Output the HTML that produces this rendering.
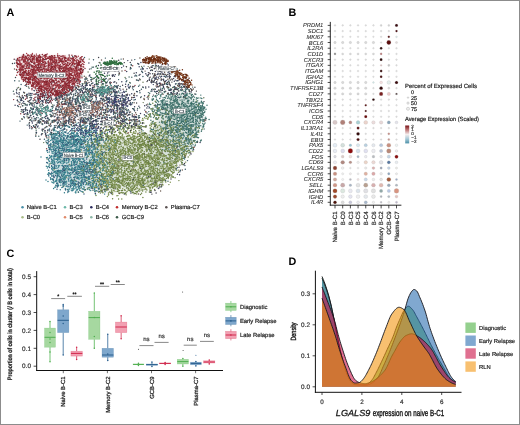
<!DOCTYPE html>
<html><head><meta charset="utf-8"><style>
html,body{margin:0;padding:0;background:#fff;}
#f{position:relative;width:520px;height:425px;overflow:hidden;background:#fff;}
svg{position:absolute;left:0;top:0;font-family:'Liberation Sans', sans-serif;will-change:transform;text-rendering:geometricPrecision;}
.bd{position:absolute;left:0;top:0;width:518px;height:423px;border:1px solid #8c8c8c;}
</style></head><body><div id="f">
<svg width="520" height="425" viewBox="0 0 520 425">
<text x="6.6" y="15.8" font-size="10.8" text-anchor="start" fill="#000" font-weight="bold">A</text>
<text x="288.6" y="16.2" font-size="10.8" text-anchor="start" fill="#000" font-weight="bold">B</text>
<text x="6.6" y="257" font-size="10.8" text-anchor="start" fill="#000" font-weight="bold">C</text>
<text x="288.6" y="265" font-size="10.8" text-anchor="start" fill="#000" font-weight="bold">D</text>
<defs><filter id="bl" x="-20%" y="-20%" width="140%" height="140%"><feGaussianBlur stdDeviation="3"/></filter><filter id="bl2" x="-20%" y="-20%" width="140%" height="140%"><feGaussianBlur stdDeviation="1.6"/></filter></defs>
<path d="M17.0 57.5L22.0 55.5L45.0 55.5L65.0 56.0L80.0 57.5L83.5 61.0L83.5 70.0L80.0 80.0L74.0 88.0L66.0 94.0L58.0 97.0L50.0 96.0L40.0 91.0L30.0 85.0L22.0 78.0L18.0 70.0L16.5 63.0Z" fill="#d8a8ae" fill-opacity="0.35" filter="url(#bl2)"/>
<defs><linearGradient id="lg" gradientUnits="userSpaceOnUse" x1="50" y1="150" x2="205" y2="130"><stop offset="0" stop-color="#a0bec4"/><stop offset="0.22" stop-color="#a2bec2"/><stop offset="0.36" stop-color="#b0c2ae"/><stop offset="0.55" stop-color="#b8c6ac"/><stop offset="0.75" stop-color="#adc2b4"/><stop offset="1" stop-color="#a4bebc"/></linearGradient></defs>
<path d="M52.0 140.0L70.0 134.0L95.0 140.0L120.0 138.0L148.0 137.0L160.0 116.0L166.0 99.0L177.0 93.0L192.0 97.0L199.0 106.0L201.0 120.0L196.0 136.0L188.0 149.0L178.0 162.0L169.0 174.0L159.0 184.0L140.0 190.0L110.0 190.0L90.0 187.0L72.0 188.0L60.0 185.0L53.0 176.0L51.0 158.0Z" fill="url(#lg)" fill-opacity="0.5" filter="url(#bl)"/>
<path d="M110.5 88.8h0M58.9 96.5h0M116.6 106.8h0M42.4 120.8h0M107.2 99.5h0M100.7 107.5h0M113.7 109.7h0M93.6 106.8h0M91.8 105.7h0M120.6 120.8h0M181.9 164.6h0M140.3 79.7h0M48.1 122.7h0M98.6 72.3h0M21.8 118.7h0M40.4 98.2h0M115.5 113.0h0M96.8 112.0h0M31.5 108.7h0M81.8 100.9h0M89.5 118.1h0M134.3 119.0h0M109.6 69.4h0M28.4 101.1h0M90.7 117.2h0M112.2 92.3h0M102.1 92.4h0M122.4 110.9h0M110.9 106.2h0M27.1 116.7h0M67.7 88.0h0M37.1 108.1h0M78.2 86.1h0M114.3 129.7h0M104.7 118.1h0M67.9 170.0h0M101.2 113.1h0M47.1 158.9h0M122.6 119.6h0M87.1 99.1h0M114.5 92.5h0M49.6 120.0h0M98.2 84.0h0M169.7 151.7h0M103.5 122.4h0M80.0 103.7h0M65.3 91.9h0M63.5 92.6h0M122.5 100.2h0M105.4 114.2h0M151.9 69.7h0M146.0 111.9h0M29.6 104.5h0M117.8 97.6h0M65.5 114.4h0M43.7 142.6h0M88.0 94.0h0M84.5 142.7h0M83.9 94.0h0M113.7 107.0h0M127.2 119.2h0M125.1 77.5h0M126.1 95.0h0M88.5 91.1h0M123.5 104.5h0M85.5 117.6h0M18.6 87.5h0M123.0 114.8h0M52.5 105.0h0M32.8 112.5h0M21.2 111.4h0M93.5 118.6h0M28.0 114.5h0M186.6 98.1h0M143.2 102.6h0M70.9 97.7h0M129.7 125.6h0M88.0 99.3h0M114.4 98.3h0M77.0 95.4h0M85.3 81.0h0M126.6 108.9h0M103.7 98.3h0M122.8 108.6h0M117.9 117.0h0M102.0 67.6h0M94.9 108.6h0M118.5 126.3h0M69.5 159.5h0M126.4 91.1h0M203.8 97.7h0M48.3 122.0h0M103.7 114.9h0M30.4 115.4h0M24.0 103.6h0M68.9 140.9h0M100.0 114.2h0M96.2 91.5h0M188.9 85.6h0M35.9 128.5h0M38.1 121.9h0M62.9 122.0h0M89.2 59.1h0M117.8 107.8h0M86.9 101.2h0M78.7 87.3h0M70.0 100.3h0M145.1 161.7h0M67.7 110.1h0M111.9 117.1h0M102.1 96.8h0M40.9 122.7h0M177.6 85.3h0M24.3 93.0h0M118.7 118.3h0M88.1 71.9h0M120.6 107.9h0M101.4 136.4h0M138.3 117.8h0M129.6 82.5h0M108.5 108.7h0M60.2 109.2h0M86.1 83.2h0M155.3 66.8h0M64.9 121.8h0M150.1 60.7h0M147.0 146.3h0M66.3 111.7h0M105.5 106.7h0M148.2 66.6h0M53.9 120.8h0M196.4 132.6h0M75.9 106.8h0M90.4 123.5h0M61.1 95.3h0M101.4 84.9h0M102.7 86.8h0M141.6 66.4h0M90.8 103.2h0M104.1 112.5h0M102.9 122.0h0M88.3 96.5h0M48.8 139.0h0M78.5 115.1h0M143.0 82.3h0M98.6 91.6h0M58.2 105.4h0M126.5 66.8h0M84.2 83.6h0M71.2 104.5h0" stroke="#6a7a5a" stroke-width="1.45" stroke-linecap="round" fill="none"/>
<path d="M128.1 99.0h0M96.4 129.1h0M118.3 100.0h0M122.4 104.1h0M113.6 90.7h0M78.9 126.2h0M110.0 129.8h0M104.8 92.9h0M115.3 100.2h0M107.3 106.7h0M88.7 131.8h0M95.6 128.9h0M119.2 95.6h0M123.5 104.7h0M94.9 132.2h0M100.5 98.8h0M123.4 106.0h0M87.9 132.2h0M119.0 101.5h0M89.8 132.3h0M96.3 122.0h0M113.5 91.7h0M86.5 133.9h0M120.8 109.9h0M93.0 124.4h0M83.0 132.8h0M102.9 135.7h0M87.1 130.7h0M118.6 101.9h0M119.4 101.2h0M100.0 128.9h0M105.9 130.8h0M79.7 126.0h0M112.0 103.1h0M121.9 101.1h0M125.2 98.1h0M85.8 129.5h0M118.3 105.7h0M93.8 127.6h0M119.1 102.0h0M92.3 124.2h0M119.4 103.5h0M125.3 100.4h0M86.7 132.8h0M113.3 101.3h0M102.8 94.7h0M77.1 125.8h0M106.2 96.2h0M127.4 112.1h0M129.0 100.6h0M114.6 108.4h0M84.7 130.4h0M123.5 98.6h0M117.9 101.3h0M126.9 105.5h0M125.1 100.4h0M90.2 122.2h0M112.1 96.5h0M100.2 124.6h0M86.5 127.8h0M115.3 102.2h0M111.3 101.2h0M93.1 127.2h0M86.0 126.3h0M114.2 100.2h0M98.0 135.6h0M120.5 100.0h0M101.5 130.5h0M107.2 99.3h0M102.9 132.3h0M114.4 104.9h0M89.4 129.4h0M85.3 121.5h0M96.7 103.3h0M80.6 130.9h0M114.7 93.0h0M123.0 96.6h0M117.7 107.1h0M101.0 133.0h0M111.3 102.1h0M96.5 136.4h0M93.1 121.6h0M111.4 106.9h0M78.4 130.6h0" stroke="#4a5278" stroke-width="1.45" stroke-linecap="round" fill="none"/>
<path d="M167.3 124.9h0M187.3 101.4h0M171.8 113.4h0M196.3 134.1h0M197.0 119.9h0M148.8 111.6h0M191.6 103.5h0M184.6 106.2h0M189.0 111.0h0M187.4 118.9h0M204.1 119.4h0M157.0 107.0h0M200.0 110.2h0M182.2 129.2h0M175.7 108.1h0M163.5 87.8h0M193.6 101.1h0M195.9 129.2h0M186.1 121.5h0M195.5 129.4h0M170.9 88.7h0M166.5 122.2h0M189.2 128.6h0M170.8 100.1h0M193.3 103.9h0M184.5 120.1h0M200.8 95.1h0M155.3 112.9h0M176.9 147.8h0M193.6 113.1h0M191.5 104.1h0M181.0 116.7h0M173.8 115.0h0M165.0 109.7h0M193.4 120.4h0M167.4 104.0h0M186.2 138.3h0M185.2 97.8h0M189.0 131.6h0M164.6 104.5h0M177.3 127.8h0M165.4 132.1h0M159.7 104.4h0M168.0 120.2h0M190.4 115.6h0M202.7 102.6h0M170.9 127.5h0M179.7 125.5h0M163.1 100.5h0M183.2 119.8h0M188.4 130.2h0M192.9 103.5h0M181.8 129.0h0M157.6 111.3h0M174.3 100.3h0M194.6 135.9h0M193.3 108.5h0M177.9 102.6h0M168.4 132.9h0M162.7 115.5h0M174.2 116.3h0M195.7 115.9h0M188.4 103.3h0M186.4 124.9h0M199.3 118.5h0M202.9 113.2h0M159.8 98.5h0M154.2 133.4h0M165.8 112.2h0M156.5 113.8h0M182.8 111.0h0M171.0 99.1h0M154.4 111.0h0M196.7 112.0h0M195.6 119.4h0M177.1 123.5h0M199.7 123.6h0M153.1 135.5h0M189.1 141.3h0M186.5 139.2h0M184.6 95.1h0M177.8 112.7h0M167.6 121.6h0M180.4 136.3h0M190.2 105.3h0M155.9 105.7h0M179.8 145.9h0M173.6 114.7h0M189.2 106.2h0M183.4 158.2h0M203.9 121.1h0M156.2 102.1h0M185.6 120.9h0M195.4 102.2h0M203.3 119.7h0M180.9 128.5h0M171.5 112.7h0M196.8 124.7h0M152.9 108.2h0M184.1 114.8h0M178.1 131.8h0M178.2 139.7h0M173.2 130.5h0M173.7 90.6h0M165.7 128.7h0M175.7 113.5h0M177.1 113.1h0M179.8 131.1h0M167.6 98.3h0M155.6 118.2h0M155.2 106.9h0M174.1 124.5h0M161.8 108.1h0M196.4 107.4h0M189.1 118.7h0M165.6 122.9h0M201.3 108.4h0M186.8 95.4h0M192.9 115.1h0M203.3 103.6h0M199.3 110.3h0M186.1 132.7h0M183.0 144.4h0M193.2 132.5h0M165.7 129.5h0M190.2 113.7h0M185.6 96.3h0M175.3 95.5h0M188.1 121.6h0M180.5 136.3h0M185.5 90.5h0M187.7 139.1h0M174.3 115.0h0M187.9 115.8h0M181.8 104.9h0M198.9 126.2h0M194.0 114.5h0M190.5 128.0h0M173.0 150.8h0M151.5 138.0h0M172.2 132.2h0M170.5 106.3h0M191.1 106.6h0M179.6 106.6h0M167.4 86.4h0M168.1 107.6h0M152.0 99.1h0M175.9 97.1h0M163.6 140.8h0M196.9 137.2h0M186.8 114.4h0M167.1 104.6h0M170.1 115.1h0M160.8 96.7h0M168.9 119.9h0M190.7 132.8h0M178.2 140.1h0M171.8 118.3h0M170.1 123.2h0M161.6 121.2h0M182.1 126.8h0M173.0 114.8h0M189.8 134.1h0M163.4 128.7h0M197.0 116.8h0M196.1 104.5h0M175.0 127.2h0M176.3 108.1h0M177.6 106.7h0M171.4 125.6h0M186.1 122.1h0M186.7 94.4h0M157.8 133.4h0M201.1 114.9h0M187.2 110.0h0M165.2 124.4h0M170.0 104.5h0M182.3 155.6h0M200.8 113.5h0M204.6 112.2h0M199.1 126.1h0M162.7 121.9h0M169.0 143.8h0M187.1 112.0h0M177.0 116.2h0M185.8 91.8h0M180.0 108.9h0M184.3 150.6h0M169.0 89.2h0M174.6 100.3h0M176.7 100.2h0M164.8 109.2h0M190.5 116.3h0M165.5 97.9h0M192.3 97.0h0M162.6 101.8h0M188.7 132.8h0M158.1 104.8h0M180.2 126.5h0M173.8 114.5h0M171.6 116.9h0M170.3 130.9h0M177.1 102.5h0M172.3 130.4h0M162.9 122.8h0M183.5 104.7h0M175.4 111.4h0M190.9 138.2h0M171.9 121.4h0M202.0 114.2h0M202.4 114.5h0M188.1 114.1h0M168.6 116.6h0M174.2 101.0h0M160.6 132.5h0M160.8 126.7h0M165.1 102.8h0M174.7 115.5h0M175.8 135.2h0M172.6 95.0h0M165.3 131.8h0M176.3 131.1h0M203.2 108.4h0M190.3 139.5h0M192.5 109.3h0M172.6 132.1h0M202.7 104.1h0M179.5 104.5h0M157.1 95.3h0M191.8 97.5h0M198.5 137.7h0M161.0 106.7h0M163.1 115.5h0M174.1 140.8h0M191.0 143.8h0M179.7 118.2h0M173.6 121.8h0M203.4 120.1h0M169.4 125.6h0M187.1 107.9h0M175.9 137.1h0M197.0 132.4h0M193.4 117.8h0M170.5 110.8h0M197.6 137.4h0M176.2 135.2h0M201.1 115.5h0M187.8 116.8h0M163.2 106.9h0M193.4 118.9h0M170.2 108.6h0M162.6 115.9h0M155.1 126.6h0M152.3 100.2h0M181.3 119.0h0M185.1 116.5h0M171.3 106.4h0M191.4 145.9h0M179.8 131.4h0M189.7 130.1h0M196.6 127.8h0M162.4 113.4h0M169.0 94.7h0M164.1 103.9h0M186.6 129.8h0M186.8 109.6h0M178.7 130.0h0M161.9 112.9h0M194.4 107.5h0M203.8 126.0h0M190.5 97.9h0M191.0 110.1h0M178.1 134.6h0M191.8 132.7h0M164.7 97.5h0M179.4 97.7h0M165.6 117.0h0M180.9 115.2h0M187.6 129.0h0M201.3 116.3h0M206.2 118.5h0M169.1 117.1h0M171.5 136.4h0M174.1 91.5h0M166.9 124.5h0M190.0 122.0h0M199.0 104.7h0M191.0 125.0h0M170.7 133.2h0M185.0 126.4h0M187.8 124.5h0M163.6 108.0h0M183.0 110.4h0M195.0 137.3h0M197.8 131.1h0M169.0 81.3h0M163.2 119.1h0M177.6 120.4h0M196.4 112.0h0M188.8 106.6h0M166.4 116.5h0M179.6 144.7h0M201.6 115.0h0M164.9 104.6h0M176.8 125.0h0M198.0 105.1h0M163.4 136.9h0M171.5 129.3h0M184.1 128.1h0M191.5 108.9h0M173.7 110.0h0M199.2 103.9h0M195.6 117.1h0M176.2 108.5h0M155.2 96.4h0M155.7 102.0h0M162.1 103.9h0M165.8 111.6h0M168.7 111.7h0M164.2 105.0h0M196.1 104.3h0M168.2 143.8h0M203.2 110.3h0M161.2 133.1h0M190.4 148.6h0M189.9 97.4h0M193.4 132.4h0M193.5 137.3h0M186.0 126.7h0M190.8 105.5h0M194.3 107.9h0M186.9 98.4h0M165.1 134.1h0M177.4 109.6h0M162.7 149.8h0M195.2 112.5h0M203.5 126.9h0M167.5 106.5h0M177.2 88.1h0M160.3 141.6h0M182.1 121.8h0M166.7 136.9h0M164.1 107.9h0M186.4 119.4h0M176.5 107.4h0M199.0 116.8h0M174.4 87.7h0M181.9 122.0h0M153.0 129.8h0M187.0 106.3h0M181.8 103.2h0M193.7 111.3h0M174.7 115.8h0M174.7 96.1h0M192.2 131.4h0M192.7 118.8h0M184.9 144.2h0M177.9 149.4h0M184.3 107.9h0M185.2 119.5h0M178.8 117.2h0M195.0 140.4h0M183.3 115.7h0M181.5 135.8h0M176.4 100.7h0M184.9 96.3h0M178.9 120.9h0M159.1 90.7h0M174.3 112.8h0M176.7 110.0h0M181.5 104.1h0M190.6 134.4h0M202.9 121.6h0M150.3 113.9h0M181.5 86.4h0M159.4 132.6h0M186.9 146.6h0M171.9 124.8h0M179.1 151.1h0M189.0 142.8h0M155.4 95.8h0M173.9 123.7h0M172.2 125.1h0M186.2 118.6h0M195.6 121.7h0M169.8 124.4h0M209.1 119.4h0M196.3 99.1h0M200.9 98.0h0M162.6 116.5h0M160.1 141.2h0M192.1 112.0h0M162.4 107.4h0M143.7 133.3h0M154.9 110.0h0M200.7 110.3h0M192.0 133.5h0M171.5 128.6h0M181.3 153.5h0M173.5 109.1h0M165.7 126.9h0M200.0 103.0h0M161.8 101.3h0M167.1 104.0h0M184.5 130.2h0M174.2 103.0h0M158.7 94.3h0M173.8 114.2h0M181.7 104.4h0M183.7 121.7h0M183.1 119.7h0M199.0 106.5h0M202.9 113.7h0M181.0 90.4h0M199.1 126.6h0M190.5 130.4h0M186.3 137.7h0M175.8 135.3h0M181.0 125.2h0M185.8 139.3h0M184.8 96.7h0M201.9 98.6h0M167.6 110.3h0M179.3 129.5h0M167.1 105.3h0M185.7 106.7h0M152.8 99.8h0M197.3 106.3h0M181.8 107.0h0M173.6 128.4h0M173.9 133.7h0M191.4 148.5h0M174.2 112.2h0M166.1 124.8h0M195.5 129.3h0M195.2 124.9h0M167.3 126.3h0M184.5 146.4h0M193.3 148.4h0M192.5 150.1h0M171.6 109.5h0M181.1 134.0h0M184.0 105.9h0M197.3 98.3h0M185.0 125.8h0M174.7 150.6h0M156.3 117.7h0M192.9 121.4h0M194.0 106.7h0M193.5 126.1h0M183.9 91.6h0M177.3 146.0h0M161.2 139.8h0M180.4 123.2h0M175.8 114.4h0M178.0 123.3h0M184.1 104.7h0M178.0 97.6h0M175.0 96.1h0M164.3 91.5h0M181.8 117.7h0M188.6 139.3h0M191.5 128.8h0M166.2 113.0h0M194.2 103.8h0M150.9 117.1h0M191.8 126.4h0M171.4 105.7h0M169.8 118.5h0M193.9 115.4h0M188.4 138.6h0M165.0 114.2h0M182.5 115.9h0M200.1 109.1h0M197.7 121.2h0M178.6 121.4h0M177.5 130.1h0M190.6 125.2h0M200.7 105.8h0M174.6 119.5h0M173.5 124.4h0M194.9 128.9h0M175.6 130.2h0M179.1 109.8h0M177.9 133.0h0M187.7 121.2h0M175.0 145.9h0M187.6 143.2h0M166.6 84.3h0M184.5 142.0h0M174.2 146.9h0M171.7 132.3h0M201.1 140.6h0M157.4 119.3h0M166.1 109.6h0M194.0 141.2h0M196.4 134.0h0M149.2 104.5h0M165.1 113.2h0M169.6 104.8h0M169.6 122.9h0M175.7 106.3h0M164.4 123.1h0M193.8 130.3h0M163.1 97.7h0M188.4 131.5h0M180.9 96.2h0M197.2 113.2h0M145.4 115.9h0M173.4 119.1h0M198.6 126.5h0M163.9 143.8h0M163.5 129.3h0M157.1 108.3h0M183.3 151.2h0M190.0 110.9h0M177.8 111.3h0M167.2 124.2h0M191.2 126.5h0M170.0 101.9h0M196.3 120.2h0M193.2 119.0h0M200.7 108.3h0M169.7 143.7h0M192.2 130.1h0M195.6 113.3h0M196.4 122.9h0M185.6 132.2h0M196.6 142.2h0M171.9 135.1h0M185.4 96.7h0M185.9 122.0h0M157.4 105.4h0M199.3 128.2h0M177.4 137.1h0M184.9 149.3h0M171.3 109.3h0M178.2 104.6h0M177.6 101.2h0M162.5 128.1h0M158.7 134.1h0M178.8 134.8h0M177.3 122.5h0M191.5 105.1h0M177.7 111.9h0M169.9 98.6h0M157.8 110.5h0M164.0 99.8h0M191.6 102.2h0M191.2 122.2h0M166.9 128.5h0M172.1 106.8h0M195.1 123.9h0M172.7 104.8h0M157.9 115.2h0M191.4 95.5h0M179.7 141.2h0M182.4 115.6h0M198.5 122.9h0M168.2 93.1h0M166.8 105.4h0M153.3 98.6h0M182.0 99.9h0M189.6 134.1h0M174.8 107.7h0M180.4 107.8h0M200.5 140.9h0M172.8 108.7h0M148.5 95.7h0M165.7 101.1h0M177.4 108.0h0M164.5 122.8h0M196.3 133.8h0M186.5 122.4h0M172.5 102.6h0M188.9 109.6h0M186.3 98.6h0M192.4 121.3h0M201.8 129.8h0M192.4 112.1h0M173.2 100.5h0M202.6 117.0h0M164.2 121.6h0M207.0 105.2h0M172.4 130.1h0M171.7 122.7h0M183.3 113.9h0M178.7 88.5h0M195.4 134.8h0M165.8 113.0h0M189.5 134.5h0M184.0 136.0h0M162.8 138.0h0M164.1 133.5h0M175.9 140.0h0M178.8 142.8h0M182.9 129.9h0M173.3 91.6h0M168.0 117.8h0M189.6 116.1h0M188.2 138.4h0M176.6 158.0h0M185.4 95.0h0M183.4 124.7h0M179.5 97.4h0M166.3 95.5h0M164.0 127.7h0M186.8 140.2h0M187.7 100.2h0M183.6 112.6h0M159.7 115.5h0M171.6 115.6h0M178.7 149.7h0M205.6 118.6h0M178.9 120.7h0M173.5 155.5h0M168.2 96.2h0M190.7 120.1h0M164.2 99.8h0M166.2 116.5h0M159.1 114.5h0M188.5 144.1h0M182.9 110.2h0M201.4 101.9h0M173.6 123.5h0M176.6 110.1h0M170.2 132.8h0M195.0 124.3h0M166.7 109.8h0M151.9 123.0h0M195.4 107.8h0M199.0 125.3h0M158.5 114.9h0M172.1 107.8h0M177.6 117.7h0M182.3 121.5h0M173.5 104.5h0M155.5 112.6h0M193.1 124.8h0M153.5 99.1h0M191.1 125.0h0M198.4 131.5h0M198.5 107.7h0M188.8 96.6h0M186.3 111.3h0M195.5 130.3h0M186.3 146.2h0M196.8 102.3h0M188.4 111.3h0M185.3 114.5h0M190.4 135.1h0M167.2 132.4h0M196.3 112.3h0M167.1 107.9h0M194.7 140.7h0M167.8 140.8h0M173.6 139.4h0M185.4 138.0h0M167.5 105.0h0M182.3 162.6h0M171.1 111.1h0M162.5 99.9h0M175.2 126.8h0M175.7 113.9h0M168.5 113.3h0M184.1 124.7h0M190.0 124.7h0M187.0 86.6h0M170.1 94.8h0M186.3 124.1h0M153.2 114.2h0M162.9 105.5h0M156.3 97.0h0M159.1 108.0h0M172.7 141.2h0M186.1 105.3h0M173.4 137.8h0M170.0 130.8h0M185.5 128.9h0M188.3 134.4h0M186.7 126.1h0M201.5 109.9h0M180.1 117.6h0M158.2 104.8h0M172.3 107.5h0M193.7 99.5h0M187.1 93.3h0M156.5 99.3h0M193.3 140.7h0M152.7 134.9h0M175.6 126.4h0M157.2 100.4h0M173.0 130.0h0M194.7 111.7h0M187.8 106.7h0M164.6 113.6h0M189.1 132.0h0M175.7 143.9h0M175.5 99.2h0M194.7 112.5h0M152.7 96.6h0M183.4 102.6h0M157.7 104.0h0M167.3 120.6h0M184.5 110.1h0M152.5 111.2h0M179.8 106.8h0M183.9 135.1h0M186.6 151.8h0M150.5 115.1h0M181.0 113.7h0M170.4 126.5h0M174.7 112.2h0M165.9 109.3h0M190.2 122.1h0M188.0 123.4h0M201.4 131.3h0M194.8 146.1h0M197.7 106.1h0M197.7 134.6h0M197.7 111.4h0M169.4 117.3h0M178.4 105.0h0M162.6 101.1h0M190.0 97.4h0M166.2 96.2h0M164.3 133.1h0M185.8 146.3h0M185.8 126.3h0M173.4 87.0h0M186.9 116.0h0M204.2 108.5h0M182.3 127.8h0M189.6 110.7h0M163.1 104.1h0M150.9 120.3h0M161.2 94.8h0M173.3 113.8h0M175.5 124.2h0M181.1 121.3h0M183.0 118.4h0M200.2 119.3h0M151.7 129.5h0M176.8 119.9h0M185.7 96.0h0M183.7 127.0h0M183.7 97.8h0M175.4 130.5h0M172.1 103.3h0M204.4 123.9h0M180.8 97.3h0M161.4 131.9h0M177.4 155.8h0M175.7 101.2h0M201.2 119.9h0M185.0 113.8h0M179.2 143.7h0M191.5 107.0h0M179.7 136.1h0M173.2 108.0h0M165.4 123.6h0M167.2 125.0h0M168.7 135.6h0M189.7 142.0h0M195.1 133.8h0M191.0 94.1h0M192.2 112.9h0M167.7 134.4h0M177.3 114.7h0M191.9 118.6h0M172.0 116.1h0M183.7 133.0h0M166.7 141.0h0M184.6 158.9h0M181.2 122.8h0M190.2 128.7h0M173.1 140.3h0M190.6 116.7h0M186.7 132.8h0M176.1 83.7h0M181.1 149.7h0M156.8 112.4h0M174.5 101.6h0M187.8 118.2h0M187.2 120.7h0M183.4 106.0h0M190.7 144.1h0M170.3 144.8h0M197.8 117.6h0M179.1 153.3h0M179.4 123.4h0M178.8 103.5h0M190.7 114.1h0M168.8 119.1h0M183.4 121.3h0M194.0 107.8h0M192.5 126.6h0M188.8 113.4h0M176.4 131.3h0M195.4 134.7h0M201.2 139.9h0M196.0 133.0h0M190.1 122.3h0M177.0 117.9h0M202.4 105.4h0M191.0 113.4h0M163.2 108.9h0M171.1 133.1h0M173.5 109.1h0M166.0 127.7h0M179.6 139.6h0M153.5 129.2h0M175.8 135.4h0M184.8 123.5h0M155.3 92.0h0M177.2 143.5h0M187.3 107.7h0M159.3 104.8h0M175.1 99.8h0M161.8 117.7h0M153.4 111.6h0M173.8 102.1h0M162.9 102.4h0M188.9 125.5h0M194.0 115.3h0M180.9 110.9h0M195.4 144.9h0M176.2 132.2h0M165.2 109.9h0M172.1 116.0h0M167.5 131.5h0M194.2 105.8h0M196.2 123.3h0M153.2 132.0h0M182.2 134.1h0M186.4 146.6h0M196.0 120.8h0M194.8 114.9h0M182.7 103.2h0M196.6 104.5h0M157.4 113.9h0M203.3 112.9h0M170.2 119.7h0M186.4 128.7h0M195.6 115.1h0M204.8 107.2h0M176.9 103.0h0M188.6 129.7h0M171.5 145.3h0M176.8 125.7h0M170.2 107.1h0M162.0 131.3h0M162.4 113.6h0M204.9 111.1h0M183.4 134.5h0M157.4 106.4h0M175.6 98.4h0M199.9 109.2h0M192.3 117.0h0M155.8 125.5h0M191.3 140.0h0M158.5 101.6h0M156.9 110.3h0M190.8 119.3h0M165.5 104.0h0M181.1 135.2h0M181.9 109.0h0M183.8 151.7h0M202.9 114.8h0M173.9 115.3h0M190.6 119.8h0M181.9 153.1h0M173.7 105.1h0M185.0 122.4h0M165.6 107.9h0M160.6 104.1h0M179.6 109.0h0M177.7 125.3h0M187.2 135.4h0M191.5 124.7h0M167.8 128.3h0M165.8 124.5h0M161.7 122.3h0M203.8 107.0h0M173.0 144.0h0M188.4 121.3h0M191.7 133.8h0M151.1 108.7h0M188.8 100.1h0M180.1 133.2h0M172.1 104.9h0M200.8 125.7h0M190.6 129.0h0M198.2 106.1h0M179.1 127.0h0M189.6 139.5h0M197.4 110.6h0M182.3 93.2h0M150.7 104.4h0M186.6 141.1h0M176.2 103.0h0M194.8 106.8h0M182.6 138.8h0M184.3 117.4h0M166.3 104.6h0M157.7 100.7h0M181.4 122.5h0M181.9 142.5h0M173.7 123.5h0M152.3 99.7h0M195.7 107.8h0M189.9 126.1h0M181.1 112.8h0M199.5 117.2h0M185.9 145.4h0M195.2 116.9h0M192.3 94.4h0M188.2 101.2h0M177.2 129.3h0M182.0 116.0h0M185.7 104.1h0M192.1 125.0h0M201.2 117.3h0M179.9 120.0h0M169.8 119.0h0M188.9 100.8h0M202.6 108.9h0M182.7 126.3h0M159.4 114.8h0M191.2 102.6h0M181.4 90.6h0M173.2 128.8h0M177.5 99.5h0M162.5 103.0h0M183.0 102.8h0M187.2 105.9h0M192.9 131.6h0M178.1 114.4h0M188.2 128.8h0M166.9 114.4h0M171.4 94.1h0M186.7 89.6h0M160.1 162.8h0M200.4 115.8h0M172.3 105.1h0M193.6 119.0h0M190.9 134.1h0M197.7 110.0h0M156.1 145.4h0M202.4 111.8h0M178.5 141.0h0M166.3 147.0h0M171.9 98.1h0M175.0 129.6h0M199.7 115.5h0M185.6 98.8h0M164.7 108.9h0M188.8 108.7h0M166.9 122.4h0M178.3 128.6h0M170.1 134.9h0M170.5 126.1h0M201.4 110.6h0M188.9 123.1h0M176.0 106.4h0M199.5 109.6h0M196.1 134.1h0M185.9 145.5h0M195.9 136.5h0M184.8 103.1h0M195.0 110.4h0M173.6 135.9h0M199.1 112.7h0M161.9 105.9h0M160.5 95.3h0M193.7 122.4h0M160.9 114.7h0M181.7 115.2h0M159.0 140.2h0M171.7 93.7h0M189.5 106.5h0M171.0 96.9h0M172.0 111.3h0M199.1 103.4h0M160.0 110.9h0M199.2 118.0h0M196.0 136.6h0M201.7 116.7h0M192.7 122.1h0M171.0 135.6h0M191.4 98.9h0M206.0 109.2h0M172.3 135.8h0M198.3 113.4h0M171.2 102.9h0M181.8 129.1h0M195.1 109.8h0M191.9 118.2h0M191.9 104.7h0M173.6 109.4h0M187.6 120.7h0M183.4 93.9h0M168.7 149.0h0M158.6 111.1h0M183.4 128.5h0M150.9 129.0h0M168.5 114.4h0M179.3 109.0h0M183.1 135.2h0M173.9 112.4h0M196.5 135.0h0M193.2 101.2h0M181.6 129.2h0M182.0 120.2h0M181.6 89.9h0M153.0 109.2h0M186.4 94.5h0M189.8 112.2h0M196.0 121.4h0M200.4 107.2h0M185.7 111.8h0M184.9 116.4h0M161.5 109.0h0M162.4 88.4h0M189.1 130.5h0M192.9 115.6h0M183.6 135.3h0M157.4 108.8h0M158.6 101.8h0M192.7 113.7h0M182.7 114.0h0M164.7 105.7h0M170.6 103.3h0M191.0 126.0h0M160.4 112.8h0M166.6 83.4h0M178.7 106.4h0M184.4 136.1h0M175.0 107.1h0M191.3 118.3h0M188.2 118.4h0M202.9 106.7h0M195.7 119.1h0M169.1 117.4h0M201.4 101.2h0M195.4 128.1h0M161.2 100.6h0M204.2 112.4h0M198.6 109.2h0M174.8 143.8h0M176.4 96.6h0M174.9 108.6h0M176.2 143.5h0M158.6 108.9h0M200.2 120.6h0M177.7 140.3h0M151.0 91.3h0M183.3 97.6h0M181.5 148.5h0M184.1 99.9h0M187.7 127.2h0M182.2 87.6h0M166.4 133.9h0M153.5 117.6h0M158.4 109.0h0M169.6 121.3h0M167.1 101.2h0M174.3 144.1h0M171.5 99.6h0M177.5 132.0h0M201.9 103.1h0M176.0 98.5h0M179.7 104.6h0M168.7 130.7h0M182.5 101.5h0M191.2 110.0h0M186.7 148.7h0M183.8 114.0h0M186.7 113.3h0M158.6 109.2h0M165.2 104.0h0M157.8 138.6h0M172.2 121.5h0M175.3 96.7h0M195.8 94.2h0M150.9 116.8h0M183.1 124.7h0M168.9 116.4h0M196.2 126.4h0M202.2 106.8h0M177.4 128.3h0M168.9 117.0h0M154.4 115.7h0M201.2 107.8h0M196.6 123.3h0M203.4 125.7h0M177.3 158.3h0M186.5 117.8h0M171.4 112.8h0M195.1 109.6h0M167.6 133.1h0M162.1 93.6h0M198.8 107.8h0M169.9 123.1h0M188.6 129.9h0M181.5 94.1h0M202.8 112.9h0M190.5 103.2h0M192.9 113.6h0M193.6 104.3h0M177.5 93.8h0M198.5 103.1h0M197.5 141.3h0M181.5 117.4h0M181.5 116.4h0" stroke="#3a6e68" stroke-width="1.45" stroke-linecap="round" fill="none"/>
<path d="M151.1 141.6h0M87.4 169.6h0M146.6 157.8h0M133.8 138.8h0M111.3 170.5h0M127.9 152.4h0M137.5 147.1h0M112.7 154.3h0M136.6 157.2h0M147.9 145.3h0M114.4 163.8h0M130.8 138.2h0M136.8 187.5h0M125.4 179.4h0M119.1 175.9h0M147.6 160.6h0M150.5 174.2h0M145.7 144.7h0M100.3 159.2h0M145.5 157.5h0M111.7 158.1h0M166.4 158.1h0M105.7 138.9h0M170.9 165.6h0M106.6 155.1h0M154.9 172.9h0M162.5 170.9h0M169.2 175.0h0M151.2 153.6h0M162.3 178.8h0M127.4 183.4h0M144.7 142.4h0M140.9 160.2h0M92.9 182.1h0M140.2 168.2h0M135.3 169.5h0M100.2 185.1h0M139.3 126.8h0M141.9 145.4h0M128.4 144.3h0M168.6 170.4h0M133.2 183.0h0M127.5 164.2h0M128.8 154.0h0M140.3 151.9h0M111.6 138.3h0M117.6 170.6h0M168.1 176.2h0M167.4 168.9h0M101.6 176.4h0M181.0 128.9h0M174.4 122.3h0M162.3 151.1h0M138.4 143.2h0M146.2 154.6h0M93.8 160.2h0M132.8 192.1h0M104.9 186.5h0M88.4 152.6h0M147.8 155.7h0M110.1 163.9h0M156.4 177.4h0M163.5 170.3h0M118.0 180.8h0M134.0 193.7h0M144.2 141.1h0M159.3 141.4h0M139.8 159.9h0M99.0 180.9h0M64.6 161.1h0M100.7 162.5h0M111.8 132.9h0M128.4 188.2h0M121.1 155.1h0M109.0 155.0h0M156.5 142.0h0M105.5 152.5h0M152.9 140.3h0M149.1 148.8h0M131.1 128.0h0M111.7 186.0h0M138.2 160.7h0M153.6 171.8h0M114.8 151.3h0M111.4 184.7h0M135.2 138.7h0M114.3 150.2h0M133.5 166.3h0M172.0 164.4h0M176.9 159.1h0M148.0 137.2h0M103.8 185.5h0M86.3 178.5h0M131.4 166.1h0M84.8 154.4h0M139.7 154.8h0M143.7 141.1h0M169.1 159.6h0M118.4 155.5h0M133.6 152.4h0M132.0 153.5h0M165.5 121.0h0M115.3 158.4h0M112.3 168.6h0M102.9 181.1h0M167.6 177.2h0M125.7 193.6h0M87.7 189.1h0M173.8 142.0h0M100.8 180.4h0M131.1 143.4h0M164.1 173.3h0M140.1 144.5h0M115.5 148.7h0M109.0 176.7h0M93.0 160.5h0M142.2 150.5h0M170.5 144.7h0M126.2 194.8h0M116.5 168.2h0M112.2 166.6h0M144.1 142.9h0M114.2 132.3h0M145.5 145.6h0M149.7 155.0h0M129.2 124.9h0M134.7 193.1h0M112.1 178.8h0M107.3 147.2h0M102.1 186.0h0M155.3 180.7h0M116.6 160.1h0M133.9 171.0h0M150.1 181.3h0M106.1 179.7h0M137.8 173.0h0M104.3 133.5h0M182.3 152.8h0M118.8 126.6h0M122.6 164.9h0M139.5 146.2h0M142.5 168.5h0M155.2 182.7h0M119.7 169.2h0M114.4 173.7h0M104.3 189.3h0M136.5 173.7h0M169.0 145.2h0M166.1 170.3h0M106.0 134.3h0M133.2 163.2h0M103.8 182.0h0M181.0 148.3h0M150.3 153.4h0M160.4 157.2h0M154.5 126.6h0M139.8 135.0h0M126.4 185.6h0M126.0 133.7h0M107.4 133.7h0M99.5 177.2h0M161.2 154.0h0M139.1 130.8h0M187.6 151.0h0M108.2 180.2h0M147.9 180.3h0M117.7 137.3h0M166.2 155.6h0M150.4 130.7h0M134.1 159.7h0M105.9 171.6h0M169.9 169.2h0M141.6 173.2h0M155.4 149.6h0M149.9 147.6h0M149.0 145.3h0M150.2 163.8h0M134.9 169.6h0M172.9 169.8h0M150.7 184.5h0M133.0 187.9h0M168.8 169.7h0M137.2 128.4h0M115.2 143.8h0M103.5 183.4h0M175.6 154.6h0M139.6 158.8h0M140.3 156.0h0M159.3 152.3h0M143.2 167.0h0M163.0 139.5h0M105.5 182.8h0M151.1 144.5h0M109.5 175.7h0M108.8 184.6h0M92.0 142.2h0M153.9 114.4h0M100.3 150.2h0M188.7 150.4h0M184.5 155.2h0M120.6 133.2h0M116.9 139.1h0M117.4 188.7h0M102.4 187.3h0M88.0 187.9h0M168.3 136.2h0M113.8 159.4h0M178.4 150.7h0M82.1 169.6h0M145.6 156.9h0M127.5 148.3h0M132.7 188.3h0M170.5 154.2h0M142.2 120.2h0M117.8 180.7h0M163.2 144.4h0M84.2 156.3h0M96.2 136.5h0M102.7 154.7h0M151.0 171.2h0M108.7 135.8h0M83.6 166.8h0M109.5 161.9h0M101.9 158.8h0M83.4 165.4h0M179.2 143.9h0M96.0 171.3h0M164.9 145.8h0M139.2 182.6h0M113.8 188.5h0M118.3 156.1h0M149.2 149.5h0M125.3 165.1h0M149.1 145.5h0M152.2 184.3h0M154.9 145.7h0M110.0 148.8h0M154.2 148.0h0M144.4 153.7h0M118.8 190.5h0M167.0 137.8h0M119.7 134.1h0M189.4 152.4h0M100.8 190.6h0M151.9 183.6h0M123.1 165.2h0M178.5 154.3h0M116.8 143.0h0M145.3 166.8h0M108.1 162.7h0M111.9 138.1h0M161.0 182.6h0M153.4 142.0h0M117.7 140.9h0M150.0 141.5h0M116.0 147.1h0M171.6 130.6h0M128.6 167.4h0M170.6 167.4h0M98.5 143.4h0M121.8 173.1h0M147.7 141.7h0M142.1 172.9h0M117.8 137.1h0M94.3 165.5h0M128.2 164.7h0M162.2 146.8h0M147.5 174.6h0M148.9 97.1h0M75.2 180.4h0M152.9 136.8h0M178.9 180.6h0M99.5 145.6h0M135.0 136.3h0M106.0 143.4h0M100.1 153.7h0M106.9 167.3h0M140.1 182.4h0M128.7 164.7h0M157.5 115.0h0M137.0 161.4h0M95.5 172.0h0M110.7 129.1h0M98.9 182.0h0M119.0 144.1h0M144.4 133.8h0M161.6 144.6h0M159.1 179.6h0M104.4 176.6h0M118.5 136.1h0M111.8 186.7h0M136.0 123.2h0M163.9 155.2h0M171.4 157.6h0M115.8 142.7h0M96.4 172.4h0M148.4 147.3h0M106.3 129.5h0M100.4 193.1h0M138.2 174.0h0M164.0 160.5h0M182.3 149.0h0M146.0 133.6h0M133.5 142.2h0M115.5 155.3h0M93.7 182.0h0M161.1 182.0h0M151.3 167.4h0M116.5 155.4h0M147.9 173.2h0M156.2 115.2h0M141.2 130.9h0M133.8 165.6h0M142.5 164.4h0M114.4 145.7h0M91.2 142.6h0M141.8 157.3h0M104.8 146.2h0M161.8 159.9h0M180.2 155.1h0M125.0 193.5h0M168.5 162.9h0M166.5 174.1h0M158.6 144.9h0M157.3 171.9h0M103.9 158.6h0M93.8 181.9h0M94.1 147.2h0M135.8 144.3h0M138.4 182.1h0M140.3 128.7h0M152.2 147.5h0M158.6 141.0h0M151.0 167.4h0M121.2 171.6h0M155.1 138.4h0M107.1 161.9h0M143.6 144.1h0M155.9 140.1h0M125.6 131.0h0M137.5 155.5h0M156.0 160.2h0M162.6 158.5h0M153.3 169.7h0M117.6 168.6h0M107.8 171.7h0M102.4 176.0h0M164.5 156.5h0M118.2 137.6h0M185.8 146.4h0M138.6 149.4h0M138.6 140.3h0M117.5 150.9h0M161.1 109.5h0M145.8 175.0h0M123.3 152.6h0M113.5 128.2h0M154.5 123.5h0M130.3 176.4h0M141.1 145.9h0M173.3 142.2h0M123.8 175.9h0M156.1 145.5h0M189.5 150.8h0M153.0 123.8h0M154.4 173.7h0M126.9 160.3h0M105.1 164.7h0M150.5 138.5h0M112.2 140.3h0M155.8 139.0h0M109.5 158.7h0M105.4 124.3h0M76.5 184.5h0M147.4 142.0h0M182.9 149.0h0M151.9 179.1h0M117.5 151.3h0M190.8 128.7h0M132.2 150.3h0M133.3 179.5h0M154.7 160.9h0M150.3 146.6h0M172.3 152.1h0M163.9 164.0h0M160.2 179.9h0M157.4 181.2h0M156.6 136.5h0M98.1 146.9h0M129.7 158.0h0M170.5 151.7h0M149.2 135.0h0M111.7 190.0h0M105.1 164.2h0M93.4 163.3h0M151.7 143.9h0M172.2 161.0h0M144.4 180.6h0M102.5 170.7h0M97.1 179.4h0M118.7 122.8h0M163.1 177.4h0M133.9 148.9h0M142.7 118.5h0M100.1 158.4h0M133.8 177.8h0M160.0 177.6h0M135.0 174.2h0M129.6 190.4h0M151.6 158.8h0M118.6 198.9h0M137.3 191.7h0M131.2 160.5h0M125.8 152.3h0M145.4 145.5h0M109.1 149.3h0M102.4 176.2h0M108.2 163.5h0M122.8 163.2h0M176.2 168.2h0M160.9 140.4h0M149.9 150.7h0M150.0 146.3h0M99.9 183.5h0M153.1 157.9h0M124.3 171.0h0M141.1 188.0h0M135.9 145.7h0M106.0 169.0h0M119.8 132.5h0M170.1 152.5h0M111.0 143.6h0M92.6 183.7h0M148.5 171.8h0M83.7 172.7h0M175.1 151.0h0M163.0 171.9h0M160.7 146.8h0M144.7 156.4h0M143.5 120.1h0M103.6 174.3h0M128.8 128.4h0M124.8 166.5h0M120.3 125.7h0M125.9 127.3h0M118.1 191.2h0M175.5 154.5h0M97.4 133.8h0M104.4 179.8h0M141.0 166.2h0M130.2 174.1h0M167.3 158.2h0M137.6 176.1h0M124.7 178.4h0M142.6 154.2h0M135.4 193.5h0M119.6 181.9h0M99.6 165.1h0M114.3 141.1h0M168.3 154.4h0M139.5 136.2h0M107.2 147.5h0M168.7 145.5h0M153.1 143.3h0M184.2 152.0h0M125.0 171.7h0M132.9 126.6h0M163.1 154.0h0M172.3 176.9h0M155.5 166.0h0M112.9 163.7h0M119.0 192.9h0M111.8 175.2h0M110.3 179.6h0M168.8 128.2h0M122.9 165.9h0M144.3 141.1h0M166.9 166.0h0M170.9 155.5h0M162.1 140.4h0M86.4 184.6h0M116.5 179.6h0M124.8 166.0h0M109.4 148.2h0M170.9 127.6h0M135.2 163.3h0M128.9 148.7h0M141.5 137.5h0M101.6 173.4h0M148.7 139.1h0M154.4 162.1h0M132.0 170.4h0M120.5 183.0h0M128.4 190.0h0M130.4 131.7h0M160.4 153.6h0M101.4 146.6h0M148.3 155.3h0M134.0 150.2h0M184.5 147.3h0M192.5 135.5h0M148.4 142.5h0M140.2 125.9h0M88.3 156.3h0M92.4 153.3h0M116.8 168.7h0M118.2 174.1h0M152.2 131.1h0M105.0 190.2h0M151.3 181.3h0M148.9 177.0h0M156.3 162.4h0M106.9 188.6h0M103.7 145.7h0M113.7 135.6h0M121.2 133.6h0M113.6 161.1h0M173.5 127.0h0M103.7 181.6h0M155.5 155.6h0M155.8 134.5h0M155.6 131.9h0M137.5 139.7h0M188.2 157.0h0M129.0 189.1h0M159.7 155.1h0M153.6 168.9h0M163.7 180.0h0M133.2 169.6h0M128.3 151.4h0M157.8 158.2h0M127.0 159.2h0M172.7 166.7h0M88.0 141.9h0M166.6 139.4h0M153.8 167.9h0M137.3 177.7h0M132.7 127.7h0M106.9 181.4h0M120.0 161.6h0M157.4 148.5h0M107.8 141.6h0M135.4 170.5h0M144.4 171.1h0M157.6 172.3h0M142.8 147.8h0M141.6 184.5h0M142.5 134.1h0M133.6 158.2h0M115.4 170.4h0M178.5 172.3h0M173.8 166.5h0M113.7 167.6h0M101.2 189.9h0M139.0 154.2h0M167.3 150.6h0M135.1 177.8h0M117.9 163.6h0M64.9 170.0h0M100.8 139.3h0M63.7 186.6h0M101.4 154.8h0M127.5 174.5h0M134.0 184.0h0M116.8 153.9h0M119.1 143.7h0M127.8 133.4h0M125.7 140.5h0M158.2 173.9h0M145.9 145.3h0M142.8 164.6h0M94.5 168.6h0M164.3 169.0h0M155.1 179.1h0M105.0 167.2h0M109.5 143.4h0M93.9 166.7h0M153.2 166.6h0M165.6 172.7h0M149.9 185.0h0M160.1 133.1h0M171.3 168.0h0M102.8 173.9h0M137.4 181.4h0M128.4 183.6h0M95.1 144.8h0M104.9 142.0h0M97.8 154.0h0M169.7 165.4h0M185.4 157.2h0M154.4 116.6h0M121.6 160.3h0M93.0 178.1h0M168.9 184.6h0M162.7 182.0h0M142.7 183.2h0M141.7 179.7h0M166.3 178.4h0M114.8 147.7h0M167.3 148.8h0M106.7 187.1h0M148.3 173.3h0M83.5 137.2h0M142.0 179.9h0M146.3 163.7h0M181.5 125.6h0M176.9 142.7h0M155.8 122.6h0M123.4 179.6h0M142.0 156.8h0M83.1 192.2h0M128.2 172.5h0M159.1 177.5h0M181.3 145.5h0M62.6 176.4h0M112.8 184.2h0M106.8 185.8h0M54.1 169.8h0M151.6 124.4h0M124.1 186.6h0M122.5 128.8h0M117.9 189.2h0M113.1 187.9h0M128.7 150.3h0M125.1 126.1h0M136.7 158.5h0M116.9 166.2h0M122.7 165.3h0M150.0 163.4h0M137.4 161.5h0M125.1 190.4h0M161.4 144.8h0M121.2 129.8h0M190.4 143.6h0M173.8 153.7h0M111.3 137.8h0M114.3 159.9h0M143.1 165.5h0M156.0 141.3h0M114.6 134.7h0M125.6 155.0h0M115.3 161.0h0M126.0 192.7h0M125.6 157.6h0M111.9 157.4h0M103.3 129.2h0M133.8 164.6h0M147.7 170.8h0M146.7 166.3h0M162.3 160.1h0M110.8 174.3h0M106.1 160.4h0M139.2 148.0h0M176.5 151.7h0M162.7 165.1h0M140.3 174.4h0M95.9 187.4h0M138.7 139.2h0M82.9 167.0h0M134.4 162.1h0M119.2 185.1h0M155.8 114.0h0M97.2 162.4h0M143.8 187.5h0M119.1 156.4h0M110.9 148.4h0M157.7 186.6h0M103.0 192.8h0M154.2 162.3h0M117.3 141.7h0M97.3 148.5h0M144.8 144.2h0M104.4 164.0h0M127.5 168.5h0M169.1 143.3h0M137.6 158.0h0M154.6 144.2h0M188.0 137.3h0M131.3 130.3h0M155.3 168.3h0M104.9 170.8h0M103.9 162.9h0M125.0 171.5h0M154.3 105.5h0M167.9 140.3h0M128.9 140.6h0M126.7 168.8h0M156.2 176.2h0M143.5 183.3h0M141.3 133.9h0M161.6 150.2h0M116.2 158.5h0M173.2 145.1h0M119.8 182.7h0M126.5 164.8h0M98.6 145.9h0M191.9 136.8h0M176.2 138.3h0M155.6 164.8h0M93.7 169.8h0M136.5 161.6h0M101.5 175.0h0M89.5 167.4h0M118.3 166.9h0M154.2 182.1h0M159.4 153.7h0M112.5 152.3h0M145.2 140.2h0M139.5 140.3h0M156.6 140.8h0M110.9 147.6h0M97.9 144.8h0M102.2 164.7h0M169.9 174.1h0M150.9 171.8h0M123.6 179.6h0M143.0 180.7h0M132.5 172.1h0M113.9 148.0h0M182.5 160.2h0M129.9 142.0h0M118.8 178.9h0M100.1 168.0h0M152.7 181.0h0M132.8 189.2h0M113.7 134.8h0M143.8 126.8h0M159.3 185.4h0M113.0 185.7h0M173.0 151.1h0M110.8 157.1h0M176.6 154.8h0M166.5 176.1h0M135.4 158.2h0M120.1 154.7h0M152.5 113.3h0M92.6 187.3h0M127.8 177.6h0M88.7 179.5h0M158.2 130.7h0M106.0 186.5h0M125.6 132.6h0M160.1 146.3h0M154.2 147.9h0M110.3 160.2h0M150.1 128.1h0M166.7 158.1h0M96.6 176.3h0M143.9 123.1h0M100.6 170.1h0M72.8 180.2h0M101.1 138.1h0M166.6 149.1h0M122.1 135.6h0M155.2 125.2h0M85.3 189.8h0M154.7 185.6h0M182.4 147.8h0M136.2 155.2h0M173.8 151.2h0M112.4 192.6h0M108.8 170.9h0M103.6 137.6h0M166.2 157.7h0M150.8 180.1h0M167.3 126.3h0M166.7 144.3h0M160.8 166.6h0M96.3 167.2h0M115.5 162.7h0M115.3 180.9h0M185.5 146.2h0M111.0 172.6h0M119.8 147.0h0M107.6 137.3h0M107.0 122.5h0M97.0 181.4h0M156.8 155.5h0M151.0 136.0h0M140.7 170.7h0M139.0 144.4h0M135.8 174.6h0M93.3 176.7h0M121.6 123.3h0M128.7 184.6h0M149.9 188.0h0M78.7 141.2h0M57.6 157.8h0M111.6 186.4h0M124.8 184.6h0M160.1 142.3h0M119.6 187.4h0M130.9 187.7h0M135.4 163.6h0M105.8 189.4h0M176.4 127.4h0M174.9 167.9h0M168.0 177.4h0M128.5 159.0h0M114.9 163.7h0M122.3 181.6h0M121.3 183.5h0M122.6 134.3h0M138.2 151.9h0M173.0 155.0h0M88.2 165.7h0M122.4 185.3h0M104.9 143.5h0M69.7 164.4h0M161.8 155.8h0M109.2 143.3h0M154.9 139.1h0M160.0 139.4h0M124.1 193.1h0M142.7 144.6h0M157.0 172.9h0M129.4 165.0h0M175.3 150.2h0M144.8 132.8h0M114.9 148.4h0M130.7 165.7h0M102.9 180.6h0M94.6 167.0h0M170.8 165.4h0M141.4 186.4h0M151.1 167.7h0M171.0 140.7h0M85.1 152.2h0M161.1 128.3h0M113.8 147.2h0M155.6 183.3h0M173.7 172.6h0M161.1 139.6h0M120.0 172.8h0M131.7 169.7h0M139.0 176.8h0M90.3 168.2h0M112.2 178.8h0M142.1 166.2h0M105.9 165.2h0M157.3 152.3h0M174.8 132.8h0M117.0 161.0h0M175.1 156.5h0M94.5 139.3h0M95.6 141.0h0M156.0 180.7h0M159.8 125.3h0M128.2 184.9h0M170.4 158.7h0M147.4 162.7h0M128.6 166.8h0M107.6 188.6h0M168.8 168.4h0M105.9 154.3h0M140.3 184.8h0M93.9 188.1h0M120.1 126.0h0M146.8 145.8h0M166.4 158.2h0M131.6 174.0h0M132.1 145.9h0M155.0 142.0h0M105.3 176.7h0M153.5 167.7h0M185.6 139.9h0M148.2 137.7h0M132.5 166.4h0M138.2 159.1h0M128.0 155.6h0M115.0 145.6h0M91.1 187.0h0M145.6 171.1h0M95.1 165.3h0M124.6 132.3h0M137.3 152.5h0M106.0 178.6h0M133.1 142.3h0M99.0 137.3h0M111.8 191.4h0M108.8 137.4h0M158.9 159.4h0M180.6 138.2h0M159.4 134.5h0M138.2 156.9h0M116.7 164.7h0M158.3 149.7h0M161.3 130.7h0M144.5 160.3h0M142.6 126.5h0M132.5 179.6h0M113.5 166.2h0M156.4 152.6h0M150.1 151.5h0M94.7 187.2h0M137.8 163.2h0M156.0 157.9h0M129.0 158.5h0M101.6 161.1h0M104.8 180.8h0M162.0 145.0h0M167.2 140.2h0M109.9 151.3h0M95.3 139.4h0M106.9 172.5h0M176.6 147.6h0M162.4 140.2h0M162.5 184.6h0M94.8 172.9h0M123.3 174.3h0M119.1 161.8h0M132.2 192.7h0M163.6 144.9h0M95.0 171.8h0M106.8 145.5h0M106.3 189.1h0M143.8 182.7h0M140.0 173.1h0M176.1 135.2h0M108.8 129.8h0M133.6 157.2h0M105.9 188.8h0M142.6 153.8h0M92.6 142.6h0M134.0 165.3h0M121.2 153.9h0M111.1 124.1h0M120.0 150.8h0M151.8 158.0h0M196.6 101.2h0M99.7 143.2h0M120.2 126.4h0M123.5 172.8h0M138.7 184.0h0M94.1 136.7h0M161.8 146.3h0M139.4 144.6h0M153.7 174.4h0M159.1 164.1h0M147.3 177.8h0M173.8 172.4h0M151.2 181.1h0M112.6 153.5h0M121.5 190.4h0M98.3 163.0h0M152.0 166.5h0M123.7 185.2h0M112.7 175.0h0M198.8 132.2h0M158.1 176.1h0M117.2 168.3h0M139.8 156.0h0M149.9 177.1h0M121.6 182.3h0M101.6 138.5h0M143.5 181.8h0M148.7 166.3h0M150.1 150.8h0M159.5 172.6h0M115.2 131.9h0M172.8 148.2h0M110.2 156.0h0M167.8 125.3h0M162.4 166.7h0M160.0 144.2h0M156.1 178.4h0M135.0 150.9h0M188.4 135.6h0M187.6 146.3h0M93.5 159.5h0M173.7 150.3h0M144.6 173.5h0M106.2 130.2h0M107.8 163.6h0M191.3 142.0h0M138.7 161.4h0M161.2 172.2h0M170.0 156.3h0M114.3 147.0h0M136.8 193.9h0M156.9 176.6h0M138.9 153.9h0M121.5 164.5h0M158.1 163.0h0M156.3 119.2h0M123.8 161.1h0M176.7 130.1h0M124.0 182.6h0M99.2 184.2h0M134.9 157.7h0M138.9 172.1h0M158.2 138.3h0M138.3 190.8h0M159.1 152.3h0M172.1 127.1h0M119.7 144.4h0M169.7 169.0h0M116.2 148.7h0M108.8 162.4h0M108.0 158.1h0M156.7 146.5h0M160.4 154.6h0M113.0 141.2h0M92.0 143.8h0M150.4 177.1h0M145.8 159.8h0M136.9 165.7h0M143.0 143.2h0M92.6 157.4h0M177.3 151.9h0M178.3 151.0h0M123.2 150.5h0M156.5 158.3h0M112.0 132.3h0M125.6 179.7h0M137.9 159.6h0M142.6 191.0h0M99.0 191.4h0M133.6 126.6h0M157.6 156.0h0M131.8 177.8h0M130.7 157.6h0M146.7 139.2h0M83.6 141.2h0M173.5 155.0h0M122.1 137.8h0M152.1 161.3h0M151.9 179.0h0M144.5 138.1h0M121.8 151.0h0M101.3 154.3h0M142.5 144.4h0M149.7 165.3h0M172.9 152.3h0M110.2 138.9h0M117.6 153.8h0M102.7 178.1h0M106.0 180.9h0M104.0 160.3h0M100.4 162.9h0M117.1 189.1h0M128.9 150.9h0M130.9 150.1h0M170.1 129.9h0M124.7 142.2h0M170.9 159.9h0M148.3 162.4h0M193.5 147.7h0M111.9 154.0h0M113.9 142.4h0M138.9 164.3h0M157.7 159.4h0M122.1 183.2h0M146.8 151.5h0M157.4 168.7h0M130.0 143.1h0M176.3 165.9h0M157.3 143.9h0M142.7 187.0h0M154.9 147.7h0M117.9 178.0h0M129.8 149.4h0M71.8 169.0h0M124.7 153.9h0M134.4 145.7h0M172.5 154.5h0M113.6 170.5h0M134.1 122.1h0M156.8 155.9h0M114.6 180.4h0M111.7 133.8h0M152.8 173.3h0M112.9 172.6h0M149.6 139.8h0M92.7 133.5h0M181.8 158.5h0M111.1 132.7h0M120.1 132.1h0M140.2 180.9h0M123.4 147.3h0M125.7 153.2h0M152.3 163.2h0M121.0 139.0h0M156.8 143.0h0M134.5 144.4h0M181.5 141.1h0M142.6 157.2h0M153.9 184.2h0M88.4 149.2h0M132.8 165.8h0M155.6 159.2h0M109.7 192.0h0M164.7 151.1h0M160.8 152.6h0M109.9 162.1h0M154.7 155.2h0M146.3 174.8h0M169.3 111.3h0M161.0 180.4h0M136.6 181.3h0M120.2 137.2h0M136.9 155.8h0M132.4 180.9h0M124.2 160.4h0M139.8 180.7h0M97.1 166.4h0M72.0 152.8h0M152.6 184.3h0M128.0 158.7h0M115.1 161.6h0M149.4 191.9h0M94.6 141.1h0M146.9 189.9h0M128.8 171.6h0M87.1 183.0h0M156.9 168.5h0M142.4 138.9h0M146.7 138.5h0M149.8 149.6h0M101.1 191.7h0M111.5 181.7h0M161.6 121.1h0M155.4 170.7h0M117.3 178.8h0M151.1 109.0h0M173.9 162.6h0M184.5 149.5h0M120.4 177.0h0M198.3 104.9h0M137.1 155.9h0M144.1 158.0h0M128.2 184.1h0M154.4 143.0h0M148.2 146.3h0M154.1 138.7h0M118.7 181.3h0M128.7 120.3h0M154.3 141.2h0M102.4 131.1h0M160.0 172.0h0M148.5 164.5h0M120.2 155.3h0M129.1 135.5h0M132.1 152.4h0M180.0 136.8h0M163.2 173.1h0M100.7 145.8h0M96.9 187.5h0M90.3 163.6h0M195.3 127.7h0M165.0 132.4h0M191.8 147.4h0M158.8 158.8h0M178.6 156.9h0M145.8 172.3h0M105.3 145.1h0M159.5 170.4h0M121.8 199.0h0M166.3 131.2h0M162.4 184.2h0M111.4 137.2h0M174.7 159.2h0M86.3 164.1h0M139.2 138.6h0M159.8 134.6h0M165.8 109.5h0M125.0 151.3h0M113.0 169.7h0M155.5 124.2h0M118.8 166.9h0M182.6 158.2h0M112.4 158.9h0M120.1 163.4h0M161.9 141.7h0M130.5 184.1h0M151.8 174.3h0M146.7 116.4h0M135.1 153.1h0M150.5 127.9h0M101.8 190.8h0M146.7 156.2h0M110.8 192.5h0M147.9 141.1h0M111.6 167.4h0M139.0 145.1h0M181.0 159.5h0M104.4 159.0h0M137.5 148.6h0M150.9 165.1h0M117.1 191.4h0M142.4 159.0h0M157.2 143.7h0M143.3 159.1h0M155.8 130.4h0M127.0 180.4h0M133.5 138.2h0M94.9 141.4h0M141.3 125.8h0M124.8 144.5h0M90.8 175.7h0M116.6 142.3h0M145.0 189.6h0M116.8 173.2h0M129.4 166.0h0M93.8 139.3h0M167.8 159.1h0M153.6 151.7h0M118.9 171.8h0M162.9 147.1h0M155.4 141.0h0M152.8 178.1h0M131.9 137.5h0M178.2 137.8h0M113.8 147.2h0M148.5 156.2h0M123.1 153.5h0M144.5 133.1h0M120.0 159.9h0M159.6 145.2h0M147.1 178.4h0M119.3 128.7h0M150.8 169.8h0M99.4 136.4h0M144.2 168.0h0M96.2 174.3h0M150.4 173.2h0M109.0 139.2h0M129.9 176.9h0M145.3 146.5h0M119.2 179.6h0M145.1 133.8h0M142.9 135.6h0M165.4 123.3h0M156.5 182.8h0M141.8 169.7h0M135.7 165.7h0M124.7 181.5h0M138.5 149.8h0M167.7 163.0h0M146.4 133.6h0M108.7 174.1h0M95.5 180.2h0M163.4 179.1h0M108.5 137.9h0M111.5 177.4h0M182.1 150.5h0M124.8 132.5h0M128.2 176.6h0M141.6 171.2h0M102.3 181.1h0M132.8 166.5h0M147.0 162.3h0M85.5 144.6h0M182.6 128.5h0M99.6 179.5h0M198.5 130.3h0M185.0 153.9h0M117.0 127.6h0M140.6 194.4h0M140.1 136.4h0M164.9 172.6h0M105.3 134.6h0M154.4 176.1h0M131.9 159.9h0M97.8 172.8h0M121.5 153.2h0M165.0 163.0h0M110.1 154.9h0M165.6 174.8h0M171.4 166.4h0M154.6 156.1h0M148.0 174.7h0M195.9 136.0h0M114.4 141.3h0M117.7 179.0h0M105.2 153.0h0M159.1 179.3h0M152.2 170.2h0M156.1 161.1h0M160.6 149.2h0M95.2 171.7h0M120.7 132.7h0M160.3 155.5h0M121.6 180.6h0M152.0 150.9h0M163.3 172.5h0M109.8 166.2h0M113.8 149.0h0M107.1 176.2h0M179.1 154.2h0M108.5 140.2h0M145.4 162.6h0M141.3 152.1h0M157.2 177.1h0M91.8 186.1h0M126.3 123.0h0M136.8 171.2h0M172.4 152.8h0M113.3 173.5h0M114.9 160.4h0M96.5 161.5h0M132.2 156.8h0M147.1 150.8h0M138.1 159.5h0M110.4 152.8h0M143.3 160.8h0M145.0 180.7h0M177.4 156.8h0M176.3 146.2h0M93.6 156.7h0M112.6 198.8h0M126.2 186.5h0M136.7 162.6h0M168.9 150.7h0M106.4 187.6h0M188.2 146.6h0M117.9 195.6h0M170.0 175.6h0M126.5 144.1h0M171.2 168.6h0M131.6 150.3h0M123.4 138.3h0M141.2 187.5h0M125.4 149.0h0M179.7 154.4h0M99.2 178.9h0M119.6 152.6h0M138.0 136.7h0M100.3 187.0h0M117.2 180.8h0M174.8 155.3h0M93.1 143.2h0M130.1 138.4h0M142.9 189.8h0M129.2 169.1h0M166.5 160.5h0M133.3 188.3h0M127.7 180.1h0M124.2 166.2h0M139.5 128.5h0M118.0 156.2h0M153.9 172.2h0M156.5 149.9h0M133.1 157.7h0M109.8 152.8h0M165.1 142.0h0M134.4 148.9h0M139.4 134.5h0M169.2 169.8h0M123.1 180.8h0M115.3 145.3h0M134.9 142.3h0M165.5 146.4h0M162.2 140.7h0M185.5 120.9h0M119.9 180.6h0M128.4 150.6h0M151.4 131.5h0M148.3 186.1h0M166.6 110.6h0M150.5 163.5h0M180.6 148.8h0M115.1 139.3h0M100.6 139.1h0M102.5 165.2h0M158.0 140.1h0M112.0 134.9h0M128.8 126.4h0M138.2 161.5h0M129.3 185.2h0M173.7 155.5h0M134.3 156.7h0M105.8 143.2h0M127.3 168.7h0M162.1 142.4h0M118.4 128.5h0M136.0 155.7h0M154.4 186.2h0M105.4 153.6h0M174.5 146.9h0M108.0 182.6h0M121.8 160.7h0M167.1 160.7h0M123.1 192.6h0M146.0 170.9h0M147.8 119.2h0M181.7 158.9h0M99.7 188.6h0M94.1 134.5h0M118.2 187.1h0M107.9 141.4h0M173.5 167.4h0M154.4 172.3h0M139.8 182.7h0M188.0 148.5h0M98.1 165.9h0M161.5 150.8h0M122.1 179.6h0M165.5 143.5h0M124.6 123.9h0M132.8 152.8h0M99.1 161.6h0M129.0 178.2h0M107.5 187.1h0M101.0 147.6h0M89.8 138.1h0M142.2 159.2h0M124.1 172.7h0M190.2 133.3h0M127.6 160.5h0M153.3 160.1h0M133.2 140.5h0M130.5 180.2h0M112.3 169.2h0M108.8 136.1h0M152.7 170.5h0M165.8 149.9h0M156.3 142.4h0M106.5 138.5h0M143.2 176.3h0M103.4 183.0h0M155.9 147.4h0M110.6 168.5h0M125.5 154.9h0M111.7 144.3h0M114.5 135.2h0M138.1 182.4h0M93.9 135.4h0M116.1 177.2h0M179.3 137.7h0M117.6 179.4h0M135.3 157.0h0M98.5 151.4h0M124.7 141.7h0M126.4 164.6h0M107.2 187.2h0M132.1 137.2h0M139.6 174.5h0M112.0 141.6h0M152.1 148.5h0M157.8 175.3h0M155.6 161.8h0M143.5 164.7h0M133.2 179.2h0M141.9 169.1h0M108.2 152.6h0M138.6 162.1h0M118.6 177.6h0M149.8 189.9h0M136.2 162.8h0M179.3 157.3h0M160.0 145.2h0M128.4 182.4h0M103.9 162.4h0M119.8 141.3h0M105.1 152.7h0M137.3 185.8h0M103.0 164.1h0M104.4 157.5h0M133.6 177.2h0M114.8 177.6h0M148.9 186.7h0M156.5 165.5h0M95.6 190.9h0M149.8 116.4h0M143.6 174.5h0M123.4 175.4h0M117.5 125.7h0M106.2 138.5h0M164.7 160.5h0M142.0 180.7h0M111.2 138.4h0M163.5 161.4h0M121.7 192.5h0M106.0 183.3h0M132.1 166.6h0M102.8 178.4h0M165.6 155.7h0M121.6 165.7h0M172.2 146.6h0M97.8 177.6h0M128.0 151.1h0M135.9 189.0h0M110.4 182.5h0M186.3 153.5h0M129.4 164.0h0M171.4 145.2h0M175.7 141.5h0M126.2 131.7h0M125.9 174.6h0M96.8 153.9h0M146.2 149.9h0M106.6 154.4h0M120.9 149.3h0M106.2 129.4h0M123.7 138.8h0M147.0 170.7h0M109.9 178.3h0M115.1 173.0h0M157.6 159.1h0M195.8 114.8h0M181.0 138.2h0M137.5 140.2h0M144.6 136.8h0M151.5 136.6h0M167.3 164.0h0M135.7 155.9h0M157.6 178.5h0M162.5 171.9h0M176.0 162.5h0M162.8 170.9h0M138.4 172.9h0M104.6 178.4h0M171.3 171.5h0M72.8 137.5h0M119.4 158.6h0M107.3 135.0h0M155.4 163.6h0M100.7 133.1h0M114.9 165.9h0M115.6 131.5h0M173.2 168.1h0M99.3 178.4h0M174.2 140.6h0M96.9 147.3h0M160.8 152.3h0M127.1 147.3h0M157.5 127.6h0M159.6 184.5h0M157.1 168.3h0M123.4 161.1h0M132.9 143.3h0M134.8 120.0h0M89.6 165.4h0M144.2 134.3h0M171.2 147.1h0M112.5 153.7h0M145.9 161.2h0M183.7 142.3h0M80.6 168.9h0M151.1 166.8h0M143.4 183.4h0M144.3 151.7h0M136.6 182.9h0M158.3 173.5h0M166.4 146.3h0M173.1 146.2h0M137.8 159.2h0M133.5 170.3h0M118.3 141.4h0M159.6 164.1h0M132.2 179.4h0M157.0 152.1h0M126.5 136.4h0M116.4 184.2h0M126.1 144.5h0M148.4 117.2h0M109.5 164.5h0M125.4 160.4h0M140.9 144.1h0M151.3 140.8h0M133.3 192.3h0M185.7 150.7h0M152.4 159.2h0M163.1 134.5h0M113.1 145.5h0M175.1 161.2h0M112.9 174.7h0M117.2 161.1h0M91.4 187.5h0M99.9 175.1h0M177.8 160.5h0M177.4 161.6h0M132.3 134.4h0M130.6 187.4h0M121.3 146.2h0M150.4 141.0h0M88.7 148.8h0M160.7 132.6h0M137.8 179.8h0M110.1 126.2h0M81.8 177.4h0M119.5 181.1h0M117.4 174.4h0M114.6 184.8h0M126.4 169.0h0M131.1 159.7h0M126.0 165.2h0M101.7 188.3h0M120.5 142.4h0M96.7 139.3h0M165.3 147.6h0M113.1 141.3h0M108.1 146.5h0M129.1 150.7h0M151.9 168.3h0M102.8 124.6h0M147.5 135.9h0M133.2 132.9h0M112.3 145.6h0M102.5 187.0h0M152.5 108.9h0M159.8 129.5h0M151.2 190.6h0M132.4 165.9h0M146.7 163.6h0M174.7 155.8h0M116.5 177.6h0M107.1 181.6h0M190.5 133.0h0M154.8 134.4h0M175.9 162.4h0M131.2 171.6h0M144.7 157.0h0M152.0 183.2h0M149.9 141.7h0M99.2 162.9h0M145.6 164.6h0M129.0 127.1h0M140.4 183.9h0M132.1 146.3h0M128.2 164.3h0M141.6 147.5h0M98.3 181.9h0M90.9 182.9h0M131.1 186.2h0M126.4 182.7h0M146.9 157.9h0M122.2 193.0h0M159.1 165.8h0M186.0 146.5h0M177.3 151.6h0M157.6 108.2h0M184.0 151.7h0M155.4 185.8h0M145.2 164.6h0M80.4 152.3h0M127.4 178.5h0M163.1 171.4h0M161.0 178.3h0M86.6 180.4h0M108.7 154.8h0M130.5 160.6h0M134.1 185.8h0M144.6 156.6h0M117.1 168.0h0M177.2 151.9h0M132.0 173.8h0M147.9 163.5h0M161.2 140.7h0M145.6 137.0h0M145.3 161.6h0M123.1 159.5h0M136.0 174.2h0M124.9 150.6h0M120.8 142.4h0M134.8 124.3h0M142.6 139.2h0M123.4 175.4h0M179.2 142.8h0M135.6 125.6h0M104.8 131.8h0M144.8 169.7h0M176.1 156.9h0M139.4 156.9h0M106.7 188.4h0M113.7 129.7h0M110.1 136.2h0M170.8 161.9h0M138.5 181.1h0M106.4 170.3h0M122.3 180.3h0M128.8 138.9h0M150.4 190.7h0M91.3 131.8h0M175.5 158.7h0M115.5 186.1h0M102.7 181.5h0M115.0 145.0h0M165.1 163.9h0M159.6 179.4h0M126.4 170.3h0M96.5 154.4h0M107.3 137.6h0M117.9 172.9h0M172.8 139.1h0M171.0 131.6h0M117.4 164.7h0M143.5 145.3h0M107.4 124.8h0M101.6 180.7h0M166.1 114.6h0M118.5 148.0h0M178.8 152.5h0M158.2 130.3h0M78.5 157.9h0M158.0 118.8h0M154.4 181.0h0M116.8 145.6h0M141.9 144.3h0M128.4 138.6h0M96.9 142.2h0M83.7 155.6h0M111.8 172.5h0M137.0 125.7h0M174.1 161.2h0M121.1 169.0h0M112.2 175.9h0M112.6 151.0h0M169.6 151.1h0M131.9 149.5h0M129.9 135.9h0M127.7 138.4h0M93.3 171.5h0M163.2 146.5h0M110.0 184.3h0M111.2 186.2h0M140.5 166.9h0M182.2 133.1h0M113.3 187.1h0M131.6 191.0h0M124.1 136.9h0M95.9 170.6h0M137.1 156.3h0M112.2 139.8h0M166.1 144.8h0M143.8 133.2h0M129.2 146.3h0M133.8 178.5h0M138.3 177.6h0M165.3 130.1h0M130.6 122.6h0M90.7 126.4h0M112.9 180.7h0M104.0 167.7h0M143.7 183.8h0M147.6 173.5h0M190.7 127.8h0M134.7 175.6h0M110.9 187.7h0M165.8 139.4h0M147.5 144.2h0M87.0 144.6h0M107.9 171.4h0M157.7 149.9h0M127.8 161.4h0M128.1 136.1h0M118.3 161.6h0M116.9 141.1h0M152.0 174.0h0M100.5 175.7h0M167.4 150.9h0M135.7 157.8h0M169.3 168.1h0M164.6 139.2h0M100.9 139.8h0M158.7 117.5h0M149.9 125.5h0M148.1 181.4h0M129.7 176.6h0M168.0 151.5h0M136.7 152.4h0M156.8 187.0h0M158.7 150.7h0M154.1 160.5h0M149.0 162.0h0M171.9 176.2h0M149.7 158.4h0M80.0 182.6h0M150.4 176.5h0M128.8 188.8h0M83.1 170.8h0M145.1 173.4h0M172.0 144.6h0M166.5 163.7h0M94.4 170.3h0M108.6 158.8h0M128.5 151.9h0M156.3 178.7h0M106.0 157.9h0M131.3 152.8h0M156.7 146.6h0M168.2 173.7h0M110.3 142.9h0M98.5 185.4h0M164.9 176.6h0M112.9 168.5h0M135.9 153.3h0M146.2 171.3h0M135.1 138.6h0M164.1 174.2h0M83.2 141.3h0M130.9 189.7h0M138.7 128.6h0M157.9 143.1h0M172.8 132.2h0M165.1 137.1h0M130.6 170.8h0M113.9 139.3h0M139.9 168.1h0M103.8 147.4h0M117.9 157.2h0M162.6 180.5h0M165.5 113.7h0M181.7 137.4h0M126.9 141.9h0M185.3 145.7h0M148.6 177.2h0M140.3 138.7h0M105.2 165.1h0M142.3 177.7h0M112.2 137.8h0M143.0 186.2h0M133.8 187.3h0M148.4 146.8h0M141.1 189.9h0M112.2 129.8h0M149.2 163.5h0M127.6 156.6h0M155.2 101.3h0M103.6 166.5h0M172.7 152.2h0M90.4 171.7h0M160.2 153.8h0M153.5 164.1h0M120.4 157.1h0M145.0 186.9h0M101.3 131.9h0M139.1 158.5h0M176.6 164.0h0M149.6 173.4h0M110.0 172.2h0M101.6 161.4h0M127.4 139.3h0M96.2 139.4h0M102.2 158.1h0M112.4 171.3h0M174.3 145.7h0M180.1 129.9h0M92.6 172.0h0M156.1 184.9h0M118.1 182.3h0M146.3 162.7h0M141.3 164.3h0M139.4 166.1h0M65.2 145.6h0M150.5 144.9h0M162.0 164.9h0M121.0 159.9h0M139.3 189.6h0M147.3 170.3h0M177.8 153.9h0M164.8 122.3h0M142.6 140.5h0M137.6 144.7h0M100.3 130.5h0M137.0 172.4h0M130.8 173.9h0M164.4 175.1h0M150.1 168.1h0M111.3 182.7h0M117.7 169.9h0M167.9 158.0h0M130.0 147.5h0M135.8 155.7h0M148.1 137.7h0M96.0 140.6h0M179.4 159.2h0M151.5 178.5h0M152.3 121.6h0M106.8 161.8h0M131.6 161.2h0M149.4 156.6h0M117.9 152.6h0M128.9 160.3h0M148.4 114.5h0M142.5 143.4h0M129.2 154.3h0M175.4 162.7h0M114.0 165.0h0M113.0 180.5h0M125.3 193.3h0M163.8 164.2h0M132.1 190.4h0M151.6 149.3h0M165.8 140.4h0M158.0 143.2h0M111.3 159.2h0M140.7 142.1h0M129.5 138.8h0M102.3 184.3h0M154.4 137.0h0M160.9 172.9h0M96.2 136.0h0M128.2 179.3h0M185.1 155.5h0M133.9 148.9h0M89.6 150.2h0M114.5 154.3h0M97.0 157.6h0M124.9 165.0h0M108.7 169.8h0M159.4 154.4h0M99.7 187.1h0M193.8 135.3h0M132.6 161.1h0M164.2 179.0h0M122.6 149.4h0M185.1 143.6h0M124.3 160.6h0M150.2 150.3h0M148.3 141.5h0M141.1 186.4h0M167.0 170.9h0M100.9 190.0h0M137.0 146.3h0M124.8 165.7h0M142.3 173.2h0M169.0 120.5h0M169.5 143.7h0M187.7 136.8h0M112.3 141.0h0M89.4 187.7h0M158.0 174.1h0M87.1 157.1h0M124.3 141.0h0M133.3 139.8h0M75.7 151.2h0M113.4 152.5h0M173.2 130.0h0M115.8 167.5h0M81.0 144.8h0M93.5 177.6h0M159.3 151.1h0M169.4 155.6h0M123.0 123.4h0M176.7 162.1h0M146.9 160.7h0M134.1 137.4h0M166.5 145.2h0M111.0 187.5h0M158.0 144.0h0M123.3 155.5h0M170.7 118.7h0M155.2 145.7h0M135.4 165.1h0M98.2 128.3h0M155.6 163.2h0M111.1 173.2h0M134.0 137.9h0M106.8 190.6h0M139.7 164.1h0M150.4 157.2h0M130.0 158.4h0M126.5 163.0h0M139.8 127.9h0M152.0 148.4h0M169.2 174.3h0M155.9 128.0h0M109.7 129.8h0M125.9 178.7h0M157.9 169.5h0M110.7 157.3h0M174.2 172.0h0M141.7 185.9h0M166.5 133.3h0M129.4 163.8h0M168.9 158.8h0M164.4 172.0h0M164.3 150.2h0M158.5 175.7h0M141.4 169.6h0M113.0 145.3h0M122.1 124.4h0M175.8 168.4h0M130.4 152.0h0M101.4 179.4h0M114.9 171.0h0M120.1 127.9h0M148.6 144.1h0M165.5 151.6h0M139.2 157.4h0M139.8 145.7h0M154.6 182.7h0M118.2 185.0h0M118.3 153.7h0M107.4 166.6h0M142.0 180.5h0M135.0 166.2h0M142.2 144.1h0M181.3 157.1h0M161.2 186.5h0M147.1 137.8h0M130.4 132.2h0M114.8 173.7h0M122.3 184.6h0M123.4 148.7h0M127.4 185.1h0M93.7 177.9h0M133.7 129.4h0M142.4 133.3h0M106.0 135.2h0M162.4 159.1h0M103.1 169.9h0M143.0 168.3h0M98.4 171.6h0M173.0 146.9h0M121.6 164.1h0M101.4 127.4h0M140.7 137.6h0M110.3 125.1h0M131.3 126.8h0M152.9 178.2h0M153.0 144.1h0M105.0 148.8h0M143.3 173.1h0M140.5 146.9h0M134.1 177.4h0M123.3 131.1h0M98.5 144.8h0M158.9 180.8h0M124.3 129.0h0M159.1 137.3h0M175.1 149.2h0M134.9 141.0h0M144.0 135.2h0M149.0 147.2h0M173.2 151.3h0M95.8 185.4h0M110.3 171.5h0M133.9 154.2h0M102.1 135.0h0M139.2 189.0h0M142.6 141.5h0M124.7 150.5h0M145.9 191.9h0M142.6 123.0h0M147.1 162.4h0M139.1 126.4h0M120.9 124.6h0M168.4 177.5h0M190.4 144.3h0M91.4 142.6h0M122.1 170.2h0M148.6 155.9h0M176.6 156.9h0M172.6 173.0h0M104.8 191.6h0M124.5 168.2h0M133.3 157.5h0M184.7 156.5h0M104.0 189.4h0M103.1 146.3h0M125.4 173.5h0M132.0 188.9h0M118.9 139.8h0M159.8 91.6h0M174.0 170.3h0M175.1 149.4h0M115.0 181.9h0M169.1 168.0h0M120.4 137.7h0M178.7 124.9h0M135.0 185.7h0M165.0 168.6h0M128.1 149.7h0M58.8 158.1h0M130.0 142.5h0M131.7 139.7h0M159.3 172.6h0M188.3 125.9h0M149.3 163.4h0M187.3 151.5h0M138.4 179.1h0M120.3 157.2h0M106.1 175.9h0M165.8 181.9h0M121.7 167.5h0M154.6 177.5h0M132.8 167.5h0M139.7 158.0h0M171.6 153.6h0M111.8 161.3h0M123.7 151.9h0M106.6 139.8h0M110.6 179.5h0M124.8 170.1h0M132.0 119.7h0M175.5 112.6h0M166.6 174.3h0M132.1 144.1h0M109.1 144.8h0M106.4 126.9h0M157.9 163.6h0M167.9 167.0h0M151.7 157.1h0M114.4 147.9h0M103.2 174.3h0M141.0 162.2h0M143.1 182.1h0M135.5 180.0h0M189.5 142.4h0M166.5 164.8h0M122.8 175.9h0M189.8 140.0h0M142.9 179.6h0M169.7 161.7h0M107.4 175.2h0M162.8 159.5h0M145.1 189.3h0M133.5 147.4h0M142.4 150.7h0M126.6 178.6h0M106.6 125.7h0M106.0 149.9h0M112.6 183.8h0M118.9 132.5h0M103.4 156.6h0M136.9 185.0h0M164.7 143.1h0M120.9 136.7h0M114.9 167.5h0M179.7 144.9h0M154.7 155.3h0M81.9 170.3h0M114.9 167.9h0M134.8 186.5h0M123.3 181.1h0M165.4 140.6h0M115.8 140.2h0M121.9 174.8h0M143.5 153.5h0M139.7 191.1h0M162.2 116.1h0M151.9 146.3h0M118.9 170.9h0M115.9 185.9h0M158.3 162.5h0M134.5 186.9h0M169.4 147.4h0M134.4 162.1h0M144.6 175.0h0M182.3 155.3h0M185.0 140.7h0M143.3 174.5h0M179.3 154.0h0M169.3 159.5h0M97.6 152.3h0M148.6 153.3h0M136.3 137.2h0M132.4 188.4h0M167.7 171.6h0M153.7 128.0h0M115.5 143.6h0M147.1 174.9h0M138.6 126.0h0M138.1 136.6h0M163.3 169.1h0M149.3 167.9h0M151.1 190.1h0M164.4 133.2h0M159.9 174.3h0M147.0 186.2h0M140.7 183.2h0M113.5 156.4h0M143.1 179.5h0M112.2 194.6h0M103.2 182.1h0M138.6 175.8h0M141.9 137.5h0M116.9 154.0h0M149.1 175.8h0M120.2 176.4h0M157.7 161.2h0M111.2 172.9h0M154.8 137.3h0M132.7 139.8h0M84.4 136.6h0M120.1 187.8h0M148.6 148.6h0M87.2 164.4h0M111.5 165.9h0M127.8 177.0h0M144.9 170.3h0M93.2 161.1h0M136.4 171.1h0M152.6 121.7h0M153.7 169.4h0M121.1 151.0h0M169.9 157.4h0M120.5 158.7h0M122.3 161.2h0M132.5 186.0h0M111.8 174.0h0M124.0 142.2h0M96.3 155.9h0M129.1 186.4h0M127.4 128.3h0M88.4 176.1h0M108.5 192.9h0M132.9 136.1h0M101.7 184.3h0M115.5 180.1h0M138.6 180.1h0M197.5 127.8h0M164.7 127.9h0M115.2 120.4h0M155.2 163.7h0M155.1 165.3h0M95.3 151.3h0M96.0 195.4h0M159.4 169.9h0M167.8 173.7h0M128.5 149.1h0M113.1 128.7h0M133.9 136.0h0M161.5 135.4h0M146.2 149.6h0M94.5 173.5h0M135.0 128.0h0M146.1 177.7h0M183.4 154.3h0M115.6 167.7h0M93.0 169.9h0M181.6 162.4h0M121.9 153.2h0M107.8 143.1h0M119.7 190.6h0M133.8 129.3h0M121.8 126.2h0M167.4 166.8h0M139.8 176.1h0M136.0 191.4h0M174.4 154.6h0M119.1 186.6h0M134.2 141.0h0M127.2 187.7h0M158.8 143.5h0M101.1 149.0h0M122.4 135.9h0M154.6 177.9h0M138.8 179.2h0M156.2 146.0h0M148.3 147.5h0M117.4 165.3h0M114.4 186.1h0M125.2 164.9h0M126.1 153.2h0M109.1 159.4h0M142.4 135.6h0M129.0 159.5h0M89.6 160.2h0M101.6 159.5h0M113.6 154.8h0M109.7 174.7h0M131.3 125.7h0M152.8 103.2h0M116.9 135.8h0M114.1 167.8h0M142.9 197.4h0M107.8 166.8h0M148.5 161.0h0M127.0 191.4h0M96.5 165.1h0M156.5 130.7h0M173.9 160.9h0M138.0 174.1h0M138.6 160.8h0M118.3 129.0h0M180.1 145.6h0M118.0 157.3h0M130.7 139.0h0M98.6 185.2h0M111.6 154.2h0M134.1 175.6h0M169.2 154.3h0M157.5 162.4h0M117.1 140.6h0M194.4 137.5h0M90.5 168.1h0M119.8 185.7h0M175.1 156.1h0M155.9 182.5h0M124.7 189.8h0M145.8 157.5h0M169.2 175.9h0M86.1 128.8h0M166.8 146.9h0M175.3 141.8h0M135.2 148.4h0M124.7 157.8h0M138.1 143.8h0M166.8 163.5h0M109.1 160.2h0M144.3 126.7h0M93.3 184.4h0M128.0 175.8h0M106.5 189.3h0M127.8 171.3h0M129.9 183.3h0M147.2 170.6h0M126.0 151.7h0M133.2 147.6h0M128.1 155.7h0M199.0 127.6h0M154.3 158.1h0M166.3 146.6h0M171.0 128.7h0M124.1 139.3h0M106.4 152.6h0M182.9 164.5h0M138.3 177.5h0M112.1 160.8h0M154.3 156.5h0M131.6 166.1h0M96.7 169.1h0M116.5 126.3h0M175.4 160.0h0M100.2 179.4h0M156.2 183.7h0M108.6 185.9h0M103.0 152.7h0M170.4 124.7h0M146.4 115.6h0M147.1 155.9h0M175.1 177.7h0M168.4 147.2h0M157.5 180.9h0M120.8 144.0h0M127.8 136.1h0M132.8 182.2h0M154.6 189.4h0M167.4 175.8h0M135.6 149.6h0M120.1 154.1h0M115.2 168.4h0M95.8 164.9h0M130.7 147.9h0M142.4 155.2h0M150.3 151.2h0M179.7 131.5h0M141.7 141.5h0M85.8 140.9h0M146.3 149.5h0M174.0 150.9h0M144.4 153.8h0M117.6 140.3h0M153.7 139.6h0M133.5 156.1h0M117.0 143.5h0M174.0 163.1h0M180.4 142.1h0M126.3 162.4h0M167.1 140.5h0M130.2 151.6h0M139.4 141.6h0M128.7 140.5h0M102.8 167.8h0M138.1 133.1h0M121.4 169.1h0M138.0 150.8h0M176.9 140.5h0M113.5 157.7h0M152.7 135.6h0M153.8 133.2h0M124.8 175.3h0M108.5 181.9h0M142.3 182.4h0M136.1 164.7h0M142.3 178.5h0M121.9 176.8h0M111.2 180.2h0M95.2 171.0h0M112.7 187.6h0M116.6 181.3h0M137.2 136.9h0M103.1 166.3h0M125.2 131.3h0M95.1 149.2h0M112.1 168.9h0M161.3 168.1h0M150.9 155.8h0M158.4 138.1h0M117.3 184.9h0M100.5 179.5h0M153.7 160.3h0M166.6 175.2h0M114.2 154.0h0M100.5 156.2h0M172.1 167.3h0M163.7 168.2h0M129.5 154.7h0M95.6 149.0h0M183.8 147.3h0M110.7 140.2h0M148.2 171.2h0M173.3 162.7h0M133.7 183.9h0M153.4 132.4h0M126.5 188.1h0M101.8 151.7h0M114.3 143.9h0M119.0 165.1h0M121.9 170.4h0M111.5 142.0h0M87.0 171.8h0M165.4 180.6h0M138.6 161.5h0M117.6 150.4h0M152.5 187.4h0M157.7 151.6h0M134.6 139.1h0M122.5 137.9h0M150.1 113.6h0M114.0 137.1h0M100.9 151.9h0M156.2 139.7h0M109.1 150.6h0M112.5 185.2h0M151.8 142.9h0M145.0 144.2h0M156.8 180.9h0M111.2 132.7h0M181.1 161.2h0M136.3 182.8h0M152.3 142.6h0M170.4 149.6h0M108.5 194.9h0M118.5 168.6h0M163.8 136.1h0M154.2 155.0h0M130.1 178.5h0M162.0 153.2h0M169.0 159.2h0M92.2 135.5h0M138.2 182.2h0M132.0 139.3h0M89.6 181.4h0M152.1 145.3h0M181.9 163.2h0M162.0 174.3h0M89.0 183.0h0M176.5 161.5h0M83.7 188.1h0M118.4 137.9h0M149.5 187.1h0M120.8 137.6h0M127.2 184.1h0M157.8 144.2h0M93.3 180.6h0M127.8 179.9h0M136.2 179.1h0M165.0 179.6h0M154.2 161.2h0M146.3 171.7h0M80.0 188.5h0M118.0 153.6h0M161.8 129.6h0M152.4 188.1h0M164.7 176.2h0M116.1 172.5h0M177.1 151.0h0M171.8 175.0h0M160.0 175.4h0M154.3 124.4h0M122.6 158.9h0M133.9 131.7h0M99.3 189.0h0M107.8 183.8h0M148.8 176.1h0M141.2 141.3h0M166.1 171.9h0M162.9 156.1h0M92.3 178.4h0M171.4 145.3h0M111.5 173.8h0M101.5 149.5h0M145.9 171.1h0M98.3 164.4h0M98.9 144.3h0M126.0 176.9h0M163.3 145.4h0M129.5 180.4h0M156.7 164.8h0M172.6 158.5h0M148.5 156.5h0M144.7 183.9h0M167.2 171.1h0M138.0 147.5h0M117.3 138.4h0M123.6 178.6h0M130.4 145.6h0M172.6 153.6h0M155.1 180.2h0M123.7 130.0h0M108.3 173.6h0M113.3 188.6h0M133.0 183.8h0M104.5 155.3h0M164.4 175.8h0M124.8 172.2h0M141.0 174.5h0M96.3 155.1h0M134.6 189.7h0M170.5 142.0h0M90.3 169.0h0M147.9 162.8h0M96.9 162.0h0M174.8 163.2h0M120.5 151.9h0M149.5 114.9h0M119.0 193.0h0M79.2 140.1h0M64.3 167.3h0M154.2 178.2h0M137.1 162.8h0M152.2 153.4h0M140.7 144.7h0M79.2 171.9h0M132.9 190.0h0M77.0 154.9h0M71.2 140.0h0M152.0 184.4h0M123.1 177.8h0M136.5 145.9h0M135.8 188.6h0M93.0 183.5h0M110.5 162.1h0M99.6 181.7h0M130.8 171.8h0M155.2 173.9h0M110.7 149.8h0M96.9 140.0h0M135.6 130.5h0M154.6 141.7h0M137.8 181.5h0M159.0 163.2h0M156.8 144.2h0M170.0 164.0h0M179.0 152.7h0M137.8 158.6h0M122.4 190.5h0M105.4 185.4h0M50.1 163.7h0M138.7 176.0h0M139.1 155.8h0M149.4 174.3h0M159.7 147.2h0M139.7 165.5h0M115.8 145.0h0M168.2 178.5h0M108.0 175.0h0M113.1 167.6h0M91.5 178.4h0M124.3 126.7h0M168.2 142.5h0M116.9 150.0h0M107.6 179.9h0M84.9 142.0h0M149.1 158.0h0M125.1 148.7h0M137.0 185.6h0M114.4 134.4h0M81.9 152.5h0M149.1 95.0h0M161.2 168.5h0M136.0 159.6h0M125.3 162.8h0M100.5 169.8h0M166.3 148.4h0M134.3 161.7h0M154.2 140.8h0M139.1 148.5h0M116.2 146.3h0M168.6 113.7h0M142.6 187.4h0M102.9 139.8h0M144.9 144.2h0M148.1 178.0h0M123.1 160.4h0M145.3 173.7h0M185.7 162.1h0M112.0 126.1h0M157.8 148.3h0M138.0 154.6h0M139.5 180.4h0M143.2 153.8h0M127.8 127.6h0M169.8 164.5h0M175.4 165.6h0M107.7 130.5h0M159.1 137.0h0M172.5 172.0h0M140.1 148.5h0M162.6 179.7h0M146.6 176.1h0M136.1 131.8h0M134.9 185.6h0M118.1 189.7h0M146.5 160.5h0M141.0 180.8h0M142.9 172.8h0M155.7 118.8h0M159.5 158.6h0M184.2 154.1h0M125.3 183.7h0M159.3 161.3h0M106.4 171.2h0M194.0 141.0h0M116.3 179.2h0M193.4 147.7h0M127.6 124.9h0M141.6 193.3h0M145.9 127.2h0" stroke="#6c8244" stroke-width="1.45" stroke-linecap="round" fill="none"/>
<path d="M93.9 115.7h0M46.9 115.5h0M117.1 108.6h0M85.0 103.1h0M139.6 79.0h0M37.1 123.0h0M76.4 87.6h0M160.2 73.5h0M44.8 123.2h0M115.9 101.1h0M47.0 115.7h0M81.3 109.2h0M190.7 88.8h0M119.4 72.9h0M79.6 124.6h0M18.1 101.8h0M136.0 123.3h0M161.7 79.1h0M52.7 116.1h0M65.8 109.6h0M64.2 117.6h0M108.1 105.4h0M77.9 94.3h0M114.2 91.4h0M167.6 140.8h0M63.7 118.6h0M159.7 187.0h0M130.1 120.3h0M146.4 104.9h0M164.5 83.9h0M65.6 125.4h0M194.9 94.0h0M124.6 96.0h0M96.8 79.0h0M149.3 140.9h0M94.2 124.8h0M64.7 116.4h0M110.9 106.6h0M134.9 126.0h0M120.6 101.2h0M86.5 162.9h0M55.2 116.1h0M119.8 88.8h0M64.9 110.7h0M170.4 90.2h0M96.5 97.7h0M114.1 120.2h0M17.5 100.3h0M140.0 74.4h0M50.3 134.3h0M91.8 122.1h0M125.9 105.0h0M73.8 90.4h0M32.7 114.0h0M97.4 86.1h0M120.4 122.7h0M169.1 83.9h0M62.4 98.7h0M102.3 100.3h0M155.9 82.8h0M83.6 100.3h0M27.2 98.0h0M171.9 82.1h0M16.6 89.9h0M73.8 94.8h0M149.4 80.2h0M136.6 102.9h0M151.0 144.9h0M95.3 120.2h0M154.2 68.7h0M70.8 115.7h0M46.7 126.5h0M72.4 112.8h0M67.0 113.1h0M27.7 60.3h0M92.4 133.6h0M68.6 112.9h0M67.5 98.1h0M54.1 113.5h0M152.3 65.8h0M102.2 103.3h0M129.7 87.3h0M71.4 124.7h0M84.2 95.1h0M80.2 120.8h0M150.9 67.1h0M80.3 116.3h0M84.9 122.8h0M110.2 122.8h0M180.8 84.1h0M95.5 90.7h0M81.6 117.6h0M162.7 84.3h0M96.1 121.2h0M59.6 124.2h0M82.0 134.3h0M91.9 114.2h0M82.9 59.8h0M141.8 71.5h0M34.4 127.3h0M165.8 77.3h0M118.6 91.0h0M119.4 73.8h0M138.5 126.9h0M205.0 119.9h0M164.8 74.3h0M105.5 130.8h0M130.5 67.5h0M83.0 104.8h0M160.6 84.6h0M131.7 60.1h0M105.7 85.1h0M64.2 95.3h0M69.0 99.4h0M153.5 89.6h0M126.4 66.6h0M98.6 57.4h0M115.2 188.8h0M59.7 91.4h0M120.4 116.6h0M124.1 102.3h0M93.6 121.2h0M188.0 87.1h0M83.3 121.9h0M110.1 82.0h0M80.6 106.8h0M196.4 91.1h0M50.8 97.8h0M111.3 109.9h0M142.8 122.8h0M184.1 80.4h0M71.0 93.8h0M171.0 178.9h0M23.6 111.7h0M44.9 131.0h0M90.2 94.3h0M145.8 88.1h0M108.5 123.3h0M123.7 116.6h0M72.6 123.1h0M41.9 93.7h0M69.2 173.6h0M59.0 133.5h0M94.8 112.6h0M97.5 124.1h0M57.3 127.9h0M30.5 119.6h0M45.5 134.8h0M77.1 116.1h0M117.2 92.0h0M177.7 89.4h0M56.0 125.5h0M61.7 111.2h0M92.9 114.4h0M66.6 112.2h0M87.3 93.8h0M100.0 107.3h0M163.2 84.8h0M82.8 84.0h0M158.8 92.8h0M110.0 83.0h0M167.2 82.8h0M75.6 95.5h0M65.1 93.4h0M59.1 120.5h0M151.7 80.5h0M151.9 194.1h0M71.8 111.5h0M20.4 89.2h0M167.7 145.7h0M72.2 101.8h0M110.3 78.8h0M30.1 110.2h0M130.3 104.2h0M72.8 180.7h0M187.1 87.8h0M101.4 187.0h0M95.6 90.5h0M38.4 120.5h0M144.2 99.6h0M129.2 104.0h0M80.9 108.5h0M126.3 97.3h0M58.3 126.0h0M156.7 60.6h0M173.2 115.1h0M111.6 93.3h0M167.6 82.6h0M99.5 95.3h0M108.2 89.4h0M170.3 80.0h0M104.9 81.2h0M36.1 107.2h0M71.5 92.1h0M118.7 60.2h0M163.3 74.4h0M194.9 87.2h0M109.2 122.3h0M154.0 82.2h0M144.5 154.2h0M26.6 83.1h0M55.3 127.2h0M82.0 118.8h0M24.6 95.6h0M83.3 92.6h0M72.5 110.9h0M22.2 119.2h0M126.3 94.9h0M80.6 97.4h0M161.0 184.4h0M28.4 117.4h0M139.8 127.9h0M37.8 98.5h0M63.8 87.8h0M80.3 112.3h0M93.8 106.9h0M101.9 117.3h0M169.0 71.2h0M47.0 123.1h0M148.0 75.2h0M159.9 83.2h0M103.3 96.1h0M112.3 123.4h0M116.1 91.4h0M70.4 124.4h0M29.0 66.4h0M68.1 107.1h0M62.1 86.4h0M49.5 130.0h0M125.8 114.2h0M177.4 75.6h0M29.9 120.6h0M89.2 114.8h0M179.5 94.2h0M177.3 92.6h0M179.6 85.2h0M55.9 120.2h0M120.4 115.0h0M81.3 95.9h0M83.4 99.2h0M114.3 108.0h0M137.6 150.6h0M106.1 85.6h0M74.2 98.9h0M152.4 70.5h0M95.2 93.6h0M89.7 115.1h0M103.3 67.8h0M112.5 76.2h0M55.8 108.2h0M102.5 87.2h0M42.9 93.8h0M164.4 89.0h0M86.1 115.4h0M51.2 134.4h0M123.2 127.3h0M64.8 103.3h0M121.8 114.0h0M17.3 88.1h0M44.7 97.7h0M54.1 121.5h0M134.1 73.2h0M33.2 100.7h0M57.9 103.8h0M134.7 120.7h0M82.2 128.3h0M123.9 109.2h0M159.2 71.2h0M114.7 112.9h0M40.6 121.8h0M98.3 92.5h0M126.7 89.3h0M184.5 163.4h0M63.6 124.1h0M40.7 110.7h0M88.2 114.9h0M131.9 126.5h0M80.4 106.1h0M156.1 192.9h0M84.7 100.8h0M81.1 89.5h0M114.8 81.8h0M80.4 108.4h0M126.8 103.3h0M61.8 94.5h0M100.4 109.3h0M25.8 104.6h0M162.2 90.2h0M66.5 111.0h0M54.9 120.5h0M154.3 80.5h0M66.7 108.8h0M120.9 120.1h0M156.2 65.4h0M29.9 102.4h0M169.2 76.5h0M175.8 89.0h0M85.0 189.7h0M73.6 120.2h0M119.4 112.1h0M139.7 90.8h0M73.6 119.6h0M113.7 110.8h0M74.1 126.3h0M111.3 128.4h0M55.6 120.7h0M29.6 125.5h0M70.4 93.0h0M109.5 89.4h0M42.2 113.4h0M53.6 138.2h0M119.1 105.8h0M109.5 101.9h0M130.1 100.5h0M59.5 92.5h0M120.1 96.1h0M51.4 134.9h0M93.8 105.2h0M88.4 100.3h0M65.1 122.0h0M34.0 120.7h0M187.5 88.8h0M156.5 79.0h0M188.0 79.6h0M173.1 69.4h0M75.4 101.9h0M133.3 97.4h0M172.3 79.7h0M96.2 83.9h0M100.8 75.9h0M81.0 90.0h0M169.4 75.3h0M45.1 108.3h0M147.6 80.6h0M171.7 92.9h0M175.3 76.8h0M128.7 114.6h0M92.2 109.2h0M86.8 79.0h0M66.8 130.0h0M76.5 80.3h0M53.6 133.4h0M197.5 142.3h0M72.5 121.9h0M66.2 115.4h0M22.7 110.0h0M64.3 124.9h0M123.7 100.1h0M96.6 92.7h0M96.8 125.0h0M24.2 103.5h0M173.8 90.8h0M119.5 117.9h0M177.6 77.1h0M130.4 130.5h0M124.6 102.8h0M137.8 63.4h0M42.1 123.6h0M58.9 119.4h0M92.5 125.2h0M84.4 116.4h0M70.7 103.3h0M83.6 108.6h0M149.4 78.0h0M105.4 112.5h0M33.1 106.6h0M189.8 82.3h0M88.2 90.1h0M35.7 118.8h0M163.6 80.3h0M71.8 122.1h0M155.2 68.1h0M122.0 95.8h0M91.2 164.4h0M167.2 87.1h0M96.1 95.1h0M97.3 92.7h0M80.6 91.7h0M90.5 85.5h0M66.2 104.1h0M51.2 92.8h0M51.7 132.4h0M115.8 118.3h0M109.3 93.1h0M117.0 93.0h0M117.3 104.8h0M124.3 62.6h0M88.5 109.3h0M179.0 167.2h0M87.1 98.1h0M183.9 93.7h0M62.4 95.8h0M83.7 88.9h0M37.6 107.8h0M69.9 106.6h0M72.9 112.8h0M125.3 99.1h0M106.9 111.9h0M113.5 87.9h0M15.5 77.5h0M117.9 181.6h0M160.5 71.6h0M176.4 94.2h0M58.9 117.2h0M151.1 81.9h0M12.5 63.4h0M42.2 130.2h0M25.1 109.5h0M173.6 93.0h0M124.4 111.1h0M135.9 125.1h0M57.1 105.0h0M107.6 136.2h0M135.0 119.6h0M102.1 121.0h0M155.8 181.9h0M152.5 82.0h0M85.6 89.2h0M78.2 128.1h0M129.5 117.6h0M25.7 107.8h0M49.2 125.5h0M27.5 113.7h0M71.0 105.1h0M94.9 127.3h0M142.8 87.0h0M54.0 128.8h0M155.0 190.5h0M98.4 123.6h0M26.1 109.8h0M171.0 74.0h0M114.1 120.0h0M135.8 116.6h0M84.9 127.4h0M47.9 118.2h0M156.7 93.5h0M114.1 108.0h0M135.0 127.6h0M75.1 124.9h0M22.4 105.8h0M71.8 89.4h0M107.5 119.2h0M96.1 107.1h0M165.7 91.3h0M151.4 192.1h0M152.7 73.7h0M51.4 103.0h0M174.2 89.4h0M133.7 95.3h0M75.1 109.8h0M121.6 104.8h0M85.8 107.2h0M78.0 89.3h0M178.5 90.9h0M74.6 118.7h0M65.8 99.3h0M19.2 92.8h0M133.8 109.3h0M79.1 110.9h0M153.4 95.1h0M48.9 136.9h0M85.8 90.9h0M143.2 68.6h0M80.5 115.2h0M124.2 113.8h0M51.3 122.1h0M85.1 122.7h0M122.0 111.1h0M34.5 112.4h0M111.4 111.7h0M49.6 95.9h0M37.1 97.0h0M80.2 124.2h0M70.7 134.0h0M170.3 120.0h0M81.0 106.8h0M132.3 115.3h0M56.0 108.1h0M77.8 127.7h0M101.4 113.7h0M161.1 180.1h0M52.4 106.7h0M80.8 98.2h0M66.0 125.1h0M145.5 133.1h0M131.4 126.4h0M31.4 126.8h0M79.5 105.2h0M88.2 119.0h0M171.2 71.7h0M92.1 124.9h0M112.8 102.9h0M66.9 121.2h0M108.8 101.7h0M133.3 119.6h0M79.2 115.0h0M116.3 105.8h0M63.9 94.2h0M65.7 116.4h0M76.0 88.3h0M92.1 93.6h0M113.0 101.8h0M105.3 118.4h0M116.9 102.3h0M94.3 86.1h0M80.5 103.6h0M116.8 119.3h0M86.8 123.0h0M86.3 92.2h0M23.0 97.3h0M129.1 111.1h0M89.5 69.1h0M183.7 86.6h0M116.5 82.9h0M80.5 121.2h0M77.5 89.2h0M40.0 139.3h0M158.0 74.3h0M109.0 125.5h0M85.6 112.5h0M155.8 63.3h0M148.3 99.0h0M153.2 77.2h0M156.8 83.2h0M85.9 122.4h0M78.4 86.6h0M112.2 100.3h0M117.9 95.4h0M128.9 128.3h0M132.6 108.6h0M125.3 126.0h0M41.8 119.1h0M87.2 115.1h0M97.7 112.6h0M105.1 76.4h0M108.1 87.4h0M83.2 93.4h0M105.6 97.8h0M29.4 122.8h0M114.5 105.1h0M66.6 120.7h0M82.8 114.4h0M172.7 72.6h0M65.3 101.5h0M100.8 102.2h0M109.8 82.4h0M86.6 89.4h0M67.1 95.3h0M91.0 115.7h0M129.8 122.4h0M110.2 123.9h0M167.8 74.4h0M108.9 91.3h0M80.2 92.5h0M115.3 86.2h0M125.8 119.6h0M121.8 124.7h0M45.1 121.7h0M108.0 111.7h0M164.7 81.4h0M31.8 117.9h0M90.5 88.6h0M114.7 100.6h0M75.0 101.2h0M43.7 72.5h0M131.6 127.1h0M82.7 111.7h0M108.3 101.6h0M131.7 120.6h0M178.9 90.9h0M76.3 115.6h0M121.7 106.1h0M53.9 120.8h0M92.3 89.7h0M90.3 113.0h0M65.2 116.9h0M104.2 94.0h0M61.3 102.8h0M122.6 95.6h0M136.9 124.5h0M175.3 80.1h0M46.4 97.3h0M119.6 118.3h0M98.8 82.4h0M48.5 100.2h0M101.4 121.8h0M64.9 103.0h0M155.0 78.9h0M91.2 116.6h0M109.0 106.1h0M103.5 109.9h0M98.3 109.1h0M117.5 116.4h0M140.6 97.6h0M118.2 85.5h0M51.8 130.3h0M159.6 83.6h0M63.8 114.0h0M166.2 171.1h0M90.5 113.1h0M109.3 90.7h0M117.5 171.4h0M115.4 95.6h0M91.0 123.8h0M78.2 106.2h0M95.7 96.5h0M85.3 85.8h0M65.9 104.3h0M117.9 127.0h0M82.9 101.8h0M189.3 91.4h0M39.1 64.1h0M102.2 88.5h0M119.7 113.1h0M164.3 92.1h0M146.7 75.1h0M77.5 99.7h0M70.2 97.3h0M117.5 88.0h0M66.3 122.8h0M177.0 89.5h0M14.1 94.0h0M71.6 94.6h0M106.3 82.7h0M101.3 81.0h0M73.5 122.2h0M157.5 67.6h0M35.3 102.6h0M134.8 121.9h0M64.8 128.8h0M58.9 98.8h0M72.1 100.3h0M126.8 113.4h0M48.6 102.9h0M122.6 85.2h0M179.3 83.3h0M60.0 125.3h0M169.9 84.5h0M152.7 62.4h0M50.3 124.2h0M66.0 125.4h0M83.5 112.4h0M183.6 96.4h0M75.3 93.1h0M93.7 101.5h0M87.8 80.6h0M79.7 116.5h0M125.6 86.7h0M69.7 102.3h0M98.2 115.6h0M130.5 171.1h0M60.8 112.3h0M72.7 122.8h0M82.9 97.6h0M157.1 84.3h0M90.2 118.9h0M59.3 90.3h0M84.5 95.7h0M78.0 101.2h0M96.0 92.8h0M107.3 104.7h0M136.3 125.5h0M29.8 100.5h0M118.5 122.9h0M160.1 85.3h0M66.3 120.3h0M159.4 67.1h0M29.7 117.6h0M113.1 74.8h0M89.0 82.4h0M162.0 79.5h0M75.6 99.2h0M172.4 93.9h0M186.2 86.9h0M155.6 75.6h0M46.5 137.0h0M91.8 104.5h0M21.6 98.7h0M147.0 81.6h0M73.7 125.5h0M204.0 101.6h0M99.3 106.9h0M136.5 80.0h0M63.9 121.7h0M130.3 62.5h0M151.3 67.3h0M91.0 110.2h0M78.4 110.6h0M27.0 114.8h0M75.5 102.4h0M70.8 104.4h0M98.9 103.7h0" stroke="#404048" stroke-width="1.45" stroke-linecap="round" fill="none"/>
<path d="M38.6 67.1h0M38.0 70.2h0M61.9 59.7h0M25.7 72.4h0M26.4 78.4h0M37.5 67.5h0M38.7 59.7h0M25.2 68.7h0M67.7 78.6h0M69.1 54.9h0M74.4 84.0h0M23.0 56.4h0M34.2 64.0h0M72.2 81.7h0M20.9 68.9h0M53.1 85.4h0M28.7 62.1h0M57.8 56.1h0M33.1 75.1h0M40.7 56.8h0M54.3 82.3h0M46.9 83.8h0M61.0 72.2h0M76.1 63.2h0M71.9 58.4h0M33.9 76.0h0M67.4 83.2h0M45.4 69.1h0M37.1 58.1h0M66.4 85.4h0M43.5 86.0h0M61.2 68.5h0M37.2 88.6h0M36.4 78.2h0M38.0 61.1h0M45.3 72.6h0M44.9 92.1h0M38.6 56.6h0M24.8 75.0h0M65.5 82.7h0M24.7 60.4h0M22.6 72.4h0M51.6 83.2h0M39.0 56.2h0M35.4 81.7h0M47.3 86.6h0M43.8 59.4h0M53.6 81.1h0M75.0 55.6h0M73.2 65.9h0M27.8 64.1h0M39.3 68.1h0M69.7 85.9h0M78.8 69.3h0M48.7 63.2h0M78.4 65.4h0M70.6 78.3h0M56.4 91.5h0M31.7 62.2h0M29.4 72.9h0M46.3 54.8h0M74.4 78.6h0M50.7 79.3h0M55.7 74.5h0M48.3 66.5h0M66.9 78.1h0M45.3 59.3h0M27.3 74.9h0M60.1 85.7h0M62.7 79.9h0M38.5 56.7h0M14.2 59.2h0M71.7 65.6h0M39.2 68.2h0M55.0 63.5h0M29.0 59.2h0M38.2 65.0h0M26.4 57.4h0M46.6 90.6h0M67.3 78.5h0M52.6 62.2h0M51.9 81.3h0M50.7 88.0h0M56.1 91.9h0M37.2 68.7h0M41.8 63.6h0M50.6 92.3h0M55.8 79.9h0M48.2 69.3h0M55.8 98.4h0M54.7 73.3h0M43.8 90.2h0M43.1 81.5h0M33.9 76.5h0M75.3 79.1h0M33.2 73.7h0M52.2 77.2h0M19.2 64.3h0M36.3 58.7h0M31.3 66.7h0M33.1 76.7h0M32.5 79.2h0M32.5 85.5h0M79.1 62.1h0M46.4 58.7h0M39.7 69.6h0M41.5 69.3h0M44.6 76.4h0M61.4 96.9h0M75.4 68.2h0M42.2 74.6h0M77.0 81.3h0M44.9 59.8h0M50.9 57.2h0M61.3 60.9h0M55.0 59.8h0M72.7 61.0h0M45.5 89.0h0M52.2 82.1h0M29.4 81.5h0M40.9 80.1h0M68.2 86.7h0M55.2 69.4h0M24.1 60.5h0M51.5 71.0h0M51.2 68.5h0M41.6 76.5h0M25.4 79.8h0M58.8 96.8h0M23.9 55.1h0M60.7 66.5h0M33.8 78.6h0M56.1 97.0h0M17.0 62.1h0M52.8 66.7h0M57.6 64.1h0M45.7 63.2h0M29.1 68.2h0M83.3 69.7h0M46.8 92.8h0M74.1 79.6h0M66.1 60.7h0M68.8 70.3h0M62.0 93.3h0M34.2 68.1h0M53.2 69.2h0M55.0 69.5h0M46.2 63.3h0M28.8 70.9h0M37.1 59.9h0M54.7 78.5h0M21.1 73.1h0M29.5 64.8h0" stroke="#5a3040" stroke-width="1.45" stroke-linecap="round" fill="none"/>
<path d="M71.4 157.7h0M79.9 159.5h0M57.7 142.3h0M65.2 151.0h0M75.0 183.3h0M95.3 138.4h0M86.8 150.0h0M90.9 136.4h0M54.6 129.6h0M63.1 176.0h0M95.0 159.5h0M82.7 137.6h0M78.6 157.7h0M74.4 155.5h0M85.5 127.1h0M68.5 180.9h0M90.8 182.5h0M50.2 148.5h0M51.6 166.5h0M73.2 139.6h0M50.7 140.4h0M74.2 163.0h0M68.9 191.2h0M88.6 181.8h0M58.7 165.8h0M58.6 167.0h0M54.1 155.4h0M50.3 177.6h0M63.7 157.0h0M78.6 150.4h0M63.6 138.8h0M52.6 146.4h0M98.6 172.5h0M74.1 142.9h0M63.2 140.2h0M78.2 141.9h0M79.0 152.4h0M74.8 140.8h0M89.2 146.4h0M58.0 184.4h0M93.2 162.2h0M94.7 153.8h0M102.0 145.4h0M71.2 186.1h0M47.7 152.3h0M92.3 151.2h0M98.6 156.0h0M74.2 185.0h0M76.0 166.7h0M87.5 132.6h0M60.6 140.5h0M92.9 163.9h0M54.2 147.8h0M84.1 155.3h0M86.2 152.4h0M62.8 166.1h0M81.6 162.8h0M48.7 147.5h0M75.4 161.6h0M74.7 135.9h0M86.6 172.7h0M74.7 174.5h0M65.6 172.5h0M69.0 139.4h0M52.8 142.5h0M70.9 144.4h0M59.2 135.5h0M103.0 180.8h0M61.3 130.3h0M89.5 161.4h0M52.4 140.0h0M88.1 130.3h0M78.7 130.9h0M56.9 147.4h0M60.5 155.3h0M47.6 162.9h0M85.1 153.4h0M89.8 129.0h0M67.8 135.5h0M60.2 139.2h0M66.2 158.5h0M89.8 179.3h0M60.4 141.1h0M91.6 150.4h0M55.7 133.5h0M84.4 141.2h0M64.6 185.0h0M76.6 189.1h0M89.7 133.0h0M78.9 177.7h0M56.5 137.7h0M99.7 164.2h0M48.4 139.6h0M63.2 181.8h0M86.0 145.9h0M85.1 169.5h0M90.5 162.8h0M54.4 139.7h0M50.1 134.8h0M58.1 185.8h0M95.8 130.8h0M78.6 171.8h0M50.6 179.6h0M71.7 179.3h0M80.9 164.6h0M55.6 156.3h0M65.7 123.0h0M59.5 157.8h0M68.2 153.3h0M65.0 147.6h0M95.6 132.0h0M58.4 140.1h0M89.7 126.7h0M71.1 170.2h0M85.7 155.2h0M73.0 153.7h0M81.3 156.3h0M57.1 154.4h0M64.2 173.7h0M64.2 132.0h0M77.2 163.0h0M112.0 173.5h0M68.5 179.5h0M95.9 161.2h0M85.7 140.3h0M100.3 153.6h0M58.9 154.5h0M102.4 132.9h0M64.7 178.3h0M68.1 162.4h0M74.0 141.4h0M66.2 176.2h0M57.0 147.9h0M77.4 138.7h0M81.4 181.8h0M98.8 157.4h0M79.0 169.2h0M89.4 189.5h0M61.3 170.6h0M74.9 143.1h0M66.7 153.3h0M91.7 138.2h0M82.9 141.8h0M86.4 128.4h0M71.6 180.4h0M46.4 166.2h0M97.5 156.2h0M96.4 135.1h0M65.2 131.9h0M77.7 158.2h0M89.4 149.5h0M81.2 173.4h0M98.9 141.9h0M96.5 190.7h0M95.4 172.4h0M76.0 175.1h0M95.3 177.2h0M82.8 171.7h0M55.3 150.2h0M54.9 172.3h0M98.5 189.6h0M76.8 181.5h0M52.0 149.3h0M55.2 156.5h0M103.2 152.5h0M61.3 150.8h0M63.5 139.1h0M83.5 170.1h0M81.0 168.6h0M94.3 159.8h0M89.4 144.9h0M81.5 126.2h0M62.7 144.8h0M77.7 143.6h0M56.1 150.2h0M48.7 172.8h0M77.3 149.1h0M56.2 159.3h0M92.9 154.1h0M71.8 165.7h0M103.1 168.8h0M107.4 178.7h0M66.2 140.3h0M87.6 150.9h0M63.6 152.8h0M77.1 146.1h0M96.5 152.3h0M85.8 153.9h0M54.1 167.0h0M64.4 128.0h0M101.1 130.6h0M58.3 151.7h0M48.8 175.9h0M56.8 173.5h0M87.5 177.4h0M53.8 172.2h0M86.7 183.6h0M71.0 183.7h0M50.3 145.9h0M89.9 163.2h0M68.3 167.8h0M76.1 140.8h0M80.8 145.0h0M73.6 160.5h0M64.0 169.8h0M60.0 178.1h0M100.7 172.5h0M95.6 174.1h0M69.0 147.6h0M63.8 140.5h0M59.5 181.9h0M77.8 144.1h0M63.0 133.8h0M61.2 179.5h0M87.5 125.7h0M56.0 173.1h0M92.7 178.1h0M69.0 127.3h0M56.9 146.6h0M101.5 134.6h0M75.1 169.6h0M62.2 146.5h0M52.2 169.6h0M64.3 137.9h0M53.4 146.0h0M85.2 162.6h0M101.6 176.8h0M76.8 133.5h0M78.5 187.5h0M70.0 149.3h0M75.8 144.8h0M107.4 168.3h0M74.3 170.3h0M78.3 135.7h0M55.9 145.2h0M77.0 147.3h0M94.7 175.2h0M83.3 189.2h0M75.0 183.6h0M68.9 160.6h0M92.8 184.1h0M77.2 157.7h0M62.8 165.1h0M83.3 125.2h0M89.5 150.1h0M99.9 171.8h0M75.0 162.8h0M69.5 126.9h0M92.4 186.2h0M80.3 138.8h0M73.6 143.7h0M63.8 150.8h0M85.7 137.4h0M79.9 151.2h0M70.8 180.3h0M109.6 139.4h0M61.5 142.1h0M52.5 146.9h0M53.2 151.6h0M92.8 154.9h0M103.6 181.9h0M48.0 181.5h0M55.7 171.5h0M81.6 143.1h0M74.2 150.7h0M79.9 146.1h0M67.6 139.1h0M80.7 177.9h0M82.4 181.8h0M79.9 148.9h0M63.6 183.3h0M83.3 177.2h0M57.5 158.5h0M53.6 188.4h0M87.9 144.2h0M69.7 168.6h0M53.3 138.5h0M90.5 169.6h0M101.5 140.3h0M77.0 139.8h0M78.5 192.2h0M72.2 190.7h0M61.0 139.3h0M49.3 161.4h0M73.4 150.7h0M106.2 147.7h0M102.3 155.3h0M97.5 174.1h0M86.2 169.0h0M85.9 153.9h0M94.8 177.8h0M80.9 184.3h0M81.6 161.7h0M52.2 153.2h0M82.2 130.2h0M84.0 181.9h0M96.8 137.4h0M84.2 176.5h0M61.0 160.1h0M65.6 172.7h0M54.0 139.7h0M62.4 142.6h0M81.7 142.7h0M58.2 141.4h0M60.4 140.8h0M77.7 152.8h0M94.8 191.5h0M70.9 151.0h0M90.5 134.6h0M58.7 166.7h0M94.9 156.7h0M94.5 175.2h0M59.6 170.7h0M54.2 171.6h0M74.1 159.3h0M71.7 157.3h0M76.6 143.9h0M85.6 137.5h0M80.2 147.2h0M71.9 146.7h0M92.3 156.5h0M99.0 188.6h0M59.4 153.7h0M66.5 181.4h0M67.0 166.2h0M62.0 152.9h0M99.2 174.6h0M79.0 159.7h0M82.2 188.8h0M72.0 139.1h0M70.5 186.3h0M102.6 177.4h0M50.2 145.0h0M56.9 180.2h0M67.7 172.7h0M96.4 184.0h0M89.8 131.0h0M74.3 170.2h0M75.5 160.6h0M94.2 170.0h0M91.4 152.3h0M76.6 173.4h0M101.5 139.2h0M72.5 172.2h0M87.7 138.9h0M99.8 143.1h0M58.9 127.2h0M61.3 138.6h0M67.1 149.5h0M58.1 155.9h0M51.5 156.7h0M82.3 154.7h0M68.9 159.9h0M86.0 177.5h0M65.7 182.2h0M107.0 188.1h0M81.3 161.9h0M60.0 176.8h0M82.4 125.2h0M73.2 142.7h0M60.3 177.1h0M72.2 158.6h0M76.5 141.3h0M91.5 159.7h0M75.3 158.8h0M92.1 180.8h0M62.3 150.3h0M74.9 135.5h0M61.3 145.9h0M63.0 172.8h0M51.4 174.0h0M71.7 162.2h0M56.8 134.9h0M72.0 133.1h0M108.1 176.4h0M54.0 143.1h0M83.6 161.3h0M56.2 166.6h0M92.3 141.2h0M75.7 167.1h0M77.3 161.7h0M61.3 139.7h0M67.7 153.9h0M67.6 136.9h0M59.0 174.7h0M74.3 184.1h0M57.7 175.1h0M53.4 180.3h0M74.7 167.4h0M41.0 156.9h0M63.7 174.5h0M49.6 155.5h0M80.0 161.1h0M57.9 144.1h0M86.1 133.9h0M93.0 180.4h0M76.1 144.5h0M80.9 139.5h0M47.3 157.4h0M70.0 175.4h0M47.9 143.5h0M71.7 169.0h0M69.5 151.4h0M64.3 174.8h0M92.1 164.8h0M99.8 157.9h0M57.8 152.2h0M64.5 172.5h0M57.4 159.8h0M75.5 139.7h0M75.9 192.7h0M85.8 141.0h0M64.1 153.3h0M79.5 147.9h0M69.0 142.4h0M79.1 150.7h0M66.1 186.2h0M60.8 185.2h0M97.1 164.8h0M69.0 169.7h0M78.9 169.2h0M77.4 189.4h0M65.1 157.0h0M62.5 136.8h0M105.9 167.1h0M89.8 135.1h0M83.1 127.9h0M83.4 158.2h0M90.9 157.6h0M88.6 136.8h0M71.6 135.6h0M58.7 131.8h0M57.3 171.4h0M86.9 136.2h0M107.4 186.4h0M62.9 161.5h0M66.1 144.3h0M58.3 171.8h0M76.4 135.4h0M64.9 158.9h0M63.6 146.4h0M74.9 167.9h0M51.5 136.2h0M65.8 168.7h0M55.2 156.2h0M63.4 170.5h0M58.4 170.2h0M78.1 139.0h0M82.4 141.2h0M54.1 162.3h0M66.2 170.1h0M61.7 132.5h0M56.6 150.6h0M65.9 135.6h0M72.0 132.0h0M81.2 143.9h0M57.8 183.2h0M54.8 163.3h0M62.2 140.7h0M62.8 169.6h0M71.0 139.4h0M52.5 146.9h0M62.3 155.2h0M71.7 163.7h0M59.5 136.2h0M94.1 142.3h0M103.9 142.0h0M51.1 162.9h0M47.2 143.8h0M71.1 165.8h0M65.9 175.5h0M60.4 162.5h0M61.9 145.3h0M49.4 173.6h0M78.7 185.8h0M54.1 158.4h0M58.7 162.2h0M66.6 159.8h0M88.0 163.0h0M88.6 132.2h0M71.9 128.5h0M86.3 177.4h0M56.0 130.9h0M68.7 149.6h0M65.1 125.4h0M60.1 179.3h0M63.6 179.5h0M54.6 165.9h0M68.4 143.2h0M93.3 175.3h0M68.9 161.0h0M59.8 181.7h0M66.8 183.1h0M60.2 135.5h0M50.3 149.6h0M79.8 163.4h0M81.6 140.0h0M51.8 139.6h0M95.8 162.4h0M53.4 142.3h0M99.0 134.4h0M73.7 171.2h0M51.6 168.6h0M65.0 169.6h0M79.6 143.8h0M88.8 187.6h0M61.5 179.4h0M52.6 182.6h0M108.4 146.3h0M70.0 141.9h0M73.4 132.9h0M59.7 140.6h0M106.6 184.6h0M93.2 143.6h0M58.0 147.8h0M65.2 177.8h0M112.4 164.3h0M70.1 175.3h0M119.9 128.8h0M79.1 139.7h0M61.2 157.4h0M83.8 143.5h0M52.2 178.6h0M90.6 182.1h0M83.8 148.2h0M52.2 138.0h0M58.6 170.8h0M65.2 183.9h0M78.5 165.8h0M74.2 165.4h0M57.2 186.2h0M60.6 153.2h0M72.4 185.2h0M60.2 170.8h0M64.0 134.5h0M78.8 187.4h0M76.2 181.3h0M93.8 175.4h0M68.0 166.4h0M78.2 136.8h0M64.7 170.6h0M67.0 137.4h0M62.0 165.5h0M80.4 153.6h0M58.4 142.9h0M53.6 130.7h0M73.9 161.8h0M75.2 146.2h0M51.4 156.0h0M100.9 184.4h0M85.1 130.0h0M66.7 146.9h0M97.0 148.9h0M89.7 146.4h0M93.4 171.9h0M50.8 143.5h0M65.0 126.3h0M89.6 128.5h0M59.0 179.8h0M55.5 151.8h0M54.7 171.7h0M48.4 159.2h0M95.2 161.5h0M87.0 133.5h0M56.9 183.4h0M89.2 162.8h0M79.7 183.1h0M75.7 154.4h0M63.4 151.9h0M58.6 185.5h0M83.0 173.0h0M57.3 170.6h0M75.9 177.0h0M76.7 136.3h0M57.6 173.4h0M82.2 161.9h0M87.1 150.0h0M87.7 143.2h0M91.8 139.4h0M55.0 150.3h0M63.3 178.7h0M106.0 180.5h0M91.8 166.9h0M74.4 151.3h0M66.6 140.8h0M76.4 149.4h0M69.4 150.9h0M59.1 148.6h0M72.9 133.5h0M56.3 153.4h0M74.3 179.7h0M86.7 146.6h0M78.2 160.3h0M78.1 140.1h0M96.3 142.4h0M54.9 137.5h0M76.0 150.2h0M96.7 184.3h0M56.5 141.0h0M81.2 130.5h0M80.3 169.5h0M78.1 131.1h0M71.4 149.1h0M77.9 133.8h0M81.9 177.8h0M76.4 145.1h0M49.4 149.6h0M55.5 181.4h0M70.2 140.7h0M87.6 167.1h0M67.1 152.4h0M101.9 157.5h0M66.8 150.7h0M89.1 170.2h0M96.4 175.2h0M104.4 165.4h0M77.7 176.9h0M88.4 136.5h0M77.0 132.4h0M77.2 176.9h0M76.9 190.4h0M80.4 171.1h0M54.6 171.5h0M57.6 171.1h0M92.8 157.3h0M71.8 170.5h0M70.9 174.3h0M69.5 150.2h0M75.1 145.1h0M78.5 149.2h0M97.8 162.3h0M54.5 130.6h0M72.5 167.9h0M75.7 155.8h0M70.0 166.0h0M75.1 144.9h0M96.9 139.8h0M68.9 186.5h0M106.2 136.2h0M72.0 188.4h0M60.2 137.4h0M78.3 152.1h0M52.5 179.2h0M66.7 150.5h0M61.6 128.1h0M51.8 175.7h0M83.5 168.9h0M76.6 171.9h0M79.9 124.9h0M89.5 154.6h0M87.5 167.6h0M81.2 191.5h0M70.2 187.6h0M57.6 162.9h0M84.9 154.2h0M69.7 188.9h0M108.5 150.2h0M67.3 165.6h0M78.2 150.1h0M60.0 156.0h0M55.9 180.5h0M63.0 154.9h0M78.0 177.4h0M83.1 173.3h0M53.8 160.9h0M72.4 136.2h0M74.0 164.9h0M68.8 143.4h0M71.4 184.0h0M67.9 149.9h0M59.1 165.5h0M97.0 159.9h0M51.9 133.9h0M64.9 149.3h0M65.5 188.5h0M50.7 157.2h0M84.3 176.1h0M56.2 150.6h0M52.1 163.7h0M104.6 181.8h0M88.5 178.9h0M74.3 131.3h0M63.0 168.4h0M71.2 170.0h0M51.4 137.7h0M79.6 137.0h0M77.6 174.7h0M73.3 190.1h0M88.7 140.6h0M74.8 185.6h0M54.2 159.7h0M104.6 194.1h0M61.1 153.6h0M82.2 167.6h0M86.7 166.1h0M58.4 159.1h0M83.4 146.3h0M99.8 158.9h0M77.3 177.7h0M98.7 166.1h0M94.5 148.9h0M49.6 173.1h0M71.5 151.4h0M88.0 147.0h0M57.3 159.6h0M88.5 165.8h0M97.6 138.5h0M60.5 141.2h0M88.1 184.9h0M53.8 149.2h0M82.7 191.7h0M46.0 180.0h0M79.6 190.1h0M78.6 166.7h0M79.0 158.5h0M64.3 162.5h0M76.8 139.4h0M92.7 165.5h0M95.6 152.4h0M51.4 173.4h0M98.9 136.9h0M88.5 150.4h0M75.9 140.4h0M94.5 189.3h0M77.4 177.8h0M85.3 165.8h0M80.3 152.9h0M81.7 168.9h0M54.8 153.0h0M63.8 148.9h0M67.6 158.3h0M88.7 153.8h0M94.8 188.6h0M95.5 194.0h0M78.1 178.7h0M79.5 140.0h0M86.7 148.6h0M83.0 164.4h0M70.4 181.3h0M84.7 181.1h0M52.1 179.2h0M84.8 170.3h0M79.0 169.1h0M75.6 154.7h0M61.1 148.6h0M64.0 160.2h0M104.9 178.2h0M62.5 154.3h0M65.3 153.3h0M84.9 179.7h0M52.0 169.6h0M76.7 155.5h0M68.8 149.7h0M79.7 150.3h0M79.8 152.3h0M58.9 181.0h0M104.1 158.9h0M52.2 160.4h0M71.8 151.4h0M77.6 166.1h0M75.6 167.9h0M88.9 166.0h0M81.4 166.8h0M68.0 168.8h0M77.3 168.0h0M66.8 157.7h0M58.5 146.2h0M81.7 175.4h0M81.9 164.9h0M69.8 149.3h0M54.9 134.5h0M89.2 183.1h0M93.3 172.4h0M71.3 124.5h0M74.1 144.2h0M88.8 177.3h0M75.1 148.7h0M84.1 171.4h0M106.3 136.5h0M67.2 143.5h0M57.4 154.9h0M55.4 133.7h0M71.9 132.5h0M48.5 170.2h0M93.6 146.2h0M74.7 144.6h0M59.2 161.5h0M72.8 135.7h0M66.8 137.1h0M96.4 184.4h0M54.8 168.2h0M71.4 161.6h0M97.1 152.0h0M91.1 132.5h0M66.2 141.5h0M62.6 131.1h0M58.6 145.2h0M99.4 140.2h0M73.7 183.4h0M65.3 144.2h0M92.8 152.7h0M55.2 137.0h0M94.3 155.4h0M66.0 151.2h0M81.1 184.7h0M59.8 150.6h0M46.9 162.6h0M65.2 176.3h0M86.9 154.2h0M80.4 185.5h0M100.5 135.9h0M90.1 130.5h0M53.6 149.6h0M96.8 141.4h0M64.0 135.4h0M56.7 148.3h0M102.6 165.3h0M48.9 160.5h0M78.2 142.2h0M114.5 166.1h0M68.0 175.5h0M69.8 140.9h0M65.0 181.5h0M80.9 185.0h0M71.7 143.1h0M48.8 166.4h0M87.3 168.7h0M66.9 185.9h0M85.3 154.6h0M71.2 134.0h0M58.0 184.6h0M87.7 167.2h0M107.4 163.9h0M73.3 187.9h0M76.5 151.3h0M81.7 129.4h0M90.0 149.0h0M64.0 160.8h0M52.7 134.7h0M53.4 163.9h0M70.1 154.7h0M80.6 138.7h0M94.7 189.9h0M94.5 138.6h0M74.0 134.2h0M70.8 177.1h0M53.6 156.7h0M62.7 142.2h0M97.8 160.6h0M82.0 183.1h0M91.3 172.0h0M70.4 142.6h0M86.0 149.8h0M100.7 161.7h0M105.6 182.1h0M61.5 174.6h0M75.0 176.7h0M76.0 141.9h0M50.1 145.3h0M74.6 146.1h0M75.6 192.8h0M75.9 135.6h0M55.7 185.3h0M52.5 160.8h0M84.0 150.6h0M62.6 187.3h0M71.9 143.4h0M72.9 135.8h0M67.9 142.4h0M60.2 170.4h0M73.6 141.7h0M60.3 180.2h0M59.0 171.8h0M57.3 174.3h0M92.5 132.1h0M89.2 167.7h0M62.6 173.1h0M92.7 183.5h0M60.7 138.1h0M81.4 180.5h0M90.6 164.6h0M72.5 150.2h0M89.7 171.5h0M56.1 140.4h0M53.7 137.9h0M84.8 167.4h0M80.3 143.7h0M73.8 161.8h0M53.9 158.4h0M86.8 136.0h0M54.4 167.3h0M47.6 166.9h0M71.2 146.7h0M72.4 151.2h0M92.6 176.3h0M66.7 168.1h0M73.9 186.1h0M77.3 136.3h0M81.3 171.2h0M85.3 132.7h0M73.7 186.7h0M65.0 155.3h0M61.4 142.4h0M78.6 173.5h0M82.2 182.6h0M79.4 167.8h0M49.4 148.4h0M83.6 173.2h0M54.9 187.3h0M87.2 150.4h0M69.8 154.1h0M77.0 153.1h0M82.3 174.2h0M64.3 171.9h0M87.3 145.6h0M51.9 151.8h0M58.3 156.1h0M86.3 182.7h0M98.4 178.4h0M67.8 156.9h0M96.9 164.7h0M98.0 149.7h0M95.8 132.9h0M93.4 164.2h0M54.3 154.8h0M81.4 147.5h0M69.0 127.1h0M89.3 149.7h0M99.8 168.5h0M60.6 141.7h0M91.6 187.7h0M97.2 173.6h0M62.3 148.7h0M94.3 182.6h0M74.6 177.7h0M62.1 178.8h0M107.9 166.5h0M64.4 192.7h0M54.7 161.9h0M90.9 145.9h0M94.5 154.2h0M77.8 169.4h0M79.6 166.6h0M52.5 162.3h0M66.3 145.0h0M80.9 147.0h0M72.1 144.1h0M86.2 173.9h0M82.6 158.8h0M85.5 131.3h0M61.1 170.5h0M89.5 151.1h0M52.7 167.1h0M93.5 157.4h0M54.3 145.7h0M58.2 151.7h0M89.4 152.9h0M72.7 160.5h0M85.4 177.0h0M93.0 183.8h0M63.0 133.3h0M73.8 181.2h0M103.7 183.8h0M89.1 178.2h0M70.6 143.2h0M67.2 175.1h0M94.2 158.7h0M91.1 126.9h0M87.6 155.9h0M97.7 180.4h0M70.8 177.3h0M104.7 165.3h0M84.7 189.9h0M94.9 128.8h0M101.2 182.0h0M63.6 145.5h0M62.4 176.6h0M106.2 173.0h0M54.1 181.9h0M74.2 169.4h0M54.9 156.5h0M101.5 154.2h0M80.8 183.9h0M74.3 171.2h0M109.3 182.1h0M62.6 183.9h0M97.9 140.2h0M77.3 142.6h0M67.5 147.3h0M67.6 142.0h0M83.7 175.2h0M56.7 179.3h0M86.3 162.7h0M55.8 152.2h0M94.9 162.7h0M88.0 178.4h0M103.7 178.7h0M52.4 167.9h0M76.5 187.1h0M94.4 145.2h0M54.6 127.4h0M89.3 173.3h0M85.9 133.7h0M91.0 188.1h0M65.7 169.2h0M66.1 131.9h0M73.5 184.6h0M52.6 173.6h0M64.9 153.7h0M84.1 175.3h0M53.8 168.4h0M59.2 176.3h0M64.3 177.2h0M58.8 143.4h0M77.6 168.0h0M60.0 159.3h0M98.0 186.6h0M68.8 145.9h0M63.8 141.0h0M96.9 172.4h0M89.9 146.3h0M99.8 136.4h0M95.3 180.9h0M53.0 170.5h0M53.4 179.5h0M69.9 137.4h0M77.3 144.1h0M57.7 175.2h0M86.8 157.4h0M75.0 161.4h0M96.6 186.0h0M58.1 133.4h0M75.4 137.0h0M79.1 189.0h0M75.1 127.3h0M56.2 135.3h0M63.9 175.0h0M57.2 177.7h0M89.5 163.1h0M61.0 161.5h0M73.7 181.5h0M57.7 160.3h0M49.3 147.8h0M85.4 166.8h0M54.5 142.7h0M88.0 135.9h0M80.1 151.8h0M92.9 155.2h0M85.9 176.8h0M70.8 169.7h0M83.9 186.6h0M53.5 134.7h0M90.9 184.8h0M73.4 141.3h0M85.0 153.8h0M70.1 181.0h0M100.3 168.1h0M71.6 183.1h0M82.4 179.1h0M57.4 141.1h0M86.1 131.0h0M74.9 142.4h0M74.0 136.7h0M56.8 172.8h0M82.6 163.0h0M50.7 178.3h0M77.3 140.2h0M65.4 179.0h0M60.9 148.8h0M67.4 189.5h0M74.4 170.5h0M59.4 147.9h0M84.4 175.2h0M53.7 182.9h0M59.0 157.3h0M63.2 163.2h0M55.5 142.7h0M74.7 136.1h0M94.8 146.7h0M115.2 151.6h0M99.3 167.7h0M77.6 171.1h0M107.3 169.1h0M65.7 125.9h0M69.8 169.7h0M79.3 158.6h0M60.1 180.2h0M76.0 172.6h0M67.4 189.8h0M71.4 164.9h0M76.2 149.0h0M63.3 159.0h0M64.3 182.9h0M81.2 141.0h0M84.5 169.0h0M92.4 163.0h0M76.4 145.5h0M82.2 137.3h0M91.3 137.0h0M74.6 177.3h0M65.4 140.2h0M68.9 156.5h0M74.0 137.8h0M72.9 158.8h0M63.7 142.3h0M82.2 144.1h0M56.6 178.9h0M62.7 147.8h0M59.3 156.5h0M59.8 172.7h0M64.4 145.7h0M68.2 169.2h0M73.1 133.5h0M75.8 183.6h0M64.7 129.2h0M76.2 124.3h0M53.5 149.0h0M98.4 154.3h0M75.7 141.4h0M59.7 148.3h0M67.7 145.0h0M74.4 140.1h0M57.0 147.3h0M91.3 174.0h0M71.6 133.0h0M75.6 185.9h0M64.5 179.0h0M80.4 143.0h0M77.9 165.1h0M87.2 188.9h0M79.7 175.5h0M81.1 173.6h0M103.0 170.4h0M61.2 155.4h0M80.5 185.7h0M93.9 185.9h0M72.0 130.1h0M74.9 171.1h0M64.8 168.2h0M48.9 144.9h0M64.2 177.5h0M63.7 152.1h0M92.1 144.8h0M57.0 134.0h0M89.0 163.5h0M70.5 172.6h0M61.6 179.1h0M71.9 137.3h0M93.8 130.4h0M60.9 182.1h0M86.3 131.8h0M72.3 181.9h0M93.7 162.5h0M110.4 177.3h0M82.2 168.2h0M67.8 154.2h0M84.1 139.2h0M103.5 146.9h0M93.3 149.0h0M93.7 179.8h0M82.4 179.5h0M84.7 160.2h0M95.4 162.4h0M83.7 132.0h0M90.9 165.3h0M84.2 173.8h0M63.6 137.6h0M68.9 176.3h0M65.3 188.6h0M55.6 141.8h0M77.7 157.0h0M84.5 174.6h0M66.4 141.2h0M66.1 160.8h0M88.2 171.8h0M55.9 139.2h0M68.6 136.0h0M70.3 184.1h0M91.8 169.4h0M77.2 140.1h0M74.1 163.6h0M81.2 187.5h0M63.8 182.6h0M63.9 144.2h0M72.2 182.9h0M52.6 142.2h0M51.3 150.0h0M70.6 157.5h0M60.3 189.8h0M81.8 185.3h0M79.2 146.0h0M75.5 151.2h0M83.3 170.6h0M53.3 176.0h0M56.9 172.2h0M84.8 177.7h0M59.2 147.8h0M48.3 135.3h0M81.7 177.2h0M57.9 186.6h0M59.8 153.6h0M80.7 140.0h0M46.5 157.7h0M62.8 169.8h0M96.7 166.4h0M71.1 150.6h0M65.2 136.0h0M56.8 142.1h0M83.4 184.4h0M89.3 134.7h0" stroke="#307a88" stroke-width="1.45" stroke-linecap="round" fill="none"/>
<path d="M83.4 105.2h0M54.8 121.5h0M101.4 93.0h0M68.4 102.9h0M86.2 85.6h0M168.0 181.3h0M73.7 95.9h0M26.6 86.2h0M105.5 111.1h0M90.0 96.9h0M101.6 118.6h0M53.6 129.7h0M34.6 102.8h0M104.3 87.7h0M97.6 116.7h0M130.7 122.7h0M75.6 122.0h0M27.1 104.5h0M160.2 74.6h0M69.0 87.6h0M120.0 109.7h0M20.2 98.9h0M115.9 101.2h0M72.7 106.5h0M42.6 131.0h0M30.2 120.0h0M93.4 124.6h0M22.9 105.8h0M185.7 88.0h0M114.9 111.9h0M147.7 76.3h0M90.4 120.9h0M64.8 114.8h0M105.1 68.3h0M93.0 126.3h0M50.7 126.6h0M90.2 100.8h0M136.4 117.3h0M50.8 114.5h0M107.3 124.0h0M70.7 111.1h0M111.9 88.2h0M102.4 87.6h0M93.4 89.9h0M86.7 108.0h0M37.0 113.2h0M131.8 77.2h0M152.1 78.8h0M121.5 115.1h0M86.5 92.7h0M64.5 112.2h0M71.3 122.3h0M26.8 95.6h0M118.7 74.9h0M72.9 130.5h0M115.1 115.7h0M71.6 108.1h0M87.3 110.9h0M126.3 110.1h0M110.7 106.3h0M62.3 97.1h0M132.1 121.1h0M136.7 76.0h0M132.2 113.8h0M117.9 118.5h0M96.2 102.0h0M100.9 98.1h0M192.6 87.1h0M105.9 121.6h0M96.0 97.6h0M42.1 100.4h0M177.7 80.8h0M34.9 118.3h0M51.5 116.5h0M85.6 105.9h0M109.3 99.6h0M36.2 130.3h0M30.9 115.2h0M92.4 98.3h0M66.7 94.5h0M81.7 95.5h0M85.9 77.9h0M40.8 112.1h0M93.0 106.3h0M44.5 117.6h0M98.8 105.9h0M80.8 89.0h0M114.6 116.5h0M161.1 187.1h0M126.5 123.4h0M99.7 118.6h0M54.6 90.8h0M80.8 127.7h0M123.6 102.6h0M110.7 102.1h0M51.6 133.4h0M102.2 75.1h0M84.7 104.8h0M109.4 121.5h0M56.1 109.9h0M124.2 108.6h0M100.1 102.4h0M93.5 89.4h0M69.4 101.6h0M37.5 115.5h0M124.8 113.7h0M103.4 93.8h0M62.8 123.6h0M97.5 118.8h0M78.2 192.0h0M72.3 90.3h0M137.6 108.4h0M129.1 77.0h0M81.7 88.1h0M127.1 128.0h0M33.4 125.6h0M64.7 113.0h0M25.3 103.9h0M97.5 70.9h0M81.4 119.0h0M57.0 122.1h0M115.4 113.8h0M113.1 100.2h0M46.4 142.5h0M97.4 89.1h0M141.2 96.8h0M55.9 133.5h0M24.4 117.7h0M109.6 103.6h0M153.1 81.6h0M101.1 82.5h0M19.3 96.9h0M93.6 101.7h0M109.7 88.8h0M16.8 70.3h0M19.1 81.0h0M112.5 127.3h0M147.2 97.6h0M166.0 76.4h0M38.3 110.4h0M111.8 117.2h0M96.3 90.5h0M114.2 124.9h0M77.5 97.7h0M38.8 108.8h0M114.6 121.1h0M20.5 88.4h0M84.8 108.4h0M13.4 91.3h0M69.4 119.1h0M101.1 123.9h0M107.2 92.3h0M55.7 114.0h0M122.8 109.0h0M114.4 104.0h0M55.4 100.6h0M105.4 121.2h0M173.1 105.3h0M114.0 104.3h0M71.6 125.1h0M126.9 110.7h0M75.4 103.1h0M102.8 89.5h0M101.4 114.3h0M99.8 93.0h0M46.9 126.8h0M64.5 98.9h0M124.9 116.3h0M119.0 113.3h0M122.7 111.3h0M69.7 98.0h0M92.0 105.8h0M76.4 103.8h0M156.9 154.4h0M116.9 113.3h0M95.6 77.3h0M29.1 88.2h0M99.7 95.5h0M107.9 120.8h0M62.4 101.5h0M73.7 113.7h0M115.7 100.4h0M107.8 112.0h0M153.5 65.6h0M66.0 100.0h0M37.1 114.6h0M39.9 121.4h0M135.7 121.0h0M43.3 105.3h0M76.7 98.8h0M25.2 105.1h0M93.4 125.3h0M52.8 120.7h0M86.1 121.8h0M192.8 147.1h0M82.4 84.2h0M134.6 126.1h0M50.0 114.4h0M36.1 132.3h0M58.3 122.7h0M96.0 126.9h0M150.1 61.1h0M97.7 124.6h0M184.9 165.4h0M106.8 108.0h0M149.0 149.5h0M85.3 116.1h0M80.4 118.9h0M100.6 87.5h0M175.4 74.0h0M85.5 111.9h0M105.1 103.3h0M125.9 78.7h0M87.1 106.7h0M52.0 115.8h0M100.6 94.6h0M122.1 95.6h0M108.0 94.4h0M173.4 176.9h0M80.8 106.5h0M58.8 173.1h0M130.5 191.2h0M140.2 123.0h0M91.1 68.8h0M113.1 89.9h0M89.4 123.2h0M40.5 66.5h0M83.5 107.1h0M56.3 100.1h0M93.0 190.3h0M139.7 85.1h0M126.8 120.1h0M57.4 109.7h0M48.5 123.8h0M103.5 83.7h0M63.3 126.0h0M148.4 92.6h0M101.5 109.0h0M115.9 96.1h0M158.2 165.5h0M139.7 107.7h0M118.3 118.5h0M204.1 128.9h0M130.7 104.9h0M85.0 88.6h0M38.8 136.2h0M94.9 109.8h0M100.5 131.4h0M38.1 121.3h0M98.7 103.0h0M75.9 172.8h0M96.7 84.1h0M115.5 96.8h0M93.1 67.3h0M117.8 115.2h0M59.6 98.3h0M112.5 105.6h0M101.1 65.1h0M49.5 119.4h0M89.4 133.0h0M23.4 98.6h0M105.6 82.9h0M131.3 65.2h0M16.5 89.6h0M65.9 102.1h0M27.4 96.7h0M91.5 117.2h0M48.0 129.8h0M130.4 82.9h0M52.4 121.8h0M107.3 81.8h0M90.8 109.1h0M190.0 81.7h0M58.5 109.1h0M136.3 75.7h0M166.6 128.1h0M64.1 98.9h0M93.5 67.1h0M139.3 115.7h0M80.8 122.2h0M26.5 95.5h0M89.4 91.4h0M52.1 120.4h0M124.4 118.0h0M138.6 118.0h0M199.6 118.5h0M133.7 123.5h0M134.2 117.0h0M47.0 137.9h0M102.0 99.1h0M65.7 92.0h0M106.0 124.6h0M86.0 119.3h0M90.2 95.2h0M77.2 97.3h0M82.2 83.7h0M75.4 85.9h0M87.1 88.5h0M39.0 128.1h0M64.5 124.2h0M91.9 89.6h0M44.1 120.8h0M57.5 122.9h0M42.2 124.4h0M112.8 103.3h0M159.4 85.7h0M92.0 67.1h0M31.0 108.0h0M86.9 78.7h0M151.1 70.1h0M107.7 111.9h0M62.3 126.9h0M106.3 116.9h0M42.0 117.7h0M18.5 106.5h0M79.5 103.6h0M43.5 111.7h0M103.4 112.4h0M100.6 90.7h0M84.2 116.9h0M81.9 76.1h0M76.1 91.0h0M124.4 121.7h0M84.1 121.5h0M39.9 121.1h0M61.0 122.3h0M125.2 107.2h0M64.1 123.4h0M36.2 133.2h0M109.3 110.0h0M39.1 108.7h0M116.3 87.7h0M188.7 87.6h0M69.0 103.2h0M154.4 75.1h0M96.2 105.1h0M59.9 110.8h0" stroke="#4a6a66" stroke-width="1.45" stroke-linecap="round" fill="none"/>
<path d="M101.7 81.8h0M32.3 127.8h0M19.3 104.3h0M90.9 95.4h0M111.5 98.9h0M120.2 123.9h0M108.2 122.6h0M75.4 89.2h0M157.3 85.0h0M41.6 78.2h0M38.1 99.1h0M124.7 120.0h0M132.7 65.7h0M105.8 118.9h0M118.3 99.7h0M90.3 94.1h0M80.3 65.6h0M147.9 96.4h0M60.9 119.1h0M118.9 122.7h0M129.7 120.8h0M134.2 115.0h0M106.9 114.5h0M58.2 100.9h0M68.7 121.3h0M79.2 86.6h0M113.1 105.6h0M71.3 86.6h0M71.1 121.0h0M46.6 148.7h0M82.5 122.5h0M93.0 85.7h0M78.1 105.6h0M111.1 105.1h0M82.4 92.2h0M105.1 97.2h0M138.0 133.6h0M137.4 119.8h0M135.0 85.5h0M74.1 116.7h0M73.7 107.7h0M107.2 95.3h0M95.8 96.2h0M112.4 88.3h0M112.0 88.5h0M20.7 113.7h0M109.7 126.1h0M128.2 132.7h0M102.7 103.9h0M122.5 104.6h0M45.8 136.1h0M75.1 131.5h0M111.3 82.6h0M56.5 118.9h0M116.6 97.3h0M95.8 171.7h0M41.1 112.9h0M89.3 92.6h0M145.7 111.7h0M117.4 111.3h0M85.0 68.4h0M116.5 125.8h0M109.9 86.9h0M194.1 147.2h0M80.6 111.6h0M138.7 80.5h0M43.1 121.3h0M48.5 96.9h0M86.3 85.0h0M160.8 83.4h0M107.6 88.2h0M23.7 114.1h0M123.2 111.9h0M59.5 112.5h0M86.2 82.0h0M95.9 127.1h0M37.3 102.3h0M51.8 110.7h0M102.7 75.3h0M131.7 97.4h0M110.4 68.2h0M119.6 116.3h0M81.3 95.1h0M64.9 122.2h0M116.5 125.3h0M62.5 125.5h0M104.2 120.7h0M114.4 112.6h0M125.1 70.5h0M85.6 97.5h0M66.4 92.5h0M119.3 114.9h0M113.4 69.2h0M62.7 113.7h0" stroke="#8a4448" stroke-width="1.45" stroke-linecap="round" fill="none"/>
<path d="M127.2 174.5h0M132.4 175.2h0M162.5 178.3h0M174.1 161.9h0M131.1 150.9h0M120.6 168.6h0M184.1 152.6h0M140.6 146.1h0M159.0 180.4h0M105.9 186.1h0M109.2 174.3h0M173.6 151.5h0M120.5 159.6h0M104.5 155.6h0M158.9 156.9h0M97.1 162.4h0M159.0 149.6h0M129.6 173.1h0M115.8 163.9h0M125.3 160.1h0M147.6 164.1h0M143.1 139.8h0M94.9 183.2h0M157.9 157.5h0M148.7 170.0h0M114.7 147.0h0M109.6 187.5h0M156.4 162.8h0M108.6 194.3h0M103.8 145.7h0M132.8 160.1h0M140.8 156.5h0M163.8 142.0h0M179.9 159.8h0M93.8 144.9h0M127.4 179.5h0M130.9 150.7h0M111.0 163.2h0M159.8 170.4h0M113.1 125.2h0M152.1 140.4h0M155.5 179.6h0M101.2 137.9h0M108.2 126.9h0M158.8 157.7h0M161.0 159.7h0M146.8 156.7h0M112.7 166.0h0M163.0 168.2h0M87.1 147.3h0M113.2 190.7h0M156.9 182.9h0M95.3 142.3h0M112.2 163.0h0M125.7 166.3h0M113.3 184.5h0M105.8 177.8h0M173.2 151.6h0M132.2 189.3h0M171.1 174.7h0M108.8 139.2h0M99.5 160.2h0M109.9 179.9h0M137.7 188.5h0M108.3 173.8h0M131.5 153.0h0M115.7 162.4h0M107.9 190.0h0M127.3 154.5h0M137.3 149.6h0M150.5 187.5h0M151.9 184.4h0M173.0 165.1h0M163.2 167.7h0M155.5 184.8h0M133.0 173.0h0M155.3 133.7h0M95.5 170.3h0M119.2 175.9h0M171.6 166.2h0M171.7 135.1h0M170.2 152.4h0M116.6 134.8h0M103.9 180.2h0M147.7 145.5h0M178.8 160.3h0M147.6 118.8h0M131.7 155.8h0M150.6 148.7h0M137.7 134.7h0M150.1 157.9h0M120.0 188.3h0M114.7 183.6h0M112.5 130.0h0M172.5 172.6h0M176.8 170.5h0M166.8 158.2h0M156.3 153.0h0M143.2 144.3h0M165.9 167.8h0M115.0 191.6h0M158.2 179.7h0M142.4 185.2h0M151.4 162.6h0M129.3 167.8h0M123.4 131.5h0M160.7 162.9h0M166.5 166.8h0M86.4 128.6h0M168.8 175.1h0M125.0 180.1h0M163.5 164.0h0M153.3 186.2h0M53.1 145.5h0M188.3 152.9h0M134.0 162.0h0M112.4 131.6h0M162.8 171.7h0M101.1 168.5h0M123.8 163.1h0M175.6 148.7h0M135.3 138.5h0M124.7 157.8h0M112.0 152.9h0M130.0 169.0h0M104.6 173.4h0M121.9 154.2h0M147.0 163.9h0M119.0 136.2h0M66.5 177.4h0M101.2 145.0h0M120.9 181.1h0M155.0 156.9h0M118.6 173.6h0M107.3 124.9h0M187.5 146.0h0M152.5 161.3h0M127.6 151.0h0M146.4 144.1h0M176.7 150.2h0M113.4 141.7h0M190.8 151.8h0M171.5 150.7h0M141.8 132.1h0M99.9 158.0h0M151.4 126.3h0M124.8 164.3h0M202.4 128.9h0M177.0 145.8h0M110.8 149.7h0M115.4 187.7h0M178.9 146.3h0M99.9 138.4h0M114.7 137.5h0M174.7 153.5h0M129.6 178.0h0M168.6 141.8h0M127.7 129.8h0M104.3 145.7h0M113.2 157.7h0M105.0 170.9h0M118.0 139.0h0M128.2 143.1h0M109.8 146.0h0M119.1 122.6h0M128.1 141.4h0M88.9 133.5h0M158.0 137.2h0M100.7 159.7h0M172.4 149.1h0M117.3 153.8h0M168.2 140.2h0M101.8 149.8h0M101.6 132.8h0M142.5 185.4h0M141.1 152.0h0M102.5 137.3h0M115.7 179.9h0M135.1 140.6h0M117.8 162.1h0M120.4 152.7h0M154.4 149.9h0M149.0 138.8h0M120.2 150.0h0M107.4 196.4h0M118.7 184.9h0M134.9 185.2h0M129.5 184.8h0M158.6 157.9h0M115.1 182.6h0M148.9 185.3h0M133.9 132.4h0M134.0 133.3h0M115.2 152.9h0M118.8 125.9h0M111.3 149.6h0M145.7 188.4h0M128.1 190.0h0M161.3 142.8h0M125.5 159.9h0M164.5 155.7h0M127.1 145.5h0M118.9 186.7h0M146.8 134.1h0M157.5 147.5h0M157.2 176.0h0M100.3 150.2h0M118.2 187.7h0M152.0 183.9h0M176.6 159.7h0M177.9 155.6h0M99.8 134.0h0M112.3 180.5h0M155.6 179.0h0M178.7 170.1h0M70.5 155.3h0M165.4 149.2h0M138.2 181.5h0M160.2 135.7h0M182.5 160.5h0M139.5 185.0h0M111.4 146.7h0M174.3 148.8h0M95.8 152.6h0M96.0 161.6h0M135.4 177.0h0M99.6 153.2h0M144.5 155.3h0M166.9 133.9h0M93.8 168.3h0M122.2 143.1h0M168.5 132.5h0M111.4 190.1h0M130.3 174.2h0M176.9 151.3h0M142.2 167.8h0M114.1 144.8h0M138.2 169.4h0M99.6 170.9h0M93.2 178.0h0M140.8 135.3h0M140.7 135.1h0M154.9 169.6h0M147.3 150.3h0M178.6 136.3h0M100.9 145.8h0M175.2 163.0h0M106.2 147.3h0M99.9 138.1h0M155.7 163.4h0M137.3 183.7h0M186.5 153.6h0M191.4 143.2h0M131.0 160.7h0M94.9 173.5h0M116.2 178.1h0M178.2 152.9h0M98.0 172.0h0M105.9 180.3h0M122.5 178.8h0M144.2 163.2h0M128.0 149.0h0M158.7 155.0h0M100.3 161.6h0M102.3 192.5h0M123.2 151.9h0M140.5 178.5h0M149.6 166.0h0M156.8 158.0h0M152.4 166.5h0M159.7 177.8h0M180.6 159.2h0M125.4 160.2h0M141.9 155.8h0M142.8 135.6h0M130.3 174.1h0M172.9 166.6h0M100.6 155.9h0M102.7 162.8h0M113.7 146.0h0M143.5 164.6h0M108.2 153.8h0M133.2 160.6h0M59.0 150.3h0M161.1 128.3h0M140.6 186.1h0M186.1 154.7h0M166.7 145.4h0M135.7 172.2h0M106.1 136.5h0M114.9 144.0h0M151.1 181.5h0M102.0 179.4h0M156.4 110.8h0M181.0 140.1h0M96.4 156.7h0M167.0 176.3h0M117.2 181.4h0M159.6 178.5h0M112.7 182.1h0M98.7 192.3h0M88.1 143.1h0M107.0 129.6h0M121.5 124.8h0M114.7 139.7h0M134.6 127.1h0M135.7 133.2h0M169.6 155.4h0M136.5 141.9h0M128.8 142.3h0M79.4 163.1h0M156.3 154.8h0M90.4 168.5h0M136.9 192.5h0M100.0 131.9h0M165.8 168.7h0M116.2 125.7h0M127.8 156.3h0M137.4 184.2h0M134.3 170.9h0M118.2 190.3h0M154.8 154.9h0M193.0 151.5h0M102.7 189.9h0M110.6 180.6h0M183.7 148.9h0M142.9 145.0h0M124.6 165.4h0M153.5 111.9h0M116.9 195.8h0M122.4 184.5h0M147.4 172.7h0M96.0 138.0h0M172.8 173.3h0M172.1 163.2h0M151.0 123.3h0M98.2 155.3h0M119.3 157.8h0M116.0 149.5h0M177.2 154.6h0M103.7 176.1h0M175.5 169.8h0M132.9 180.4h0M107.0 162.5h0M121.7 172.4h0M159.1 185.2h0M110.1 169.9h0M131.4 129.1h0M145.4 183.5h0M129.6 151.1h0M112.8 149.7h0M106.6 174.3h0M162.7 136.5h0M141.0 137.2h0M114.4 185.9h0M120.5 192.8h0M170.9 140.6h0M126.7 141.1h0M152.0 173.6h0M140.1 156.0h0M97.0 154.8h0M123.5 128.7h0M106.6 180.7h0M110.5 177.1h0M141.6 185.3h0M170.6 170.6h0M139.4 168.1h0M152.9 179.3h0M160.2 145.7h0M153.0 139.8h0M137.8 126.7h0M116.4 162.9h0M105.1 158.3h0M153.8 170.3h0M106.1 143.2h0M162.1 156.7h0M126.2 163.1h0M135.2 133.5h0M135.3 172.4h0M141.2 150.5h0M143.6 142.1h0M122.2 159.7h0M200.2 122.3h0M160.0 168.2h0M91.7 163.4h0M112.4 153.8h0M146.7 172.0h0M151.4 152.4h0M162.6 131.2h0M111.9 140.8h0M95.4 152.8h0M167.1 138.6h0M132.3 152.1h0M112.7 192.9h0M141.8 155.2h0M103.2 156.9h0M117.2 142.9h0M130.3 156.3h0M108.6 162.6h0M163.0 184.9h0M157.5 161.6h0M83.6 171.1h0M157.1 175.4h0M151.1 159.6h0M109.2 139.4h0M157.2 185.4h0M138.4 178.3h0M94.9 180.2h0M151.7 136.3h0M101.4 160.0h0M181.0 149.9h0M101.7 147.5h0M130.0 166.9h0M117.7 165.3h0M99.3 139.2h0M178.1 150.5h0M99.9 153.7h0M166.2 156.1h0M101.9 130.7h0M167.4 166.0h0M124.6 181.7h0M150.5 147.0h0M173.4 177.2h0M145.5 173.9h0M125.7 174.1h0M184.5 140.7h0M138.5 174.2h0M101.4 163.0h0M123.2 183.6h0M122.7 188.7h0M113.4 157.0h0M180.1 145.6h0M135.1 179.7h0M114.3 151.4h0M157.6 170.8h0M163.7 156.8h0M150.3 131.8h0M105.6 158.3h0M110.1 167.2h0M104.8 183.2h0M95.8 179.1h0M108.7 173.4h0M107.8 141.7h0M90.3 167.7h0M137.9 140.1h0M141.3 128.1h0M148.1 117.9h0M178.4 161.6h0M143.5 133.8h0M123.8 166.1h0M167.5 176.5h0M171.0 177.2h0M125.0 145.1h0M113.8 169.0h0M164.7 158.8h0M90.5 175.2h0M146.3 189.2h0M131.8 169.0h0M106.2 144.8h0M164.4 155.0h0M129.1 171.5h0M140.0 155.9h0M164.3 162.2h0M126.5 162.1h0M185.2 122.3h0M135.8 142.3h0M115.1 162.1h0M83.7 128.2h0M93.0 176.4h0M103.3 177.5h0M152.4 171.5h0M127.5 163.6h0M139.0 174.4h0M127.3 174.5h0M112.2 148.7h0M151.6 174.9h0M169.4 167.6h0M111.9 147.5h0M158.7 149.7h0M109.2 156.7h0M142.9 187.2h0M146.8 182.7h0M117.6 185.9h0M183.1 146.0h0M128.7 139.5h0M127.0 166.1h0M142.3 139.8h0M146.1 136.1h0M96.5 159.6h0M154.3 158.2h0M138.5 171.1h0M110.1 123.0h0M151.2 156.4h0M119.5 132.0h0M103.3 175.8h0M159.4 176.2h0M177.2 158.6h0M119.0 130.2h0M156.8 171.5h0M130.7 156.4h0M108.0 188.5h0M133.9 135.5h0M128.0 168.8h0M162.7 146.4h0M181.6 149.1h0M124.4 143.4h0M138.4 141.4h0M131.1 132.4h0M110.3 150.8h0M130.5 137.2h0M124.3 190.0h0M110.7 141.7h0M122.5 134.9h0M126.5 158.9h0M138.3 136.5h0M169.3 157.1h0M109.9 170.0h0M119.9 179.9h0M125.9 143.2h0M169.5 169.4h0M154.6 130.7h0M106.5 180.5h0M114.3 186.6h0M171.4 164.8h0M118.8 165.5h0M141.9 149.3h0M153.0 187.0h0M137.4 121.6h0M130.4 179.4h0M152.5 138.5h0M171.1 163.5h0M174.0 148.7h0M160.7 166.1h0M106.9 182.7h0M108.1 146.8h0M144.6 186.7h0M150.2 187.3h0M145.6 136.2h0M155.6 155.3h0M145.9 147.4h0M134.2 166.6h0M156.3 124.7h0M154.2 165.3h0M108.1 183.5h0M140.2 185.1h0M93.2 135.1h0M104.3 156.3h0M87.5 169.0h0M112.2 155.5h0M114.9 128.2h0M133.7 164.4h0M171.4 148.0h0M137.8 150.1h0M91.3 154.8h0M165.1 146.8h0M154.4 184.6h0M118.9 193.0h0M127.9 176.3h0M170.3 129.1h0M146.5 125.9h0M129.9 174.5h0M150.3 157.0h0M151.2 150.8h0M131.0 183.2h0M126.7 144.2h0M176.7 154.7h0M136.8 138.0h0M122.4 157.6h0M125.6 142.3h0M108.7 153.7h0M103.7 179.0h0M139.6 142.4h0M152.1 143.2h0M140.1 181.3h0M131.5 182.8h0M150.5 143.4h0M128.8 154.0h0M147.4 181.8h0M99.0 139.6h0M113.2 181.2h0M144.0 171.7h0M107.0 133.8h0M164.2 179.6h0M140.2 170.1h0M176.9 165.7h0M128.9 135.0h0M119.1 167.1h0M114.3 167.5h0M131.7 153.1h0M130.6 158.3h0M106.5 155.7h0M116.5 164.6h0M161.2 154.6h0M100.6 163.5h0M159.0 125.4h0M149.1 169.3h0M194.7 134.5h0M148.8 182.8h0M172.3 156.9h0M114.0 141.8h0M170.3 182.3h0M149.4 155.7h0M122.5 147.4h0M141.6 154.5h0M141.2 136.5h0M144.6 146.5h0M121.0 176.4h0M102.6 168.5h0M140.3 158.0h0M158.6 136.1h0M160.8 143.0h0M143.6 154.3h0M144.2 158.8h0M119.6 133.5h0M152.2 168.0h0M112.2 139.6h0M132.5 150.9h0M178.1 140.7h0M114.2 190.2h0M146.0 163.9h0M117.9 157.3h0M135.4 188.9h0M170.4 163.2h0M129.1 154.6h0M158.7 162.1h0M141.7 178.7h0M169.0 167.1h0M122.5 176.0h0M95.6 186.9h0M154.1 166.0h0M108.4 148.5h0M112.8 179.7h0M131.1 188.2h0M149.6 115.6h0M140.8 139.0h0M148.4 154.1h0M120.0 137.5h0M181.9 156.4h0M162.8 118.3h0M133.7 152.3h0M109.6 171.6h0M149.3 159.3h0M139.4 153.5h0M133.5 182.1h0M167.9 140.1h0M146.6 162.9h0M150.1 124.9h0M108.1 182.2h0M146.9 155.1h0M135.6 165.2h0M162.1 179.7h0M108.5 159.1h0M166.2 141.4h0M178.9 150.3h0M120.9 157.7h0M104.3 168.0h0M116.3 144.8h0M115.5 184.5h0M174.7 133.9h0M116.9 167.0h0M146.1 137.2h0M112.5 136.9h0M131.2 190.1h0M140.6 181.0h0M140.7 122.7h0M118.8 162.7h0M139.5 167.0h0M144.5 117.7h0M147.7 154.8h0M145.1 179.2h0M189.7 155.1h0M139.5 157.5h0M163.1 130.3h0M164.1 159.9h0M113.1 152.5h0M103.4 164.7h0M155.3 160.5h0M144.7 179.3h0M154.8 122.6h0M136.6 162.1h0M99.8 171.5h0M158.1 153.3h0M106.8 149.4h0M111.2 131.2h0M162.3 136.4h0M103.0 149.1h0M179.9 136.2h0M159.4 139.2h0M126.2 174.1h0M151.3 185.7h0M109.5 163.9h0M128.9 138.5h0M87.6 149.7h0M153.5 147.0h0M144.4 160.6h0M106.6 144.4h0M168.9 113.1h0M111.3 127.7h0M97.3 163.2h0M152.9 178.6h0M154.8 162.9h0M123.0 184.2h0M118.8 146.8h0M122.8 140.0h0M116.9 175.3h0M124.6 171.6h0M141.5 174.3h0M167.2 174.6h0M116.7 134.9h0M112.7 194.3h0M136.7 170.9h0M163.8 166.3h0M144.6 162.2h0M140.6 186.3h0M165.1 180.7h0M155.7 135.4h0M118.6 173.2h0M183.3 154.2h0M120.1 161.8h0M176.0 168.5h0M145.3 165.7h0M146.3 147.9h0M114.5 187.2h0M114.9 161.7h0M150.2 159.9h0M150.2 188.3h0M157.6 142.2h0M144.4 184.6h0M101.4 136.8h0M111.6 131.8h0M156.2 125.2h0M165.6 134.5h0M142.0 183.1h0M120.0 166.1h0M100.2 140.2h0M108.1 146.4h0M156.9 183.9h0M150.2 169.8h0M183.4 149.2h0M116.4 140.9h0M192.1 143.4h0M159.2 141.8h0M157.5 161.7h0M139.2 181.4h0M146.0 118.5h0M121.9 164.1h0M117.4 136.9h0M134.5 180.9h0M106.5 185.8h0M167.6 164.8h0M114.6 182.0h0M152.6 171.8h0M101.8 134.9h0M155.4 179.6h0M170.6 170.6h0M156.9 184.5h0M136.2 157.5h0M178.5 142.1h0M123.8 162.3h0M120.3 186.2h0M163.6 179.4h0M181.4 143.6h0M195.2 142.8h0M167.9 171.6h0M147.4 149.1h0M139.3 178.2h0M164.7 133.4h0M138.8 143.1h0M133.2 170.3h0M140.5 162.6h0M93.9 155.9h0M97.8 154.0h0M134.2 167.4h0M135.1 161.0h0M107.2 168.0h0M115.3 137.4h0M161.4 185.8h0M151.3 177.7h0M148.0 139.2h0M100.4 131.2h0M109.5 151.2h0M97.1 142.5h0M123.4 152.7h0M105.6 130.2h0M115.5 180.5h0M161.7 173.6h0M114.6 137.4h0M123.6 159.5h0M118.4 172.7h0M147.3 184.0h0M106.1 149.6h0M134.5 146.1h0M156.6 174.6h0M145.3 126.7h0M89.1 145.0h0M168.9 174.5h0M97.0 172.1h0M140.1 148.8h0M138.4 153.9h0M117.3 171.2h0M112.3 184.0h0M156.0 118.5h0M105.7 161.3h0M114.7 163.0h0M179.0 158.7h0M127.7 136.4h0M171.8 150.8h0M130.9 137.6h0M154.0 140.1h0M124.4 165.2h0M119.3 139.6h0M148.0 139.3h0M174.2 134.0h0M116.0 134.9h0M121.5 151.1h0M127.5 135.7h0M107.2 166.7h0M158.2 107.8h0M179.7 151.8h0M120.7 165.1h0M158.4 115.4h0M139.7 167.9h0M122.0 182.5h0M144.0 158.2h0M126.8 144.8h0M110.6 136.1h0M140.2 167.0h0M137.7 134.2h0M130.1 182.1h0M123.9 118.7h0M170.5 169.7h0M116.3 121.9h0M142.0 186.4h0M151.3 151.1h0M109.3 138.5h0M157.5 126.3h0M135.9 184.3h0M106.4 158.3h0M153.3 157.0h0M132.8 144.9h0M155.9 175.7h0M146.5 157.8h0M139.9 176.7h0M134.4 187.5h0M132.8 153.5h0M106.7 187.9h0M142.4 156.6h0M146.0 171.7h0M156.9 174.7h0M159.4 135.5h0M156.7 136.8h0M116.0 187.7h0M144.2 179.0h0M81.3 150.0h0" stroke="#869858" stroke-width="1.45" stroke-linecap="round" fill="none"/>
<path d="M158.3 77.3h0M92.2 188.5h0M185.5 83.7h0M131.9 104.1h0M72.6 100.1h0M107.7 105.6h0M42.5 101.8h0M72.4 86.2h0M134.6 106.8h0M71.3 112.4h0M74.0 144.4h0M120.0 107.7h0M81.1 86.2h0M83.2 88.7h0M121.6 118.3h0M85.8 96.7h0M72.7 98.4h0M179.0 84.5h0M100.8 158.6h0M43.4 95.7h0M191.7 90.6h0M77.2 65.5h0M82.8 92.5h0M114.8 117.4h0M107.9 101.6h0M44.6 91.8h0M23.5 109.7h0M120.0 92.9h0M68.7 122.3h0M92.4 88.3h0M96.5 102.8h0M107.3 99.7h0M59.4 97.2h0M66.0 104.6h0M51.0 125.7h0M182.9 85.0h0M139.1 75.2h0M174.2 76.4h0M122.8 119.2h0M139.7 121.3h0M89.6 85.0h0M116.0 92.3h0M91.0 97.2h0M159.1 83.4h0M87.6 112.4h0M68.6 120.3h0M69.9 110.3h0M72.6 91.5h0M116.7 95.1h0M174.9 93.6h0M75.6 100.7h0M160.0 74.1h0M122.4 112.1h0M131.6 99.2h0M21.2 99.5h0M111.3 110.0h0M147.9 106.3h0M38.1 100.8h0M57.5 123.8h0M106.6 115.0h0M143.0 69.2h0M63.8 98.9h0M102.2 107.3h0M121.1 112.7h0M108.1 88.4h0M59.2 106.7h0M87.2 85.2h0M35.5 112.1h0M23.3 112.3h0M63.1 109.0h0M29.3 126.0h0M92.6 87.4h0M101.1 121.2h0M111.0 121.8h0M66.3 104.5h0M105.6 110.4h0M25.9 113.6h0M109.8 162.2h0M120.6 98.5h0M151.7 89.4h0M146.9 108.0h0M38.7 120.6h0M45.1 130.7h0M158.9 78.6h0M156.7 81.7h0M69.7 116.1h0M92.8 82.9h0M93.3 87.6h0M158.2 188.1h0M47.8 130.5h0M166.2 80.5h0M85.5 107.8h0M48.9 141.5h0M32.9 113.4h0M21.4 109.7h0M118.8 95.4h0M60.2 94.0h0M101.7 90.1h0M185.8 93.0h0M46.8 123.2h0M99.2 115.5h0M100.4 68.1h0M99.5 96.1h0M36.6 124.8h0M45.3 116.8h0M155.4 78.9h0M56.9 120.0h0M41.9 95.1h0M62.2 96.6h0M161.8 186.1h0M167.1 63.8h0M64.4 128.9h0M110.1 88.8h0M52.9 138.1h0M122.4 120.8h0M62.5 104.2h0M181.7 87.9h0M78.8 96.1h0M122.5 98.1h0M183.8 86.8h0M85.8 85.7h0M52.7 94.0h0M117.5 130.2h0M92.3 125.9h0M123.2 112.2h0M83.6 118.7h0M44.6 122.1h0M148.5 74.5h0M86.2 114.2h0M110.7 118.0h0M51.2 111.8h0M28.7 101.7h0M71.6 119.7h0M79.3 90.8h0M87.7 99.7h0M89.2 76.0h0M84.2 122.0h0M55.8 90.8h0M114.5 76.3h0M173.6 78.4h0M52.6 110.5h0M104.1 121.3h0M99.7 91.5h0M57.0 106.8h0M105.2 100.4h0M62.2 106.3h0M110.4 68.5h0M64.4 125.8h0M200.1 142.5h0M57.2 117.4h0M75.6 117.2h0M162.8 109.5h0M147.0 112.9h0M83.6 86.8h0M155.3 71.4h0M76.5 125.3h0M116.2 99.3h0M69.4 119.3h0M104.2 100.3h0M110.9 112.4h0M132.2 116.8h0M138.9 106.3h0M72.9 97.0h0M170.3 76.7h0M179.9 171.7h0M94.6 84.7h0M16.5 92.3h0M39.2 91.5h0M191.2 92.0h0M134.6 110.8h0M141.7 129.5h0M30.6 115.8h0M60.8 97.0h0M85.1 91.8h0M136.3 72.7h0M159.9 83.1h0M112.9 111.1h0M167.6 84.5h0M68.1 120.5h0M152.0 90.9h0M117.1 106.8h0M123.9 125.8h0M90.3 85.3h0M125.4 119.7h0M31.6 97.8h0M105.1 116.9h0M157.4 91.3h0M113.3 172.0h0M29.7 127.9h0M68.8 70.7h0M93.1 102.9h0M34.2 105.0h0M100.4 114.1h0M136.3 117.3h0M96.8 83.2h0M81.7 107.1h0M92.0 91.1h0M68.7 123.6h0M96.0 95.0h0M74.6 120.2h0M80.2 123.1h0M161.0 92.1h0M58.0 109.9h0M177.1 93.2h0M106.5 119.7h0M161.7 76.3h0M84.3 114.5h0M46.9 120.5h0M79.1 95.3h0M45.7 133.4h0M24.6 114.3h0M85.2 115.3h0M175.5 89.2h0M163.6 87.2h0M151.5 82.8h0M169.4 73.8h0M49.8 90.1h0M105.7 125.9h0M71.4 102.9h0M90.8 123.4h0M76.0 110.3h0M82.5 91.3h0M86.7 97.1h0M89.2 120.9h0M48.4 108.1h0M158.1 73.2h0M72.0 108.2h0M186.0 89.0h0M74.4 107.5h0M27.5 110.2h0M83.9 121.9h0M27.1 94.3h0M91.2 116.2h0M174.3 81.2h0M111.0 111.6h0M87.6 99.2h0M63.0 114.9h0M42.7 97.4h0M121.8 107.5h0M36.5 132.5h0M30.0 112.9h0M104.8 189.8h0M27.5 112.4h0M83.1 88.5h0M107.6 72.9h0M109.2 121.2h0M75.1 120.3h0M19.5 96.2h0M102.5 191.1h0M31.3 98.1h0M128.7 87.7h0M58.2 121.9h0M44.3 99.3h0M183.9 164.8h0M54.0 99.2h0M113.5 112.9h0M36.6 110.1h0M31.8 95.1h0M54.3 116.8h0M96.0 66.7h0M88.5 119.4h0M75.0 125.3h0M30.9 99.5h0M193.4 96.1h0M107.4 117.6h0M158.8 188.6h0M109.9 126.8h0M92.4 123.5h0M66.8 125.5h0M36.5 114.8h0M85.1 87.4h0M82.3 116.4h0M38.1 94.6h0M113.1 75.4h0M29.7 100.6h0M65.0 93.1h0M95.9 116.9h0M85.8 122.5h0M37.9 95.0h0M23.7 92.2h0M156.6 87.1h0M84.8 82.1h0M86.3 83.3h0M65.5 116.4h0M17.0 93.5h0M125.7 103.6h0M134.6 117.0h0M150.6 70.5h0M123.5 108.1h0M56.1 97.7h0M140.9 62.5h0M170.7 89.7h0M90.4 152.4h0M76.6 110.6h0M101.8 118.7h0M55.4 75.7h0M57.2 119.6h0M127.1 94.5h0M98.8 78.2h0M78.8 122.8h0M38.9 95.9h0M124.3 194.1h0M38.3 94.5h0M178.1 80.6h0M105.2 123.9h0M112.2 75.2h0M60.0 131.0h0M165.4 81.4h0M45.5 93.9h0M45.9 95.5h0M22.2 97.0h0M113.1 117.6h0M23.7 101.5h0M145.9 126.0h0M104.2 122.7h0M117.5 110.1h0M15.1 105.3h0M150.1 73.7h0M39.2 100.0h0M91.4 147.0h0M148.4 72.6h0M46.0 110.3h0M65.1 120.9h0M170.9 92.5h0M188.1 85.6h0M112.7 122.4h0M80.6 105.9h0M184.0 81.5h0M111.4 96.6h0M100.1 100.8h0M56.5 99.5h0M140.5 113.4h0M60.3 121.7h0M92.9 109.4h0M90.3 90.8h0M32.2 105.3h0M91.1 94.5h0M163.4 86.3h0M47.3 105.4h0M48.6 146.0h0M108.9 71.8h0M73.8 87.1h0M73.4 86.9h0M117.2 109.1h0M77.5 73.1h0M100.5 134.4h0M29.7 111.7h0M110.5 109.1h0M188.3 80.3h0M133.3 179.7h0M96.3 98.1h0M86.7 84.2h0M144.6 95.8h0M164.8 83.9h0M89.6 100.2h0M152.2 67.2h0M75.9 152.2h0M191.0 153.9h0M182.8 84.2h0M138.8 64.1h0M96.3 80.2h0M39.6 114.1h0M59.2 112.5h0M69.3 100.4h0M113.9 82.2h0M60.8 95.7h0M94.3 126.2h0M121.5 103.6h0M34.0 90.4h0M122.6 121.9h0M97.5 113.3h0M56.7 97.8h0M176.8 80.7h0M39.3 112.1h0M175.5 110.9h0M59.3 104.4h0M124.9 114.5h0M97.6 121.1h0M122.1 92.7h0M37.7 103.5h0M45.9 107.0h0M168.9 90.2h0M123.5 99.9h0M77.7 109.8h0M41.8 100.8h0M55.3 95.3h0M170.3 85.8h0M119.2 109.0h0M97.5 111.6h0M165.3 67.2h0M78.4 108.3h0M66.3 113.5h0M107.5 105.3h0M148.8 87.0h0M83.0 121.1h0M32.0 93.4h0M174.6 89.0h0M20.8 100.5h0M178.2 97.3h0M42.5 104.0h0M53.5 88.4h0M34.3 90.8h0M91.2 125.8h0M130.3 86.3h0M47.9 102.5h0M65.9 115.3h0M120.7 112.1h0M90.2 85.5h0M193.6 149.8h0M96.8 103.1h0M166.5 75.4h0M111.2 91.6h0M103.0 118.1h0M77.8 96.4h0M65.2 94.7h0M126.7 71.5h0M71.2 102.8h0M63.3 117.3h0M129.6 123.4h0M179.0 84.2h0M46.3 116.0h0M171.6 89.8h0M72.6 104.9h0M92.4 128.9h0M86.2 115.2h0M101.5 98.5h0M108.9 102.5h0M100.7 128.0h0M94.5 102.6h0M62.0 117.9h0M140.9 168.2h0M37.3 126.9h0M96.8 132.6h0M112.9 129.1h0M93.4 114.3h0M67.2 100.7h0M117.1 112.3h0M155.0 74.8h0M38.1 125.9h0M98.8 108.6h0M120.2 104.1h0M179.6 174.7h0M115.3 74.6h0M157.2 74.5h0M111.1 127.4h0M79.9 84.4h0M123.5 121.5h0M102.7 121.5h0M114.9 125.2h0M109.3 99.2h0M126.0 99.3h0M88.1 94.6h0M46.4 103.1h0M136.3 119.5h0M77.7 116.3h0M100.8 121.4h0M19.0 94.2h0M85.1 79.0h0M38.5 122.2h0M169.8 90.3h0M80.5 119.3h0M41.3 88.8h0M55.7 109.8h0M46.8 107.0h0M72.1 112.9h0M168.1 72.4h0M177.4 174.3h0M181.8 83.8h0M82.3 90.8h0M145.7 86.9h0M92.4 118.6h0M151.2 82.0h0M157.6 86.7h0M153.3 84.6h0M78.0 108.3h0M159.3 135.2h0M169.5 73.1h0M61.8 109.8h0M51.3 115.7h0M102.7 107.8h0M156.5 91.5h0M41.1 119.5h0M77.1 98.5h0M110.4 83.3h0M117.1 87.5h0M135.9 117.4h0M117.2 105.5h0M180.8 89.7h0M42.9 95.3h0M94.9 106.5h0M96.5 90.4h0M161.2 71.1h0M180.1 87.6h0M25.8 81.4h0M147.1 68.6h0M131.7 93.7h0M63.5 129.2h0M111.7 119.6h0M57.2 115.0h0M48.0 97.1h0M29.4 117.6h0M68.7 104.8h0M71.3 117.8h0M89.9 110.8h0M32.1 103.3h0M99.7 88.1h0M139.2 66.8h0M64.1 170.4h0M38.2 111.8h0M69.7 90.6h0M69.6 99.8h0M161.2 80.3h0M123.1 107.4h0M160.7 88.1h0M33.6 116.4h0M72.9 112.9h0M124.6 120.2h0M144.7 105.7h0M96.8 104.6h0M136.2 121.1h0M162.5 85.0h0M174.8 75.8h0M107.1 117.0h0M85.1 104.1h0M136.6 91.4h0M88.1 119.6h0M94.1 91.8h0M122.1 114.7h0M53.9 145.0h0M82.8 105.0h0M102.5 153.7h0M167.8 76.7h0M151.4 80.0h0M67.2 102.2h0M23.8 116.8h0M159.8 70.6h0M133.9 119.8h0M125.6 125.2h0M89.5 123.9h0M92.2 121.2h0M101.4 113.0h0M129.7 94.9h0M41.4 134.8h0M115.5 117.0h0M35.4 93.9h0M64.2 111.7h0M103.4 80.8h0M61.4 92.1h0M59.2 132.7h0M43.6 94.9h0M134.9 75.9h0M56.9 112.6h0M151.9 80.6h0M84.3 122.9h0M127.8 60.6h0M96.3 84.8h0M45.8 101.8h0M36.5 108.6h0M80.7 121.8h0M151.8 144.9h0M122.8 111.0h0M50.0 111.4h0M130.9 192.9h0M119.9 114.4h0M77.9 115.8h0M83.0 105.9h0M90.6 101.5h0M93.7 120.5h0M178.3 83.6h0M89.9 75.0h0M142.3 68.8h0M150.4 192.3h0M104.9 62.1h0M38.9 98.4h0M103.5 79.0h0M128.3 114.9h0M137.4 110.1h0M79.4 106.1h0M50.7 64.5h0M47.2 121.5h0M43.1 100.6h0M87.0 116.2h0M123.8 91.2h0M82.0 102.5h0M102.4 83.8h0M56.4 91.5h0M153.7 81.7h0M96.2 120.4h0M27.0 105.5h0M127.0 102.3h0M125.6 109.3h0M135.9 124.6h0M26.7 94.7h0M111.9 118.9h0M88.9 63.0h0M17.6 105.8h0M87.3 99.6h0M120.0 111.3h0M38.1 99.4h0M69.6 119.8h0M83.1 87.0h0M58.0 117.1h0M42.9 129.1h0M83.3 119.4h0M116.4 86.1h0M96.3 119.6h0M162.0 90.2h0M67.4 109.6h0M154.5 91.3h0M83.8 166.5h0M95.2 108.7h0M42.5 95.9h0M36.7 117.8h0M63.9 89.8h0M173.9 112.1h0M155.7 78.0h0M118.8 160.0h0M169.8 90.2h0M97.7 101.9h0M30.0 110.8h0M64.1 92.2h0M30.5 93.4h0M43.3 120.8h0M134.0 86.4h0M118.5 71.6h0M47.5 117.9h0M164.1 76.4h0M33.8 126.2h0M191.6 89.8h0M23.2 97.6h0M94.8 120.6h0M82.4 117.0h0M104.6 91.4h0M106.7 82.8h0M124.4 92.2h0M54.6 127.5h0M180.0 74.7h0M161.2 66.3h0M78.9 105.1h0M77.1 92.4h0M91.7 110.1h0M46.7 99.5h0M88.0 100.9h0M103.8 99.4h0M97.0 90.7h0M162.2 64.5h0M113.7 91.0h0M100.5 94.6h0M108.0 189.2h0M29.0 93.3h0M103.1 95.8h0M95.3 193.2h0M22.0 100.4h0M133.4 116.8h0M183.2 74.6h0M160.7 77.0h0M54.1 120.0h0M78.9 89.7h0M102.6 117.1h0M175.5 83.9h0M45.6 118.6h0M93.7 104.1h0M44.2 95.8h0M42.2 129.2h0M70.1 98.8h0M93.9 116.0h0M91.7 79.4h0M102.9 118.0h0M96.3 111.6h0M142.3 123.6h0M73.4 107.2h0M125.6 104.0h0M184.5 86.5h0M130.4 102.8h0M91.4 100.1h0M126.4 119.1h0M78.9 93.2h0M46.4 122.2h0M157.6 104.5h0M129.8 100.8h0M155.3 104.9h0M59.2 111.4h0M48.5 120.0h0M86.1 105.6h0M55.3 120.4h0M156.5 76.9h0M149.3 79.8h0M124.9 119.9h0M76.6 128.8h0M115.9 96.3h0M82.1 120.9h0M161.9 72.8h0M96.7 75.7h0M56.8 98.8h0M63.2 120.0h0M121.3 123.7h0M87.6 118.5h0M160.5 89.7h0M107.1 93.1h0M69.6 89.6h0M111.2 61.5h0M97.9 105.3h0M47.2 100.4h0M108.7 87.0h0M105.1 67.1h0M118.3 105.6h0M121.5 121.0h0M168.2 81.3h0M39.3 122.6h0M124.6 99.6h0M25.2 85.5h0M68.6 114.4h0M169.6 77.8h0M176.3 87.9h0M135.6 116.4h0M118.7 63.5h0M125.6 84.2h0M69.4 116.9h0M102.5 99.1h0M107.1 97.8h0M47.4 118.4h0M58.8 120.1h0M61.5 125.1h0M61.4 95.9h0M82.0 99.6h0M168.3 64.9h0M47.4 94.4h0M121.2 115.1h0M95.0 93.3h0M32.3 109.2h0M107.1 75.1h0M29.4 117.3h0M166.5 104.0h0M160.0 86.1h0M154.3 77.9h0M116.5 122.9h0M35.3 127.4h0M111.0 99.0h0M155.0 126.0h0M145.8 73.7h0M101.7 92.3h0M81.3 144.5h0M148.3 176.6h0M150.8 176.0h0M82.4 85.5h0M50.8 132.2h0M64.0 103.7h0M104.9 109.6h0M104.4 113.3h0M80.1 114.7h0M123.5 65.9h0M174.7 86.5h0M129.4 112.8h0M92.9 90.0h0M43.3 102.1h0M23.8 111.4h0M144.8 110.1h0M31.9 121.5h0M85.6 107.1h0M37.6 109.8h0M92.6 96.2h0M103.1 140.3h0M157.3 84.3h0M70.6 87.4h0M126.1 104.0h0M108.4 123.4h0M33.3 108.2h0M99.8 116.8h0M144.4 114.7h0M38.5 111.9h0M179.6 85.7h0M128.1 98.3h0M104.5 73.3h0M92.7 94.4h0M107.8 98.7h0M136.9 95.8h0M86.0 110.5h0M65.6 123.2h0M76.5 87.9h0M185.0 91.8h0M111.0 99.6h0M153.3 183.1h0M103.3 109.5h0M39.7 111.0h0M139.7 117.5h0M42.3 95.3h0M22.9 102.9h0M157.9 71.1h0M117.7 114.7h0M92.9 108.6h0M98.4 65.5h0M73.2 106.4h0M89.1 96.8h0M32.4 122.9h0M113.6 113.0h0M101.4 92.8h0M171.4 92.4h0M63.4 123.1h0M182.9 81.1h0M92.2 111.1h0M121.8 81.7h0M70.8 100.9h0M168.2 93.2h0M86.0 85.3h0M105.3 78.9h0M51.0 96.2h0M73.7 123.5h0M41.9 96.6h0M57.1 92.9h0M38.0 111.5h0M115.0 71.2h0M69.0 95.0h0M75.5 108.6h0M109.1 97.7h0M163.0 73.6h0M131.9 125.4h0M88.1 120.1h0M163.6 79.2h0M98.6 126.5h0M58.9 107.5h0M36.6 103.4h0M91.6 107.4h0M68.9 105.3h0M133.5 124.5h0M154.1 75.5h0M17.3 100.2h0M151.7 67.1h0M33.4 109.3h0M121.7 67.6h0M49.1 92.7h0M101.4 111.1h0M75.9 87.5h0M111.3 193.3h0M87.3 163.0h0M133.8 86.7h0M149.1 108.1h0M158.3 65.7h0M76.5 111.7h0M127.6 123.5h0M36.6 93.9h0M62.4 99.2h0" stroke="#3a3f5a" stroke-width="1.45" stroke-linecap="round" fill="none"/>
<path d="M90.1 97.8h0M114.6 61.4h0M91.6 127.8h0M59.1 126.7h0M146.0 59.2h0M80.8 126.0h0M116.7 104.0h0M205.8 120.0h0M182.3 169.9h0M92.0 112.8h0M123.1 89.2h0M162.2 153.0h0M107.2 110.4h0M72.2 113.2h0M118.3 121.1h0M69.4 103.8h0M123.1 116.3h0M155.2 141.7h0M20.0 89.7h0M81.2 116.9h0M144.4 99.5h0M160.6 190.9h0M35.4 126.8h0M93.8 87.1h0M111.4 92.1h0M94.5 95.2h0M102.4 122.1h0M61.1 123.5h0M17.1 96.5h0M44.1 107.5h0M113.9 116.8h0M102.9 91.2h0M134.3 119.9h0M191.9 142.7h0M85.9 111.1h0M102.7 91.9h0M66.3 97.9h0M99.8 101.2h0M147.5 104.1h0M103.3 79.2h0M180.0 165.1h0M120.7 62.8h0M22.3 95.4h0M113.2 86.6h0M127.4 115.8h0M101.0 124.4h0M57.4 102.4h0M57.7 118.3h0M100.2 87.2h0M91.7 92.7h0M119.2 73.7h0M178.6 86.3h0M84.8 112.8h0M204.6 121.0h0M109.6 115.2h0M120.2 113.8h0M84.3 120.1h0M35.5 120.5h0M24.6 92.7h0M84.9 117.0h0M89.7 98.1h0M28.5 86.9h0M29.8 97.6h0M53.3 89.2h0M20.5 107.0h0M59.1 104.6h0M78.2 119.4h0M176.9 147.8h0M100.0 108.0h0M109.9 95.5h0M138.6 194.0h0M74.6 114.6h0M97.4 104.9h0M35.4 124.8h0M109.8 92.5h0M91.2 122.1h0M92.8 78.9h0M64.2 124.3h0M122.1 107.9h0M77.0 85.8h0M118.2 165.9h0M133.2 169.0h0M91.9 99.5h0M66.8 95.4h0M28.9 94.9h0M76.6 104.7h0M21.3 103.9h0M50.7 123.8h0M110.3 83.9h0M68.9 117.5h0M53.3 114.9h0M138.2 121.4h0M149.2 73.0h0M65.6 100.5h0M134.6 95.3h0M51.1 116.8h0M47.1 121.8h0M78.2 93.7h0M106.8 99.0h0M79.2 111.2h0M99.2 62.4h0M115.5 124.9h0M40.8 116.0h0M190.5 152.9h0M134.1 102.7h0M38.8 120.6h0M42.5 133.7h0M84.9 122.3h0M185.5 156.0h0M107.8 90.0h0M98.0 104.5h0M105.0 126.7h0M59.7 125.2h0M66.6 107.6h0M86.0 77.3h0M45.6 127.2h0M89.3 91.3h0M124.2 113.1h0M127.8 101.6h0M90.3 91.1h0M134.5 123.6h0M83.3 102.7h0M102.5 122.5h0M83.0 100.1h0M132.0 97.4h0M69.9 98.2h0M79.0 96.3h0M99.3 114.3h0M70.2 122.1h0M120.8 117.6h0M96.7 126.1h0M46.4 112.7h0M91.6 83.7h0M88.4 114.6h0M57.6 99.9h0M100.5 185.7h0M97.9 109.9h0M114.4 95.3h0M48.1 67.9h0M58.9 103.2h0M70.0 118.5h0M139.9 58.0h0M134.5 93.4h0M117.7 110.3h0M43.6 129.3h0M64.2 101.3h0M126.4 113.7h0M189.4 90.2h0M136.4 114.4h0M27.9 101.2h0M120.0 108.7h0M73.6 106.1h0M85.4 123.7h0M168.3 132.4h0M65.9 112.0h0M127.6 94.3h0M132.6 86.4h0M101.5 59.9h0M91.4 81.3h0M105.3 106.3h0M119.5 193.5h0M90.9 173.0h0M55.8 113.4h0M87.5 83.2h0M85.6 123.3h0M85.0 81.9h0M117.5 121.2h0M66.5 113.8h0M102.3 102.2h0M35.8 135.0h0M109.2 78.9h0M61.6 103.7h0M104.0 124.1h0M77.2 79.7h0M98.1 88.1h0M56.4 106.5h0M78.9 102.7h0M75.4 113.0h0M63.3 104.3h0M25.9 84.6h0M97.6 84.5h0M14.5 68.9h0M58.9 101.5h0M145.1 71.1h0M123.7 123.1h0M121.7 102.1h0M65.2 120.2h0M31.4 103.9h0M129.6 114.6h0M83.9 114.0h0M31.7 103.1h0M169.5 78.5h0M104.5 100.7h0M99.2 91.9h0M109.7 120.9h0M42.0 103.2h0M33.2 103.3h0M135.6 112.7h0M45.6 100.7h0M116.7 108.2h0M154.4 134.4h0M83.6 102.5h0M46.2 106.7h0M123.4 59.0h0M84.3 76.2h0M79.6 114.2h0M98.7 102.0h0M76.4 109.3h0M144.0 98.4h0M109.9 91.5h0M95.1 115.1h0M113.8 111.7h0M64.0 104.4h0M124.2 117.9h0M75.5 113.9h0M68.7 88.4h0M67.7 105.9h0M58.4 101.6h0M121.4 111.1h0M109.3 121.0h0M85.1 107.0h0M80.4 125.4h0M107.2 85.5h0M87.9 90.9h0M39.9 106.0h0M185.1 97.7h0M70.7 119.7h0M107.2 108.8h0M111.1 66.6h0M83.7 123.1h0M51.7 98.6h0M165.7 74.5h0M96.9 89.4h0M93.4 95.3h0M113.1 102.8h0M76.0 114.2h0M85.8 96.9h0M20.6 97.4h0M73.9 89.3h0M49.3 125.7h0M28.2 118.2h0M35.1 94.4h0M94.6 86.9h0M40.8 118.6h0M117.3 117.5h0M122.0 70.9h0M47.3 132.3h0M137.0 123.1h0M130.6 112.0h0M83.6 120.4h0M101.9 118.6h0M31.6 112.3h0M103.5 87.2h0" stroke="#6a5a50" stroke-width="1.45" stroke-linecap="round" fill="none"/>
<path d="M65.7 123.3h0M144.0 66.1h0M86.8 119.3h0M113.5 114.3h0M29.0 124.0h0M117.3 107.7h0M48.0 118.2h0M88.7 92.4h0M109.8 124.7h0M63.1 124.4h0M137.3 80.1h0M107.4 99.4h0M91.3 119.3h0M42.0 106.3h0M82.5 100.5h0M91.8 109.5h0M121.0 113.3h0M89.3 89.5h0M38.8 98.1h0M91.9 83.4h0M106.2 97.5h0M123.3 106.9h0M138.4 116.0h0M47.8 102.4h0M120.4 126.5h0M82.0 94.4h0M138.4 80.5h0M53.4 61.6h0M34.2 118.9h0M61.0 112.6h0M164.7 76.2h0M65.0 103.7h0M82.1 114.2h0M101.4 87.3h0M128.5 84.5h0M75.2 104.6h0M51.4 99.4h0M52.8 129.1h0M140.9 69.3h0M81.9 128.4h0M57.5 95.6h0M98.1 121.1h0M72.6 98.2h0M104.9 122.7h0M60.5 109.0h0M85.3 87.5h0M109.5 100.4h0M112.7 109.4h0M59.0 95.3h0M31.9 120.3h0M26.7 96.0h0M116.5 86.5h0M133.3 89.8h0M130.2 69.0h0M89.5 105.9h0M39.4 121.1h0M90.7 118.2h0M174.5 71.0h0M139.9 132.8h0M30.7 97.2h0M167.6 113.6h0M126.7 118.4h0M81.6 114.0h0M93.5 59.7h0M106.5 97.3h0M125.1 101.2h0M176.5 169.0h0M177.5 167.6h0M74.9 117.0h0M57.8 118.2h0M31.0 103.3h0M114.1 89.4h0M87.3 120.9h0M46.3 101.0h0M87.9 110.5h0M92.9 101.6h0M73.2 99.1h0M57.2 102.6h0M27.2 125.1h0M187.0 84.7h0M96.3 99.7h0M102.7 81.6h0M109.5 117.7h0M114.7 94.7h0M115.1 96.0h0M80.6 120.2h0M64.6 88.8h0M58.7 96.4h0M79.6 102.1h0M40.2 101.5h0M60.5 86.0h0M120.5 100.5h0M84.6 92.2h0M41.8 133.6h0M123.3 111.6h0M100.5 136.4h0M69.9 93.9h0M184.2 84.8h0M29.4 95.1h0M106.6 100.1h0M56.3 97.2h0M134.8 59.6h0M81.6 132.4h0M123.3 127.7h0M90.8 79.8h0M90.1 90.0h0M162.3 138.8h0M66.0 103.1h0M95.3 101.2h0M42.4 104.6h0M81.3 90.5h0M78.3 96.9h0M95.8 119.8h0M106.9 98.4h0M64.8 97.3h0M128.3 109.8h0M58.7 125.9h0M69.8 121.1h0M125.9 91.4h0M98.5 103.6h0M86.8 104.3h0M125.3 122.2h0M143.2 87.5h0M52.7 113.0h0M116.0 67.8h0M62.4 113.3h0M75.6 104.2h0M36.4 90.1h0M91.4 79.7h0M134.4 110.4h0M141.4 89.3h0M32.5 112.4h0M168.1 114.5h0M56.3 109.0h0M67.9 93.9h0M96.4 90.1h0M123.7 120.0h0M36.0 101.7h0M60.5 92.2h0M155.5 64.9h0M84.7 99.7h0M103.2 104.6h0M97.5 88.1h0M99.7 103.9h0M88.3 109.4h0M185.3 169.2h0M125.1 116.9h0M68.5 103.5h0M69.7 102.9h0M125.6 97.0h0M115.5 92.6h0M180.3 170.4h0M14.6 63.2h0M57.5 127.0h0M27.0 94.4h0M42.8 117.7h0M30.7 95.2h0M89.4 110.8h0M103.7 105.3h0M90.9 100.3h0M107.7 107.0h0M56.5 97.7h0M67.8 98.6h0M31.8 128.8h0M30.7 108.0h0M121.1 59.1h0M75.5 93.8h0M143.3 185.3h0M86.5 82.4h0M71.4 104.9h0M111.4 87.1h0M51.5 64.9h0M80.1 94.7h0M52.7 122.2h0M106.3 109.1h0M108.1 80.1h0M87.4 94.4h0M129.4 87.9h0M128.0 110.3h0M50.7 116.2h0M59.6 115.2h0M70.9 89.1h0M186.6 78.1h0M68.1 126.1h0M25.4 108.7h0M46.9 135.1h0M82.8 99.9h0M135.3 99.5h0M177.2 68.9h0M118.6 79.6h0M100.4 113.1h0M100.7 93.7h0M139.1 120.5h0M121.7 112.6h0M51.5 106.6h0M90.4 96.1h0M29.6 104.7h0M107.8 93.3h0M131.2 64.4h0M80.8 109.8h0M83.1 112.3h0M115.4 98.4h0M126.6 131.3h0M66.4 149.0h0M68.9 118.5h0M106.7 97.1h0M49.9 101.8h0M91.3 118.7h0M105.8 109.5h0M91.2 117.4h0M62.0 108.1h0M88.8 117.3h0M64.1 124.9h0M14.7 80.8h0M99.7 90.5h0M54.4 125.8h0M89.2 105.6h0M69.9 124.6h0M67.3 96.0h0M54.0 105.3h0M57.2 102.2h0M115.3 89.9h0M96.2 81.7h0M78.2 101.7h0M68.6 121.9h0M33.6 125.9h0M129.5 118.9h0M86.3 98.5h0M134.0 99.9h0M130.0 114.8h0M74.2 130.5h0M189.2 90.0h0M40.2 104.3h0M124.2 99.2h0M35.8 136.2h0M20.0 121.1h0M67.9 136.7h0M77.9 83.3h0M59.4 127.2h0M35.8 100.2h0M115.3 93.9h0M120.2 86.5h0M25.7 110.7h0M44.4 139.2h0M106.2 78.5h0M36.3 124.9h0M87.5 90.9h0M30.4 103.5h0M132.5 87.9h0M168.2 132.0h0M67.0 96.2h0M132.9 108.6h0M149.7 93.2h0M155.3 89.2h0M101.5 124.4h0M117.0 119.5h0M19.9 102.3h0M73.2 119.2h0M72.4 90.1h0M105.4 125.1h0M133.4 161.9h0M99.1 90.6h0M103.6 115.6h0M68.3 105.9h0M38.3 65.6h0M42.8 124.1h0M142.4 67.6h0M105.3 90.8h0M92.0 122.1h0M59.7 134.4h0M73.5 94.1h0M180.4 170.1h0M108.0 88.3h0M89.7 88.6h0M77.0 100.8h0M117.4 97.5h0M99.2 74.6h0M68.8 114.7h0M84.2 119.1h0M72.7 56.4h0M117.4 86.2h0M16.2 59.9h0M85.1 79.2h0M195.0 113.4h0M105.4 58.1h0M76.9 115.3h0M94.3 77.9h0M22.3 112.1h0M130.8 103.6h0M114.4 106.2h0M81.3 128.3h0M79.9 89.4h0M96.0 121.6h0M53.1 106.9h0M102.3 108.9h0M32.5 111.2h0M32.0 104.8h0M95.5 115.9h0M140.0 92.7h0M116.5 95.8h0M36.0 119.7h0M110.8 175.5h0M141.0 127.3h0M76.6 102.2h0M80.1 120.1h0M126.1 81.7h0M149.6 137.5h0M44.8 127.9h0M115.6 104.1h0M92.2 128.7h0M114.8 100.3h0M169.3 83.0h0M149.1 63.3h0M91.6 96.7h0M44.1 107.6h0M142.9 76.4h0M123.1 98.7h0M184.6 157.8h0M80.2 80.4h0M149.4 107.3h0M46.4 135.4h0M91.9 91.7h0M49.4 98.7h0M45.0 132.6h0M139.1 124.2h0M21.1 84.5h0M113.7 112.4h0M130.9 119.6h0M123.5 115.3h0M98.5 86.6h0M87.5 115.6h0M57.4 84.3h0M85.8 118.5h0M131.0 68.5h0M36.0 114.0h0M44.8 95.8h0M100.8 109.6h0M90.6 77.3h0M62.4 107.1h0M40.0 119.2h0M96.9 109.1h0M34.7 107.1h0M108.6 89.2h0M127.0 112.4h0M107.0 102.8h0M45.4 113.0h0M125.5 117.0h0M101.3 124.5h0M50.0 101.3h0M141.8 71.1h0M137.4 91.7h0M84.4 114.6h0M84.1 124.6h0M115.4 105.4h0M104.3 117.2h0M177.7 146.3h0M103.0 96.6h0M114.6 85.8h0M157.1 66.7h0M127.8 106.0h0M134.0 109.0h0M187.5 160.6h0M126.8 80.7h0M39.2 123.2h0M135.7 75.1h0M79.7 106.4h0M81.1 120.1h0M77.0 103.0h0M82.9 108.0h0M69.6 127.2h0M104.1 189.2h0M115.0 118.6h0M61.4 96.3h0M69.4 112.1h0M67.2 112.5h0M157.6 61.2h0M63.1 185.9h0M84.9 126.1h0M104.4 91.8h0M83.9 116.6h0M138.5 64.0h0M68.8 95.1h0M87.4 88.7h0M89.7 124.7h0M76.2 90.9h0M103.0 99.7h0M55.5 98.7h0M108.1 115.3h0M138.6 86.3h0M142.6 72.4h0M75.5 99.3h0M94.8 91.2h0M104.2 121.1h0M84.5 57.4h0M86.0 84.0h0M112.5 88.5h0M175.5 150.7h0M117.5 109.0h0M61.6 102.1h0M102.7 122.6h0M118.7 121.5h0M118.5 100.9h0M104.0 101.5h0M165.6 180.5h0M132.4 102.8h0M101.4 90.0h0M91.6 108.5h0M121.1 109.2h0M84.8 120.8h0M84.5 108.9h0M78.4 100.2h0M122.2 103.1h0" stroke="#3a5a66" stroke-width="1.45" stroke-linecap="round" fill="none"/>
<path d="M177.4 100.8h0M202.3 111.0h0M176.6 111.5h0M194.0 108.8h0M197.8 111.4h0M161.0 140.7h0M188.7 109.9h0M191.1 133.3h0M174.2 122.3h0M164.0 101.0h0M179.4 94.4h0M184.1 122.6h0M179.8 130.2h0M186.7 112.8h0M187.1 143.1h0M179.6 118.1h0M203.4 124.4h0M174.9 114.8h0M166.0 146.4h0M197.0 111.4h0M174.7 136.4h0M165.8 109.2h0M190.0 146.2h0M180.8 141.1h0M193.0 130.3h0M170.5 100.1h0M149.5 103.2h0M205.7 117.1h0M196.6 97.7h0M189.2 142.1h0M203.1 102.1h0M159.8 110.4h0M193.0 144.8h0M196.2 133.3h0M192.7 126.2h0M192.7 112.2h0M175.3 127.5h0M194.5 97.2h0M182.6 128.9h0M180.6 136.1h0M176.6 124.2h0M171.2 97.1h0M189.4 116.8h0M188.5 89.8h0M171.2 121.7h0M169.3 105.5h0M200.8 113.2h0M174.7 145.1h0M176.4 123.9h0M157.4 110.2h0M189.1 120.0h0M194.7 135.5h0M191.3 97.5h0M188.9 139.5h0M182.0 149.4h0M195.1 136.3h0M186.4 148.9h0M179.8 120.2h0M168.9 97.4h0M202.4 127.0h0M178.2 126.9h0M189.6 140.6h0M152.9 88.9h0M157.3 105.3h0M182.0 101.8h0M166.3 125.7h0M198.8 98.0h0M173.0 136.8h0M169.8 111.1h0M187.5 95.0h0M165.3 113.2h0M188.8 140.4h0M169.2 98.6h0M168.4 94.3h0M185.3 89.4h0M200.7 117.6h0M187.1 148.2h0M164.7 92.4h0M181.4 116.3h0M178.1 104.3h0M156.6 118.9h0M197.5 118.5h0M203.6 115.3h0M180.0 117.0h0M160.3 90.1h0M193.3 96.3h0M163.9 162.5h0M179.8 106.2h0M171.8 97.0h0M189.3 93.7h0M179.3 117.5h0M156.5 102.6h0M187.1 103.0h0M177.0 101.8h0M178.3 112.5h0M197.2 116.2h0M175.3 112.9h0M183.3 137.8h0M185.5 122.3h0M170.3 106.7h0M159.3 107.6h0M191.4 126.9h0M176.3 129.5h0M181.2 108.6h0M192.4 111.8h0M173.7 155.3h0M162.4 123.1h0M161.7 106.9h0M163.6 113.5h0M156.3 107.0h0M174.8 106.6h0M184.8 128.5h0M159.5 122.3h0M174.6 104.9h0M176.2 107.6h0M199.7 111.8h0M168.0 88.6h0M160.3 105.1h0M192.0 97.2h0M187.6 120.5h0M166.1 142.2h0M162.3 122.3h0M170.4 116.8h0M176.6 122.0h0M190.1 125.9h0M165.1 105.3h0M198.6 130.6h0M182.8 156.4h0M163.2 118.5h0M165.7 149.4h0M168.1 137.7h0M170.5 130.4h0M166.8 116.8h0M175.7 135.4h0M171.7 108.0h0M185.5 139.2h0M182.4 123.4h0M191.4 129.7h0M205.1 118.0h0M185.9 109.2h0M171.6 107.0h0M170.7 93.7h0M187.1 105.9h0M190.7 128.9h0M196.5 102.3h0M186.5 127.4h0M172.3 150.3h0M190.3 105.2h0M178.2 140.7h0M201.3 106.2h0M195.4 102.3h0M202.7 123.4h0M192.0 142.4h0M174.8 112.7h0M192.4 112.0h0M198.3 115.9h0M198.5 131.0h0M159.1 109.3h0M166.1 109.3h0M195.6 106.2h0M194.2 106.8h0M200.0 121.3h0M186.0 125.7h0M181.8 108.9h0M203.0 107.7h0M180.1 100.2h0M179.8 147.0h0M191.3 97.4h0M196.5 142.0h0M174.2 122.4h0M203.7 109.8h0M177.6 115.5h0M189.7 152.4h0M169.8 111.8h0M188.6 103.6h0M175.6 98.1h0M202.4 120.6h0M193.2 119.6h0M179.6 146.1h0M163.3 136.6h0M170.9 110.9h0M202.7 119.2h0M196.3 108.9h0M199.1 107.0h0M192.0 147.7h0M183.5 129.2h0M169.5 117.1h0M174.6 113.7h0M188.2 102.9h0M153.3 121.3h0M175.6 118.9h0M188.1 140.9h0M201.5 109.3h0M190.6 131.5h0M168.7 104.7h0M173.1 146.9h0M200.9 111.6h0M205.1 123.0h0M190.0 93.3h0M170.8 124.5h0M155.7 124.6h0M143.0 130.8h0M172.7 150.0h0M196.9 110.0h0M183.3 108.6h0M158.6 101.7h0M177.7 95.4h0M160.9 101.0h0M168.0 118.4h0M184.9 141.3h0M187.0 133.3h0M170.0 139.5h0M196.2 131.3h0M175.8 117.1h0M196.3 127.3h0M193.4 103.7h0M178.3 112.9h0M162.0 113.1h0M189.0 152.6h0M179.3 115.0h0M197.7 100.7h0M193.2 118.6h0M188.8 123.6h0M184.4 142.7h0M171.0 94.8h0M198.0 117.1h0M183.4 135.0h0M178.2 135.5h0M168.8 97.8h0M153.1 138.2h0M170.3 104.4h0M162.6 93.1h0M192.5 105.9h0M168.0 126.1h0M201.1 114.7h0M193.4 125.3h0M187.6 106.9h0M177.3 103.3h0M161.4 102.3h0M202.8 103.1h0M170.4 99.7h0M178.3 136.6h0M152.9 123.0h0M189.0 149.6h0M155.4 96.0h0M187.1 106.0h0M188.1 97.1h0M187.5 120.5h0M201.4 115.5h0M173.5 98.9h0M176.9 118.1h0M173.0 104.9h0M188.1 106.6h0M175.3 152.4h0M189.9 120.2h0M175.9 118.8h0M192.4 142.3h0M170.5 141.8h0M177.3 129.0h0M182.5 154.2h0M175.6 107.5h0M182.9 90.6h0M172.8 96.2h0M197.8 125.1h0M174.0 97.4h0M170.0 110.3h0M171.7 131.5h0M187.9 98.3h0M201.9 113.3h0M164.1 135.3h0M170.1 126.7h0M179.8 137.4h0M175.9 126.4h0M152.1 110.4h0M177.3 101.3h0M157.5 130.1h0M174.2 116.9h0M188.2 107.1h0M167.6 142.3h0M186.0 114.4h0M170.4 108.3h0M171.0 117.5h0" stroke="#58847e" stroke-width="1.45" stroke-linecap="round" fill="none"/>
<path d="M175.7 87.6h0M163.0 94.3h0M158.7 89.9h0M164.7 83.5h0M161.1 79.0h0M154.6 89.1h0M167.0 86.8h0M171.9 78.9h0M162.1 74.3h0M151.7 81.0h0M158.6 86.8h0M154.8 73.7h0M175.0 89.1h0M173.9 94.8h0M186.0 80.1h0M164.2 81.8h0M180.9 83.7h0M179.9 86.9h0M164.6 72.3h0M168.7 87.5h0M157.7 79.8h0M177.8 85.8h0M150.4 77.1h0M164.7 67.1h0M167.9 79.2h0M167.5 93.7h0M184.3 87.5h0M192.0 90.3h0M167.8 93.9h0M149.6 68.0h0M150.9 61.3h0M172.7 87.6h0M159.4 76.1h0M168.4 87.5h0M191.6 89.4h0M154.7 75.2h0M162.7 70.7h0M156.1 86.0h0M154.0 76.4h0M179.1 78.8h0M164.8 83.0h0M161.5 84.9h0M193.3 88.9h0M189.8 91.5h0M169.2 82.8h0M182.6 89.8h0" stroke="#5a4a40" stroke-width="1.45" stroke-linecap="round" fill="none"/>
<path d="M79.3 179.0h0M61.1 140.6h0M54.7 139.5h0M55.4 187.0h0M83.9 179.7h0M80.2 165.9h0M74.0 174.2h0M89.6 139.6h0M81.1 133.6h0M63.1 129.9h0M80.4 175.1h0M56.3 172.6h0M114.8 140.3h0M52.7 151.5h0M80.1 157.7h0M67.5 171.3h0M85.8 180.6h0M75.2 160.5h0M75.2 158.2h0M62.0 144.1h0M58.4 167.1h0M79.7 147.2h0M71.2 153.2h0M94.3 148.0h0M63.3 163.3h0M84.7 157.5h0M73.5 164.2h0M76.8 144.5h0M54.5 133.5h0M51.8 155.6h0M56.8 161.7h0M56.3 155.5h0M62.1 178.1h0M65.5 189.7h0M70.7 177.8h0M69.0 141.0h0M90.3 186.3h0M77.8 156.4h0M57.3 152.8h0M90.9 161.0h0M75.3 192.2h0M86.5 161.9h0M79.9 152.5h0M80.3 163.4h0M80.7 134.7h0M99.3 155.2h0M88.5 151.6h0M58.1 135.8h0M65.6 176.8h0M76.7 151.0h0M90.0 148.2h0M95.7 171.1h0M101.8 133.3h0M87.0 168.9h0M86.6 151.1h0M85.2 135.0h0M85.2 141.3h0M74.3 128.8h0M62.8 149.3h0M80.8 137.1h0M76.3 172.0h0M94.0 139.1h0M84.1 161.7h0M76.0 144.7h0M65.7 177.8h0M55.4 152.1h0M58.3 175.1h0M77.9 186.4h0M55.1 168.3h0M96.0 185.2h0M48.7 141.1h0M76.2 162.2h0M69.7 131.4h0M92.9 149.9h0M56.8 165.5h0M68.3 172.8h0M80.9 161.5h0M65.6 153.7h0M83.4 177.7h0M74.3 138.1h0M90.2 160.1h0M56.4 143.0h0M66.1 166.0h0M108.1 140.6h0M62.6 175.0h0M71.3 141.1h0M96.1 185.5h0M93.4 183.8h0M53.7 181.0h0M82.7 156.6h0M75.9 181.5h0M62.0 182.3h0M52.9 135.9h0M64.1 161.4h0M49.2 163.9h0M85.1 147.3h0M61.6 187.6h0M67.6 147.4h0M60.0 181.3h0M58.9 151.4h0M62.6 141.7h0M73.9 156.3h0M63.6 156.6h0M92.5 176.3h0M84.8 169.9h0M100.0 138.2h0M69.6 144.8h0M73.5 157.2h0M90.6 138.7h0M88.9 147.1h0M66.1 181.3h0M57.1 182.1h0M54.4 156.7h0M75.8 187.8h0M54.1 145.4h0M53.4 142.1h0M70.6 147.4h0M73.3 168.6h0M82.3 162.7h0M63.8 178.6h0M96.3 152.7h0M79.8 188.1h0M106.7 162.4h0M96.2 134.2h0M91.0 152.9h0M56.9 156.0h0M77.2 158.8h0M79.8 143.3h0M87.7 177.5h0M53.5 148.1h0M66.1 184.3h0M109.0 146.4h0M71.2 153.7h0M86.4 154.0h0M87.5 180.3h0M72.6 135.9h0M57.2 158.4h0M65.8 171.8h0M57.2 176.5h0M57.3 131.8h0M63.2 157.2h0M97.8 145.3h0M83.6 156.6h0M96.7 163.4h0M86.9 167.1h0M79.3 147.8h0M74.6 153.5h0M102.8 138.6h0M81.3 154.2h0M49.6 148.1h0M79.5 153.6h0M82.5 147.7h0M72.3 138.7h0M87.7 145.5h0M66.3 167.8h0M68.1 178.3h0M58.1 158.2h0M49.2 165.1h0M88.8 184.3h0M72.2 189.3h0M50.5 148.0h0M57.6 131.8h0M81.8 166.2h0M64.9 140.4h0M81.3 158.0h0M63.9 154.4h0M58.3 151.3h0M103.1 176.9h0M74.3 179.4h0M72.8 135.8h0M92.1 167.2h0M94.0 171.4h0M74.8 188.8h0M86.0 132.3h0M64.5 147.9h0M48.1 140.2h0M83.3 135.6h0M61.0 173.5h0M96.3 131.0h0M87.3 171.3h0M55.8 148.7h0M83.2 146.8h0M88.5 142.6h0M93.9 131.5h0M102.1 180.3h0M56.1 138.9h0M84.3 137.7h0M81.6 182.8h0M90.9 165.6h0M107.5 159.1h0M76.7 151.6h0M84.0 174.0h0M50.9 174.0h0M49.2 165.2h0M71.6 129.0h0M92.2 174.8h0M78.5 157.3h0M80.2 155.5h0M62.4 136.3h0M65.6 176.5h0M76.7 178.1h0M57.6 168.1h0M70.9 181.7h0M64.5 165.7h0M91.7 153.4h0M48.7 173.8h0M72.9 155.3h0M87.0 174.1h0M51.9 159.3h0M79.0 179.6h0M82.1 179.5h0M70.1 150.7h0M70.2 157.1h0M66.0 168.6h0M68.3 156.8h0M74.7 155.6h0M70.5 182.3h0M57.5 144.2h0M73.5 189.2h0M96.3 159.8h0M115.3 142.4h0M91.0 134.7h0M73.8 143.9h0M93.8 149.2h0M50.2 133.4h0M75.7 135.0h0M107.6 132.4h0M49.2 131.1h0M89.2 133.1h0M61.0 133.2h0M82.5 158.7h0M77.6 149.7h0M56.5 143.0h0M70.2 175.7h0M87.2 169.4h0M55.7 173.7h0M60.1 172.3h0M105.3 191.8h0M62.2 147.2h0M51.0 146.0h0M77.4 129.2h0M87.7 141.5h0M81.0 172.9h0M57.6 139.0h0M73.4 154.8h0M88.5 176.9h0M57.1 176.9h0M55.3 142.9h0M84.1 171.3h0M74.9 140.2h0M45.8 141.1h0M67.8 192.4h0M74.5 164.7h0M56.0 135.1h0M75.0 141.9h0M55.3 159.3h0M54.0 145.2h0M47.3 168.1h0M67.3 165.4h0M103.4 168.5h0M89.9 150.0h0M71.4 190.4h0M75.7 170.3h0M67.3 143.6h0M73.7 145.7h0M56.2 181.2h0M105.5 140.5h0M64.1 180.5h0M70.0 146.3h0M84.8 169.0h0M94.1 161.5h0M76.4 164.0h0M79.9 175.9h0M65.8 166.2h0M95.9 136.1h0M83.3 159.5h0M60.0 171.2h0M78.5 175.6h0M92.5 165.1h0M83.2 176.4h0M83.7 164.4h0M69.4 134.5h0M97.9 159.2h0M84.5 187.8h0M63.2 171.0h0M49.9 157.3h0M55.3 141.8h0M92.8 177.4h0M57.7 176.4h0M75.4 156.5h0M63.2 169.1h0M69.1 158.3h0M70.1 142.7h0M97.9 164.5h0M71.0 143.3h0M46.8 150.7h0M68.3 126.7h0M73.9 164.2h0M68.8 159.4h0M53.2 153.3h0M74.4 132.5h0M85.0 137.5h0M63.3 185.5h0M58.2 136.2h0M103.1 169.5h0M53.1 136.8h0M63.4 135.4h0M74.4 152.8h0M77.1 152.9h0M54.2 150.5h0M80.5 141.7h0M47.6 174.2h0M53.0 156.7h0M102.1 159.3h0M61.1 171.2h0M64.3 178.3h0M73.2 149.6h0M82.2 136.3h0M94.4 125.7h0M54.0 127.9h0M92.8 146.9h0M57.7 132.7h0M59.7 161.4h0M66.9 156.9h0M66.8 163.6h0M51.9 144.4h0M59.3 158.9h0M103.4 161.8h0M76.6 159.4h0M54.8 164.7h0M55.4 141.1h0M56.3 168.3h0M97.3 143.9h0M88.0 184.3h0M89.5 189.7h0M78.3 155.1h0M85.0 181.8h0M89.7 183.2h0M49.4 151.9h0M102.6 139.3h0M80.5 146.9h0M51.2 158.8h0M72.3 126.4h0M91.0 135.9h0M74.0 141.4h0M62.4 160.8h0M98.4 165.6h0M55.9 143.5h0M75.9 135.4h0M81.7 186.1h0M55.3 146.3h0M77.9 184.2h0M80.3 159.2h0M77.2 123.1h0M63.6 178.0h0M93.7 156.9h0M92.8 186.7h0M68.9 136.7h0M66.5 144.3h0M89.6 147.2h0M64.2 167.9h0M79.8 165.0h0M59.6 165.6h0M74.7 184.3h0M96.3 132.5h0M84.0 173.2h0M64.4 143.1h0M85.4 184.7h0M51.8 182.0h0M76.7 154.6h0M80.8 132.1h0M89.9 148.4h0M68.0 186.9h0M68.7 161.9h0M66.4 140.7h0M91.0 175.5h0M68.6 189.2h0M101.0 183.8h0M72.1 173.5h0M71.9 167.2h0M59.5 127.1h0M75.8 191.3h0M63.0 139.1h0M84.0 164.3h0M65.6 145.8h0M72.9 154.7h0M73.2 159.5h0M64.2 155.3h0M92.6 185.2h0M58.9 141.7h0M83.3 132.5h0M52.3 146.8h0M87.7 165.7h0M86.1 151.0h0M54.3 136.9h0M74.0 151.3h0M86.1 126.1h0M59.0 173.0h0M60.9 171.5h0M68.4 190.6h0M70.6 181.4h0M82.5 180.8h0M91.6 129.9h0M92.2 147.0h0M78.9 142.3h0M79.6 165.3h0M87.3 167.4h0M91.6 140.3h0M72.4 181.3h0M99.8 162.7h0M60.6 144.0h0M78.5 185.8h0M66.0 168.7h0M71.7 129.5h0M72.2 172.5h0M67.9 173.7h0M112.6 171.8h0M92.8 153.5h0M90.6 164.9h0M62.5 149.8h0M78.8 188.3h0M90.6 174.1h0M92.8 174.1h0M76.6 169.8h0M53.8 174.1h0M51.4 161.4h0M82.8 134.6h0M67.6 126.1h0M84.3 138.7h0M65.7 142.5h0M97.5 143.1h0M82.0 143.1h0M89.2 145.3h0M67.9 172.9h0M58.0 156.2h0M55.3 135.4h0M73.4 188.5h0M57.7 137.5h0M82.9 156.5h0M63.2 178.1h0M57.2 184.9h0M66.1 162.6h0M61.1 163.2h0M92.6 158.6h0M56.1 170.6h0M51.9 176.3h0M84.6 153.0h0M58.3 141.5h0M67.3 133.5h0M58.7 145.6h0M56.9 140.5h0M80.5 183.7h0M63.0 139.3h0M50.5 156.8h0M69.3 175.1h0M85.2 164.9h0M71.2 135.6h0M99.8 175.4h0M90.7 190.5h0M89.0 147.3h0M94.4 188.4h0M68.5 159.0h0M74.4 182.1h0M82.7 173.2h0M76.5 147.8h0M55.3 146.8h0M58.4 149.9h0M53.3 160.2h0M64.4 155.1h0M81.6 146.8h0M56.1 175.8h0M62.3 181.4h0M60.6 182.8h0M85.3 141.2h0M80.3 151.4h0" stroke="#4a8e98" stroke-width="1.45" stroke-linecap="round" fill="none"/>
<path d="M26.7 98.1h0M48.8 97.5h0M50.3 100.4h0M49.4 102.3h0M51.7 91.4h0M64.6 103.9h0M41.2 94.3h0M47.5 97.8h0M44.2 90.1h0M38.6 101.7h0M44.2 92.8h0M35.2 97.2h0M25.4 99.3h0M41.7 86.4h0M32.0 89.7h0M57.6 105.4h0M40.4 93.5h0M40.5 95.1h0M44.8 99.4h0M50.5 94.8h0M40.4 98.5h0M39.4 98.2h0M39.8 96.4h0M49.3 96.4h0M38.5 87.1h0M34.7 99.9h0M26.0 96.0h0M40.2 97.1h0M40.4 99.2h0M36.8 92.5h0M39.1 96.8h0M32.0 88.4h0M39.6 91.1h0M38.8 92.6h0M47.6 98.4h0M42.2 96.6h0M41.8 90.9h0M48.1 95.6h0M36.9 90.8h0M34.0 94.3h0M51.5 97.9h0M51.7 92.8h0M50.8 101.8h0M48.2 96.1h0M33.9 98.7h0M50.8 95.6h0M57.1 98.9h0M37.5 92.5h0M38.6 100.8h0M43.7 95.8h0M38.0 95.6h0M40.5 99.2h0M40.1 94.6h0M43.2 94.4h0M66.0 95.1h0M55.9 94.0h0M35.0 97.4h0M51.2 90.8h0M42.4 92.8h0M40.8 93.8h0M42.6 95.7h0M55.5 94.4h0M41.1 96.4h0M57.4 90.0h0M51.3 92.8h0M13.6 99.6h0M52.3 100.2h0M54.0 94.4h0M63.5 94.3h0M37.9 97.9h0M45.5 102.8h0M62.3 104.4h0M47.2 88.4h0M39.4 102.7h0" stroke="#7e2c3a" stroke-width="1.45" stroke-linecap="round" fill="none"/>
<path d="M74.6 179.1h0M55.6 153.4h0M54.6 136.1h0M61.3 136.7h0M89.9 176.7h0M84.8 136.8h0M90.1 169.8h0M62.4 171.3h0M72.8 170.0h0M60.8 155.3h0M65.5 189.8h0M89.1 169.2h0M89.2 129.7h0M91.2 140.2h0M59.8 148.1h0M91.2 142.1h0M50.3 174.0h0M88.9 176.7h0M84.9 153.9h0M53.4 141.1h0M87.1 139.2h0M79.2 128.3h0M78.3 184.7h0M72.2 165.1h0M77.8 173.9h0M54.4 177.0h0M71.8 150.7h0M66.8 160.2h0M67.9 186.1h0M106.6 138.9h0M88.8 183.8h0M53.7 144.0h0M48.0 142.5h0M86.6 159.0h0M68.9 184.4h0M75.8 164.8h0M85.4 142.1h0M76.2 140.6h0M60.6 156.8h0M104.1 127.6h0M85.9 133.8h0M53.2 180.1h0M97.6 138.0h0M85.2 177.1h0M95.2 168.7h0M47.1 140.6h0M95.8 169.4h0M63.9 150.4h0M79.8 154.7h0M83.7 182.8h0M53.5 141.4h0M79.7 161.1h0M61.0 172.8h0M79.8 129.5h0M72.6 146.1h0M82.8 144.0h0M91.6 139.3h0M62.6 143.2h0M88.3 172.8h0M61.5 175.7h0M97.0 144.2h0M84.0 175.1h0M83.7 161.6h0M83.1 183.5h0M72.4 145.1h0M70.5 185.8h0M75.8 170.2h0M73.1 172.0h0M59.0 153.0h0M73.1 182.2h0M73.3 157.7h0M77.0 152.2h0M92.9 164.0h0M84.4 148.0h0M96.5 136.5h0M56.1 143.6h0M90.9 162.4h0M85.5 171.4h0M73.4 138.0h0M63.6 170.5h0M76.2 153.6h0M66.5 138.2h0M69.1 178.0h0M54.7 138.1h0M98.4 188.3h0M57.0 189.3h0M75.5 184.3h0M55.0 165.6h0M101.8 174.8h0M81.6 166.6h0M87.6 170.9h0M65.4 132.5h0M97.8 191.1h0M78.1 183.4h0M96.4 183.3h0M61.9 180.6h0M104.8 151.9h0M76.1 158.5h0M100.6 180.5h0M58.5 149.8h0M80.1 167.3h0M78.8 182.2h0M86.3 165.1h0M91.3 138.7h0M57.8 175.7h0M62.8 169.1h0M63.8 138.8h0M84.0 193.9h0M51.8 172.3h0M77.0 178.6h0M77.1 134.3h0M51.8 159.6h0M110.0 148.2h0M87.3 163.9h0M73.0 172.6h0M57.6 144.1h0M80.9 149.7h0M64.9 140.0h0M83.8 140.5h0M102.6 162.1h0M58.9 152.2h0M59.9 147.0h0M57.8 170.9h0M75.7 184.6h0M79.4 152.6h0M93.0 164.2h0M79.1 155.9h0M77.3 156.0h0M92.7 170.4h0M60.7 177.7h0M54.2 150.4h0M83.6 183.1h0M67.7 157.8h0M68.7 142.7h0M59.3 141.6h0M60.0 152.1h0M97.0 175.2h0M64.6 182.0h0M108.4 129.6h0M53.8 177.8h0M63.6 182.6h0M61.6 135.0h0M113.4 179.0h0M83.5 173.1h0M47.4 150.5h0M59.5 126.6h0M49.5 129.0h0M56.4 153.5h0M86.4 171.4h0M49.2 158.3h0M76.1 173.7h0M84.9 179.1h0M63.5 167.7h0M74.0 162.2h0M67.5 136.0h0M94.5 160.2h0M85.0 149.9h0M70.5 136.7h0M62.1 181.1h0M98.2 188.3h0M71.1 138.0h0M68.5 151.6h0M49.6 167.5h0M54.0 164.5h0M84.5 162.8h0M94.5 181.6h0M92.6 152.2h0M78.3 181.9h0M58.0 138.5h0M81.1 181.4h0M77.4 143.7h0M46.8 162.4h0M60.3 128.5h0M62.9 148.6h0M85.4 181.0h0M77.0 172.4h0M48.6 174.9h0M67.2 153.9h0M63.4 183.9h0M109.2 149.6h0M50.1 144.8h0M68.4 133.0h0M81.5 175.4h0M91.6 145.3h0M82.3 131.8h0M66.8 144.9h0M57.0 185.4h0M56.7 183.2h0M69.5 173.1h0M81.8 130.4h0M74.5 169.1h0M80.9 134.0h0M51.0 146.9h0M79.8 172.9h0M94.6 145.1h0M79.4 186.5h0M73.9 139.3h0M69.3 154.1h0M55.4 175.4h0M62.3 154.3h0M65.3 165.7h0M54.6 167.9h0M99.0 140.7h0M92.1 135.2h0M65.6 154.6h0M94.1 139.4h0M101.5 184.8h0M63.5 166.4h0M64.4 158.5h0M78.3 157.5h0M54.6 156.1h0M59.7 180.0h0M93.0 144.3h0M102.9 160.4h0M49.4 149.5h0M75.6 154.8h0M93.2 126.3h0M80.1 190.6h0M51.6 165.7h0M63.0 130.0h0M68.3 158.4h0M89.6 135.6h0M78.3 135.4h0M81.9 139.6h0M101.9 151.6h0M76.5 164.6h0M99.9 140.5h0M99.7 191.4h0M57.1 185.7h0M68.6 165.1h0M84.1 140.3h0M97.5 144.9h0M59.1 157.1h0M68.0 191.6h0M92.2 171.9h0M65.6 144.5h0M59.7 134.3h0M85.1 135.3h0M91.3 171.7h0M64.5 149.1h0M95.4 148.0h0M86.0 153.8h0M86.9 168.3h0M53.4 175.9h0M57.3 187.1h0M63.9 155.1h0M97.1 177.5h0M59.5 182.0h0M55.4 154.8h0M73.7 139.5h0M97.6 141.1h0M55.5 148.9h0M67.4 145.0h0M64.6 160.2h0M72.7 183.2h0M90.2 185.2h0M73.8 177.4h0" stroke="#385c7c" stroke-width="1.45" stroke-linecap="round" fill="none"/>
<path d="M67.3 114.4h0M90.4 113.1h0M57.4 114.4h0M96.1 108.0h0M72.1 117.0h0M77.6 108.2h0M76.3 106.6h0M64.2 114.3h0M67.3 111.3h0M77.8 108.9h0M94.9 103.5h0M65.9 121.4h0M99.6 115.7h0M80.5 116.7h0M61.5 113.0h0M97.6 108.6h0M92.2 109.3h0M96.1 107.1h0M95.6 111.3h0M96.2 109.3h0M59.3 114.9h0M66.0 109.3h0M64.1 108.8h0M62.7 114.9h0M90.1 112.1h0M65.0 118.7h0M93.5 108.4h0M95.6 117.3h0M91.8 106.4h0M102.9 106.0h0M98.9 103.0h0M96.9 114.8h0M65.6 110.4h0M59.9 115.1h0M69.6 101.2h0M92.0 101.6h0M106.6 114.9h0M77.6 114.7h0M65.4 110.2h0M70.0 112.7h0M71.1 115.0h0M64.7 116.8h0M95.7 115.4h0M74.3 108.3h0M92.8 107.6h0M103.1 105.2h0M74.1 106.7h0M69.2 109.2h0M72.4 117.3h0M98.8 107.2h0M98.2 105.0h0M95.3 110.2h0M60.2 99.2h0M70.1 108.1h0M104.5 103.7h0M91.6 105.1h0M89.8 109.7h0M59.9 118.0h0M58.1 106.5h0M72.2 110.2h0M95.4 106.8h0M91.4 112.9h0" stroke="#8a6058" stroke-width="1.45" stroke-linecap="round" fill="none"/>
<path d="M34.6 106.4h0M47.9 110.7h0M98.9 88.2h0M45.8 109.2h0M84.9 96.0h0M107.7 90.6h0M102.5 91.2h0M39.8 105.7h0M35.4 111.3h0M94.2 89.3h0M84.4 99.7h0M33.6 113.5h0M38.3 117.8h0M40.9 106.8h0M102.3 90.0h0M90.3 97.4h0M82.5 100.4h0M105.5 90.3h0M87.2 101.5h0M82.4 94.6h0M46.5 106.9h0M102.5 89.9h0M48.2 111.1h0M41.5 110.5h0M106.3 95.3h0M106.8 90.3h0M41.5 110.6h0M47.7 105.9h0M99.9 90.5h0M103.5 91.7h0M28.4 114.1h0M82.2 99.5h0M51.0 110.0h0M107.0 90.7h0M84.0 95.8h0" stroke="#6a9a94" stroke-width="1.45" stroke-linecap="round" fill="none"/>
<path d="M111.1 63.0h0M110.1 61.4h0M107.1 61.8h0M107.2 63.0h0M112.4 61.5h0M115.0 62.3h0M112.2 63.2h0M110.5 62.3h0M107.6 63.3h0M107.8 61.9h0M106.1 64.2h0M107.7 64.0h0M116.9 63.6h0M121.3 63.0h0M110.8 64.8h0M113.1 63.2h0M113.4 63.1h0M110.0 60.8h0" stroke="#3a8050" stroke-width="1.45" stroke-linecap="round" fill="none"/>
<path d="M104.9 89.9h0M87.5 94.0h0M80.7 99.6h0M45.5 109.5h0M43.4 108.9h0M33.0 113.9h0M100.7 93.6h0M104.8 87.3h0M87.4 98.7h0M101.7 93.5h0M104.4 91.0h0M45.4 107.2h0M103.8 91.6h0M114.4 86.9h0M47.4 109.2h0M46.0 114.8h0M98.8 89.3h0M99.7 91.2h0M106.6 91.9h0M83.2 96.8h0M34.4 112.7h0M84.8 94.2h0M109.5 90.7h0M104.7 87.3h0M101.4 90.2h0M49.5 111.2h0M105.2 92.2h0M50.5 109.4h0M97.2 92.9h0M47.1 111.3h0M84.2 98.4h0M102.9 90.9h0M87.9 95.4h0M45.0 111.0h0M52.4 108.5h0M105.6 91.1h0M109.4 98.9h0M109.2 89.9h0M111.2 94.0h0M104.5 87.2h0M83.2 98.3h0M38.6 110.6h0M108.8 86.5h0M112.7 89.0h0M39.0 111.7h0M107.9 87.7h0M36.7 106.1h0M86.4 97.2h0M85.1 98.1h0M95.3 93.6h0M40.1 114.7h0M102.4 93.2h0M88.7 101.4h0M82.5 99.0h0M46.5 114.8h0M31.6 109.5h0M100.5 89.1h0M38.9 110.3h0M98.0 91.2h0M51.3 111.0h0M103.0 93.5h0M107.6 90.7h0M99.1 92.2h0M41.6 109.0h0M106.6 92.8h0M118.7 92.0h0M98.9 93.1h0M102.9 87.6h0M80.7 96.8h0M103.9 88.7h0M43.0 109.0h0M84.0 99.9h0M78.6 98.7h0M111.4 85.6h0M88.7 93.8h0M107.1 88.5h0M46.5 113.9h0M45.7 113.1h0M87.9 98.2h0M105.9 92.7h0M111.4 89.8h0M103.3 89.7h0M44.7 112.0h0M35.8 109.8h0M86.7 98.2h0M45.8 108.1h0M47.6 108.1h0M48.8 110.4h0M81.3 99.7h0M48.3 107.3h0M47.2 107.0h0M42.3 110.7h0M83.4 98.6h0M105.3 89.3h0M39.2 109.7h0M106.7 89.3h0M82.5 97.0h0M100.8 90.9h0M101.1 88.0h0M41.2 111.3h0M37.1 108.0h0M108.8 92.4h0M101.1 86.9h0M41.2 114.9h0M110.6 85.0h0M100.6 92.0h0M100.9 94.3h0M42.7 108.8h0M104.8 89.8h0M110.7 91.1h0M101.7 95.1h0M97.5 90.2h0M98.2 84.5h0M38.4 110.5h0M45.1 109.0h0M105.8 86.1h0M103.1 91.3h0M103.1 86.5h0M42.9 111.7h0M48.8 110.1h0M103.1 94.5h0M85.6 101.8h0M106.6 92.2h0M106.8 89.6h0M40.4 114.0h0M38.7 113.4h0M41.0 108.0h0M109.6 89.3h0M50.4 110.1h0M108.7 88.1h0M97.1 86.6h0M96.4 90.0h0M101.7 95.2h0M100.0 89.5h0M94.7 89.8h0" stroke="#4a9088" stroke-width="1.45" stroke-linecap="round" fill="none"/>
<path d="M122.7 105.5h0M108.8 111.1h0M80.1 132.6h0M98.1 127.8h0M120.7 90.1h0M104.9 133.2h0M98.7 127.1h0M93.0 121.7h0M80.7 133.7h0M112.1 133.3h0M80.7 129.7h0M73.0 136.2h0M131.0 104.4h0M112.3 104.6h0M127.1 106.4h0M100.7 131.0h0M112.8 131.0h0M123.8 92.1h0M121.9 97.0h0M94.5 130.6h0M83.7 135.2h0M124.8 105.0h0M82.5 120.7h0M128.1 86.0h0M124.2 112.7h0M95.7 124.6h0M127.2 95.4h0M70.9 136.7h0M116.3 97.3h0M114.4 99.7h0M119.6 108.6h0M115.2 101.8h0M97.2 128.4h0M109.6 131.8h0M113.9 96.6h0M120.1 98.4h0M127.1 101.7h0M113.3 110.8h0M95.9 132.9h0M92.0 128.4h0M114.5 102.7h0M101.4 130.6h0M123.9 95.7h0M101.7 137.5h0M86.7 130.9h0M96.9 130.4h0M122.4 94.5h0M124.3 100.6h0M110.2 109.7h0M114.5 98.5h0M100.8 131.1h0M110.3 94.4h0M85.3 133.4h0M128.4 97.8h0M107.8 102.7h0M79.2 130.1h0M80.2 126.6h0M98.7 118.4h0M89.2 134.5h0M97.3 113.0h0M89.6 130.3h0M72.2 128.6h0M123.1 102.0h0M123.8 101.7h0M116.2 110.4h0M93.5 128.5h0M90.6 125.7h0M134.5 97.3h0M122.9 104.1h0M114.2 101.0h0M110.9 128.2h0M113.4 110.1h0M116.3 101.7h0M89.9 128.1h0M70.8 130.4h0M109.0 97.9h0M114.1 103.2h0M108.8 101.4h0M96.0 135.6h0M93.6 132.6h0M128.4 100.3h0M76.1 130.3h0M109.1 111.0h0M113.0 103.3h0M76.1 139.5h0M74.0 128.3h0M96.4 124.0h0M83.4 132.9h0M115.0 97.7h0M116.0 104.5h0M97.1 130.3h0M77.8 130.3h0M97.9 101.1h0M125.6 102.9h0M78.9 141.7h0M106.2 103.5h0M91.4 135.2h0M123.1 104.4h0M94.6 124.2h0M115.9 92.3h0M95.7 133.0h0M115.5 99.6h0M118.0 97.6h0M85.5 131.2h0M103.1 128.6h0M108.7 99.3h0" stroke="#34366a" stroke-width="1.45" stroke-linecap="round" fill="none"/>
<path d="M99.2 107.1h0M99.4 110.7h0M70.7 108.6h0M73.6 104.3h0M60.9 114.7h0M71.7 110.7h0M61.5 110.4h0M97.7 107.0h0M70.5 110.6h0M98.3 107.8h0M74.1 112.5h0M70.4 108.5h0M73.7 119.0h0M102.4 115.5h0M106.2 108.8h0M98.7 108.1h0M102.1 110.1h0M62.8 108.8h0M71.7 109.9h0M95.4 109.5h0M69.2 111.1h0M97.5 110.6h0M70.2 124.4h0M88.7 108.1h0M92.5 104.6h0M67.4 100.5h0M73.2 107.9h0M93.8 106.5h0M98.9 107.3h0M59.2 100.3h0M67.4 108.4h0M103.0 109.4h0M96.3 109.0h0M92.4 115.6h0M53.8 122.2h0M70.2 111.7h0M72.9 105.4h0M75.6 113.2h0M73.2 120.0h0M72.2 103.0h0M91.8 102.2h0M67.4 115.8h0M100.2 104.9h0M92.9 110.7h0M70.4 114.5h0M98.2 104.5h0M61.6 119.1h0M73.2 115.5h0M92.7 110.9h0M68.1 99.0h0M95.8 107.1h0M69.7 107.7h0M70.2 110.6h0M92.8 112.2h0M101.3 103.8h0M95.1 104.1h0M106.8 102.2h0M65.8 109.8h0M58.7 119.7h0M93.3 104.9h0M63.3 115.9h0M91.8 105.8h0M68.4 107.8h0M70.9 112.6h0M86.6 98.6h0M98.9 107.0h0M69.9 115.3h0M100.3 102.7h0M68.8 115.7h0M112.2 108.9h0M71.3 106.7h0M63.8 109.6h0M97.3 113.0h0M64.0 113.7h0M72.0 113.7h0M84.4 112.3h0M61.0 105.0h0M63.8 108.2h0M73.6 118.8h0M73.6 110.5h0M54.1 110.7h0M87.7 106.8h0M68.2 109.7h0M72.7 121.9h0M57.6 111.8h0M65.7 110.9h0M64.9 107.6h0M68.7 113.7h0M58.6 102.1h0M80.3 118.5h0M69.3 107.9h0M58.1 104.8h0M56.2 119.9h0M75.0 122.3h0M71.1 113.4h0M66.6 99.9h0M78.9 107.8h0M61.1 106.7h0M67.1 104.2h0M71.9 108.6h0M95.9 102.2h0M91.5 110.0h0M93.4 112.1h0M101.2 113.0h0M97.2 112.6h0M60.6 114.7h0M65.6 111.7h0M59.3 103.5h0" stroke="#a07060" stroke-width="1.45" stroke-linecap="round" fill="none"/>
<path d="M63.5 61.5h0M65.5 83.2h0M73.4 59.4h0M20.3 63.8h0M34.6 76.8h0M76.8 57.2h0M46.3 77.5h0M32.6 60.2h0M62.5 61.8h0M73.2 60.5h0M69.9 78.8h0M80.6 71.7h0M47.3 84.3h0M57.8 85.2h0M33.6 71.7h0M47.3 75.2h0M52.4 89.0h0M58.4 76.0h0M47.7 88.2h0M44.0 78.8h0M41.7 65.0h0M63.5 75.5h0M57.1 64.1h0M77.1 70.4h0M26.7 73.6h0M44.0 75.2h0M34.3 82.4h0M53.2 94.5h0M67.5 62.4h0M23.4 54.4h0M52.6 71.8h0M44.5 65.7h0M55.1 83.3h0M68.6 87.6h0M73.3 80.9h0M51.7 63.6h0M23.7 73.3h0M66.5 66.8h0M41.7 91.1h0M17.3 63.3h0M63.8 87.6h0M80.7 69.5h0M32.1 54.6h0M43.4 73.0h0M34.3 78.4h0M79.6 73.8h0M34.9 84.0h0M42.9 62.6h0M62.3 72.4h0M25.5 58.5h0M50.3 71.5h0M54.7 84.0h0M68.8 69.7h0M25.1 60.1h0M61.7 76.4h0M80.8 61.7h0M37.4 61.0h0M48.8 78.3h0M35.8 86.7h0M59.1 69.5h0M58.5 72.1h0M72.3 88.7h0M63.1 65.0h0M56.6 71.8h0M36.8 61.7h0M77.0 72.6h0M34.0 71.9h0M35.5 83.6h0M32.9 62.0h0M37.4 73.9h0M75.5 76.3h0M80.0 64.7h0M57.0 95.8h0M71.7 71.2h0M38.7 89.0h0M71.7 79.8h0M74.4 63.8h0M36.2 81.7h0M44.3 81.4h0M24.4 57.5h0M76.2 71.4h0M58.6 65.1h0M40.0 76.3h0M48.7 61.0h0M50.0 57.8h0M68.6 82.0h0M74.5 59.7h0M65.0 75.9h0M19.8 74.8h0M26.4 57.0h0M67.5 62.5h0M67.6 85.5h0M41.1 78.2h0M81.1 68.6h0M78.8 69.9h0M49.3 89.4h0M64.3 78.8h0M54.8 77.2h0M43.0 76.9h0M19.8 61.9h0M72.9 75.5h0M31.9 75.9h0M45.1 82.5h0M46.8 90.0h0M24.3 66.1h0M63.1 65.0h0M65.2 63.5h0M41.2 86.6h0M63.2 64.3h0M79.2 81.9h0M61.5 92.5h0M35.5 77.5h0M58.4 62.8h0M18.2 60.3h0M69.1 59.8h0M24.1 77.7h0M62.8 63.6h0M56.7 63.0h0M43.5 68.5h0M64.5 86.1h0M81.5 57.0h0M52.5 94.7h0M80.2 65.6h0M50.6 88.6h0M52.4 58.6h0M44.9 56.8h0M51.5 67.1h0M80.5 72.5h0M81.3 66.6h0M77.0 72.5h0M38.1 82.6h0M72.1 87.4h0M49.5 80.6h0M33.0 69.2h0M73.3 57.9h0M66.8 66.0h0M30.6 71.4h0M38.3 64.4h0M39.0 73.1h0M54.5 59.2h0M40.6 69.9h0M61.3 80.4h0M64.4 89.6h0M27.6 81.8h0M52.9 94.7h0M34.9 62.4h0M43.2 56.1h0M20.2 69.1h0M21.2 64.2h0M56.3 83.0h0M36.8 67.5h0M21.4 70.0h0M52.0 89.6h0M41.8 87.4h0M32.4 80.2h0M39.2 67.4h0M76.6 73.8h0M54.2 67.1h0M27.2 65.9h0M81.4 68.4h0M37.0 56.1h0M33.4 59.2h0M73.5 62.2h0M36.5 66.3h0M69.6 75.0h0M71.9 69.3h0M62.4 85.4h0M53.7 69.0h0M64.8 87.0h0M59.9 91.4h0M43.2 61.6h0M20.4 71.9h0M60.3 70.1h0M64.9 70.3h0M59.7 71.0h0M42.8 81.4h0M40.0 72.1h0M33.0 66.9h0M63.1 91.3h0M22.7 77.6h0M59.4 72.8h0M23.4 62.0h0M32.9 74.2h0M52.3 80.2h0M66.7 67.4h0M62.5 88.4h0M63.4 79.0h0M56.2 83.1h0M23.1 65.2h0M45.5 73.3h0M82.2 56.6h0M60.1 71.0h0M41.7 61.2h0M65.1 87.0h0M80.6 69.4h0M31.9 59.0h0M28.8 55.1h0M58.8 81.0h0M59.6 87.0h0M70.8 67.8h0M36.4 82.5h0M62.9 86.5h0M48.3 95.2h0M45.0 87.3h0M42.1 91.3h0M22.7 66.8h0M27.9 77.9h0M34.8 78.6h0M70.5 60.8h0M54.2 84.5h0M36.9 70.8h0M55.2 91.0h0M43.0 86.9h0M70.6 80.4h0M51.4 92.4h0M62.8 96.7h0M75.8 68.3h0M73.3 69.6h0M40.2 63.9h0M77.0 78.6h0M70.5 66.1h0M21.1 60.1h0M69.1 57.9h0M24.3 60.2h0M62.5 73.9h0M52.1 56.2h0M44.8 78.5h0M55.9 76.8h0M57.6 55.7h0M45.1 78.8h0M49.0 62.9h0M54.7 95.6h0M68.9 63.1h0M28.5 79.3h0M61.4 61.8h0M70.4 74.9h0M76.0 69.6h0M45.8 87.2h0M38.9 79.8h0M50.1 59.5h0M26.5 58.5h0M51.9 84.7h0M40.3 62.0h0M63.6 69.3h0M59.0 65.6h0M62.8 85.2h0M38.1 79.3h0M81.1 65.4h0M79.2 75.8h0M46.6 84.5h0M60.3 64.6h0M70.1 73.4h0M58.6 87.6h0M64.5 76.9h0M47.4 78.7h0M79.2 77.0h0M25.5 63.8h0M48.3 77.3h0M45.2 61.9h0M48.4 65.0h0M32.3 73.6h0M74.7 64.6h0M49.4 90.6h0M51.4 70.3h0M44.7 84.0h0M59.9 77.1h0M69.8 87.5h0M69.3 74.0h0M76.6 68.8h0M48.0 72.4h0M29.6 74.5h0M63.7 72.0h0M52.4 77.6h0M46.3 69.0h0M27.8 55.0h0M50.9 64.2h0M54.0 70.7h0M24.6 71.4h0M36.5 80.9h0M16.8 65.8h0M38.3 57.8h0M68.8 79.1h0M46.4 76.8h0M40.9 90.8h0M48.0 82.3h0M74.5 56.1h0M40.9 89.1h0M74.4 83.2h0M35.6 71.7h0M77.4 77.1h0M42.9 75.3h0M72.3 78.2h0M34.1 70.3h0M53.4 80.5h0M64.3 64.4h0M48.0 58.3h0M72.8 62.7h0M53.0 60.2h0M39.2 67.3h0M57.5 91.9h0M32.7 83.5h0M77.5 79.8h0M51.5 67.6h0M40.4 67.2h0M64.4 90.2h0M63.2 88.8h0M34.1 83.9h0M76.2 76.9h0M27.2 61.9h0M48.9 65.3h0M27.8 78.8h0M50.9 59.6h0M70.1 75.1h0M32.0 79.7h0M69.4 86.4h0M39.7 63.8h0M38.6 60.9h0M46.7 81.0h0M32.7 71.7h0M39.2 83.6h0M19.2 57.6h0M40.1 86.7h0M80.2 62.2h0M27.3 62.0h0M67.0 58.3h0M30.9 55.0h0M35.9 69.9h0M74.8 70.5h0M66.3 88.0h0M56.7 83.1h0M80.0 77.1h0M57.8 81.7h0M59.4 84.7h0M76.9 64.1h0M59.1 94.1h0M46.4 88.3h0M59.3 70.8h0M71.1 69.6h0M44.8 70.3h0M55.1 66.4h0M51.4 78.9h0M47.6 75.9h0M70.2 81.9h0M44.3 55.2h0M70.8 88.0h0M38.0 74.3h0M50.2 76.0h0M79.1 80.8h0M64.9 67.9h0M28.0 65.3h0M67.7 79.7h0M34.5 77.8h0M41.6 64.6h0M80.9 66.5h0M42.6 71.5h0M76.7 81.6h0M40.0 71.1h0M51.6 55.6h0M21.0 65.6h0M37.9 61.1h0M48.1 62.8h0M44.6 96.0h0M61.0 61.1h0M24.6 60.9h0M64.3 68.1h0M55.9 78.5h0M42.3 54.5h0M54.1 71.9h0M34.4 57.5h0M49.9 84.6h0M45.6 54.7h0M39.7 88.5h0M65.8 70.5h0M29.6 82.5h0M42.7 60.6h0M51.4 90.8h0M39.7 55.0h0M58.3 76.7h0M27.3 65.6h0M39.8 60.4h0M38.6 63.5h0M38.1 88.7h0M60.0 60.1h0M25.7 80.9h0M59.3 66.6h0M62.7 70.4h0M28.2 63.8h0M33.6 57.6h0M56.8 91.7h0M35.4 67.6h0M59.0 85.3h0M73.5 77.6h0M80.3 71.4h0M65.9 69.5h0M28.7 80.5h0M68.4 87.8h0M35.6 65.9h0M76.5 66.3h0M51.3 62.9h0M54.5 57.5h0M82.6 72.2h0M66.0 81.2h0M71.1 74.1h0M47.2 69.5h0M28.8 73.4h0M51.5 66.1h0M68.0 83.2h0M45.6 85.0h0M41.8 67.5h0M68.7 68.7h0M36.3 59.2h0M66.0 66.7h0M27.8 63.6h0M39.4 72.9h0M58.1 93.0h0M29.3 74.9h0M64.1 71.6h0M48.1 70.5h0M79.8 74.1h0M68.7 76.7h0M69.2 76.2h0M49.4 77.4h0M53.1 81.8h0M53.2 75.7h0M57.1 72.2h0M39.5 77.4h0M69.1 57.7h0M61.5 89.7h0M29.2 79.6h0M59.7 70.5h0M82.6 60.6h0M70.2 73.6h0M71.7 75.4h0M31.8 70.1h0M30.3 74.0h0M58.2 86.7h0M65.7 61.4h0M59.0 59.9h0M47.9 93.3h0M23.5 54.9h0M44.0 82.0h0M56.0 57.8h0M51.7 57.9h0M64.0 57.4h0M52.4 59.5h0M16.5 62.4h0M83.7 67.1h0M77.6 65.5h0M40.1 88.8h0M43.5 87.0h0M28.5 84.3h0M76.9 63.2h0M25.3 56.3h0M73.0 72.1h0M36.4 86.1h0M50.7 67.0h0M82.0 72.3h0M60.8 61.0h0M32.5 56.5h0M21.7 59.3h0M66.7 68.1h0M29.3 59.0h0M41.3 91.8h0M50.8 82.2h0M46.2 89.8h0M68.7 65.1h0M75.4 75.2h0M59.9 75.3h0M43.5 62.4h0M78.4 70.1h0M17.2 63.9h0M65.8 76.2h0M81.1 73.5h0M42.0 89.5h0M58.9 85.3h0M23.2 69.2h0M20.0 74.2h0M72.5 84.3h0M37.1 81.1h0M40.3 85.0h0M69.8 85.7h0M33.5 85.6h0M60.7 83.4h0M20.6 75.6h0M50.5 69.9h0M26.9 65.5h0M52.1 87.2h0M78.1 73.2h0M56.0 74.9h0M74.8 66.5h0M64.7 84.3h0M79.5 64.8h0M52.7 57.8h0M39.1 57.8h0M32.0 65.6h0M65.5 86.7h0M43.8 74.9h0M66.7 71.4h0M72.8 78.9h0M51.6 84.3h0M54.0 58.1h0M46.9 73.8h0M25.0 68.7h0M33.5 69.5h0M76.3 70.8h0M63.5 81.5h0M64.0 62.3h0M36.4 57.8h0M37.9 82.6h0M65.3 79.0h0M58.8 58.8h0M51.5 73.3h0M33.2 79.3h0M19.2 64.7h0M72.2 68.1h0M48.0 91.2h0M62.5 90.1h0M21.4 77.1h0M31.9 74.5h0M52.7 64.2h0M23.2 66.5h0M28.4 59.9h0M29.1 62.8h0M58.3 86.9h0M54.0 81.7h0M76.2 56.2h0M61.0 78.7h0M30.4 70.6h0M31.7 61.8h0M62.9 91.0h0M34.0 79.8h0M64.8 58.1h0M42.8 73.4h0M36.3 77.3h0M38.9 57.1h0M44.3 68.3h0M77.9 85.2h0M24.6 61.2h0M59.0 68.1h0M55.0 65.8h0M81.8 68.7h0M48.4 84.2h0M21.5 78.1h0M51.7 77.7h0M52.3 56.0h0M43.8 86.0h0M64.8 87.1h0M79.0 69.3h0M31.2 65.2h0M67.0 89.4h0M49.8 69.7h0M59.5 69.5h0M50.3 86.9h0M54.3 91.6h0M52.2 67.4h0M23.3 74.6h0M83.6 59.0h0M30.2 78.8h0M64.6 72.5h0M36.8 84.2h0M60.5 71.3h0M59.9 61.6h0M63.4 55.9h0M44.7 84.6h0M70.1 67.8h0M32.8 77.5h0M50.9 58.4h0M51.5 90.3h0M55.9 94.0h0M71.2 74.5h0M23.2 60.5h0M38.8 60.8h0M38.3 84.8h0M22.3 58.5h0M47.2 58.3h0M55.8 68.5h0M80.3 68.2h0M57.2 71.1h0M78.1 79.0h0M69.0 70.5h0M63.9 67.1h0M32.4 86.0h0M62.1 62.9h0M69.3 80.7h0M51.7 68.1h0M79.4 63.8h0M35.0 81.2h0M39.8 64.2h0M23.2 57.3h0M45.2 57.3h0M68.7 82.7h0M58.3 81.2h0M55.2 76.3h0M48.3 63.9h0M77.3 64.9h0M51.3 60.1h0M43.4 68.1h0M20.3 64.6h0M42.8 62.4h0M29.4 77.0h0M34.7 69.0h0M72.0 90.7h0M45.7 58.6h0M65.5 68.6h0M56.0 87.2h0M28.9 79.0h0M26.1 68.5h0M33.9 72.5h0M55.1 74.1h0M35.4 81.6h0M40.3 56.8h0M42.4 69.2h0M62.6 81.9h0M40.6 60.4h0M63.6 85.6h0M33.6 84.2h0M59.4 81.9h0M74.2 81.1h0M58.2 93.8h0M66.5 81.0h0M29.1 74.4h0M72.9 84.5h0M70.5 82.4h0M64.0 69.7h0M34.0 71.4h0M22.3 67.7h0M53.1 66.9h0M31.7 56.2h0M48.2 91.9h0M48.9 57.1h0M55.5 92.1h0M16.9 63.5h0M71.6 84.1h0M58.3 67.9h0M34.1 66.9h0M50.1 64.1h0M26.7 84.5h0M77.8 66.0h0M55.0 63.1h0M54.6 61.1h0M76.9 68.9h0M77.3 72.1h0M42.5 59.5h0M59.4 73.3h0M67.2 90.4h0M48.9 90.1h0M42.0 86.0h0M69.5 71.1h0M69.4 68.0h0M49.7 65.2h0M56.5 95.0h0M79.3 73.1h0M30.1 83.7h0M25.5 77.8h0M39.6 55.5h0M44.7 72.9h0M56.7 77.0h0M65.3 72.2h0M76.9 73.4h0M72.6 57.9h0M70.2 77.0h0M73.5 81.0h0M68.0 65.7h0M23.3 75.2h0M56.6 82.2h0M39.7 84.2h0M63.3 87.8h0M62.4 79.0h0M54.8 88.5h0M55.6 62.5h0M38.8 83.2h0M67.1 84.7h0M21.8 76.7h0M59.0 81.5h0M40.1 62.8h0M75.7 56.2h0M60.6 68.0h0M65.8 76.1h0M29.0 68.4h0M29.3 56.0h0M30.0 58.3h0M62.8 71.2h0M59.5 58.4h0M29.7 59.0h0M59.0 67.8h0M58.3 90.8h0M56.0 61.6h0M32.2 58.7h0M42.7 61.9h0M39.0 55.4h0M76.4 67.3h0M32.3 75.0h0M43.9 72.8h0M64.6 87.8h0M46.8 85.1h0M49.6 80.1h0M66.0 89.6h0M70.6 70.0h0M65.7 78.5h0M67.0 64.1h0M32.7 70.3h0M61.9 71.8h0M49.5 59.0h0M49.1 88.1h0M74.4 80.9h0M50.8 62.2h0M40.5 65.5h0M29.0 78.3h0M71.1 58.9h0M47.0 70.6h0M51.5 68.0h0M43.0 58.4h0M41.2 73.5h0M68.4 90.9h0M25.3 60.9h0M50.3 86.9h0M32.3 60.3h0M60.4 93.4h0M66.6 84.8h0M75.2 63.8h0M22.3 56.1h0M73.5 83.7h0M72.6 83.5h0M27.2 78.8h0M48.6 58.2h0M73.6 63.0h0M64.8 58.7h0M23.8 67.4h0M66.5 75.0h0M56.3 80.3h0M19.5 74.3h0M45.6 81.0h0M44.5 66.0h0M23.8 71.5h0M72.9 83.5h0M55.8 65.2h0M64.8 57.2h0M35.6 80.7h0M16.5 69.5h0M69.3 83.7h0M59.8 91.4h0M54.2 55.6h0M64.1 89.6h0M56.8 61.0h0M71.5 62.2h0M43.0 64.5h0M43.9 76.0h0M77.8 73.1h0M26.5 77.4h0M80.9 61.9h0M49.6 85.5h0M48.5 65.0h0M48.1 82.3h0M39.0 71.9h0M65.7 66.7h0M61.1 92.4h0M59.2 69.2h0M53.7 62.6h0M22.2 66.2h0M26.4 63.1h0M29.0 75.2h0M21.5 69.2h0M29.5 73.2h0M69.6 88.7h0M51.2 92.1h0M34.3 63.2h0M56.7 65.6h0M73.4 61.8h0M79.2 83.3h0M28.8 78.1h0M73.1 75.9h0M56.7 94.0h0M46.6 72.3h0M40.7 69.4h0M17.9 64.6h0M68.7 85.3h0M63.2 64.4h0M46.9 90.8h0M73.3 82.8h0M48.8 70.6h0M62.9 76.4h0M57.7 95.4h0M48.9 90.8h0M35.1 76.8h0M66.2 84.4h0M37.2 68.2h0M66.8 83.1h0M64.5 86.7h0M48.1 65.4h0M54.5 78.3h0M28.0 73.5h0M42.0 66.6h0M50.7 70.0h0M21.4 74.2h0M43.4 58.7h0M36.4 54.1h0M76.1 74.3h0M17.5 58.5h0M57.9 86.5h0M56.6 90.7h0M64.3 75.8h0M62.4 60.9h0M69.6 81.9h0M67.2 69.1h0M54.7 57.8h0M51.5 70.6h0M49.0 83.1h0M43.5 77.3h0M26.1 62.0h0M68.9 76.5h0M57.0 93.7h0M24.3 80.2h0M63.9 62.2h0M63.8 71.6h0M45.9 56.3h0M54.3 57.8h0M39.0 87.5h0M39.5 87.6h0M65.5 93.1h0M34.9 86.9h0M70.6 87.1h0M27.6 75.2h0M55.9 87.7h0M42.0 90.9h0M56.4 78.1h0M78.4 63.8h0M30.5 61.5h0M70.6 77.8h0M79.8 58.6h0M39.8 84.6h0M24.8 72.3h0M46.8 83.0h0M55.0 84.6h0M25.4 71.2h0M43.0 64.1h0M33.3 86.9h0M37.4 68.1h0M75.7 78.0h0M50.4 59.8h0M29.9 79.5h0M53.1 62.5h0M78.0 78.8h0M52.5 76.4h0M62.8 93.4h0M27.5 82.6h0M57.6 55.6h0M54.1 58.1h0M39.6 80.9h0M44.2 88.3h0M43.9 77.6h0M39.3 72.3h0M64.6 82.3h0M48.5 88.2h0M74.3 73.0h0M28.6 77.8h0M72.4 58.2h0M56.6 61.4h0M84.2 62.3h0M25.6 72.1h0M66.5 86.4h0M31.0 78.1h0M37.3 62.1h0M39.9 81.1h0M71.8 73.8h0M71.9 55.3h0M37.1 69.3h0M70.8 89.2h0M70.2 87.8h0M67.8 74.2h0M64.6 59.7h0M60.1 61.0h0M31.4 69.2h0M29.5 79.5h0M58.8 78.3h0M68.1 75.4h0M64.3 81.1h0M68.4 65.8h0M67.5 80.7h0M47.3 85.7h0M43.0 80.4h0M27.9 82.1h0M66.3 85.1h0M19.1 69.4h0M65.0 66.9h0M52.9 74.3h0M78.6 65.6h0M35.4 79.4h0M33.8 56.8h0M58.3 94.9h0M42.4 87.2h0M28.2 73.0h0M34.2 60.9h0M63.3 74.2h0M32.5 85.1h0M38.0 57.5h0M49.3 76.4h0M44.0 92.2h0M51.5 73.6h0M74.6 60.4h0M31.5 86.2h0M38.4 66.1h0M28.4 67.7h0M31.1 65.0h0M51.2 55.9h0M78.1 60.4h0M68.2 86.1h0M45.2 88.3h0M38.7 81.4h0M22.0 57.3h0M20.5 68.0h0M49.6 65.0h0M81.6 68.9h0M59.4 62.4h0M20.1 57.4h0M78.3 62.4h0M48.2 69.0h0M51.6 68.0h0M41.2 88.2h0M22.8 70.3h0M50.5 69.0h0M47.9 69.6h0M65.8 72.9h0M58.2 57.2h0M34.1 72.6h0M28.0 72.1h0M30.4 82.7h0M83.6 59.0h0M52.3 67.2h0M59.8 68.4h0M66.6 67.2h0M65.0 83.0h0M16.8 60.8h0M22.0 57.6h0M29.1 82.5h0M52.0 70.0h0M35.6 72.2h0M64.4 75.5h0M51.2 63.3h0M80.3 61.7h0M65.1 84.8h0M49.7 83.3h0M42.2 65.0h0M58.2 62.4h0M75.9 75.0h0M67.3 83.7h0M69.1 72.4h0M68.7 59.5h0M73.4 58.3h0M62.0 81.3h0M77.2 83.3h0M68.4 80.1h0M62.7 89.0h0M41.3 77.0h0M79.4 70.3h0M58.8 92.7h0M38.3 70.3h0M37.5 78.7h0M72.9 83.8h0M32.1 59.9h0M40.5 57.8h0M40.5 76.5h0M65.7 78.5h0M20.0 70.5h0M77.5 75.8h0M60.5 93.2h0M53.4 68.7h0M58.5 81.5h0M38.7 61.7h0M33.5 68.7h0M39.4 71.3h0M27.5 74.6h0M38.9 83.7h0M44.3 66.6h0M30.4 59.9h0M63.6 89.6h0M67.2 79.4h0M52.8 61.1h0M52.1 88.2h0M16.8 65.8h0M47.3 81.3h0M27.9 68.6h0M45.0 64.0h0M41.1 85.0h0M17.6 59.5h0M25.2 59.5h0M62.2 56.3h0M38.5 81.0h0M46.2 65.9h0M34.2 55.3h0M46.6 77.8h0M70.6 58.1h0M80.0 77.9h0M49.8 65.1h0M77.4 63.7h0M68.5 59.1h0M78.4 80.1h0M38.9 67.7h0M29.0 72.8h0M65.5 72.1h0M68.9 91.5h0M67.9 69.3h0M63.5 81.4h0M24.9 58.9h0M61.8 93.2h0M72.2 87.6h0M57.0 92.0h0M72.4 86.5h0M22.0 75.8h0M49.7 83.4h0M71.2 77.6h0M54.6 74.7h0M82.1 70.0h0M76.9 62.7h0M56.9 76.1h0M23.0 79.7h0M20.3 65.2h0M50.9 95.6h0M40.6 86.4h0M82.7 72.1h0M54.5 66.2h0M38.6 90.5h0M31.8 55.8h0M67.0 87.9h0M37.1 64.8h0M37.2 60.2h0M36.1 60.0h0M56.4 74.4h0M77.5 74.9h0M41.6 72.5h0M21.1 66.9h0M58.2 90.4h0M68.4 87.7h0M28.9 77.3h0M62.3 56.0h0M56.0 80.1h0M60.8 56.2h0M45.1 74.4h0M50.6 69.0h0M34.7 73.8h0M71.5 80.9h0M53.9 72.6h0M41.3 81.0h0M49.6 76.5h0M38.4 75.1h0M39.5 74.0h0M53.1 66.0h0M37.5 72.7h0M19.5 68.9h0M37.3 67.6h0M27.6 58.6h0M65.6 58.6h0M69.5 77.6h0M61.3 73.3h0M82.9 70.9h0M51.3 57.7h0M33.7 73.8h0M37.3 62.6h0M59.0 82.0h0M57.0 76.5h0M47.8 94.2h0M81.5 64.6h0M80.3 57.6h0M42.7 58.6h0M19.4 60.9h0M56.1 72.5h0M83.8 64.4h0M51.3 81.3h0M17.4 72.4h0M34.4 59.1h0M39.5 82.6h0M44.0 93.0h0M50.2 82.6h0M64.4 90.3h0M43.8 77.2h0M59.0 72.4h0M47.2 75.2h0M76.1 70.2h0M62.0 66.8h0M79.5 75.0h0M42.3 69.4h0M46.9 82.2h0M30.7 73.9h0M49.3 86.5h0M47.8 76.9h0M32.2 70.0h0M59.7 73.0h0M60.1 95.3h0M73.9 57.7h0M67.6 80.3h0M53.1 92.7h0M79.1 79.7h0M23.9 57.1h0M66.7 85.5h0M37.4 59.3h0M66.8 65.3h0M54.7 62.1h0M74.8 80.5h0M32.2 66.9h0M62.1 68.3h0M27.4 55.8h0M54.2 61.2h0M48.8 85.5h0M37.3 82.0h0M39.2 74.6h0M25.1 57.5h0M61.6 68.9h0M69.4 56.1h0M33.7 63.2h0M35.6 65.3h0M37.6 84.0h0M31.9 62.1h0M26.3 74.3h0M62.5 58.1h0M44.9 88.8h0M61.8 92.8h0M54.9 56.0h0M68.0 60.3h0M28.1 72.3h0M56.2 78.4h0M21.0 71.0h0M60.0 86.5h0M35.2 56.2h0M52.5 66.7h0M50.8 61.0h0M34.1 58.3h0M60.0 65.5h0M30.3 82.8h0M17.3 66.4h0M38.6 70.8h0M66.7 74.2h0M33.2 71.3h0M54.1 80.6h0M28.7 75.4h0M81.6 59.5h0M54.9 89.1h0M32.5 72.6h0M23.4 57.0h0M66.9 78.7h0M28.1 77.9h0M54.1 75.9h0M66.5 92.4h0M72.6 64.2h0M31.9 56.8h0M78.0 67.5h0M64.5 71.2h0M74.8 78.7h0M66.3 65.3h0M24.0 72.9h0M23.5 81.3h0M55.6 76.3h0M74.9 72.7h0M71.5 90.3h0M61.7 75.7h0M22.8 72.4h0M26.1 66.6h0M26.1 77.3h0M63.0 76.8h0M44.3 84.8h0M73.5 77.0h0M61.6 75.6h0M39.2 56.1h0M58.2 88.1h0M23.2 59.1h0M83.0 66.8h0M52.8 80.2h0M55.5 67.2h0M63.3 88.6h0M39.0 65.1h0M67.0 68.6h0M20.8 65.5h0M54.3 62.3h0M44.2 69.8h0M48.1 82.9h0M37.0 67.5h0M40.1 59.0h0M61.6 66.5h0M38.8 69.1h0M55.0 64.3h0M38.6 69.6h0M64.6 76.2h0M34.7 76.6h0M68.1 68.3h0M30.6 56.9h0M32.4 75.7h0M69.3 73.8h0M40.8 59.8h0M60.9 92.7h0M68.0 71.1h0M64.9 73.7h0M65.3 60.5h0M19.8 70.4h0M60.2 79.6h0M80.6 73.2h0M81.4 72.1h0M66.6 69.0h0M24.8 65.0h0M34.8 63.5h0M57.6 72.6h0M57.7 91.4h0M39.9 84.6h0M49.7 73.0h0M34.3 72.8h0M52.8 56.6h0M51.9 79.1h0M76.0 60.6h0M36.6 60.6h0M29.4 63.1h0M52.6 71.9h0M76.3 61.5h0M64.1 79.6h0M40.9 82.3h0M52.5 60.0h0M79.4 62.7h0M30.1 64.1h0M74.2 70.8h0M36.0 85.3h0M61.2 82.2h0M76.9 74.2h0M65.2 74.1h0M41.9 78.1h0M69.1 83.2h0M41.1 73.4h0M62.8 73.2h0M31.2 61.3h0M66.3 84.3h0M75.0 75.6h0M66.2 66.2h0M27.4 78.7h0M54.6 67.2h0M72.4 63.5h0M68.7 58.0h0M59.2 55.6h0M54.2 73.3h0M45.1 84.0h0M35.8 76.3h0M24.3 61.1h0M44.0 90.3h0M46.5 59.0h0M43.9 67.0h0M37.5 83.4h0M50.4 91.7h0M41.2 74.7h0M57.5 94.3h0M43.6 75.4h0M69.1 84.9h0M44.4 64.6h0M55.3 85.5h0M48.8 86.6h0M32.8 80.9h0M28.5 82.5h0M57.7 92.5h0M66.1 75.5h0M75.2 67.7h0M74.7 74.4h0M59.7 67.4h0M70.3 63.5h0M18.1 71.8h0M40.0 75.8h0M68.4 69.0h0M42.5 76.4h0M62.1 56.5h0M45.4 62.8h0M33.0 65.8h0M59.7 70.5h0M35.4 70.5h0M42.2 70.6h0M59.5 57.8h0M54.8 84.7h0M21.0 74.3h0M23.3 70.0h0M66.6 74.1h0M45.2 83.0h0M58.9 73.3h0M41.1 83.3h0M42.2 70.9h0M41.0 80.9h0M66.4 64.5h0M45.9 81.9h0M28.7 70.7h0M51.7 90.8h0M40.1 67.7h0M38.6 79.6h0M22.5 74.0h0M39.4 86.2h0M37.5 86.0h0M68.4 65.4h0M30.4 59.8h0M72.1 71.9h0M80.2 59.9h0M50.0 56.4h0M18.4 63.8h0M31.3 77.1h0M80.0 75.9h0M72.0 70.1h0M56.5 60.7h0M64.3 84.0h0M56.0 92.7h0M64.9 88.0h0M55.3 66.1h0M48.0 81.0h0M23.8 76.0h0M39.3 61.4h0M60.6 59.8h0M78.3 63.8h0M32.6 58.3h0M62.7 58.8h0M44.9 55.4h0M31.0 68.9h0M67.2 92.2h0M53.5 93.6h0M44.0 82.3h0M34.1 80.2h0M49.6 83.7h0M25.6 78.9h0M33.2 78.7h0M63.6 70.4h0M74.9 78.5h0M56.6 92.1h0M61.7 93.0h0M56.6 60.0h0M59.6 88.0h0M65.5 85.2h0M70.3 75.0h0M67.7 77.7h0M62.2 90.9h0M68.6 91.8h0M56.7 85.6h0M35.8 72.5h0M28.0 79.7h0M36.8 86.0h0M32.4 82.8h0M52.0 86.3h0M24.2 73.8h0M65.8 67.1h0M63.8 78.3h0M71.1 68.8h0M46.5 71.1h0M63.3 81.0h0M73.6 78.8h0M34.0 79.3h0M53.2 69.2h0M62.2 89.7h0M53.4 85.7h0M25.8 71.3h0M53.1 81.4h0M55.5 73.2h0M39.6 56.7h0M79.0 61.5h0M30.1 76.6h0M78.8 61.5h0M43.9 66.4h0M67.4 63.9h0M82.0 77.8h0M73.0 80.2h0M50.9 74.4h0M44.9 84.9h0M63.0 67.9h0M43.4 59.8h0M49.3 56.5h0M23.7 79.1h0M22.4 76.2h0M57.3 93.5h0M32.3 80.3h0M40.6 78.3h0M49.7 81.4h0M45.2 66.8h0M33.0 84.8h0M47.0 70.3h0M56.0 70.2h0M31.7 85.4h0M60.3 91.0h0M19.6 60.3h0M29.1 73.4h0M46.8 81.5h0M52.4 93.7h0M59.5 75.8h0M74.6 78.3h0M80.7 70.0h0M31.3 76.6h0M35.0 87.7h0M57.0 70.5h0M69.8 67.5h0M64.4 93.8h0M26.5 67.8h0M76.9 64.9h0M59.7 78.1h0M57.9 77.2h0M69.1 81.4h0M76.4 67.9h0M32.2 71.6h0M33.8 82.8h0M22.3 69.1h0M32.8 77.4h0M81.2 73.4h0M69.6 64.3h0M33.5 67.7h0M79.9 62.5h0M71.8 64.6h0M74.3 74.7h0M64.8 76.0h0M23.1 56.3h0M75.6 82.6h0M39.4 77.8h0M82.9 61.3h0M40.8 78.7h0M20.1 72.6h0M60.7 75.8h0M66.5 61.1h0M28.3 78.3h0M35.0 63.8h0M22.4 59.0h0M52.2 67.7h0M24.0 79.5h0M34.9 66.2h0M48.5 67.3h0M61.5 89.6h0M51.3 58.7h0M69.7 81.6h0M39.9 90.1h0M69.7 69.0h0M34.6 63.0h0M65.5 91.8h0M75.3 71.4h0M46.1 88.5h0M66.3 89.8h0M68.4 83.0h0M43.6 64.8h0M43.9 75.4h0M29.7 65.8h0M48.1 61.5h0M26.4 73.2h0M78.5 64.8h0M58.9 62.2h0M48.7 62.7h0M44.9 83.0h0M46.0 84.4h0M77.0 59.6h0M37.3 58.8h0M80.3 81.7h0M61.4 87.2h0M65.6 57.6h0M26.1 73.8h0M30.2 77.6h0M72.7 83.3h0M73.0 88.0h0M69.0 75.3h0M41.2 89.4h0M60.3 93.5h0M52.9 90.0h0M31.2 61.4h0M24.6 77.7h0M54.9 73.0h0M65.0 58.0h0M68.9 62.9h0M69.2 76.4h0M64.9 85.1h0M47.6 70.2h0M42.0 57.3h0M30.4 79.5h0M56.8 94.2h0" stroke="#8a2630" stroke-width="1.45" stroke-linecap="round" fill="none"/>
<path d="M76.5 76.7h0M33.3 68.0h0M68.4 59.6h0M74.4 85.9h0M22.1 79.3h0M57.2 84.6h0M29.4 65.7h0M80.8 58.1h0M42.8 60.0h0M27.9 59.4h0M58.2 65.9h0M76.9 71.4h0M47.5 85.5h0M56.3 80.4h0M61.8 85.1h0M34.6 73.6h0M55.8 71.1h0M75.3 74.2h0M66.4 85.9h0M23.3 74.2h0M58.1 57.7h0M79.2 77.8h0M47.6 89.8h0M45.3 83.1h0M19.6 60.7h0M55.6 78.7h0M50.8 64.9h0M67.4 59.5h0M73.7 68.4h0M28.1 55.3h0M78.3 56.2h0M41.8 82.0h0M73.2 68.9h0M54.7 89.9h0M19.9 62.1h0M77.9 76.7h0M45.1 57.4h0M30.7 70.3h0M75.7 58.2h0M78.8 75.4h0M39.9 75.3h0M35.5 88.8h0M25.7 60.1h0M40.0 69.1h0M48.4 82.6h0M55.5 93.2h0M31.9 84.5h0M34.5 68.1h0M39.4 69.8h0M59.7 91.0h0M64.9 56.0h0M67.7 87.4h0M49.4 71.5h0M33.5 80.3h0M63.7 76.7h0M52.9 58.4h0M48.2 69.1h0M50.8 89.0h0M64.5 66.8h0M21.9 59.3h0M66.0 88.8h0M69.1 84.3h0M39.6 81.7h0M44.1 71.6h0M71.0 82.5h0M58.1 90.4h0M36.9 55.6h0M77.1 68.9h0M29.4 67.8h0M79.2 76.5h0M56.1 66.3h0M72.1 62.3h0M60.6 77.4h0M71.3 65.7h0M27.1 62.4h0M33.5 66.7h0M50.8 76.2h0M37.3 85.1h0M48.6 87.9h0M73.6 61.2h0M39.5 84.6h0M77.2 74.5h0M19.9 63.6h0M44.8 63.8h0M45.4 72.5h0M62.2 66.1h0M49.8 66.1h0M63.6 89.3h0M39.3 56.1h0M44.5 72.2h0M36.1 67.4h0M54.9 77.9h0M33.5 79.8h0M50.1 64.4h0M24.1 60.6h0M82.7 63.6h0M54.2 68.6h0M67.1 70.7h0M39.0 62.5h0M50.7 63.1h0M32.3 73.1h0M35.0 79.9h0M44.9 62.0h0M59.2 62.2h0M38.3 81.5h0M69.2 60.7h0M45.8 87.4h0M37.1 65.0h0M57.0 84.4h0M75.7 76.1h0M67.7 72.1h0M59.3 67.1h0M24.3 57.4h0M31.4 72.7h0M73.7 61.7h0M52.6 61.6h0M42.6 89.2h0M68.7 78.5h0M61.5 58.9h0M27.6 68.1h0M57.0 77.0h0M64.9 82.8h0M72.6 59.7h0M75.0 69.5h0M70.3 88.1h0M36.7 72.5h0M57.5 78.0h0M60.2 87.4h0M21.3 59.6h0M56.3 65.1h0M39.6 64.2h0M59.0 57.1h0M38.5 59.2h0M56.4 86.2h0M22.8 58.9h0M73.2 60.0h0M47.7 69.6h0M59.1 88.3h0M74.7 84.7h0M46.0 72.9h0M83.4 61.4h0M49.0 83.5h0M29.6 73.8h0M41.9 85.3h0M67.0 68.1h0M61.9 59.1h0M31.0 75.8h0M75.4 81.7h0M58.4 84.4h0M66.1 64.4h0M44.8 88.0h0M65.7 65.4h0M48.3 67.3h0M64.4 60.9h0M69.2 79.9h0M20.6 67.9h0M45.1 69.4h0M46.9 86.0h0M52.0 58.5h0M46.3 76.5h0M47.8 92.2h0M34.0 59.5h0M67.8 75.9h0M18.9 59.0h0M45.8 77.2h0M22.6 76.8h0M26.6 64.2h0M30.7 74.4h0M69.1 76.1h0M58.7 86.3h0M24.5 62.8h0M55.6 95.9h0M69.0 69.5h0M55.5 60.3h0M38.0 85.8h0M42.2 64.8h0M29.4 77.4h0M79.5 76.1h0M72.7 84.5h0M66.2 66.4h0M78.5 74.6h0M46.2 58.5h0M26.5 70.7h0M52.9 68.9h0M63.8 61.0h0M40.9 61.3h0M54.0 84.7h0M79.1 81.4h0M28.1 57.6h0M54.6 60.2h0M46.8 86.5h0M54.1 65.6h0M58.1 60.1h0M54.9 84.2h0M40.9 85.1h0M44.0 83.4h0M42.4 82.3h0M52.9 62.6h0M75.5 71.5h0M71.6 62.5h0M40.9 87.6h0M25.9 75.7h0M77.6 72.2h0M69.6 68.3h0M32.4 53.5h0M49.2 67.8h0M61.6 59.1h0M36.5 61.8h0M42.9 86.6h0M64.5 86.9h0M26.0 81.8h0M73.0 81.9h0M64.0 84.8h0M66.3 72.1h0M36.3 80.0h0M39.7 81.7h0M26.1 62.7h0M56.4 75.3h0M47.5 92.1h0M27.2 59.0h0M73.6 62.9h0M72.4 78.4h0M39.3 56.7h0M42.8 72.1h0M78.5 73.1h0M59.3 88.0h0M36.5 70.3h0M58.7 88.2h0M35.4 79.6h0M33.2 76.8h0M60.8 58.5h0M44.5 84.5h0M57.3 65.5h0M26.6 53.5h0M34.1 57.0h0M37.2 84.4h0M51.4 91.6h0M74.1 82.2h0M44.3 76.4h0M44.3 78.7h0M46.3 56.3h0M44.0 84.7h0M19.5 67.0h0M47.8 85.7h0M49.7 57.7h0M55.7 59.9h0M21.9 67.9h0M41.9 82.2h0M67.5 59.2h0M36.6 62.3h0M73.9 70.9h0M38.0 62.7h0M71.7 71.4h0M21.7 63.7h0M41.0 70.6h0M38.8 77.7h0M63.6 75.2h0M50.6 61.1h0M28.6 81.6h0M64.9 72.8h0M81.7 73.9h0M60.9 58.2h0M39.2 77.7h0M36.6 70.3h0M20.3 63.2h0M68.4 83.9h0M69.2 86.9h0M70.5 71.3h0M49.2 74.2h0M81.0 58.5h0M55.3 96.0h0M36.7 72.7h0M25.3 58.3h0M57.6 53.9h0M36.7 69.5h0M16.9 62.2h0M16.7 75.3h0M49.3 63.3h0M25.6 70.5h0M48.3 73.0h0M28.4 68.5h0M48.9 85.0h0M74.6 73.9h0M30.1 76.4h0M40.7 65.2h0M74.2 72.4h0M55.2 89.7h0M28.5 57.5h0M37.0 81.6h0M47.2 54.0h0M32.2 75.8h0M30.3 81.2h0M30.4 71.6h0M42.2 64.4h0M27.0 75.1h0M82.4 63.8h0M60.2 71.3h0M70.8 88.6h0M44.2 61.6h0M79.1 75.9h0M57.2 67.3h0M54.5 62.8h0M23.6 56.3h0M20.1 71.6h0M56.4 87.1h0M45.2 71.2h0M49.9 79.1h0M35.5 83.3h0M47.1 78.9h0M19.3 61.1h0M60.2 83.5h0M46.2 78.7h0M48.4 63.3h0M54.8 89.6h0M78.6 77.8h0M60.6 74.7h0M76.7 60.9h0M21.0 65.8h0M33.7 57.7h0M50.3 79.6h0M28.4 71.7h0M72.5 70.6h0M17.6 67.2h0M34.0 71.8h0M68.4 73.1h0M42.4 87.3h0M20.4 65.5h0M63.5 69.7h0M65.9 74.8h0M35.9 73.3h0M74.2 64.2h0M53.8 60.1h0M47.6 57.1h0M37.8 61.6h0M81.3 59.8h0M53.5 57.4h0M43.2 64.9h0" stroke="#a8404a" stroke-width="1.45" stroke-linecap="round" fill="none"/>
<path d="M178.8 77.5h0M147.5 58.7h0M183.6 80.3h0M153.8 61.7h0M149.2 61.5h0M178.1 75.1h0M177.9 70.8h0M183.9 76.7h0M166.0 60.1h0M179.7 70.2h0M151.8 61.3h0M186.1 80.6h0M181.3 79.2h0M154.9 59.3h0M179.5 73.4h0M172.4 71.0h0M164.0 60.4h0M177.3 73.2h0M160.6 60.5h0M170.2 67.1h0M159.6 60.6h0M183.1 77.9h0M146.1 59.5h0M187.4 79.6h0M154.7 58.0h0M177.4 70.9h0M156.8 60.4h0M151.0 58.6h0M149.6 58.7h0M150.5 57.8h0M176.4 71.3h0M152.8 59.9h0M159.0 56.7h0M174.2 68.8h0M163.8 60.9h0M157.4 58.2h0M160.5 58.7h0M164.5 63.3h0M189.0 78.3h0M184.9 77.7h0M173.4 68.8h0M173.2 69.4h0M176.1 73.3h0M160.1 58.1h0M152.0 60.3h0M163.4 58.5h0M185.3 85.1h0M188.9 87.3h0M162.4 63.2h0M149.4 59.2h0M166.2 59.3h0M158.4 61.7h0M185.7 81.1h0M176.1 72.6h0M183.8 76.5h0M156.9 57.7h0M143.8 59.0h0M148.7 63.6h0M151.1 59.7h0M172.8 71.5h0M157.3 60.3h0M155.3 59.3h0M142.9 60.4h0M145.1 60.8h0M157.7 62.2h0M190.1 84.5h0M146.1 59.8h0M166.6 60.2h0M158.7 59.3h0M159.8 61.9h0M165.9 59.5h0M149.6 57.7h0M153.3 59.4h0M163.1 59.2h0M184.8 83.9h0M185.7 77.7h0M143.1 62.5h0M151.4 57.1h0M187.6 84.9h0M157.4 59.7h0M178.5 72.3h0M162.5 58.9h0M175.7 75.2h0M168.2 61.3h0M182.3 79.6h0M171.6 72.2h0M175.1 71.5h0M165.0 62.0h0M186.2 75.4h0M160.2 63.0h0M153.8 59.2h0M146.1 58.3h0M155.8 62.8h0M160.6 61.0h0M150.6 59.4h0M160.3 57.1h0M187.9 83.5h0M178.7 76.4h0M153.8 61.3h0M161.3 62.3h0M153.6 58.1h0M149.6 57.6h0M160.8 59.4h0M158.2 57.2h0M144.0 59.6h0M160.5 60.6h0M185.2 78.5h0M179.8 79.5h0M160.8 60.7h0M146.2 60.2h0M162.6 64.0h0M155.8 62.3h0M149.5 59.2h0M189.3 80.6h0M153.2 61.4h0M164.9 63.5h0M164.8 58.1h0M164.5 58.9h0M157.9 59.4h0M189.2 82.0h0M146.9 60.9h0M149.9 59.0h0M151.0 57.5h0M165.9 61.2h0M187.4 81.9h0M168.1 60.4h0M154.9 56.1h0M149.3 61.3h0M179.5 76.3h0M183.1 77.4h0M144.4 62.2h0M186.4 75.9h0M167.0 59.9h0M151.8 60.9h0M179.5 79.7h0M183.4 76.4h0M162.3 59.0h0M143.0 61.8h0M158.2 57.5h0M187.8 87.0h0M166.4 62.1h0M161.1 57.1h0M173.8 71.8h0M154.2 57.8h0M167.5 61.5h0M153.7 61.2h0M153.3 59.8h0M161.2 59.2h0M155.4 62.6h0M149.5 58.3h0M162.5 57.7h0M145.4 62.0h0M160.8 58.7h0M164.2 63.7h0M174.0 69.8h0M158.5 59.8h0M181.8 80.4h0M182.1 79.7h0M165.8 64.4h0M144.3 62.5h0M166.0 59.0h0M144.6 59.8h0M152.9 60.3h0M156.2 59.9h0M148.5 58.3h0M148.8 62.2h0M180.9 73.9h0M153.1 60.1h0M148.1 57.9h0M159.1 60.1h0M161.0 61.2h0M185.8 80.6h0M188.3 86.1h0M184.8 77.4h0M148.0 59.0h0M148.9 58.3h0M150.3 57.9h0M157.5 57.9h0M159.4 61.6h0M147.1 56.8h0M164.1 58.3h0M144.1 60.3h0M186.2 86.5h0M175.8 70.9h0M184.3 84.0h0M176.2 72.6h0M158.6 57.9h0M183.6 74.7h0M185.1 74.2h0M151.8 59.1h0M145.7 63.0h0M171.5 69.1h0M162.5 60.6h0M152.5 56.0h0M160.9 59.0h0M178.0 73.8h0M186.3 74.5h0M190.6 82.4h0M158.4 59.1h0M184.4 81.5h0M142.7 59.7h0M177.8 76.7h0M174.5 68.0h0M185.2 76.8h0M181.9 80.0h0M180.8 73.0h0M177.8 72.0h0M174.7 70.1h0M150.4 60.6h0M160.2 57.2h0M180.5 74.5h0M186.5 77.4h0M153.9 60.2h0M153.5 61.2h0M189.1 78.2h0M158.1 57.5h0M153.9 61.3h0M150.4 59.0h0M150.6 60.6h0M148.3 58.0h0M165.9 63.0h0M157.6 61.2h0M163.1 61.1h0M165.4 60.0h0M181.3 73.5h0M182.1 80.6h0M183.5 78.3h0M146.6 60.2h0M185.9 81.5h0M151.7 63.1h0M148.3 58.3h0M147.9 63.0h0M153.0 56.7h0M182.2 79.5h0M162.6 58.5h0M149.0 58.7h0M182.7 77.4h0M146.3 59.8h0M180.3 78.3h0M163.0 58.8h0M175.0 66.7h0M145.9 59.3h0M145.1 61.2h0M156.8 55.8h0M166.3 61.6h0M162.5 59.1h0M190.8 84.4h0M156.2 59.8h0M160.1 58.8h0M160.8 59.7h0M184.9 84.2h0M158.7 60.3h0M185.2 82.4h0M181.7 80.6h0M151.8 61.0h0M145.0 61.4h0M183.1 79.4h0M176.5 71.2h0M186.1 82.0h0M184.6 82.2h0M191.6 80.3h0M164.3 60.6h0M173.0 69.1h0M166.7 59.7h0M148.6 61.8h0M146.5 58.4h0M174.2 67.7h0M159.8 60.9h0M187.8 82.6h0M149.8 62.2h0M153.1 56.0h0M156.0 59.7h0M158.2 59.4h0M153.6 58.7h0M179.3 72.6h0M149.4 61.6h0M188.1 83.8h0M187.9 85.0h0M158.1 61.1h0M187.4 79.6h0M182.6 79.6h0M164.4 59.4h0M158.7 58.2h0M162.7 58.8h0M166.2 60.2h0M155.2 60.6h0M150.9 60.3h0M160.4 59.1h0M186.3 82.8h0M147.7 58.8h0M149.4 59.1h0M152.0 57.5h0M151.9 60.1h0M171.2 70.8h0M174.6 71.5h0M187.8 79.8h0M182.4 69.8h0M158.2 60.2h0M159.4 57.9h0M165.4 62.6h0M162.7 59.1h0M175.3 75.7h0M143.0 59.6h0M189.5 85.4h0M187.4 75.2h0M160.2 59.3h0M148.7 59.9h0M145.4 57.7h0M187.9 84.9h0M177.3 74.7h0M155.3 58.4h0M158.1 60.6h0M149.4 57.4h0M179.2 79.4h0M179.5 73.8h0M166.1 62.3h0M179.8 77.9h0M146.8 62.7h0M156.7 57.8h0M176.6 74.8h0M163.5 58.3h0M149.6 59.5h0" stroke="#6a2c12" stroke-width="1.45" stroke-linecap="round" fill="none"/>
<path d="M114.0 62.4h0M115.7 64.3h0M104.2 62.3h0M114.9 62.7h0M97.8 68.3h0M105.0 64.2h0M107.1 65.2h0M112.3 58.3h0M96.4 66.0h0M114.4 64.2h0M96.2 79.7h0M109.2 75.2h0M109.0 64.3h0M106.0 62.5h0M112.3 62.0h0M114.3 61.8h0M95.8 74.2h0M99.0 72.9h0M105.1 64.0h0M116.4 62.5h0M101.0 72.4h0M94.2 72.2h0M110.0 64.2h0M96.0 73.8h0M108.3 64.6h0M115.8 62.4h0M91.7 77.8h0M106.3 64.4h0M107.9 65.1h0M118.8 62.9h0M101.0 65.0h0M96.5 71.1h0M119.9 62.1h0M109.9 63.0h0M102.5 75.2h0M96.5 83.3h0M107.3 76.0h0M114.0 63.2h0M114.9 62.5h0M105.6 62.4h0M119.7 63.5h0M108.8 64.6h0M109.4 67.3h0M111.2 63.6h0M110.3 62.7h0M110.4 62.9h0M98.2 81.2h0M101.4 77.7h0M117.2 61.1h0M118.4 63.7h0M106.9 63.3h0M104.8 63.5h0M108.5 64.2h0M121.0 64.2h0M116.1 61.7h0M111.4 62.1h0M106.1 63.8h0M108.4 64.1h0M103.6 80.5h0M96.4 81.3h0M116.0 61.0h0M111.9 63.8h0M114.0 60.4h0M116.5 62.4h0M97.0 83.6h0M110.4 61.9h0M122.6 63.9h0M120.1 62.6h0M108.2 63.0h0M116.3 61.4h0M117.7 63.9h0M111.6 64.1h0M112.9 62.5h0M118.5 64.4h0M118.0 64.5h0M104.0 63.5h0M98.6 77.5h0M121.6 63.4h0M105.7 64.4h0M96.7 76.6h0M93.8 78.5h0M111.4 60.6h0M105.5 63.0h0M100.1 62.9h0M104.6 64.1h0M105.6 82.3h0M108.6 63.2h0M117.6 63.7h0M101.1 67.8h0M101.0 71.9h0M114.9 62.2h0M110.5 63.9h0M104.4 63.4h0M109.8 61.0h0M121.2 63.1h0M102.0 74.4h0M107.4 63.3h0M111.1 63.1h0M104.6 79.4h0M108.4 63.5h0M116.8 64.7h0M107.4 62.9h0M110.6 63.7h0M100.2 74.4h0M99.0 70.6h0M115.8 62.7h0M101.1 79.3h0M96.6 71.7h0M99.4 71.8h0M102.9 84.7h0M102.7 79.5h0M117.3 63.5h0M109.6 63.7h0M104.1 68.3h0M99.1 80.3h0M97.5 75.9h0M108.2 64.9h0M113.9 61.3h0M103.4 63.3h0M111.2 62.4h0M110.5 64.1h0M104.4 80.9h0M100.8 74.6h0M105.5 64.4h0M97.3 68.2h0M111.3 61.9h0M112.8 62.7h0M98.2 78.0h0M109.0 64.0h0M103.6 75.5h0M107.7 64.8h0M104.7 76.8h0M109.4 61.9h0M112.6 63.1h0M97.6 77.3h0M112.9 63.3h0M120.7 64.2h0M120.4 63.0h0M116.6 62.9h0M118.4 64.2h0M118.8 62.8h0M112.5 61.7h0" stroke="#2e6e3e" stroke-width="1.45" stroke-linecap="round" fill="none"/>
<path d="M182.4 75.3h0M161.8 62.3h0M157.4 56.6h0M166.4 63.0h0M175.7 73.3h0M158.2 58.5h0M154.6 60.7h0M183.5 84.0h0M165.9 59.4h0M158.0 62.8h0M160.0 62.8h0M152.6 62.1h0M180.1 73.1h0M172.3 72.6h0M172.4 70.1h0M179.2 75.1h0M151.3 61.0h0M156.3 59.1h0M178.7 77.7h0M161.3 59.1h0M176.1 76.1h0M177.4 78.6h0M176.8 71.7h0M187.6 80.5h0M150.3 57.7h0M152.1 61.7h0M175.0 73.4h0M149.4 60.3h0M190.9 83.5h0M186.8 80.0h0M183.3 76.8h0M187.1 84.5h0M177.8 72.4h0M187.9 76.0h0M181.6 75.3h0M188.2 82.1h0M152.5 56.0h0M189.5 81.2h0M147.8 62.4h0M185.5 82.4h0M153.9 56.4h0M189.4 87.0h0M151.9 61.6h0M155.6 61.5h0M152.0 56.6h0M160.8 58.0h0M156.3 55.8h0M182.6 75.7h0M180.5 73.4h0M152.7 60.2h0M192.0 84.9h0M152.5 63.1h0M177.6 73.6h0M155.2 60.7h0M171.6 72.0h0M154.0 63.1h0M175.6 73.9h0M182.1 73.9h0" stroke="#8a4a28" stroke-width="1.45" stroke-linecap="round" fill="none"/>
<rect x="37.5" y="72.6" width="28.0" height="5.200000000000003" fill="#fff" stroke="#8a8a8a" stroke-width="0.4"/>
<text x="51.5" y="76.8" font-size="4.6" text-anchor="middle" fill="#24323a" stroke="#24323a" stroke-width="0.12" textLength="25.8" lengthAdjust="spacingAndGlyphs">Memory B-C2</text>
<rect x="102" y="67.4" width="17" height="4.0" fill="#fff" stroke="#8a8a8a" stroke-width="0.4"/>
<text x="110.5" y="70.4" font-size="4.6" text-anchor="middle" fill="#24323a" stroke="#24323a" stroke-width="0.12" textLength="14.8" lengthAdjust="spacingAndGlyphs">GCB-C9</text>
<rect x="156.6" y="66.8" width="19.400000000000006" height="4.200000000000003" fill="#fff" stroke="#8a8a8a" stroke-width="0.4"/>
<text x="166.3" y="70.0" font-size="4.6" text-anchor="middle" fill="#24323a" stroke="#24323a" stroke-width="0.12" textLength="17.200000000000006" lengthAdjust="spacingAndGlyphs">Plasma-C7</text>
<rect x="173.8" y="108.8" width="11.599999999999994" height="4.799999999999997" fill="#fff" stroke="#8a8a8a" stroke-width="0.4"/>
<text x="179.60000000000002" y="112.6" font-size="4.6" text-anchor="middle" fill="#24323a" stroke="#24323a" stroke-width="0.12" textLength="9.399999999999995" lengthAdjust="spacingAndGlyphs">B-C3</text>
<rect x="81.9" y="105.6" width="9.399999999999991" height="4.700000000000003" fill="#fff" stroke="#8a8a8a" stroke-width="0.4"/>
<text x="86.6" y="109.3" font-size="4.6" text-anchor="middle" fill="#24323a" stroke="#24323a" stroke-width="0.12" textLength="7.199999999999991" lengthAdjust="spacingAndGlyphs">B-C6</text>
<rect x="77.9" y="112.3" width="10.599999999999994" height="4.700000000000003" fill="#fff" stroke="#8a8a8a" stroke-width="0.4"/>
<text x="83.2" y="116.0" font-size="4.6" text-anchor="middle" fill="#24323a" stroke="#24323a" stroke-width="0.12" textLength="8.399999999999995" lengthAdjust="spacingAndGlyphs">B-C5</text>
<rect x="102.9" y="120.8" width="10.399999999999991" height="5.0" fill="#fff" stroke="#8a8a8a" stroke-width="0.4"/>
<text x="108.1" y="124.8" font-size="4.6" text-anchor="middle" fill="#24323a" stroke="#24323a" stroke-width="0.12" textLength="8.199999999999992" lengthAdjust="spacingAndGlyphs">B-C4</text>
<rect x="63" y="152.7" width="21.599999999999994" height="5.0" fill="#fff" stroke="#8a8a8a" stroke-width="0.4"/>
<text x="73.8" y="156.7" font-size="4.6" text-anchor="middle" fill="#24323a" stroke="#24323a" stroke-width="0.12" textLength="19.399999999999995" lengthAdjust="spacingAndGlyphs">Naive B-C1</text>
<rect x="122.3" y="155.6" width="10.700000000000003" height="4.599999999999994" fill="#fff" stroke="#8a8a8a" stroke-width="0.4"/>
<text x="127.65" y="159.2" font-size="4.6" text-anchor="middle" fill="#24323a" stroke="#24323a" stroke-width="0.12" textLength="8.500000000000004" lengthAdjust="spacingAndGlyphs">B-C0</text>
<circle cx="22.5" cy="207.2" r="1.25" fill="#4a90a8"/>
<text x="26.8" y="209.1" font-size="5.85" text-anchor="start" fill="#222" stroke="#222" stroke-width="0.2">Naive B-C1</text>
<circle cx="65" cy="207.2" r="1.25" fill="#6cb8a8"/>
<text x="69.5" y="209.1" font-size="5.85" text-anchor="start" fill="#222" stroke="#222" stroke-width="0.2">B-C3</text>
<circle cx="91.3" cy="207.2" r="1.25" fill="#2a2a5c"/>
<text x="95.8" y="209.1" font-size="5.85" text-anchor="start" fill="#222" stroke="#222" stroke-width="0.2">B-C4</text>
<circle cx="117" cy="207.2" r="1.25" fill="#c02c2c"/>
<text x="121.8" y="209.1" font-size="5.85" text-anchor="start" fill="#222" stroke="#222" stroke-width="0.2">Memory B-C2</text>
<circle cx="166.3" cy="207.2" r="1.25" fill="#5a5050"/>
<text x="170.8" y="209.1" font-size="5.85" text-anchor="start" fill="#222" stroke="#222" stroke-width="0.2">Plasma-C7</text>
<circle cx="22.5" cy="217.2" r="1.25" fill="#a8bc88"/>
<text x="26.8" y="219.1" font-size="5.85" text-anchor="start" fill="#222" stroke="#222" stroke-width="0.2">B-C0</text>
<circle cx="65" cy="217.2" r="1.25" fill="#e08a6a"/>
<text x="69.5" y="219.1" font-size="5.85" text-anchor="start" fill="#222" stroke="#222" stroke-width="0.2">B-C5</text>
<circle cx="91.3" cy="217.2" r="1.25" fill="#8ab4a4"/>
<text x="95.8" y="219.1" font-size="5.85" text-anchor="start" fill="#222" stroke="#222" stroke-width="0.2">B-C6</text>
<circle cx="117" cy="217.2" r="1.25" fill="#3a5a4a"/>
<text x="121.8" y="219.1" font-size="5.85" text-anchor="start" fill="#222" stroke="#222" stroke-width="0.2">GCB-C9</text>
<line x1="330.3" y1="21.9" x2="330.3" y2="205.6" stroke="#111" stroke-width="0.9"/>
<line x1="329.85" y1="205.2" x2="401.4" y2="205.2" stroke="#111" stroke-width="0.9"/>
<line x1="327.7" y1="25.4" x2="330.3" y2="25.4" stroke="#111" stroke-width="0.75"/>
<text x="323.3" y="27.4" font-size="5.8" text-anchor="end" fill="#2a2a2a" font-style="italic" stroke="#2a2a2a" stroke-width="0.06">PRDM1</text>
<line x1="327.7" y1="31.106451612903225" x2="330.3" y2="31.106451612903225" stroke="#111" stroke-width="0.75"/>
<text x="323.3" y="33.10645161290323" font-size="5.8" text-anchor="end" fill="#2a2a2a" font-style="italic" stroke="#2a2a2a" stroke-width="0.06">SDC1</text>
<line x1="327.7" y1="36.81290322580645" x2="330.3" y2="36.81290322580645" stroke="#111" stroke-width="0.75"/>
<text x="323.3" y="38.81290322580645" font-size="5.8" text-anchor="end" fill="#2a2a2a" font-style="italic" stroke="#2a2a2a" stroke-width="0.06">MKI67</text>
<line x1="327.7" y1="42.519354838709674" x2="330.3" y2="42.519354838709674" stroke="#111" stroke-width="0.75"/>
<text x="323.3" y="44.519354838709674" font-size="5.8" text-anchor="end" fill="#2a2a2a" font-style="italic" stroke="#2a2a2a" stroke-width="0.06">BCL6</text>
<line x1="327.7" y1="48.225806451612904" x2="330.3" y2="48.225806451612904" stroke="#111" stroke-width="0.75"/>
<text x="323.3" y="50.225806451612904" font-size="5.8" text-anchor="end" fill="#2a2a2a" font-style="italic" stroke="#2a2a2a" stroke-width="0.06">IL2RA</text>
<line x1="327.7" y1="53.932258064516134" x2="330.3" y2="53.932258064516134" stroke="#111" stroke-width="0.75"/>
<text x="323.3" y="55.932258064516134" font-size="5.8" text-anchor="end" fill="#2a2a2a" font-style="italic" stroke="#2a2a2a" stroke-width="0.06">CD1D</text>
<line x1="327.7" y1="59.63870967741936" x2="330.3" y2="59.63870967741936" stroke="#111" stroke-width="0.75"/>
<text x="323.3" y="61.63870967741936" font-size="5.8" text-anchor="end" fill="#2a2a2a" font-style="italic" stroke="#2a2a2a" stroke-width="0.06">CXCR3</text>
<line x1="327.7" y1="65.34516129032258" x2="330.3" y2="65.34516129032258" stroke="#111" stroke-width="0.75"/>
<text x="323.3" y="67.34516129032258" font-size="5.8" text-anchor="end" fill="#2a2a2a" font-style="italic" stroke="#2a2a2a" stroke-width="0.06">ITGAX</text>
<line x1="327.7" y1="71.05161290322582" x2="330.3" y2="71.05161290322582" stroke="#111" stroke-width="0.75"/>
<text x="323.3" y="73.05161290322582" font-size="5.8" text-anchor="end" fill="#2a2a2a" font-style="italic" stroke="#2a2a2a" stroke-width="0.06">ITGAM</text>
<line x1="327.7" y1="76.75806451612902" x2="330.3" y2="76.75806451612902" stroke="#111" stroke-width="0.75"/>
<text x="323.3" y="78.75806451612902" font-size="5.8" text-anchor="end" fill="#2a2a2a" font-style="italic" stroke="#2a2a2a" stroke-width="0.06">IGHA2</text>
<line x1="327.7" y1="82.46451612903226" x2="330.3" y2="82.46451612903226" stroke="#111" stroke-width="0.75"/>
<text x="323.3" y="84.46451612903226" font-size="5.8" text-anchor="end" fill="#2a2a2a" font-style="italic" stroke="#2a2a2a" stroke-width="0.06">IGHG1</text>
<line x1="327.7" y1="88.1709677419355" x2="330.3" y2="88.1709677419355" stroke="#111" stroke-width="0.75"/>
<text x="323.3" y="90.1709677419355" font-size="5.8" text-anchor="end" fill="#2a2a2a" font-style="italic" stroke="#2a2a2a" stroke-width="0.06">TNFRSF13B</text>
<line x1="327.7" y1="93.87741935483871" x2="330.3" y2="93.87741935483871" stroke="#111" stroke-width="0.75"/>
<text x="323.3" y="95.87741935483871" font-size="5.8" text-anchor="end" fill="#2a2a2a" font-style="italic" stroke="#2a2a2a" stroke-width="0.06">CD27</text>
<line x1="327.7" y1="99.58387096774194" x2="330.3" y2="99.58387096774194" stroke="#111" stroke-width="0.75"/>
<text x="323.3" y="101.58387096774194" font-size="5.8" text-anchor="end" fill="#2a2a2a" font-style="italic" stroke="#2a2a2a" stroke-width="0.06">TBX21</text>
<line x1="327.7" y1="105.29032258064518" x2="330.3" y2="105.29032258064518" stroke="#111" stroke-width="0.75"/>
<text x="323.3" y="107.29032258064518" font-size="5.8" text-anchor="end" fill="#2a2a2a" font-style="italic" stroke="#2a2a2a" stroke-width="0.06">TNFRSF4</text>
<line x1="327.7" y1="110.99677419354839" x2="330.3" y2="110.99677419354839" stroke="#111" stroke-width="0.75"/>
<text x="323.3" y="112.99677419354839" font-size="5.8" text-anchor="end" fill="#2a2a2a" font-style="italic" stroke="#2a2a2a" stroke-width="0.06">ICOS</text>
<line x1="327.7" y1="116.70322580645163" x2="330.3" y2="116.70322580645163" stroke="#111" stroke-width="0.75"/>
<text x="323.3" y="118.70322580645163" font-size="5.8" text-anchor="end" fill="#2a2a2a" font-style="italic" stroke="#2a2a2a" stroke-width="0.06">CD5</text>
<line x1="327.7" y1="122.40967741935484" x2="330.3" y2="122.40967741935484" stroke="#111" stroke-width="0.75"/>
<text x="323.3" y="124.40967741935484" font-size="5.8" text-anchor="end" fill="#2a2a2a" font-style="italic" stroke="#2a2a2a" stroke-width="0.06">CXCR4</text>
<line x1="327.7" y1="128.11612903225807" x2="330.3" y2="128.11612903225807" stroke="#111" stroke-width="0.75"/>
<text x="323.3" y="130.11612903225807" font-size="5.8" text-anchor="end" fill="#2a2a2a" font-style="italic" stroke="#2a2a2a" stroke-width="0.06">IL13RA1</text>
<line x1="327.7" y1="133.8225806451613" x2="330.3" y2="133.8225806451613" stroke="#111" stroke-width="0.75"/>
<text x="323.3" y="135.8225806451613" font-size="5.8" text-anchor="end" fill="#2a2a2a" font-style="italic" stroke="#2a2a2a" stroke-width="0.06">IL4I1</text>
<line x1="327.7" y1="139.52903225806452" x2="330.3" y2="139.52903225806452" stroke="#111" stroke-width="0.75"/>
<text x="323.3" y="141.52903225806452" font-size="5.8" text-anchor="end" fill="#2a2a2a" font-style="italic" stroke="#2a2a2a" stroke-width="0.06">EBI3</text>
<line x1="327.7" y1="145.23548387096776" x2="330.3" y2="145.23548387096776" stroke="#111" stroke-width="0.75"/>
<text x="323.3" y="147.23548387096776" font-size="5.8" text-anchor="end" fill="#2a2a2a" font-style="italic" stroke="#2a2a2a" stroke-width="0.06">PAX5</text>
<line x1="327.7" y1="150.941935483871" x2="330.3" y2="150.941935483871" stroke="#111" stroke-width="0.75"/>
<text x="323.3" y="152.941935483871" font-size="5.8" text-anchor="end" fill="#2a2a2a" font-style="italic" stroke="#2a2a2a" stroke-width="0.06">CD22</text>
<line x1="327.7" y1="156.6483870967742" x2="330.3" y2="156.6483870967742" stroke="#111" stroke-width="0.75"/>
<text x="323.3" y="158.6483870967742" font-size="5.8" text-anchor="end" fill="#2a2a2a" font-style="italic" stroke="#2a2a2a" stroke-width="0.06">FOS</text>
<line x1="327.7" y1="162.35483870967744" x2="330.3" y2="162.35483870967744" stroke="#111" stroke-width="0.75"/>
<text x="323.3" y="164.35483870967744" font-size="5.8" text-anchor="end" fill="#2a2a2a" font-style="italic" stroke="#2a2a2a" stroke-width="0.06">CD69</text>
<line x1="327.7" y1="168.06129032258067" x2="330.3" y2="168.06129032258067" stroke="#111" stroke-width="0.75"/>
<text x="323.3" y="170.06129032258067" font-size="5.8" text-anchor="end" fill="#2a2a2a" font-style="italic" stroke="#2a2a2a" stroke-width="0.06">LGALS9</text>
<line x1="327.7" y1="173.76774193548388" x2="330.3" y2="173.76774193548388" stroke="#111" stroke-width="0.75"/>
<text x="323.3" y="175.76774193548388" font-size="5.8" text-anchor="end" fill="#2a2a2a" font-style="italic" stroke="#2a2a2a" stroke-width="0.06">CCR6</text>
<line x1="327.7" y1="179.47419354838712" x2="330.3" y2="179.47419354838712" stroke="#111" stroke-width="0.75"/>
<text x="323.3" y="181.47419354838712" font-size="5.8" text-anchor="end" fill="#2a2a2a" font-style="italic" stroke="#2a2a2a" stroke-width="0.06">CXCR5</text>
<line x1="327.7" y1="185.18064516129036" x2="330.3" y2="185.18064516129036" stroke="#111" stroke-width="0.75"/>
<text x="323.3" y="187.18064516129036" font-size="5.8" text-anchor="end" fill="#2a2a2a" font-style="italic" stroke="#2a2a2a" stroke-width="0.06">SELL</text>
<line x1="327.7" y1="190.88709677419357" x2="330.3" y2="190.88709677419357" stroke="#111" stroke-width="0.75"/>
<text x="323.3" y="192.88709677419357" font-size="5.8" text-anchor="end" fill="#2a2a2a" font-style="italic" stroke="#2a2a2a" stroke-width="0.06">IGHM</text>
<line x1="327.7" y1="196.5935483870968" x2="330.3" y2="196.5935483870968" stroke="#111" stroke-width="0.75"/>
<text x="323.3" y="198.5935483870968" font-size="5.8" text-anchor="end" fill="#2a2a2a" font-style="italic" stroke="#2a2a2a" stroke-width="0.06">IGHD</text>
<line x1="327.7" y1="202.3" x2="330.3" y2="202.3" stroke="#111" stroke-width="0.75"/>
<text x="323.3" y="204.3" font-size="5.8" text-anchor="end" fill="#2a2a2a" font-style="italic" stroke="#2a2a2a" stroke-width="0.06">IL4R</text>
<line x1="335.0" y1="205.2" x2="335.0" y2="208.39999999999998" stroke="#111" stroke-width="0.75"/>
<text x="337.2" y="211.4" font-size="6.1" text-anchor="end" fill="#2a2a2a" stroke="#2a2a2a" stroke-width="0.2" transform="rotate(-90 337.2 211.4)">Naive B-C1</text>
<line x1="342.6875" y1="205.2" x2="342.6875" y2="208.39999999999998" stroke="#111" stroke-width="0.75"/>
<text x="344.8875" y="211.4" font-size="6.1" text-anchor="end" fill="#2a2a2a" stroke="#2a2a2a" stroke-width="0.2" transform="rotate(-90 344.8875 211.4)">B-C0</text>
<line x1="350.375" y1="205.2" x2="350.375" y2="208.39999999999998" stroke="#111" stroke-width="0.75"/>
<text x="352.575" y="211.4" font-size="6.1" text-anchor="end" fill="#2a2a2a" stroke="#2a2a2a" stroke-width="0.2" transform="rotate(-90 352.575 211.4)">B-C3</text>
<line x1="358.0625" y1="205.2" x2="358.0625" y2="208.39999999999998" stroke="#111" stroke-width="0.75"/>
<text x="360.2625" y="211.4" font-size="6.1" text-anchor="end" fill="#2a2a2a" stroke="#2a2a2a" stroke-width="0.2" transform="rotate(-90 360.2625 211.4)">B-C5</text>
<line x1="365.75" y1="205.2" x2="365.75" y2="208.39999999999998" stroke="#111" stroke-width="0.75"/>
<text x="367.95" y="211.4" font-size="6.1" text-anchor="end" fill="#2a2a2a" stroke="#2a2a2a" stroke-width="0.2" transform="rotate(-90 367.95 211.4)">B-C4</text>
<line x1="373.4375" y1="205.2" x2="373.4375" y2="208.39999999999998" stroke="#111" stroke-width="0.75"/>
<text x="375.6375" y="211.4" font-size="6.1" text-anchor="end" fill="#2a2a2a" stroke="#2a2a2a" stroke-width="0.2" transform="rotate(-90 375.6375 211.4)">B-C6</text>
<line x1="381.125" y1="205.2" x2="381.125" y2="208.39999999999998" stroke="#111" stroke-width="0.75"/>
<text x="383.325" y="211.4" font-size="6.1" text-anchor="end" fill="#2a2a2a" stroke="#2a2a2a" stroke-width="0.2" transform="rotate(-90 383.325 211.4)">Memory B-C2</text>
<line x1="388.8125" y1="205.2" x2="388.8125" y2="208.39999999999998" stroke="#111" stroke-width="0.75"/>
<text x="391.0125" y="211.4" font-size="6.1" text-anchor="end" fill="#2a2a2a" stroke="#2a2a2a" stroke-width="0.2" transform="rotate(-90 391.0125 211.4)">GCB-C9</text>
<line x1="396.5" y1="205.2" x2="396.5" y2="208.39999999999998" stroke="#111" stroke-width="0.75"/>
<text x="398.7" y="211.4" font-size="6.1" text-anchor="end" fill="#2a2a2a" stroke="#2a2a2a" stroke-width="0.2" transform="rotate(-90 398.7 211.4)">Plasma-C7</text>
<circle cx="335.00" cy="25.40" r="0.81" fill="#e2e2e2" stroke="#a8a8a8" stroke-opacity="0.6" stroke-width="0.35"/>
<circle cx="342.69" cy="25.40" r="0.81" fill="#e2e2e2" stroke="#a8a8a8" stroke-opacity="0.6" stroke-width="0.35"/>
<circle cx="350.38" cy="25.40" r="0.81" fill="#e2e2e2" stroke="#a8a8a8" stroke-opacity="0.6" stroke-width="0.35"/>
<circle cx="358.06" cy="25.40" r="0.81" fill="#e2e2e2" stroke="#a8a8a8" stroke-opacity="0.6" stroke-width="0.35"/>
<circle cx="365.75" cy="25.40" r="0.81" fill="#e2e2e2" stroke="#a8a8a8" stroke-opacity="0.6" stroke-width="0.35"/>
<circle cx="373.44" cy="25.40" r="0.81" fill="#e2e2e2" stroke="#a8a8a8" stroke-opacity="0.6" stroke-width="0.35"/>
<circle cx="381.12" cy="25.40" r="0.97" fill="#d6d6d6" stroke="#a8a8a8" stroke-opacity="0.6" stroke-width="0.35"/>
<circle cx="388.81" cy="25.40" r="0.97" fill="#d6d6d6" stroke="#a8a8a8" stroke-opacity="0.6" stroke-width="0.35"/>
<circle cx="396.50" cy="25.40" r="1.40" fill="#3a0c10" stroke="#a8a8a8" stroke-opacity="0.6" stroke-width="0.35"/>
<circle cx="335.00" cy="31.11" r="0.81" fill="#e2e2e2" stroke="#a8a8a8" stroke-opacity="0.6" stroke-width="0.35"/>
<circle cx="342.69" cy="31.11" r="0.81" fill="#e2e2e2" stroke="#a8a8a8" stroke-opacity="0.6" stroke-width="0.35"/>
<circle cx="350.38" cy="31.11" r="0.81" fill="#e2e2e2" stroke="#a8a8a8" stroke-opacity="0.6" stroke-width="0.35"/>
<circle cx="358.06" cy="31.11" r="0.81" fill="#e2e2e2" stroke="#a8a8a8" stroke-opacity="0.6" stroke-width="0.35"/>
<circle cx="365.75" cy="31.11" r="0.81" fill="#e2e2e2" stroke="#a8a8a8" stroke-opacity="0.6" stroke-width="0.35"/>
<circle cx="373.44" cy="31.11" r="0.81" fill="#e2e2e2" stroke="#a8a8a8" stroke-opacity="0.6" stroke-width="0.35"/>
<circle cx="381.12" cy="31.11" r="0.81" fill="#e2e2e2" stroke="#a8a8a8" stroke-opacity="0.6" stroke-width="0.35"/>
<circle cx="388.81" cy="31.11" r="0.81" fill="#e2e2e2" stroke="#a8a8a8" stroke-opacity="0.6" stroke-width="0.35"/>
<circle cx="396.50" cy="31.11" r="1.08" fill="#4a0c10" stroke="#a8a8a8" stroke-opacity="0.6" stroke-width="0.35"/>
<circle cx="335.00" cy="36.81" r="0.81" fill="#e2e2e2" stroke="#a8a8a8" stroke-opacity="0.6" stroke-width="0.35"/>
<circle cx="342.69" cy="36.81" r="0.81" fill="#e2e2e2" stroke="#a8a8a8" stroke-opacity="0.6" stroke-width="0.35"/>
<circle cx="350.38" cy="36.81" r="0.81" fill="#e2e2e2" stroke="#a8a8a8" stroke-opacity="0.6" stroke-width="0.35"/>
<circle cx="358.06" cy="36.81" r="0.81" fill="#e2e2e2" stroke="#a8a8a8" stroke-opacity="0.6" stroke-width="0.35"/>
<circle cx="365.75" cy="36.81" r="0.81" fill="#e2e2e2" stroke="#a8a8a8" stroke-opacity="0.6" stroke-width="0.35"/>
<circle cx="373.44" cy="36.81" r="0.81" fill="#e2e2e2" stroke="#a8a8a8" stroke-opacity="0.6" stroke-width="0.35"/>
<circle cx="381.12" cy="36.81" r="0.81" fill="#e2e2e2" stroke="#a8a8a8" stroke-opacity="0.6" stroke-width="0.35"/>
<circle cx="388.81" cy="36.81" r="1.08" fill="#5a1a1a" stroke="#a8a8a8" stroke-opacity="0.6" stroke-width="0.35"/>
<circle cx="396.50" cy="36.81" r="0.86" fill="#d8ecec" stroke="#a8a8a8" stroke-opacity="0.6" stroke-width="0.35"/>
<circle cx="335.00" cy="42.52" r="1.19" fill="#dadada" stroke="#a8a8a8" stroke-opacity="0.6" stroke-width="0.35"/>
<circle cx="342.69" cy="42.52" r="1.19" fill="#dadada" stroke="#a8a8a8" stroke-opacity="0.6" stroke-width="0.35"/>
<circle cx="350.38" cy="42.52" r="1.19" fill="#dadada" stroke="#a8a8a8" stroke-opacity="0.6" stroke-width="0.35"/>
<circle cx="358.06" cy="42.52" r="1.19" fill="#dadada" stroke="#a8a8a8" stroke-opacity="0.6" stroke-width="0.35"/>
<circle cx="365.75" cy="42.52" r="1.19" fill="#dadada" stroke="#a8a8a8" stroke-opacity="0.6" stroke-width="0.35"/>
<circle cx="373.44" cy="42.52" r="1.19" fill="#dadada" stroke="#a8a8a8" stroke-opacity="0.6" stroke-width="0.35"/>
<circle cx="381.12" cy="42.52" r="0.81" fill="#e2e2e2" stroke="#a8a8a8" stroke-opacity="0.6" stroke-width="0.35"/>
<circle cx="388.81" cy="42.52" r="2.16" fill="#5a0c0c" stroke="#a8a8a8" stroke-opacity="0.6" stroke-width="0.35"/>
<circle cx="396.50" cy="42.52" r="1.08" fill="#e0d8d8" stroke="#a8a8a8" stroke-opacity="0.6" stroke-width="0.35"/>
<circle cx="335.00" cy="48.23" r="0.81" fill="#e2e2e2" stroke="#a8a8a8" stroke-opacity="0.6" stroke-width="0.35"/>
<circle cx="342.69" cy="48.23" r="0.81" fill="#e2e2e2" stroke="#a8a8a8" stroke-opacity="0.6" stroke-width="0.35"/>
<circle cx="350.38" cy="48.23" r="0.81" fill="#e2e2e2" stroke="#a8a8a8" stroke-opacity="0.6" stroke-width="0.35"/>
<circle cx="358.06" cy="48.23" r="0.81" fill="#e2e2e2" stroke="#a8a8a8" stroke-opacity="0.6" stroke-width="0.35"/>
<circle cx="365.75" cy="48.23" r="0.81" fill="#e2e2e2" stroke="#a8a8a8" stroke-opacity="0.6" stroke-width="0.35"/>
<circle cx="373.44" cy="48.23" r="0.81" fill="#e2e2e2" stroke="#a8a8a8" stroke-opacity="0.6" stroke-width="0.35"/>
<circle cx="381.12" cy="48.23" r="1.19" fill="#2a0c0c" stroke="#a8a8a8" stroke-opacity="0.6" stroke-width="0.35"/>
<circle cx="388.81" cy="48.23" r="0.81" fill="#e2e2e2" stroke="#a8a8a8" stroke-opacity="0.6" stroke-width="0.35"/>
<circle cx="396.50" cy="48.23" r="0.81" fill="#e2e2e2" stroke="#a8a8a8" stroke-opacity="0.6" stroke-width="0.35"/>
<circle cx="335.00" cy="53.93" r="1.08" fill="#909090" stroke="#a8a8a8" stroke-opacity="0.6" stroke-width="0.35"/>
<circle cx="342.69" cy="53.93" r="1.03" fill="#dadada" stroke="#a8a8a8" stroke-opacity="0.6" stroke-width="0.35"/>
<circle cx="350.38" cy="53.93" r="1.03" fill="#dadada" stroke="#a8a8a8" stroke-opacity="0.6" stroke-width="0.35"/>
<circle cx="358.06" cy="53.93" r="1.03" fill="#dadada" stroke="#a8a8a8" stroke-opacity="0.6" stroke-width="0.35"/>
<circle cx="365.75" cy="53.93" r="1.03" fill="#dadada" stroke="#a8a8a8" stroke-opacity="0.6" stroke-width="0.35"/>
<circle cx="373.44" cy="53.93" r="1.03" fill="#dadada" stroke="#a8a8a8" stroke-opacity="0.6" stroke-width="0.35"/>
<circle cx="381.12" cy="53.93" r="1.08" fill="#c08080" stroke="#a8a8a8" stroke-opacity="0.6" stroke-width="0.35"/>
<circle cx="388.81" cy="53.93" r="0.81" fill="#e2e2e2" stroke="#a8a8a8" stroke-opacity="0.6" stroke-width="0.35"/>
<circle cx="396.50" cy="53.93" r="0.81" fill="#e2e2e2" stroke="#a8a8a8" stroke-opacity="0.6" stroke-width="0.35"/>
<circle cx="335.00" cy="59.64" r="0.81" fill="#e2e2e2" stroke="#a8a8a8" stroke-opacity="0.6" stroke-width="0.35"/>
<circle cx="342.69" cy="59.64" r="0.81" fill="#e2e2e2" stroke="#a8a8a8" stroke-opacity="0.6" stroke-width="0.35"/>
<circle cx="350.38" cy="59.64" r="0.81" fill="#e2e2e2" stroke="#a8a8a8" stroke-opacity="0.6" stroke-width="0.35"/>
<circle cx="358.06" cy="59.64" r="0.81" fill="#e2e2e2" stroke="#a8a8a8" stroke-opacity="0.6" stroke-width="0.35"/>
<circle cx="365.75" cy="59.64" r="0.81" fill="#e2e2e2" stroke="#a8a8a8" stroke-opacity="0.6" stroke-width="0.35"/>
<circle cx="373.44" cy="59.64" r="0.81" fill="#e2e2e2" stroke="#a8a8a8" stroke-opacity="0.6" stroke-width="0.35"/>
<circle cx="381.12" cy="59.64" r="1.30" fill="#2a0a0a" stroke="#a8a8a8" stroke-opacity="0.6" stroke-width="0.35"/>
<circle cx="388.81" cy="59.64" r="0.81" fill="#e2e2e2" stroke="#a8a8a8" stroke-opacity="0.6" stroke-width="0.35"/>
<circle cx="396.50" cy="59.64" r="0.81" fill="#e2e2e2" stroke="#a8a8a8" stroke-opacity="0.6" stroke-width="0.35"/>
<circle cx="335.00" cy="65.35" r="0.81" fill="#e2e2e2" stroke="#a8a8a8" stroke-opacity="0.6" stroke-width="0.35"/>
<circle cx="342.69" cy="65.35" r="0.81" fill="#e2e2e2" stroke="#a8a8a8" stroke-opacity="0.6" stroke-width="0.35"/>
<circle cx="350.38" cy="65.35" r="0.81" fill="#e2e2e2" stroke="#a8a8a8" stroke-opacity="0.6" stroke-width="0.35"/>
<circle cx="358.06" cy="65.35" r="0.81" fill="#e2e2e2" stroke="#a8a8a8" stroke-opacity="0.6" stroke-width="0.35"/>
<circle cx="365.75" cy="65.35" r="0.81" fill="#e2e2e2" stroke="#a8a8a8" stroke-opacity="0.6" stroke-width="0.35"/>
<circle cx="373.44" cy="65.35" r="0.81" fill="#e2e2e2" stroke="#a8a8a8" stroke-opacity="0.6" stroke-width="0.35"/>
<circle cx="381.12" cy="65.35" r="0.86" fill="#e0c0c0" stroke="#a8a8a8" stroke-opacity="0.6" stroke-width="0.35"/>
<circle cx="388.81" cy="65.35" r="1.08" fill="#c8c8c8" stroke="#a8a8a8" stroke-opacity="0.6" stroke-width="0.35"/>
<circle cx="396.50" cy="65.35" r="0.81" fill="#e2e2e2" stroke="#a8a8a8" stroke-opacity="0.6" stroke-width="0.35"/>
<circle cx="335.00" cy="71.05" r="0.81" fill="#e2e2e2" stroke="#a8a8a8" stroke-opacity="0.6" stroke-width="0.35"/>
<circle cx="342.69" cy="71.05" r="0.81" fill="#e2e2e2" stroke="#a8a8a8" stroke-opacity="0.6" stroke-width="0.35"/>
<circle cx="350.38" cy="71.05" r="0.81" fill="#e2e2e2" stroke="#a8a8a8" stroke-opacity="0.6" stroke-width="0.35"/>
<circle cx="358.06" cy="71.05" r="0.81" fill="#e2e2e2" stroke="#a8a8a8" stroke-opacity="0.6" stroke-width="0.35"/>
<circle cx="365.75" cy="71.05" r="0.81" fill="#e2e2e2" stroke="#a8a8a8" stroke-opacity="0.6" stroke-width="0.35"/>
<circle cx="373.44" cy="71.05" r="0.81" fill="#e2e2e2" stroke="#a8a8a8" stroke-opacity="0.6" stroke-width="0.35"/>
<circle cx="381.12" cy="71.05" r="1.19" fill="#3a0e0e" stroke="#a8a8a8" stroke-opacity="0.6" stroke-width="0.35"/>
<circle cx="388.81" cy="71.05" r="0.81" fill="#e2e2e2" stroke="#a8a8a8" stroke-opacity="0.6" stroke-width="0.35"/>
<circle cx="396.50" cy="71.05" r="0.81" fill="#e2e2e2" stroke="#a8a8a8" stroke-opacity="0.6" stroke-width="0.35"/>
<circle cx="335.00" cy="76.76" r="0.81" fill="#e2e2e2" stroke="#a8a8a8" stroke-opacity="0.6" stroke-width="0.35"/>
<circle cx="342.69" cy="76.76" r="0.81" fill="#e2e2e2" stroke="#a8a8a8" stroke-opacity="0.6" stroke-width="0.35"/>
<circle cx="350.38" cy="76.76" r="0.81" fill="#e2e2e2" stroke="#a8a8a8" stroke-opacity="0.6" stroke-width="0.35"/>
<circle cx="358.06" cy="76.76" r="0.81" fill="#e2e2e2" stroke="#a8a8a8" stroke-opacity="0.6" stroke-width="0.35"/>
<circle cx="365.75" cy="76.76" r="0.81" fill="#e2e2e2" stroke="#a8a8a8" stroke-opacity="0.6" stroke-width="0.35"/>
<circle cx="373.44" cy="76.76" r="0.81" fill="#e2e2e2" stroke="#a8a8a8" stroke-opacity="0.6" stroke-width="0.35"/>
<circle cx="381.12" cy="76.76" r="1.19" fill="#4a1212" stroke="#a8a8a8" stroke-opacity="0.6" stroke-width="0.35"/>
<circle cx="388.81" cy="76.76" r="0.81" fill="#e2e2e2" stroke="#a8a8a8" stroke-opacity="0.6" stroke-width="0.35"/>
<circle cx="396.50" cy="76.76" r="0.81" fill="#e2e2e2" stroke="#a8a8a8" stroke-opacity="0.6" stroke-width="0.35"/>
<circle cx="335.00" cy="82.46" r="1.19" fill="#dadada" stroke="#a8a8a8" stroke-opacity="0.6" stroke-width="0.35"/>
<circle cx="342.69" cy="82.46" r="1.19" fill="#dadada" stroke="#a8a8a8" stroke-opacity="0.6" stroke-width="0.35"/>
<circle cx="350.38" cy="82.46" r="1.19" fill="#dadada" stroke="#a8a8a8" stroke-opacity="0.6" stroke-width="0.35"/>
<circle cx="358.06" cy="82.46" r="1.19" fill="#dadada" stroke="#a8a8a8" stroke-opacity="0.6" stroke-width="0.35"/>
<circle cx="365.75" cy="82.46" r="1.19" fill="#dadada" stroke="#a8a8a8" stroke-opacity="0.6" stroke-width="0.35"/>
<circle cx="373.44" cy="82.46" r="0.86" fill="#d0eaea" stroke="#a8a8a8" stroke-opacity="0.6" stroke-width="0.35"/>
<circle cx="381.12" cy="82.46" r="1.40" fill="#f4dede" stroke="#a8a8a8" stroke-opacity="0.6" stroke-width="0.35"/>
<circle cx="388.81" cy="82.46" r="1.84" fill="#e4eeec" stroke="#a8a8a8" stroke-opacity="0.6" stroke-width="0.35"/>
<circle cx="396.50" cy="82.46" r="1.51" fill="#3a0a0c" stroke="#a8a8a8" stroke-opacity="0.6" stroke-width="0.35"/>
<circle cx="335.00" cy="88.17" r="1.19" fill="#dadada" stroke="#a8a8a8" stroke-opacity="0.6" stroke-width="0.35"/>
<circle cx="342.69" cy="88.17" r="1.19" fill="#dadada" stroke="#a8a8a8" stroke-opacity="0.6" stroke-width="0.35"/>
<circle cx="350.38" cy="88.17" r="1.19" fill="#dadada" stroke="#a8a8a8" stroke-opacity="0.6" stroke-width="0.35"/>
<circle cx="358.06" cy="88.17" r="1.19" fill="#dadada" stroke="#a8a8a8" stroke-opacity="0.6" stroke-width="0.35"/>
<circle cx="365.75" cy="88.17" r="1.19" fill="#dadada" stroke="#a8a8a8" stroke-opacity="0.6" stroke-width="0.35"/>
<circle cx="373.44" cy="88.17" r="0.81" fill="#e2e2e2" stroke="#a8a8a8" stroke-opacity="0.6" stroke-width="0.35"/>
<circle cx="381.12" cy="88.17" r="1.62" fill="#300808" stroke="#a8a8a8" stroke-opacity="0.6" stroke-width="0.35"/>
<circle cx="388.81" cy="88.17" r="1.08" fill="#dddddd" stroke="#a8a8a8" stroke-opacity="0.6" stroke-width="0.35"/>
<circle cx="396.50" cy="88.17" r="0.81" fill="#e2e2e2" stroke="#a8a8a8" stroke-opacity="0.6" stroke-width="0.35"/>
<circle cx="335.00" cy="93.88" r="1.19" fill="#dadada" stroke="#a8a8a8" stroke-opacity="0.6" stroke-width="0.35"/>
<circle cx="342.69" cy="93.88" r="1.19" fill="#dadada" stroke="#a8a8a8" stroke-opacity="0.6" stroke-width="0.35"/>
<circle cx="350.38" cy="93.88" r="1.19" fill="#dadada" stroke="#a8a8a8" stroke-opacity="0.6" stroke-width="0.35"/>
<circle cx="358.06" cy="93.88" r="1.19" fill="#dadada" stroke="#a8a8a8" stroke-opacity="0.6" stroke-width="0.35"/>
<circle cx="365.75" cy="93.88" r="1.19" fill="#dadada" stroke="#a8a8a8" stroke-opacity="0.6" stroke-width="0.35"/>
<circle cx="373.44" cy="93.88" r="0.81" fill="#e2e2e2" stroke="#a8a8a8" stroke-opacity="0.6" stroke-width="0.35"/>
<circle cx="381.12" cy="93.88" r="1.84" fill="#7a2020" stroke="#a8a8a8" stroke-opacity="0.6" stroke-width="0.35"/>
<circle cx="388.81" cy="93.88" r="1.62" fill="#eccaca" stroke="#a8a8a8" stroke-opacity="0.6" stroke-width="0.35"/>
<circle cx="396.50" cy="93.88" r="0.97" fill="#504040" stroke="#a8a8a8" stroke-opacity="0.6" stroke-width="0.35"/>
<circle cx="335.00" cy="99.58" r="0.81" fill="#e2e2e2" stroke="#a8a8a8" stroke-opacity="0.6" stroke-width="0.35"/>
<circle cx="342.69" cy="99.58" r="0.81" fill="#e2e2e2" stroke="#a8a8a8" stroke-opacity="0.6" stroke-width="0.35"/>
<circle cx="350.38" cy="99.58" r="0.81" fill="#e2e2e2" stroke="#a8a8a8" stroke-opacity="0.6" stroke-width="0.35"/>
<circle cx="358.06" cy="99.58" r="0.81" fill="#e2e2e2" stroke="#a8a8a8" stroke-opacity="0.6" stroke-width="0.35"/>
<circle cx="365.75" cy="99.58" r="0.81" fill="#e2e2e2" stroke="#a8a8a8" stroke-opacity="0.6" stroke-width="0.35"/>
<circle cx="373.44" cy="99.58" r="1.19" fill="#2a0a0a" stroke="#a8a8a8" stroke-opacity="0.6" stroke-width="0.35"/>
<circle cx="381.12" cy="99.58" r="0.81" fill="#e2e2e2" stroke="#a8a8a8" stroke-opacity="0.6" stroke-width="0.35"/>
<circle cx="388.81" cy="99.58" r="0.81" fill="#e2e2e2" stroke="#a8a8a8" stroke-opacity="0.6" stroke-width="0.35"/>
<circle cx="396.50" cy="99.58" r="0.81" fill="#e2e2e2" stroke="#a8a8a8" stroke-opacity="0.6" stroke-width="0.35"/>
<circle cx="335.00" cy="105.29" r="0.81" fill="#e2e2e2" stroke="#a8a8a8" stroke-opacity="0.6" stroke-width="0.35"/>
<circle cx="342.69" cy="105.29" r="0.81" fill="#e2e2e2" stroke="#a8a8a8" stroke-opacity="0.6" stroke-width="0.35"/>
<circle cx="350.38" cy="105.29" r="0.81" fill="#e2e2e2" stroke="#a8a8a8" stroke-opacity="0.6" stroke-width="0.35"/>
<circle cx="358.06" cy="105.29" r="0.81" fill="#e2e2e2" stroke="#a8a8a8" stroke-opacity="0.6" stroke-width="0.35"/>
<circle cx="365.75" cy="105.29" r="1.03" fill="#5a1212" stroke="#a8a8a8" stroke-opacity="0.6" stroke-width="0.35"/>
<circle cx="373.44" cy="105.29" r="0.81" fill="#e2e2e2" stroke="#a8a8a8" stroke-opacity="0.6" stroke-width="0.35"/>
<circle cx="381.12" cy="105.29" r="0.81" fill="#e2e2e2" stroke="#a8a8a8" stroke-opacity="0.6" stroke-width="0.35"/>
<circle cx="388.81" cy="105.29" r="0.81" fill="#e2e2e2" stroke="#a8a8a8" stroke-opacity="0.6" stroke-width="0.35"/>
<circle cx="396.50" cy="105.29" r="0.81" fill="#e2e2e2" stroke="#a8a8a8" stroke-opacity="0.6" stroke-width="0.35"/>
<circle cx="335.00" cy="111.00" r="0.81" fill="#e2e2e2" stroke="#a8a8a8" stroke-opacity="0.6" stroke-width="0.35"/>
<circle cx="342.69" cy="111.00" r="0.81" fill="#e2e2e2" stroke="#a8a8a8" stroke-opacity="0.6" stroke-width="0.35"/>
<circle cx="350.38" cy="111.00" r="0.81" fill="#e2e2e2" stroke="#a8a8a8" stroke-opacity="0.6" stroke-width="0.35"/>
<circle cx="358.06" cy="111.00" r="0.81" fill="#e2e2e2" stroke="#a8a8a8" stroke-opacity="0.6" stroke-width="0.35"/>
<circle cx="365.75" cy="111.00" r="0.97" fill="#4a1616" stroke="#a8a8a8" stroke-opacity="0.6" stroke-width="0.35"/>
<circle cx="373.44" cy="111.00" r="0.81" fill="#e2e2e2" stroke="#a8a8a8" stroke-opacity="0.6" stroke-width="0.35"/>
<circle cx="381.12" cy="111.00" r="0.81" fill="#e2e2e2" stroke="#a8a8a8" stroke-opacity="0.6" stroke-width="0.35"/>
<circle cx="388.81" cy="111.00" r="0.81" fill="#e2e2e2" stroke="#a8a8a8" stroke-opacity="0.6" stroke-width="0.35"/>
<circle cx="396.50" cy="111.00" r="0.81" fill="#e2e2e2" stroke="#a8a8a8" stroke-opacity="0.6" stroke-width="0.35"/>
<circle cx="335.00" cy="116.70" r="0.81" fill="#e2e2e2" stroke="#a8a8a8" stroke-opacity="0.6" stroke-width="0.35"/>
<circle cx="342.69" cy="116.70" r="0.81" fill="#e2e2e2" stroke="#a8a8a8" stroke-opacity="0.6" stroke-width="0.35"/>
<circle cx="350.38" cy="116.70" r="0.81" fill="#e2e2e2" stroke="#a8a8a8" stroke-opacity="0.6" stroke-width="0.35"/>
<circle cx="358.06" cy="116.70" r="0.81" fill="#e2e2e2" stroke="#a8a8a8" stroke-opacity="0.6" stroke-width="0.35"/>
<circle cx="365.75" cy="116.70" r="1.40" fill="#6a0a0a" stroke="#a8a8a8" stroke-opacity="0.6" stroke-width="0.35"/>
<circle cx="373.44" cy="116.70" r="0.81" fill="#e2e2e2" stroke="#a8a8a8" stroke-opacity="0.6" stroke-width="0.35"/>
<circle cx="381.12" cy="116.70" r="0.81" fill="#e2e2e2" stroke="#a8a8a8" stroke-opacity="0.6" stroke-width="0.35"/>
<circle cx="388.81" cy="116.70" r="0.81" fill="#e2e2e2" stroke="#a8a8a8" stroke-opacity="0.6" stroke-width="0.35"/>
<circle cx="396.50" cy="116.70" r="0.81" fill="#e2e2e2" stroke="#a8a8a8" stroke-opacity="0.6" stroke-width="0.35"/>
<circle cx="335.00" cy="122.41" r="2.16" fill="#d8c8c8" stroke="#a8a8a8" stroke-opacity="0.6" stroke-width="0.35"/>
<circle cx="342.69" cy="122.41" r="2.38" fill="#b08078" stroke="#a8a8a8" stroke-opacity="0.6" stroke-width="0.35"/>
<circle cx="350.38" cy="122.41" r="1.62" fill="#b88a84" stroke="#a8a8a8" stroke-opacity="0.6" stroke-width="0.35"/>
<circle cx="358.06" cy="122.41" r="1.84" fill="#a8d0d4" stroke="#a8a8a8" stroke-opacity="0.6" stroke-width="0.35"/>
<circle cx="365.75" cy="122.41" r="1.94" fill="#ecd4cc" stroke="#a8a8a8" stroke-opacity="0.6" stroke-width="0.35"/>
<circle cx="373.44" cy="122.41" r="1.73" fill="#ecdcdc" stroke="#a8a8a8" stroke-opacity="0.6" stroke-width="0.35"/>
<circle cx="381.12" cy="122.41" r="1.73" fill="#e8d8d8" stroke="#a8a8a8" stroke-opacity="0.6" stroke-width="0.35"/>
<circle cx="388.81" cy="122.41" r="1.62" fill="#8aa4b8" stroke="#a8a8a8" stroke-opacity="0.6" stroke-width="0.35"/>
<circle cx="396.50" cy="122.41" r="1.40" fill="#e4e4ec" stroke="#a8a8a8" stroke-opacity="0.6" stroke-width="0.35"/>
<circle cx="335.00" cy="128.12" r="0.81" fill="#e2e2e2" stroke="#a8a8a8" stroke-opacity="0.6" stroke-width="0.35"/>
<circle cx="342.69" cy="128.12" r="0.81" fill="#e2e2e2" stroke="#a8a8a8" stroke-opacity="0.6" stroke-width="0.35"/>
<circle cx="350.38" cy="128.12" r="0.81" fill="#e2e2e2" stroke="#a8a8a8" stroke-opacity="0.6" stroke-width="0.35"/>
<circle cx="358.06" cy="128.12" r="1.30" fill="#5a1010" stroke="#a8a8a8" stroke-opacity="0.6" stroke-width="0.35"/>
<circle cx="365.75" cy="128.12" r="0.81" fill="#e2e2e2" stroke="#a8a8a8" stroke-opacity="0.6" stroke-width="0.35"/>
<circle cx="373.44" cy="128.12" r="0.81" fill="#e2e2e2" stroke="#a8a8a8" stroke-opacity="0.6" stroke-width="0.35"/>
<circle cx="381.12" cy="128.12" r="0.81" fill="#e2e2e2" stroke="#a8a8a8" stroke-opacity="0.6" stroke-width="0.35"/>
<circle cx="388.81" cy="128.12" r="0.81" fill="#e2e2e2" stroke="#a8a8a8" stroke-opacity="0.6" stroke-width="0.35"/>
<circle cx="396.50" cy="128.12" r="0.81" fill="#e2e2e2" stroke="#a8a8a8" stroke-opacity="0.6" stroke-width="0.35"/>
<circle cx="335.00" cy="133.82" r="0.81" fill="#e2e2e2" stroke="#a8a8a8" stroke-opacity="0.6" stroke-width="0.35"/>
<circle cx="342.69" cy="133.82" r="0.81" fill="#e2e2e2" stroke="#a8a8a8" stroke-opacity="0.6" stroke-width="0.35"/>
<circle cx="350.38" cy="133.82" r="0.81" fill="#e2e2e2" stroke="#a8a8a8" stroke-opacity="0.6" stroke-width="0.35"/>
<circle cx="358.06" cy="133.82" r="1.62" fill="#300808" stroke="#a8a8a8" stroke-opacity="0.6" stroke-width="0.35"/>
<circle cx="365.75" cy="133.82" r="0.81" fill="#e2e2e2" stroke="#a8a8a8" stroke-opacity="0.6" stroke-width="0.35"/>
<circle cx="373.44" cy="133.82" r="0.81" fill="#e2e2e2" stroke="#a8a8a8" stroke-opacity="0.6" stroke-width="0.35"/>
<circle cx="381.12" cy="133.82" r="0.81" fill="#e2e2e2" stroke="#a8a8a8" stroke-opacity="0.6" stroke-width="0.35"/>
<circle cx="388.81" cy="133.82" r="1.08" fill="#c89088" stroke="#a8a8a8" stroke-opacity="0.6" stroke-width="0.35"/>
<circle cx="396.50" cy="133.82" r="0.81" fill="#e2e2e2" stroke="#a8a8a8" stroke-opacity="0.6" stroke-width="0.35"/>
<circle cx="335.00" cy="139.53" r="0.81" fill="#e2e2e2" stroke="#a8a8a8" stroke-opacity="0.6" stroke-width="0.35"/>
<circle cx="342.69" cy="139.53" r="0.81" fill="#e2e2e2" stroke="#a8a8a8" stroke-opacity="0.6" stroke-width="0.35"/>
<circle cx="350.38" cy="139.53" r="0.81" fill="#e2e2e2" stroke="#a8a8a8" stroke-opacity="0.6" stroke-width="0.35"/>
<circle cx="358.06" cy="139.53" r="1.40" fill="#4a0c0c" stroke="#a8a8a8" stroke-opacity="0.6" stroke-width="0.35"/>
<circle cx="365.75" cy="139.53" r="0.81" fill="#e2e2e2" stroke="#a8a8a8" stroke-opacity="0.6" stroke-width="0.35"/>
<circle cx="373.44" cy="139.53" r="0.81" fill="#e2e2e2" stroke="#a8a8a8" stroke-opacity="0.6" stroke-width="0.35"/>
<circle cx="381.12" cy="139.53" r="0.81" fill="#e2e2e2" stroke="#a8a8a8" stroke-opacity="0.6" stroke-width="0.35"/>
<circle cx="388.81" cy="139.53" r="1.08" fill="#c89890" stroke="#a8a8a8" stroke-opacity="0.6" stroke-width="0.35"/>
<circle cx="396.50" cy="139.53" r="0.81" fill="#e2e2e2" stroke="#a8a8a8" stroke-opacity="0.6" stroke-width="0.35"/>
<circle cx="335.00" cy="145.24" r="1.94" fill="#e4ecf4" stroke="#a8a8a8" stroke-opacity="0.6" stroke-width="0.35"/>
<circle cx="342.69" cy="145.24" r="1.94" fill="#d4e0dc" stroke="#a8a8a8" stroke-opacity="0.6" stroke-width="0.35"/>
<circle cx="350.38" cy="145.24" r="1.30" fill="#9cc4d4" stroke="#a8a8a8" stroke-opacity="0.6" stroke-width="0.35"/>
<circle cx="358.06" cy="145.24" r="1.62" fill="#d8e8f0" stroke="#a8a8a8" stroke-opacity="0.6" stroke-width="0.35"/>
<circle cx="365.75" cy="145.24" r="1.62" fill="#b8d0e0" stroke="#a8a8a8" stroke-opacity="0.6" stroke-width="0.35"/>
<circle cx="373.44" cy="145.24" r="1.62" fill="#e4e8ee" stroke="#a8a8a8" stroke-opacity="0.6" stroke-width="0.35"/>
<circle cx="381.12" cy="145.24" r="1.62" fill="#b8c8dc" stroke="#a8a8a8" stroke-opacity="0.6" stroke-width="0.35"/>
<circle cx="388.81" cy="145.24" r="2.05" fill="#c89080" stroke="#a8a8a8" stroke-opacity="0.6" stroke-width="0.35"/>
<circle cx="396.50" cy="145.24" r="1.30" fill="#eef4f4" stroke="#a8a8a8" stroke-opacity="0.6" stroke-width="0.35"/>
<circle cx="335.00" cy="150.94" r="1.84" fill="#e8ecf4" stroke="#a8a8a8" stroke-opacity="0.6" stroke-width="0.35"/>
<circle cx="342.69" cy="150.94" r="1.94" fill="#dcdcec" stroke="#a8a8a8" stroke-opacity="0.6" stroke-width="0.35"/>
<circle cx="350.38" cy="150.94" r="2.38" fill="#8c0c0c" stroke="#a8a8a8" stroke-opacity="0.6" stroke-width="0.35"/>
<circle cx="358.06" cy="150.94" r="1.94" fill="#d4e0ec" stroke="#a8a8a8" stroke-opacity="0.6" stroke-width="0.35"/>
<circle cx="365.75" cy="150.94" r="1.94" fill="#e0e0f0" stroke="#a8a8a8" stroke-opacity="0.6" stroke-width="0.35"/>
<circle cx="373.44" cy="150.94" r="1.84" fill="#ececf0" stroke="#a8a8a8" stroke-opacity="0.6" stroke-width="0.35"/>
<circle cx="381.12" cy="150.94" r="1.62" fill="#b8c4d8" stroke="#a8a8a8" stroke-opacity="0.6" stroke-width="0.35"/>
<circle cx="388.81" cy="150.94" r="2.27" fill="#b88878" stroke="#a8a8a8" stroke-opacity="0.6" stroke-width="0.35"/>
<circle cx="396.50" cy="150.94" r="1.30" fill="#f0eef0" stroke="#a8a8a8" stroke-opacity="0.6" stroke-width="0.35"/>
<circle cx="335.00" cy="156.65" r="1.30" fill="#d8d8e0" stroke="#a8a8a8" stroke-opacity="0.6" stroke-width="0.35"/>
<circle cx="342.69" cy="156.65" r="1.40" fill="#dcccc8" stroke="#a8a8a8" stroke-opacity="0.6" stroke-width="0.35"/>
<circle cx="350.38" cy="156.65" r="1.40" fill="#ece0dc" stroke="#a8a8a8" stroke-opacity="0.6" stroke-width="0.35"/>
<circle cx="358.06" cy="156.65" r="1.19" fill="#a8b8c8" stroke="#a8a8a8" stroke-opacity="0.6" stroke-width="0.35"/>
<circle cx="365.75" cy="156.65" r="1.30" fill="#ececf0" stroke="#a8a8a8" stroke-opacity="0.6" stroke-width="0.35"/>
<circle cx="373.44" cy="156.65" r="1.30" fill="#b8bcc0" stroke="#a8a8a8" stroke-opacity="0.6" stroke-width="0.35"/>
<circle cx="381.12" cy="156.65" r="1.30" fill="#e8e8ec" stroke="#a8a8a8" stroke-opacity="0.6" stroke-width="0.35"/>
<circle cx="388.81" cy="156.65" r="1.62" fill="#c4d4e4" stroke="#a8a8a8" stroke-opacity="0.6" stroke-width="0.35"/>
<circle cx="396.50" cy="156.65" r="1.73" fill="#8a1010" stroke="#a8a8a8" stroke-opacity="0.6" stroke-width="0.35"/>
<circle cx="335.00" cy="162.35" r="1.62" fill="#eeeef4" stroke="#a8a8a8" stroke-opacity="0.6" stroke-width="0.35"/>
<circle cx="342.69" cy="162.35" r="1.94" fill="#b08880" stroke="#a8a8a8" stroke-opacity="0.6" stroke-width="0.35"/>
<circle cx="350.38" cy="162.35" r="1.40" fill="#b89088" stroke="#a8a8a8" stroke-opacity="0.6" stroke-width="0.35"/>
<circle cx="358.06" cy="162.35" r="1.19" fill="#f0f0f0" stroke="#a8a8a8" stroke-opacity="0.6" stroke-width="0.35"/>
<circle cx="365.75" cy="162.35" r="1.73" fill="#ecd4c8" stroke="#a8a8a8" stroke-opacity="0.6" stroke-width="0.35"/>
<circle cx="373.44" cy="162.35" r="1.73" fill="#ecd8d4" stroke="#a8a8a8" stroke-opacity="0.6" stroke-width="0.35"/>
<circle cx="381.12" cy="162.35" r="1.84" fill="#e4e4e8" stroke="#a8a8a8" stroke-opacity="0.6" stroke-width="0.35"/>
<circle cx="388.81" cy="162.35" r="1.62" fill="#5878a0" stroke="#a8a8a8" stroke-opacity="0.6" stroke-width="0.35"/>
<circle cx="396.50" cy="162.35" r="1.40" fill="#e8ecf0" stroke="#a8a8a8" stroke-opacity="0.6" stroke-width="0.35"/>
<circle cx="335.00" cy="168.06" r="1.94" fill="#8a4030" stroke="#a8a8a8" stroke-opacity="0.6" stroke-width="0.35"/>
<circle cx="342.69" cy="168.06" r="1.30" fill="#f0f0f0" stroke="#a8a8a8" stroke-opacity="0.6" stroke-width="0.35"/>
<circle cx="350.38" cy="168.06" r="0.86" fill="#e8e8e8" stroke="#a8a8a8" stroke-opacity="0.6" stroke-width="0.35"/>
<circle cx="358.06" cy="168.06" r="0.86" fill="#f0f0f0" stroke="#a8a8a8" stroke-opacity="0.6" stroke-width="0.35"/>
<circle cx="365.75" cy="168.06" r="1.19" fill="#ececec" stroke="#a8a8a8" stroke-opacity="0.6" stroke-width="0.35"/>
<circle cx="373.44" cy="168.06" r="1.40" fill="#dcb0b0" stroke="#a8a8a8" stroke-opacity="0.6" stroke-width="0.35"/>
<circle cx="381.12" cy="168.06" r="1.19" fill="#a0a8b8" stroke="#a8a8a8" stroke-opacity="0.6" stroke-width="0.35"/>
<circle cx="388.81" cy="168.06" r="1.40" fill="#c4d4e4" stroke="#a8a8a8" stroke-opacity="0.6" stroke-width="0.35"/>
<circle cx="396.50" cy="168.06" r="1.08" fill="#ecece8" stroke="#a8a8a8" stroke-opacity="0.6" stroke-width="0.35"/>
<circle cx="335.00" cy="173.77" r="1.84" fill="#c89080" stroke="#a8a8a8" stroke-opacity="0.6" stroke-width="0.35"/>
<circle cx="342.69" cy="173.77" r="1.08" fill="#f0f0f0" stroke="#a8a8a8" stroke-opacity="0.6" stroke-width="0.35"/>
<circle cx="350.38" cy="173.77" r="1.08" fill="#f0ecec" stroke="#a8a8a8" stroke-opacity="0.6" stroke-width="0.35"/>
<circle cx="358.06" cy="173.77" r="0.97" fill="#f4f4f4" stroke="#a8a8a8" stroke-opacity="0.6" stroke-width="0.35"/>
<circle cx="365.75" cy="173.77" r="1.73" fill="#e0b0a0" stroke="#a8a8a8" stroke-opacity="0.6" stroke-width="0.35"/>
<circle cx="373.44" cy="173.77" r="1.73" fill="#dca8a8" stroke="#a8a8a8" stroke-opacity="0.6" stroke-width="0.35"/>
<circle cx="381.12" cy="173.77" r="1.30" fill="#ecebeb" stroke="#a8a8a8" stroke-opacity="0.6" stroke-width="0.35"/>
<circle cx="388.81" cy="173.77" r="1.19" fill="#90a8c0" stroke="#a8a8a8" stroke-opacity="0.6" stroke-width="0.35"/>
<circle cx="396.50" cy="173.77" r="1.08" fill="#ececec" stroke="#a8a8a8" stroke-opacity="0.6" stroke-width="0.35"/>
<circle cx="335.00" cy="179.47" r="1.73" fill="#d0a89c" stroke="#a8a8a8" stroke-opacity="0.6" stroke-width="0.35"/>
<circle cx="342.69" cy="179.47" r="1.08" fill="#f0f0f0" stroke="#a8a8a8" stroke-opacity="0.6" stroke-width="0.35"/>
<circle cx="350.38" cy="179.47" r="1.08" fill="#b8b8c0" stroke="#a8a8a8" stroke-opacity="0.6" stroke-width="0.35"/>
<circle cx="358.06" cy="179.47" r="1.08" fill="#f4e4e4" stroke="#a8a8a8" stroke-opacity="0.6" stroke-width="0.35"/>
<circle cx="365.75" cy="179.47" r="1.62" fill="#c8d8e8" stroke="#a8a8a8" stroke-opacity="0.6" stroke-width="0.35"/>
<circle cx="373.44" cy="179.47" r="1.30" fill="#ececec" stroke="#a8a8a8" stroke-opacity="0.6" stroke-width="0.35"/>
<circle cx="381.12" cy="179.47" r="1.40" fill="#e4e4e4" stroke="#a8a8a8" stroke-opacity="0.6" stroke-width="0.35"/>
<circle cx="388.81" cy="179.47" r="2.05" fill="#a05a3a" stroke="#a8a8a8" stroke-opacity="0.6" stroke-width="0.35"/>
<circle cx="396.50" cy="179.47" r="1.08" fill="#98a8c4" stroke="#a8a8a8" stroke-opacity="0.6" stroke-width="0.35"/>
<circle cx="335.00" cy="185.18" r="1.94" fill="#d09888" stroke="#a8a8a8" stroke-opacity="0.6" stroke-width="0.35"/>
<circle cx="342.69" cy="185.18" r="2.16" fill="#c8a8a8" stroke="#a8a8a8" stroke-opacity="0.6" stroke-width="0.35"/>
<circle cx="350.38" cy="185.18" r="1.30" fill="#a8b4c4" stroke="#a8a8a8" stroke-opacity="0.6" stroke-width="0.35"/>
<circle cx="358.06" cy="185.18" r="1.94" fill="#e4e4e4" stroke="#a8a8a8" stroke-opacity="0.6" stroke-width="0.35"/>
<circle cx="365.75" cy="185.18" r="2.16" fill="#b8a090" stroke="#a8a8a8" stroke-opacity="0.6" stroke-width="0.35"/>
<circle cx="373.44" cy="185.18" r="1.94" fill="#d8b0b0" stroke="#a8a8a8" stroke-opacity="0.6" stroke-width="0.35"/>
<circle cx="381.12" cy="185.18" r="1.94" fill="#e0b8b0" stroke="#a8a8a8" stroke-opacity="0.6" stroke-width="0.35"/>
<circle cx="388.81" cy="185.18" r="1.51" fill="#98a8b8" stroke="#a8a8a8" stroke-opacity="0.6" stroke-width="0.35"/>
<circle cx="396.50" cy="185.18" r="1.19" fill="#b0b8c0" stroke="#a8a8a8" stroke-opacity="0.6" stroke-width="0.35"/>
<circle cx="335.00" cy="190.89" r="2.16" fill="#a04a2a" stroke="#a8a8a8" stroke-opacity="0.6" stroke-width="0.35"/>
<circle cx="342.69" cy="190.89" r="2.16" fill="#dce8e0" stroke="#a8a8a8" stroke-opacity="0.6" stroke-width="0.35"/>
<circle cx="350.38" cy="190.89" r="1.94" fill="#e8e8f0" stroke="#a8a8a8" stroke-opacity="0.6" stroke-width="0.35"/>
<circle cx="358.06" cy="190.89" r="1.94" fill="#dce4ec" stroke="#a8a8a8" stroke-opacity="0.6" stroke-width="0.35"/>
<circle cx="365.75" cy="190.89" r="2.16" fill="#e0e0e4" stroke="#a8a8a8" stroke-opacity="0.6" stroke-width="0.35"/>
<circle cx="373.44" cy="190.89" r="2.16" fill="#e0e0e0" stroke="#a8a8a8" stroke-opacity="0.6" stroke-width="0.35"/>
<circle cx="381.12" cy="190.89" r="1.62" fill="#90a8a8" stroke="#a8a8a8" stroke-opacity="0.6" stroke-width="0.35"/>
<circle cx="388.81" cy="190.89" r="1.62" fill="#b8c8e4" stroke="#a8a8a8" stroke-opacity="0.6" stroke-width="0.35"/>
<circle cx="396.50" cy="190.89" r="2.38" fill="#d89480" stroke="#a8a8a8" stroke-opacity="0.6" stroke-width="0.35"/>
<circle cx="335.00" cy="196.59" r="1.84" fill="#9a4a30" stroke="#a8a8a8" stroke-opacity="0.6" stroke-width="0.35"/>
<circle cx="342.69" cy="196.59" r="1.73" fill="#eeeeee" stroke="#a8a8a8" stroke-opacity="0.6" stroke-width="0.35"/>
<circle cx="350.38" cy="196.59" r="1.84" fill="#e4e4f0" stroke="#a8a8a8" stroke-opacity="0.6" stroke-width="0.35"/>
<circle cx="358.06" cy="196.59" r="1.84" fill="#eeeef0" stroke="#a8a8a8" stroke-opacity="0.6" stroke-width="0.35"/>
<circle cx="365.75" cy="196.59" r="1.94" fill="#e4e8ec" stroke="#a8a8a8" stroke-opacity="0.6" stroke-width="0.35"/>
<circle cx="373.44" cy="196.59" r="1.94" fill="#e8e8e8" stroke="#a8a8a8" stroke-opacity="0.6" stroke-width="0.35"/>
<circle cx="381.12" cy="196.59" r="1.08" fill="#b0b4bc" stroke="#a8a8a8" stroke-opacity="0.6" stroke-width="0.35"/>
<circle cx="388.81" cy="196.59" r="1.19" fill="#b4bcc4" stroke="#a8a8a8" stroke-opacity="0.6" stroke-width="0.35"/>
<circle cx="396.50" cy="196.59" r="1.40" fill="#e4c4c0" stroke="#a8a8a8" stroke-opacity="0.6" stroke-width="0.35"/>
<circle cx="335.00" cy="202.30" r="1.62" fill="#4a1208" stroke="#a8a8a8" stroke-opacity="0.6" stroke-width="0.35"/>
<circle cx="342.69" cy="202.30" r="1.51" fill="#dcdcdc" stroke="#a8a8a8" stroke-opacity="0.6" stroke-width="0.35"/>
<circle cx="350.38" cy="202.30" r="1.51" fill="#c8c8dc" stroke="#a8a8a8" stroke-opacity="0.6" stroke-width="0.35"/>
<circle cx="358.06" cy="202.30" r="1.40" fill="#ececf0" stroke="#a8a8a8" stroke-opacity="0.6" stroke-width="0.35"/>
<circle cx="365.75" cy="202.30" r="1.62" fill="#a8b8cc" stroke="#a8a8a8" stroke-opacity="0.6" stroke-width="0.35"/>
<circle cx="373.44" cy="202.30" r="1.19" fill="#f0f0f0" stroke="#a8a8a8" stroke-opacity="0.6" stroke-width="0.35"/>
<circle cx="381.12" cy="202.30" r="0.97" fill="#c0c0c8" stroke="#a8a8a8" stroke-opacity="0.6" stroke-width="0.35"/>
<circle cx="388.81" cy="202.30" r="1.08" fill="#eeeeee" stroke="#a8a8a8" stroke-opacity="0.6" stroke-width="0.35"/>
<circle cx="396.50" cy="202.30" r="1.08" fill="#c0b8cc" stroke="#a8a8a8" stroke-opacity="0.6" stroke-width="0.35"/>
<text x="405" y="88.1" font-size="6.0" text-anchor="start" fill="#222" stroke="#222" stroke-width="0.2" textLength="72" lengthAdjust="spacingAndGlyphs">Percent of Expressed Cells</text>
<text x="411" y="93.80000000000001" font-size="5.4" text-anchor="start" fill="#222" stroke="#222" stroke-width="0.2">0</text>
<circle cx="408" cy="97.6" r="0.75" fill="#eeeeee" stroke="#999" stroke-width="0.35"/>
<text x="411" y="99.5" font-size="5.4" text-anchor="start" fill="#222" stroke="#222" stroke-width="0.2">25</text>
<circle cx="408" cy="103.1" r="1.15" fill="#eeeeee" stroke="#999" stroke-width="0.35"/>
<text x="411" y="105.0" font-size="5.4" text-anchor="start" fill="#222" stroke="#222" stroke-width="0.2">50</text>
<circle cx="408" cy="108.8" r="1.55" fill="#eeeeee" stroke="#999" stroke-width="0.35"/>
<text x="411" y="110.7" font-size="5.4" text-anchor="start" fill="#222" stroke="#222" stroke-width="0.2">75</text>
<text x="405" y="120.9" font-size="6.0" text-anchor="start" fill="#222" stroke="#222" stroke-width="0.2" textLength="74" lengthAdjust="spacingAndGlyphs">Average Expression (Scaled)</text>
<defs><linearGradient id="cb" x1="0" y1="0" x2="0" y2="1"><stop offset="0" stop-color="#7a1418"/><stop offset="0.25" stop-color="#c07a7a"/><stop offset="0.5" stop-color="#f4eeee"/><stop offset="0.75" stop-color="#a8cad8"/><stop offset="1" stop-color="#4a90a8"/></linearGradient></defs>
<rect x="405.2" y="125.5" width="4" height="17.9" fill="url(#cb)"/>
<text x="411.3" y="127.8" font-size="4.6" text-anchor="start" fill="#222" stroke="#222" stroke-width="0.12">2</text>
<text x="411.3" y="131.0" font-size="4.6" text-anchor="start" fill="#222" stroke="#222" stroke-width="0.12">1</text>
<text x="411.3" y="134.6" font-size="4.6" text-anchor="start" fill="#222" stroke="#222" stroke-width="0.12">0</text>
<text x="411.3" y="138.6" font-size="4.6" text-anchor="start" fill="#222" stroke="#222" stroke-width="0.12">−1</text>
<text x="411.3" y="142.6" font-size="4.6" text-anchor="start" fill="#222" stroke="#222" stroke-width="0.12">−2</text>
<line x1="36.7" y1="271.1" x2="36.7" y2="371.0" stroke="#111" stroke-width="1.0"/>
<line x1="36.2" y1="370.5" x2="223" y2="370.5" stroke="#111" stroke-width="1.0"/>
<line x1="33.6" y1="366.2" x2="36.7" y2="366.2" stroke="#111" stroke-width="0.75"/>
<text x="31.0" y="368.4" font-size="6.4" text-anchor="end" fill="#333" stroke="#333" stroke-width="0.2">0.0</text>
<line x1="33.6" y1="348.3" x2="36.7" y2="348.3" stroke="#111" stroke-width="0.75"/>
<text x="31.0" y="350.5" font-size="6.4" text-anchor="end" fill="#333" stroke="#333" stroke-width="0.2">0.1</text>
<line x1="33.6" y1="330.4" x2="36.7" y2="330.4" stroke="#111" stroke-width="0.75"/>
<text x="31.0" y="332.59999999999997" font-size="6.4" text-anchor="end" fill="#333" stroke="#333" stroke-width="0.2">0.2</text>
<line x1="33.6" y1="312.5" x2="36.7" y2="312.5" stroke="#111" stroke-width="0.75"/>
<text x="31.0" y="314.7" font-size="6.4" text-anchor="end" fill="#333" stroke="#333" stroke-width="0.2">0.3</text>
<line x1="33.6" y1="294.6" x2="36.7" y2="294.6" stroke="#111" stroke-width="0.75"/>
<text x="31.0" y="296.8" font-size="6.4" text-anchor="end" fill="#333" stroke="#333" stroke-width="0.2">0.4</text>
<line x1="33.6" y1="276.7" x2="36.7" y2="276.7" stroke="#111" stroke-width="0.75"/>
<text x="31.0" y="278.9" font-size="6.4" text-anchor="end" fill="#333" stroke="#333" stroke-width="0.2">0.5</text>
<text x="12.5" y="324.2" font-size="6.3" text-anchor="middle" fill="#111" stroke="#111" stroke-width="0.3" textLength="112" lengthAdjust="spacingAndGlyphs" transform="rotate(-90 12.5 324.2)">Proportion of cells in cluster (/ B cells in total)</text>
<line x1="63.3" y1="370.5" x2="63.3" y2="373.2" stroke="#111" stroke-width="0.6"/>
<text x="65.39999999999999" y="376.5" font-size="5.9" text-anchor="end" fill="#222" stroke="#222" stroke-width="0.25" transform="rotate(-90 65.39999999999999 376.5)">Naive B-C1</text>
<line x1="107.4" y1="370.5" x2="107.4" y2="373.2" stroke="#111" stroke-width="0.6"/>
<text x="109.5" y="376.5" font-size="5.9" text-anchor="end" fill="#222" stroke="#222" stroke-width="0.25" transform="rotate(-90 109.5 376.5)">Memory B-C2</text>
<line x1="151.5" y1="370.5" x2="151.5" y2="373.2" stroke="#111" stroke-width="0.6"/>
<text x="153.6" y="376.5" font-size="5.9" text-anchor="end" fill="#222" stroke="#222" stroke-width="0.25" transform="rotate(-90 153.6 376.5)">GCB-C9</text>
<line x1="195.6" y1="370.5" x2="195.6" y2="373.2" stroke="#111" stroke-width="0.6"/>
<text x="197.7" y="376.5" font-size="5.9" text-anchor="end" fill="#222" stroke="#222" stroke-width="0.25" transform="rotate(-90 197.7 376.5)">Plasma-C7</text>
<line x1="50.0" y1="321.4" x2="50.0" y2="328.1" stroke="#5cb85c" stroke-width="0.85"/>
<line x1="50.0" y1="347.2" x2="50.0" y2="361.7" stroke="#5cb85c" stroke-width="0.85"/>
<rect x="44.55" y="328.1" width="10.900000000000006" height="19.099999999999966" fill="#a6d8a0" stroke="#5cb85c" stroke-opacity="0.45" stroke-width="0.5"/>
<line x1="44.55" y1="337.3" x2="55.45" y2="337.3" stroke="#4fae4f" stroke-width="1.0"/>
<circle cx="50.0" cy="332.5" r="0.75" fill="#4fae4f"/>
<circle cx="50.0" cy="339" r="0.75" fill="#4fae4f"/>
<circle cx="50.0" cy="342.5" r="0.75" fill="#4fae4f"/>
<circle cx="50.0" cy="352" r="0.75" fill="#4fae4f"/>
<circle cx="50.0" cy="321.4" r="0.75" fill="#4fae4f"/>
<circle cx="50.0" cy="361.7" r="0.75" fill="#4fae4f"/>
<line x1="63.199999999999996" y1="304.6" x2="63.199999999999996" y2="309.8" stroke="#3a6e9c" stroke-width="0.85"/>
<line x1="63.199999999999996" y1="332.6" x2="63.199999999999996" y2="355" stroke="#3a6e9c" stroke-width="0.85"/>
<rect x="57.55" y="309.8" width="11.299999999999997" height="22.80000000000001" fill="#7ea7cc" stroke="#3a6e9c" stroke-opacity="0.45" stroke-width="0.5"/>
<line x1="57.55" y1="320.3" x2="68.85" y2="320.3" stroke="#2a5f8e" stroke-width="1.0"/>
<circle cx="63.199999999999996" cy="316" r="0.75" fill="#2a5f8e"/>
<circle cx="63.199999999999996" cy="323.5" r="0.75" fill="#2a5f8e"/>
<circle cx="63.199999999999996" cy="306" r="0.75" fill="#2a5f8e"/>
<circle cx="63.199999999999996" cy="304.6" r="0.75" fill="#2a5f8e"/>
<circle cx="63.199999999999996" cy="355" r="0.75" fill="#2a5f8e"/>
<line x1="76.65" y1="347.2" x2="76.65" y2="351.2" stroke="#d6405e" stroke-width="0.85"/>
<line x1="76.65" y1="356.1" x2="76.65" y2="359.5" stroke="#d6405e" stroke-width="0.85"/>
<rect x="70.95" y="351.2" width="11.399999999999991" height="4.900000000000034" fill="#f2a0b2" stroke="#d6405e" stroke-opacity="0.45" stroke-width="0.5"/>
<line x1="70.95" y1="353.4" x2="82.35" y2="353.4" stroke="#d0284c" stroke-width="1.0"/>
<circle cx="76.65" cy="347.2" r="0.75" fill="#d0284c"/>
<circle cx="76.65" cy="359.5" r="0.75" fill="#d0284c"/>
<line x1="94.30000000000001" y1="293" x2="94.30000000000001" y2="311.3" stroke="#5cb85c" stroke-width="0.85"/>
<line x1="94.30000000000001" y1="339.3" x2="94.30000000000001" y2="348.3" stroke="#5cb85c" stroke-width="0.85"/>
<rect x="88.65" y="311.3" width="11.299999999999997" height="28.0" fill="#a6d8a0" stroke="#5cb85c" stroke-opacity="0.45" stroke-width="0.5"/>
<line x1="88.65" y1="317.6" x2="99.95" y2="317.6" stroke="#4fae4f" stroke-width="1.0"/>
<circle cx="94.30000000000001" cy="317.5" r="0.75" fill="#4fae4f"/>
<circle cx="94.30000000000001" cy="336.5" r="0.75" fill="#4fae4f"/>
<circle cx="94.30000000000001" cy="293" r="0.75" fill="#4fae4f"/>
<circle cx="94.30000000000001" cy="348.3" r="0.75" fill="#4fae4f"/>
<line x1="107.75" y1="334.2" x2="107.75" y2="348.3" stroke="#3a6e9c" stroke-width="0.85"/>
<line x1="107.75" y1="357.2" x2="107.75" y2="360.6" stroke="#3a6e9c" stroke-width="0.85"/>
<rect x="102.05" y="348.3" width="11.400000000000006" height="8.899999999999977" fill="#7ea7cc" stroke="#3a6e9c" stroke-opacity="0.45" stroke-width="0.5"/>
<line x1="102.05" y1="355" x2="113.45" y2="355" stroke="#2a5f8e" stroke-width="1.0"/>
<circle cx="107.75" cy="354" r="0.75" fill="#2a5f8e"/>
<circle cx="107.75" cy="334.2" r="0.75" fill="#2a5f8e"/>
<circle cx="107.75" cy="360.6" r="0.75" fill="#2a5f8e"/>
<line x1="121.15" y1="315.8" x2="121.15" y2="322.1" stroke="#d6405e" stroke-width="0.85"/>
<line x1="121.15" y1="332.6" x2="121.15" y2="338.7" stroke="#d6405e" stroke-width="0.85"/>
<rect x="115.45" y="322.1" width="11.399999999999991" height="10.5" fill="#f2a0b2" stroke="#d6405e" stroke-opacity="0.45" stroke-width="0.5"/>
<line x1="115.45" y1="327" x2="126.85" y2="327" stroke="#d0284c" stroke-width="1.0"/>
<circle cx="121.15" cy="315.8" r="0.75" fill="#d0284c"/>
<circle cx="121.15" cy="338.7" r="0.75" fill="#d0284c"/>
<line x1="138.45" y1="363.2" x2="138.45" y2="364.0" stroke="#5cb85c" stroke-width="0.85"/>
<line x1="138.45" y1="364.8" x2="138.45" y2="365.5" stroke="#5cb85c" stroke-width="0.85"/>
<rect x="133.05" y="364.0" width="10.799999999999983" height="0.8000000000000114" fill="#a6d8a0" stroke="#5cb85c" stroke-opacity="0.45" stroke-width="0.5"/>
<line x1="133.05" y1="364.4" x2="143.85" y2="364.4" stroke="#4fae4f" stroke-width="1.0"/>
<circle cx="138.45" cy="363.2" r="0.75" fill="#4fae4f"/>
<circle cx="138.45" cy="365.5" r="0.75" fill="#4fae4f"/>
<line x1="151.95" y1="362.0" x2="151.95" y2="364.0" stroke="#3a6e9c" stroke-width="0.85"/>
<line x1="151.95" y1="365.3" x2="151.95" y2="366.5" stroke="#3a6e9c" stroke-width="0.85"/>
<rect x="146.25" y="364.0" width="11.400000000000006" height="1.3000000000000114" fill="#7ea7cc" stroke="#3a6e9c" stroke-opacity="0.45" stroke-width="0.5"/>
<line x1="146.25" y1="364.6" x2="157.65" y2="364.6" stroke="#2a5f8e" stroke-width="1.0"/>
<circle cx="151.95" cy="362.0" r="0.75" fill="#2a5f8e"/>
<circle cx="151.95" cy="366.5" r="0.75" fill="#2a5f8e"/>
<line x1="165.1" y1="362.4" x2="165.1" y2="363.0" stroke="#d6405e" stroke-width="0.85"/>
<line x1="165.1" y1="363.8" x2="165.1" y2="364.4" stroke="#d6405e" stroke-width="0.85"/>
<rect x="159.45" y="363.0" width="11.300000000000011" height="0.8000000000000114" fill="#f2a0b2" stroke="#d6405e" stroke-opacity="0.45" stroke-width="0.5"/>
<line x1="159.45" y1="363.4" x2="170.75" y2="363.4" stroke="#d0284c" stroke-width="1.0"/>
<circle cx="165.1" cy="362.4" r="0.75" fill="#d0284c"/>
<circle cx="165.1" cy="364.4" r="0.75" fill="#d0284c"/>
<line x1="182.85" y1="358.6" x2="182.85" y2="359.3" stroke="#5cb85c" stroke-width="0.85"/>
<line x1="182.85" y1="364.0" x2="182.85" y2="366.2" stroke="#5cb85c" stroke-width="0.85"/>
<rect x="177.25" y="359.3" width="11.199999999999989" height="4.699999999999989" fill="#a6d8a0" stroke="#5cb85c" stroke-opacity="0.45" stroke-width="0.5"/>
<line x1="177.25" y1="361.6" x2="188.45" y2="361.6" stroke="#4fae4f" stroke-width="1.0"/>
<circle cx="182.85" cy="358.6" r="0.75" fill="#4fae4f"/>
<circle cx="182.85" cy="366.2" r="0.75" fill="#4fae4f"/>
<line x1="195.9" y1="361.5" x2="195.9" y2="362.2" stroke="#3a6e9c" stroke-width="0.85"/>
<line x1="195.9" y1="364.8" x2="195.9" y2="366.0" stroke="#3a6e9c" stroke-width="0.85"/>
<rect x="190.55" y="362.2" width="10.699999999999989" height="2.6000000000000227" fill="#7ea7cc" stroke="#3a6e9c" stroke-opacity="0.45" stroke-width="0.5"/>
<line x1="190.55" y1="363.4" x2="201.25" y2="363.4" stroke="#2a5f8e" stroke-width="1.0"/>
<circle cx="195.9" cy="361.5" r="0.75" fill="#2a5f8e"/>
<circle cx="195.9" cy="366.0" r="0.75" fill="#2a5f8e"/>
<line x1="209.25" y1="360.0" x2="209.25" y2="360.8" stroke="#d6405e" stroke-width="0.85"/>
<line x1="209.25" y1="363.0" x2="209.25" y2="364.0" stroke="#d6405e" stroke-width="0.85"/>
<rect x="203.65" y="360.8" width="11.199999999999989" height="2.1999999999999886" fill="#f2a0b2" stroke="#d6405e" stroke-opacity="0.45" stroke-width="0.5"/>
<line x1="203.65" y1="362.0" x2="214.85" y2="362.0" stroke="#d0284c" stroke-width="1.0"/>
<circle cx="209.25" cy="360.0" r="0.75" fill="#d0284c"/>
<circle cx="209.25" cy="364.0" r="0.75" fill="#d0284c"/>
<circle cx="138.5" cy="349.3" r="0.55" fill="#444"/>
<circle cx="183.1" cy="350.5" r="0.55" fill="#444"/>
<circle cx="195.9" cy="355.2" r="0.55" fill="#2f6494"/>
<circle cx="182.6" cy="292" r="0.55" fill="#444"/>
<line x1="51.2" y1="298.6" x2="65.1" y2="298.6" stroke="#6a6a6a" stroke-width="0.8"/>
<text x="58.15" y="298.20000000000005" font-size="5.2" text-anchor="middle" fill="#222" stroke="#222" stroke-width="0.3">*</text>
<line x1="67.3" y1="296.3" x2="81.9" y2="296.3" stroke="#6a6a6a" stroke-width="0.8"/>
<text x="74.6" y="295.90000000000003" font-size="5.2" text-anchor="middle" fill="#222" stroke="#222" stroke-width="0.3">**</text>
<line x1="95" y1="286.3" x2="109.2" y2="286.3" stroke="#6a6a6a" stroke-width="0.8"/>
<text x="102.1" y="285.90000000000003" font-size="5.2" text-anchor="middle" fill="#222" stroke="#222" stroke-width="0.3">**</text>
<line x1="110.7" y1="284.5" x2="124.8" y2="284.5" stroke="#6a6a6a" stroke-width="0.8"/>
<text x="117.75" y="284.1" font-size="5.2" text-anchor="middle" fill="#222" stroke="#222" stroke-width="0.3">**</text>
<line x1="139.4" y1="345.6" x2="153.5" y2="345.6" stroke="#6a6a6a" stroke-width="0.8"/>
<text x="146.45" y="341.3" font-size="6.0" text-anchor="middle" fill="#333" stroke="#333" stroke-width="0.2">ns</text>
<line x1="154.5" y1="342.4" x2="168.6" y2="342.4" stroke="#6a6a6a" stroke-width="0.8"/>
<text x="161.55" y="338.09999999999997" font-size="6.0" text-anchor="middle" fill="#333" stroke="#333" stroke-width="0.2">ns</text>
<line x1="183.7" y1="345.2" x2="196.8" y2="345.2" stroke="#6a6a6a" stroke-width="0.8"/>
<text x="190.25" y="340.9" font-size="6.0" text-anchor="middle" fill="#333" stroke="#333" stroke-width="0.2">ns</text>
<line x1="200" y1="341.4" x2="213.8" y2="341.4" stroke="#6a6a6a" stroke-width="0.8"/>
<text x="206.9" y="337.09999999999997" font-size="6.0" text-anchor="middle" fill="#333" stroke="#333" stroke-width="0.2">ns</text>
<line x1="230.9" y1="301.0" x2="230.9" y2="312.2" stroke="#4fae4f" stroke-width="0.6"/>
<rect x="225.6" y="303.2" width="10.6" height="7.2" fill="#a6d8a0" stroke="#5cb85c" stroke-opacity="0.5" stroke-width="0.5"/>
<line x1="225.6" y1="306.8" x2="236.2" y2="306.8" stroke="#4fae4f" stroke-width="1.0"/>
<circle cx="230.9" cy="306.8" r="0.8" fill="#4fae4f"/>
<text x="239.9" y="308.90000000000003" font-size="5.9" text-anchor="start" fill="#222" stroke="#222" stroke-width="0.2">Diagnostic</text>
<line x1="230.9" y1="315.09999999999997" x2="230.9" y2="326.29999999999995" stroke="#2a5f8e" stroke-width="0.6"/>
<rect x="225.6" y="317.29999999999995" width="10.6" height="7.2" fill="#7ea7cc" stroke="#3a6e9c" stroke-opacity="0.5" stroke-width="0.5"/>
<line x1="225.6" y1="320.9" x2="236.2" y2="320.9" stroke="#2a5f8e" stroke-width="1.0"/>
<circle cx="230.9" cy="320.9" r="0.8" fill="#2a5f8e"/>
<text x="239.9" y="323.0" font-size="5.9" text-anchor="start" fill="#222" stroke="#222" stroke-width="0.2">Early Relapse</text>
<line x1="230.9" y1="329.2" x2="230.9" y2="340.4" stroke="#d0284c" stroke-width="0.6"/>
<rect x="225.6" y="331.4" width="10.6" height="7.2" fill="#f2a0b2" stroke="#d6405e" stroke-opacity="0.5" stroke-width="0.5"/>
<line x1="225.6" y1="335" x2="236.2" y2="335" stroke="#d0284c" stroke-width="1.0"/>
<circle cx="230.9" cy="335" r="0.8" fill="#d0284c"/>
<text x="239.9" y="337.1" font-size="5.9" text-anchor="start" fill="#222" stroke="#222" stroke-width="0.2">Late Relapse</text>
<path d="M322.00 386.80L322.00 276.44L322.67 277.97L323.34 279.59L324.02 281.30L324.69 283.09L325.36 284.96L326.03 286.91L326.70 288.94L327.37 291.06L328.05 293.28L328.72 295.61L329.39 298.06L330.06 300.62L330.73 303.40L331.40 306.38L332.08 309.52L332.75 312.74L333.42 316.00L334.09 319.30L334.76 322.73L335.43 326.23L336.11 329.73L336.78 333.17L337.45 336.53L338.12 339.91L338.79 343.25L339.46 346.49L340.14 349.57L340.81 352.49L341.48 355.35L342.15 358.12L342.82 360.77L343.49 363.24L344.17 365.48L344.84 367.53L345.51 369.55L346.18 371.52L346.85 373.41L347.52 375.18L348.20 376.80L348.87 378.24L349.54 379.47L350.21 380.45L350.88 381.25L351.55 382.02L352.23 382.73L352.90 383.34L353.57 383.84L354.24 384.17L354.91 384.32L355.58 384.36L356.26 384.40L356.93 384.43L357.60 384.46L358.27 384.49L358.94 384.52L359.61 384.54L360.29 384.56L360.96 384.57L361.63 384.59L362.30 384.60L362.97 384.61L363.64 384.62L364.32 384.62L364.99 384.63L365.66 384.63L366.33 384.59L367.00 384.39L367.67 384.04L368.35 383.57L369.02 383.00L369.69 382.34L370.36 381.64L371.03 380.91L371.70 380.17L372.38 379.38L373.05 378.42L373.72 377.31L374.39 376.09L375.06 374.81L375.73 373.49L376.41 372.17L377.08 370.89L377.75 369.59L378.42 368.25L379.09 366.87L379.76 365.47L380.44 364.06L381.11 362.64L381.78 361.22L382.45 359.79L383.12 358.35L383.79 356.90L384.47 355.43L385.14 353.96L385.81 352.49L386.48 351.01L387.15 349.54L387.82 348.07L388.50 346.63L389.17 345.22L389.84 343.81L390.51 342.39L391.18 340.95L391.86 339.46L392.53 337.91L393.20 336.26L393.87 334.47L394.54 332.60L395.21 330.69L395.89 328.80L396.56 327.00L397.23 325.32L397.90 323.71L398.57 322.14L399.24 320.61L399.92 319.11L400.59 317.58L401.26 315.99L401.93 314.43L402.60 312.97L403.27 311.68L403.95 310.63L404.62 309.65L405.29 308.67L405.96 307.78L406.63 307.03L407.30 306.48L407.98 306.22L408.65 306.26L409.32 306.53L409.99 306.99L410.66 307.59L411.33 308.29L412.01 309.04L412.68 309.81L413.35 310.67L414.02 311.77L414.69 313.01L415.36 314.31L416.04 315.58L416.71 316.79L417.38 318.00L418.05 319.23L418.72 320.46L419.39 321.71L420.07 322.96L420.74 324.23L421.41 325.50L422.08 326.78L422.75 328.07L423.42 329.37L424.10 330.69L424.77 332.03L425.44 333.40L426.11 334.77L426.78 336.15L427.45 337.54L428.13 338.93L428.80 340.31L429.47 341.69L430.14 343.05L430.81 344.40L431.48 345.73L432.16 347.04L432.83 348.32L433.50 349.59L434.17 350.85L434.84 352.10L435.51 353.35L436.19 354.58L436.86 355.81L437.53 357.02L438.20 358.23L438.87 359.43L439.54 360.61L440.22 361.78L440.89 362.94L441.56 364.09L442.23 365.23L442.90 366.35L443.57 367.49L444.25 368.67L444.92 369.86L445.59 371.07L446.26 372.27L446.93 373.45L447.60 374.60L448.28 375.69L448.95 376.73L449.62 377.68L450.29 378.55L450.96 379.31L451.63 379.95L452.31 380.50L452.98 381.00L453.65 381.46L454.32 381.86L454.99 382.20L455.66 382.46L455.66 386.80Z" fill="#4db143" fill-opacity="0.6"/>
<path d="M322.00 276.44L322.67 277.97L323.34 279.59L324.02 281.30L324.69 283.09L325.36 284.96L326.03 286.91L326.70 288.94L327.37 291.06L328.05 293.28L328.72 295.61L329.39 298.06L330.06 300.62L330.73 303.40L331.40 306.38L332.08 309.52L332.75 312.74L333.42 316.00L334.09 319.30L334.76 322.73L335.43 326.23L336.11 329.73L336.78 333.17L337.45 336.53L338.12 339.91L338.79 343.25L339.46 346.49L340.14 349.57L340.81 352.49L341.48 355.35L342.15 358.12L342.82 360.77L343.49 363.24L344.17 365.48L344.84 367.53L345.51 369.55L346.18 371.52L346.85 373.41L347.52 375.18L348.20 376.80L348.87 378.24L349.54 379.47L350.21 380.45L350.88 381.25L351.55 382.02L352.23 382.73L352.90 383.34L353.57 383.84L354.24 384.17L354.91 384.32L355.58 384.36L356.26 384.40L356.93 384.43L357.60 384.46L358.27 384.49L358.94 384.52L359.61 384.54L360.29 384.56L360.96 384.57L361.63 384.59L362.30 384.60L362.97 384.61L363.64 384.62L364.32 384.62L364.99 384.63L365.66 384.63L366.33 384.59L367.00 384.39L367.67 384.04L368.35 383.57L369.02 383.00L369.69 382.34L370.36 381.64L371.03 380.91L371.70 380.17L372.38 379.38L373.05 378.42L373.72 377.31L374.39 376.09L375.06 374.81L375.73 373.49L376.41 372.17L377.08 370.89L377.75 369.59L378.42 368.25L379.09 366.87L379.76 365.47L380.44 364.06L381.11 362.64L381.78 361.22L382.45 359.79L383.12 358.35L383.79 356.90L384.47 355.43L385.14 353.96L385.81 352.49L386.48 351.01L387.15 349.54L387.82 348.07L388.50 346.63L389.17 345.22L389.84 343.81L390.51 342.39L391.18 340.95L391.86 339.46L392.53 337.91L393.20 336.26L393.87 334.47L394.54 332.60L395.21 330.69L395.89 328.80L396.56 327.00L397.23 325.32L397.90 323.71L398.57 322.14L399.24 320.61L399.92 319.11L400.59 317.58L401.26 315.99L401.93 314.43L402.60 312.97L403.27 311.68L403.95 310.63L404.62 309.65L405.29 308.67L405.96 307.78L406.63 307.03L407.30 306.48L407.98 306.22L408.65 306.26L409.32 306.53L409.99 306.99L410.66 307.59L411.33 308.29L412.01 309.04L412.68 309.81L413.35 310.67L414.02 311.77L414.69 313.01L415.36 314.31L416.04 315.58L416.71 316.79L417.38 318.00L418.05 319.23L418.72 320.46L419.39 321.71L420.07 322.96L420.74 324.23L421.41 325.50L422.08 326.78L422.75 328.07L423.42 329.37L424.10 330.69L424.77 332.03L425.44 333.40L426.11 334.77L426.78 336.15L427.45 337.54L428.13 338.93L428.80 340.31L429.47 341.69L430.14 343.05L430.81 344.40L431.48 345.73L432.16 347.04L432.83 348.32L433.50 349.59L434.17 350.85L434.84 352.10L435.51 353.35L436.19 354.58L436.86 355.81L437.53 357.02L438.20 358.23L438.87 359.43L439.54 360.61L440.22 361.78L440.89 362.94L441.56 364.09L442.23 365.23L442.90 366.35L443.57 367.49L444.25 368.67L444.92 369.86L445.59 371.07L446.26 372.27L446.93 373.45L447.60 374.60L448.28 375.69L448.95 376.73L449.62 377.68L450.29 378.55L450.96 379.31L451.63 379.95L452.31 380.50L452.98 381.00L453.65 381.46L454.32 381.86L454.99 382.20L455.66 382.46" fill="none" stroke="#15151c" stroke-width="0.9"/>
<path d="M322.00 386.80L322.00 278.30L322.67 279.74L323.34 281.28L324.02 282.91L324.69 284.62L325.36 286.41L326.03 288.27L326.70 290.23L327.37 292.27L328.05 294.42L328.72 296.67L329.39 299.05L330.06 301.55L330.73 304.25L331.40 307.17L332.08 310.24L332.75 313.41L333.42 316.63L334.09 319.90L334.76 323.33L335.43 326.83L336.11 330.35L336.78 333.79L337.45 337.15L338.12 340.53L338.79 343.87L339.46 347.11L340.14 350.19L340.81 353.11L341.48 355.98L342.15 358.76L342.82 361.41L343.49 363.88L344.17 366.10L344.84 368.13L345.51 370.11L346.18 372.04L346.85 373.88L347.52 375.61L348.20 377.19L348.87 378.60L349.54 379.80L350.21 380.77L350.88 381.56L351.55 382.31L352.23 383.01L352.90 383.62L353.57 384.11L354.24 384.45L354.91 384.63L355.58 384.71L356.26 384.78L356.93 384.85L357.60 384.91L358.27 384.96L358.94 385.01L359.61 385.06L360.29 385.10L360.96 385.13L361.63 385.16L362.30 385.19L362.97 385.21L363.64 385.23L364.32 385.24L364.99 385.25L365.66 385.25L366.33 385.23L367.00 385.14L367.67 384.98L368.35 384.76L369.02 384.50L369.69 384.20L370.36 383.87L371.03 383.52L371.70 383.17L372.38 382.80L373.05 382.36L373.72 381.86L374.39 381.30L375.06 380.67L375.73 379.99L376.41 379.26L377.08 378.47L377.75 377.64L378.42 376.70L379.09 375.58L379.76 374.30L380.44 372.90L381.11 371.40L381.78 369.85L382.45 368.28L383.12 366.72L383.79 365.21L384.47 363.73L385.14 362.22L385.81 360.69L386.48 359.15L387.15 357.58L387.82 355.99L388.50 354.39L389.17 352.77L389.84 351.13L390.51 349.46L391.18 347.77L391.86 346.06L392.53 344.32L393.20 342.57L393.87 340.80L394.54 339.03L395.21 337.25L395.89 335.46L396.56 333.68L397.23 331.88L397.90 330.07L398.57 328.24L399.24 326.38L399.92 324.49L400.59 322.57L401.26 320.62L401.93 318.66L402.60 316.66L403.27 314.63L403.95 312.56L404.62 310.44L405.29 308.13L405.96 305.70L406.63 303.25L407.30 300.91L407.98 298.81L408.65 297.06L409.32 295.54L409.99 294.15L410.66 292.91L411.33 291.88L412.01 291.05L412.68 290.28L413.35 289.68L414.02 289.46L414.69 289.60L415.36 289.93L416.04 290.40L416.71 290.96L417.38 291.80L418.05 293.11L418.72 294.70L419.39 296.36L420.07 297.92L420.74 299.49L421.41 301.10L422.08 302.77L422.75 304.49L423.42 306.27L424.10 308.13L424.77 310.05L425.44 312.08L426.11 314.32L426.78 316.73L427.45 319.24L428.13 321.75L428.80 324.18L429.47 326.46L430.14 328.54L430.81 330.54L431.48 332.50L432.16 334.40L432.83 336.25L433.50 338.07L434.17 339.84L434.84 341.58L435.51 343.29L436.19 344.97L436.86 346.63L437.53 348.27L438.20 349.89L438.87 351.48L439.54 353.05L440.22 354.60L440.89 356.12L441.56 357.61L442.23 359.09L442.90 360.54L443.57 361.97L444.25 363.38L444.92 364.77L445.59 366.14L446.26 367.51L446.93 368.90L447.60 370.29L448.28 371.66L448.95 372.99L449.62 374.25L450.29 375.43L450.96 376.50L451.63 377.45L452.31 378.29L452.98 379.08L453.65 379.80L454.32 380.46L454.99 381.04L455.66 381.53L455.66 386.80Z" fill="#2b6eb1" fill-opacity="0.6"/>
<path d="M322.00 278.30L322.67 279.74L323.34 281.28L324.02 282.91L324.69 284.62L325.36 286.41L326.03 288.27L326.70 290.23L327.37 292.27L328.05 294.42L328.72 296.67L329.39 299.05L330.06 301.55L330.73 304.25L331.40 307.17L332.08 310.24L332.75 313.41L333.42 316.63L334.09 319.90L334.76 323.33L335.43 326.83L336.11 330.35L336.78 333.79L337.45 337.15L338.12 340.53L338.79 343.87L339.46 347.11L340.14 350.19L340.81 353.11L341.48 355.98L342.15 358.76L342.82 361.41L343.49 363.88L344.17 366.10L344.84 368.13L345.51 370.11L346.18 372.04L346.85 373.88L347.52 375.61L348.20 377.19L348.87 378.60L349.54 379.80L350.21 380.77L350.88 381.56L351.55 382.31L352.23 383.01L352.90 383.62L353.57 384.11L354.24 384.45L354.91 384.63L355.58 384.71L356.26 384.78L356.93 384.85L357.60 384.91L358.27 384.96L358.94 385.01L359.61 385.06L360.29 385.10L360.96 385.13L361.63 385.16L362.30 385.19L362.97 385.21L363.64 385.23L364.32 385.24L364.99 385.25L365.66 385.25L366.33 385.23L367.00 385.14L367.67 384.98L368.35 384.76L369.02 384.50L369.69 384.20L370.36 383.87L371.03 383.52L371.70 383.17L372.38 382.80L373.05 382.36L373.72 381.86L374.39 381.30L375.06 380.67L375.73 379.99L376.41 379.26L377.08 378.47L377.75 377.64L378.42 376.70L379.09 375.58L379.76 374.30L380.44 372.90L381.11 371.40L381.78 369.85L382.45 368.28L383.12 366.72L383.79 365.21L384.47 363.73L385.14 362.22L385.81 360.69L386.48 359.15L387.15 357.58L387.82 355.99L388.50 354.39L389.17 352.77L389.84 351.13L390.51 349.46L391.18 347.77L391.86 346.06L392.53 344.32L393.20 342.57L393.87 340.80L394.54 339.03L395.21 337.25L395.89 335.46L396.56 333.68L397.23 331.88L397.90 330.07L398.57 328.24L399.24 326.38L399.92 324.49L400.59 322.57L401.26 320.62L401.93 318.66L402.60 316.66L403.27 314.63L403.95 312.56L404.62 310.44L405.29 308.13L405.96 305.70L406.63 303.25L407.30 300.91L407.98 298.81L408.65 297.06L409.32 295.54L409.99 294.15L410.66 292.91L411.33 291.88L412.01 291.05L412.68 290.28L413.35 289.68L414.02 289.46L414.69 289.60L415.36 289.93L416.04 290.40L416.71 290.96L417.38 291.80L418.05 293.11L418.72 294.70L419.39 296.36L420.07 297.92L420.74 299.49L421.41 301.10L422.08 302.77L422.75 304.49L423.42 306.27L424.10 308.13L424.77 310.05L425.44 312.08L426.11 314.32L426.78 316.73L427.45 319.24L428.13 321.75L428.80 324.18L429.47 326.46L430.14 328.54L430.81 330.54L431.48 332.50L432.16 334.40L432.83 336.25L433.50 338.07L434.17 339.84L434.84 341.58L435.51 343.29L436.19 344.97L436.86 346.63L437.53 348.27L438.20 349.89L438.87 351.48L439.54 353.05L440.22 354.60L440.89 356.12L441.56 357.61L442.23 359.09L442.90 360.54L443.57 361.97L444.25 363.38L444.92 364.77L445.59 366.14L446.26 367.51L446.93 368.90L447.60 370.29L448.28 371.66L448.95 372.99L449.62 374.25L450.29 375.43L450.96 376.50L451.63 377.45L452.31 378.29L452.98 379.08L453.65 379.80L454.32 380.46L454.99 381.04L455.66 381.53" fill="none" stroke="#15151c" stroke-width="0.9"/>
<path d="M322.00 386.80L322.00 286.98L322.67 288.68L323.34 290.38L324.02 292.10L324.69 293.83L325.36 295.57L326.03 297.32L326.70 299.08L327.37 300.86L328.05 302.64L328.72 304.40L329.39 306.14L330.06 307.87L330.73 309.61L331.40 311.37L332.08 313.19L332.75 315.07L333.42 317.03L334.09 319.10L334.76 321.32L335.43 323.80L336.11 326.46L336.78 329.19L337.45 331.90L338.12 334.47L338.79 336.87L339.46 339.20L340.14 341.49L340.81 343.72L341.48 345.90L342.15 348.04L342.82 350.14L343.49 352.22L344.17 354.30L344.84 356.37L345.51 358.40L346.18 360.36L346.85 362.25L347.52 364.04L348.20 365.70L348.87 367.28L349.54 368.88L350.21 370.48L350.88 372.05L351.55 373.57L352.23 375.02L352.90 376.37L353.57 377.60L354.24 378.68L354.91 379.60L355.58 380.32L356.26 380.85L356.93 381.32L357.60 381.73L358.27 382.10L358.94 382.42L359.61 382.69L360.29 382.92L360.96 383.09L361.63 383.25L362.30 383.39L362.97 383.52L363.64 383.62L364.32 383.68L364.99 383.70L365.66 383.66L366.33 383.55L367.00 383.40L367.67 383.21L368.35 383.00L369.02 382.76L369.69 382.53L370.36 382.28L371.03 382.01L371.70 381.71L372.38 381.38L373.05 381.02L373.72 380.64L374.39 380.22L375.06 379.78L375.73 379.31L376.41 378.81L377.08 378.29L377.75 377.74L378.42 377.17L379.09 376.56L379.76 375.94L380.44 375.29L381.11 374.61L381.78 373.92L382.45 373.19L383.12 372.45L383.79 371.68L384.47 370.89L385.14 370.03L385.81 368.98L386.48 367.77L387.15 366.42L387.82 364.98L388.50 363.48L389.17 361.94L389.84 360.41L390.51 358.90L391.18 357.46L391.86 356.12L392.53 354.88L393.20 353.70L393.87 352.53L394.54 351.37L395.21 350.18L395.89 348.94L396.56 347.67L397.23 346.42L397.90 345.21L398.57 344.08L399.24 343.02L399.92 341.99L400.59 341.03L401.26 340.16L401.93 339.36L402.60 338.55L403.27 337.78L403.95 337.07L404.62 336.45L405.29 335.94L405.96 335.57L406.63 335.25L407.30 334.94L407.98 334.66L408.65 334.40L409.32 334.18L409.99 334.01L410.66 333.88L411.33 333.80L412.01 333.80L412.68 333.89L413.35 334.08L414.02 334.35L414.69 334.67L415.36 335.02L416.04 335.38L416.71 335.72L417.38 336.08L418.05 336.47L418.72 336.89L419.39 337.33L420.07 337.80L420.74 338.30L421.41 338.82L422.08 339.36L422.75 339.93L423.42 340.52L424.10 341.13L424.77 341.76L425.44 342.42L426.11 343.09L426.78 343.78L427.45 344.50L428.13 345.23L428.80 345.97L429.47 346.74L430.14 347.52L430.81 348.34L431.48 349.25L432.16 350.26L432.83 351.34L433.50 352.49L434.17 353.68L434.84 354.92L435.51 356.19L436.19 357.48L436.86 358.78L437.53 360.06L438.20 361.34L438.87 362.58L439.54 363.78L440.22 364.93L440.89 366.01L441.56 367.04L442.23 368.09L442.90 369.14L443.57 370.20L444.25 371.24L444.92 372.26L445.59 373.26L446.26 374.21L446.93 375.12L447.60 375.97L448.28 376.75L448.95 377.45L449.62 378.07L450.29 378.62L450.96 379.16L451.63 379.66L452.31 380.13L452.98 380.57L453.65 380.96L454.32 381.31L454.99 381.60L455.66 381.84L455.66 386.80Z" fill="#cb1146" fill-opacity="0.6"/>
<path d="M322.00 286.98L322.67 288.68L323.34 290.38L324.02 292.10L324.69 293.83L325.36 295.57L326.03 297.32L326.70 299.08L327.37 300.86L328.05 302.64L328.72 304.40L329.39 306.14L330.06 307.87L330.73 309.61L331.40 311.37L332.08 313.19L332.75 315.07L333.42 317.03L334.09 319.10L334.76 321.32L335.43 323.80L336.11 326.46L336.78 329.19L337.45 331.90L338.12 334.47L338.79 336.87L339.46 339.20L340.14 341.49L340.81 343.72L341.48 345.90L342.15 348.04L342.82 350.14L343.49 352.22L344.17 354.30L344.84 356.37L345.51 358.40L346.18 360.36L346.85 362.25L347.52 364.04L348.20 365.70L348.87 367.28L349.54 368.88L350.21 370.48L350.88 372.05L351.55 373.57L352.23 375.02L352.90 376.37L353.57 377.60L354.24 378.68L354.91 379.60L355.58 380.32L356.26 380.85L356.93 381.32L357.60 381.73L358.27 382.10L358.94 382.42L359.61 382.69L360.29 382.92L360.96 383.09L361.63 383.25L362.30 383.39L362.97 383.52L363.64 383.62L364.32 383.68L364.99 383.70L365.66 383.66L366.33 383.55L367.00 383.40L367.67 383.21L368.35 383.00L369.02 382.76L369.69 382.53L370.36 382.28L371.03 382.01L371.70 381.71L372.38 381.38L373.05 381.02L373.72 380.64L374.39 380.22L375.06 379.78L375.73 379.31L376.41 378.81L377.08 378.29L377.75 377.74L378.42 377.17L379.09 376.56L379.76 375.94L380.44 375.29L381.11 374.61L381.78 373.92L382.45 373.19L383.12 372.45L383.79 371.68L384.47 370.89L385.14 370.03L385.81 368.98L386.48 367.77L387.15 366.42L387.82 364.98L388.50 363.48L389.17 361.94L389.84 360.41L390.51 358.90L391.18 357.46L391.86 356.12L392.53 354.88L393.20 353.70L393.87 352.53L394.54 351.37L395.21 350.18L395.89 348.94L396.56 347.67L397.23 346.42L397.90 345.21L398.57 344.08L399.24 343.02L399.92 341.99L400.59 341.03L401.26 340.16L401.93 339.36L402.60 338.55L403.27 337.78L403.95 337.07L404.62 336.45L405.29 335.94L405.96 335.57L406.63 335.25L407.30 334.94L407.98 334.66L408.65 334.40L409.32 334.18L409.99 334.01L410.66 333.88L411.33 333.80L412.01 333.80L412.68 333.89L413.35 334.08L414.02 334.35L414.69 334.67L415.36 335.02L416.04 335.38L416.71 335.72L417.38 336.08L418.05 336.47L418.72 336.89L419.39 337.33L420.07 337.80L420.74 338.30L421.41 338.82L422.08 339.36L422.75 339.93L423.42 340.52L424.10 341.13L424.77 341.76L425.44 342.42L426.11 343.09L426.78 343.78L427.45 344.50L428.13 345.23L428.80 345.97L429.47 346.74L430.14 347.52L430.81 348.34L431.48 349.25L432.16 350.26L432.83 351.34L433.50 352.49L434.17 353.68L434.84 354.92L435.51 356.19L436.19 357.48L436.86 358.78L437.53 360.06L438.20 361.34L438.87 362.58L439.54 363.78L440.22 364.93L440.89 366.01L441.56 367.04L442.23 368.09L442.90 369.14L443.57 370.20L444.25 371.24L444.92 372.26L445.59 373.26L446.26 374.21L446.93 375.12L447.60 375.97L448.28 376.75L448.95 377.45L449.62 378.07L450.29 378.62L450.96 379.16L451.63 379.66L452.31 380.13L452.98 380.57L453.65 380.96L454.32 381.31L454.99 381.60L455.66 381.84" fill="none" stroke="#15151c" stroke-width="0.9"/>
<path d="M322.00 386.80L322.00 298.14L322.67 300.02L323.34 301.90L324.02 303.78L324.69 305.65L325.36 307.53L326.03 309.41L326.70 311.29L327.37 313.16L328.05 315.03L328.72 316.90L329.39 318.77L330.06 320.66L330.73 322.55L331.40 324.46L332.08 326.35L332.75 328.25L333.42 330.16L334.09 332.11L334.76 334.11L335.43 336.17L336.11 338.34L336.78 340.60L337.45 342.89L338.12 345.18L338.79 347.44L339.46 349.62L340.14 351.70L340.81 353.74L341.48 355.76L342.15 357.74L342.82 359.68L343.49 361.58L344.17 363.43L344.84 365.23L345.51 367.00L346.18 368.84L346.85 370.73L347.52 372.61L348.20 374.43L348.87 376.14L349.54 377.69L350.21 379.01L350.88 380.07L351.55 380.83L352.23 381.50L352.90 382.12L353.57 382.62L354.24 382.95L354.91 383.08L355.58 383.07L356.26 383.04L356.93 383.00L357.60 382.93L358.27 382.86L358.94 382.76L359.61 382.53L360.29 382.10L360.96 381.51L361.63 380.83L362.30 380.10L362.97 379.37L363.64 378.54L364.32 377.60L364.99 376.57L365.66 375.46L366.33 374.28L367.00 373.05L367.67 371.77L368.35 370.48L369.02 369.17L369.69 367.87L370.36 366.54L371.03 365.15L371.70 363.69L372.38 362.20L373.05 360.67L373.72 359.11L374.39 357.54L375.06 355.96L375.73 354.35L376.41 352.70L377.08 351.03L377.75 349.33L378.42 347.61L379.09 345.89L379.76 344.15L380.44 342.37L381.11 340.56L381.78 338.73L382.45 336.89L383.12 335.05L383.79 333.23L384.47 331.43L385.14 329.68L385.81 327.97L386.48 326.26L387.15 324.49L387.82 322.70L388.50 320.93L389.17 319.23L389.84 317.63L390.51 316.19L391.18 314.93L391.86 313.91L392.53 313.00L393.20 312.10L393.87 311.23L394.54 310.40L395.21 309.63L395.89 308.94L396.56 308.34L397.23 307.86L397.90 307.52L398.57 307.32L399.24 307.29L399.92 307.39L400.59 307.59L401.26 307.87L401.93 308.22L402.60 308.63L403.27 309.08L403.95 309.59L404.62 310.41L405.29 311.52L405.96 312.85L406.63 314.34L407.30 315.94L407.98 317.57L408.65 319.19L409.32 320.72L409.99 322.13L410.66 323.53L411.33 324.96L412.01 326.40L412.68 327.85L413.35 329.30L414.02 330.72L414.69 332.10L415.36 333.43L416.04 334.70L416.71 335.90L417.38 337.04L418.05 338.14L418.72 339.20L419.39 340.22L420.07 341.23L420.74 342.21L421.41 343.18L422.08 344.13L422.75 345.09L423.42 346.04L424.10 347.00L424.77 347.91L425.44 348.80L426.11 349.68L426.78 350.57L427.45 351.47L428.13 352.42L428.80 353.42L429.47 354.50L430.14 355.65L430.81 356.86L431.48 358.12L432.16 359.41L432.83 360.72L433.50 362.04L434.17 363.34L434.84 364.62L435.51 365.87L436.19 367.06L436.86 368.19L437.53 369.23L438.20 370.19L438.87 371.10L439.54 372.00L440.22 372.88L440.89 373.75L441.56 374.59L442.23 375.41L442.90 376.19L443.57 376.95L444.25 377.66L444.92 378.34L445.59 378.97L446.26 379.55L446.93 380.08L447.60 380.55L448.28 380.98L448.95 381.40L449.62 381.81L450.29 382.19L450.96 382.56L451.63 382.91L452.31 383.23L452.98 383.52L453.65 383.77L454.32 384.00L454.99 384.18L455.66 384.32L455.66 386.80Z" fill="#f39611" fill-opacity="0.6"/>
<path d="M322.00 298.14L322.67 300.02L323.34 301.90L324.02 303.78L324.69 305.65L325.36 307.53L326.03 309.41L326.70 311.29L327.37 313.16L328.05 315.03L328.72 316.90L329.39 318.77L330.06 320.66L330.73 322.55L331.40 324.46L332.08 326.35L332.75 328.25L333.42 330.16L334.09 332.11L334.76 334.11L335.43 336.17L336.11 338.34L336.78 340.60L337.45 342.89L338.12 345.18L338.79 347.44L339.46 349.62L340.14 351.70L340.81 353.74L341.48 355.76L342.15 357.74L342.82 359.68L343.49 361.58L344.17 363.43L344.84 365.23L345.51 367.00L346.18 368.84L346.85 370.73L347.52 372.61L348.20 374.43L348.87 376.14L349.54 377.69L350.21 379.01L350.88 380.07L351.55 380.83L352.23 381.50L352.90 382.12L353.57 382.62L354.24 382.95L354.91 383.08L355.58 383.07L356.26 383.04L356.93 383.00L357.60 382.93L358.27 382.86L358.94 382.76L359.61 382.53L360.29 382.10L360.96 381.51L361.63 380.83L362.30 380.10L362.97 379.37L363.64 378.54L364.32 377.60L364.99 376.57L365.66 375.46L366.33 374.28L367.00 373.05L367.67 371.77L368.35 370.48L369.02 369.17L369.69 367.87L370.36 366.54L371.03 365.15L371.70 363.69L372.38 362.20L373.05 360.67L373.72 359.11L374.39 357.54L375.06 355.96L375.73 354.35L376.41 352.70L377.08 351.03L377.75 349.33L378.42 347.61L379.09 345.89L379.76 344.15L380.44 342.37L381.11 340.56L381.78 338.73L382.45 336.89L383.12 335.05L383.79 333.23L384.47 331.43L385.14 329.68L385.81 327.97L386.48 326.26L387.15 324.49L387.82 322.70L388.50 320.93L389.17 319.23L389.84 317.63L390.51 316.19L391.18 314.93L391.86 313.91L392.53 313.00L393.20 312.10L393.87 311.23L394.54 310.40L395.21 309.63L395.89 308.94L396.56 308.34L397.23 307.86L397.90 307.52L398.57 307.32L399.24 307.29L399.92 307.39L400.59 307.59L401.26 307.87L401.93 308.22L402.60 308.63L403.27 309.08L403.95 309.59L404.62 310.41L405.29 311.52L405.96 312.85L406.63 314.34L407.30 315.94L407.98 317.57L408.65 319.19L409.32 320.72L409.99 322.13L410.66 323.53L411.33 324.96L412.01 326.40L412.68 327.85L413.35 329.30L414.02 330.72L414.69 332.10L415.36 333.43L416.04 334.70L416.71 335.90L417.38 337.04L418.05 338.14L418.72 339.20L419.39 340.22L420.07 341.23L420.74 342.21L421.41 343.18L422.08 344.13L422.75 345.09L423.42 346.04L424.10 347.00L424.77 347.91L425.44 348.80L426.11 349.68L426.78 350.57L427.45 351.47L428.13 352.42L428.80 353.42L429.47 354.50L430.14 355.65L430.81 356.86L431.48 358.12L432.16 359.41L432.83 360.72L433.50 362.04L434.17 363.34L434.84 364.62L435.51 365.87L436.19 367.06L436.86 368.19L437.53 369.23L438.20 370.19L438.87 371.10L439.54 372.00L440.22 372.88L440.89 373.75L441.56 374.59L442.23 375.41L442.90 376.19L443.57 376.95L444.25 377.66L444.92 378.34L445.59 378.97L446.26 379.55L446.93 380.08L447.60 380.55L448.28 380.98L448.95 381.40L449.62 381.81L450.29 382.19L450.96 382.56L451.63 382.91L452.31 383.23L452.98 383.52L453.65 383.77L454.32 384.00L454.99 384.18L455.66 384.32" fill="none" stroke="#15151c" stroke-width="0.9"/>
<line x1="315.4" y1="270.7" x2="315.4" y2="392.8" stroke="#111" stroke-width="1.0"/>
<line x1="314.9" y1="392.3" x2="461.5" y2="392.3" stroke="#111" stroke-width="1.0"/>
<line x1="312.6" y1="386.8" x2="315.3" y2="386.8" stroke="#111" stroke-width="0.75"/>
<text x="310" y="389.0" font-size="6.4" text-anchor="end" fill="#333" stroke="#333" stroke-width="0.2">0.0</text>
<line x1="312.6" y1="355.8" x2="315.3" y2="355.8" stroke="#111" stroke-width="0.75"/>
<text x="310" y="358.0" font-size="6.4" text-anchor="end" fill="#333" stroke="#333" stroke-width="0.2">0.1</text>
<line x1="312.6" y1="324.8" x2="315.3" y2="324.8" stroke="#111" stroke-width="0.75"/>
<text x="310" y="327.0" font-size="6.4" text-anchor="end" fill="#333" stroke="#333" stroke-width="0.2">0.2</text>
<line x1="312.6" y1="293.8" x2="315.3" y2="293.8" stroke="#111" stroke-width="0.75"/>
<text x="310" y="296.0" font-size="6.4" text-anchor="end" fill="#333" stroke="#333" stroke-width="0.2">0.3</text>
<line x1="322.0" y1="392.3" x2="322.0" y2="395" stroke="#111" stroke-width="0.75"/>
<text x="322.0" y="404.0" font-size="6.3" text-anchor="middle" fill="#333" stroke="#333" stroke-width="0.2">0</text>
<line x1="361.9" y1="392.3" x2="361.9" y2="395" stroke="#111" stroke-width="0.75"/>
<text x="361.9" y="404.0" font-size="6.3" text-anchor="middle" fill="#333" stroke="#333" stroke-width="0.2">2</text>
<line x1="401.8" y1="392.3" x2="401.8" y2="395" stroke="#111" stroke-width="0.75"/>
<text x="401.8" y="404.0" font-size="6.3" text-anchor="middle" fill="#333" stroke="#333" stroke-width="0.2">4</text>
<line x1="441.7" y1="392.3" x2="441.7" y2="395" stroke="#111" stroke-width="0.75"/>
<text x="441.7" y="404.0" font-size="6.3" text-anchor="middle" fill="#333" stroke="#333" stroke-width="0.2">6</text>
<text x="296.0" y="331.5" font-size="7.6" text-anchor="middle" fill="#111" stroke="#111" stroke-width="0.35" textLength="18.2" lengthAdjust="spacingAndGlyphs" transform="rotate(-90 296.0 331.5)">Density</text>
<text x="335.8" y="415.8" font-size="8.8" text-anchor="start" fill="#111" font-style="italic" stroke="#111" stroke-width="0.25" textLength="34.6" lengthAdjust="spacingAndGlyphs">LGALS9</text>
<text x="372.7" y="415.8" font-size="8.8" text-anchor="start" fill="#111" stroke="#111" stroke-width="0.35" textLength="71.5" lengthAdjust="spacingAndGlyphs">expression on naive B-C1</text>
<rect x="465.4" y="322.5" width="10.4" height="10.4" fill="#94d08e"/>
<text x="479" y="329.8" font-size="5.8" text-anchor="start" fill="#222" stroke="#222" stroke-width="0.2">Diagnostic</text>
<rect x="465.4" y="335.5" width="10.4" height="10.4" fill="#80a8d0"/>
<text x="479" y="342.8" font-size="5.8" text-anchor="start" fill="#222" stroke="#222" stroke-width="0.2">Early Relapse</text>
<rect x="465.4" y="348.3" width="10.4" height="10.4" fill="#e07090"/>
<text x="479" y="355.6" font-size="5.8" text-anchor="start" fill="#222" stroke="#222" stroke-width="0.2">Late Relapse</text>
<rect x="465.4" y="361.40000000000003" width="10.4" height="10.4" fill="#f8c070"/>
<text x="479" y="368.70000000000005" font-size="5.8" text-anchor="start" fill="#222" stroke="#222" stroke-width="0.2">RLN</text>
</svg><div class="bd"></div></div></body></html>
